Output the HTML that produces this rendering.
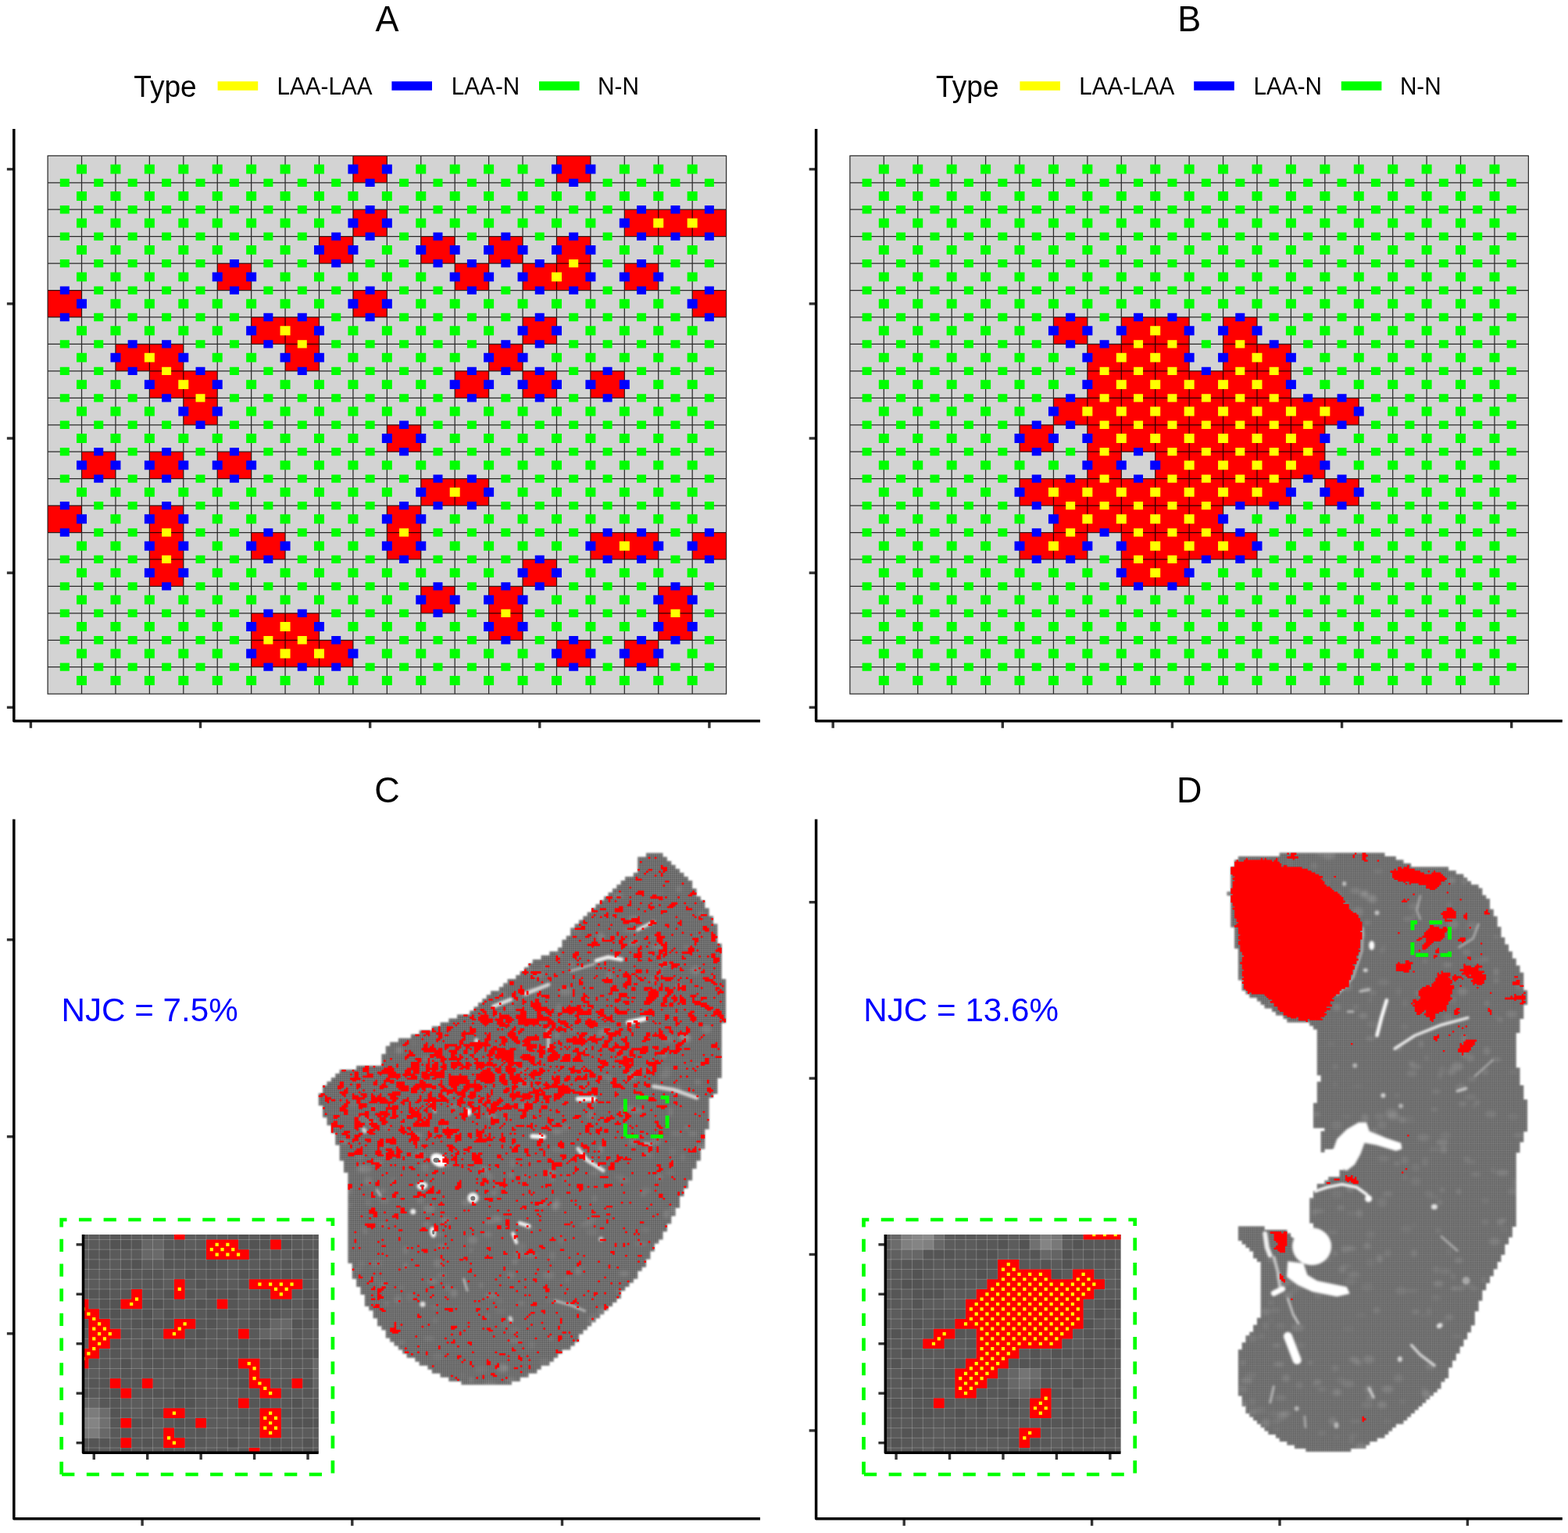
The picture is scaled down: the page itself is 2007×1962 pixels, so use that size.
<!DOCTYPE html>
<html lang="en"><head><meta charset="utf-8"><title>Figure: join counts A-D</title>
<style>html,body{margin:0;padding:0;background:#fff}svg{display:block}text{font-family:'Liberation Sans', sans-serif;fill:#000}</style>
</head><body>
<svg width="2007" height="1962" viewBox="0 0 2007 1962" role="img" aria-label="Join count illustration, panels A to D">
<rect width="2007" height="1962" fill="#fff"/>
<defs>
<filter id="b1" x="-20%" y="-20%" width="140%" height="140%"><feGaussianBlur stdDeviation="1.5"/></filter>
<filter id="b2" x="-20%" y="-20%" width="140%" height="140%"><feGaussianBlur stdDeviation="2.2"/></filter>
<filter id="b3" x="-3%" y="-3%" width="106%" height="106%"><feGaussianBlur stdDeviation="1.1"/></filter>
<filter id="b0" x="-2%" y="-2%" width="104%" height="104%"><feGaussianBlur stdDeviation="0.5"/></filter>
<clipPath id="clipC"><path d="M826.98 1091.8h21.5v3.12h-21.5zM826.98 1094.32h21.5v3.12h-21.5zM816.23 1096.84h37.62v3.12h-37.62zM816.23 1099.36h37.62v3.12h-37.62zM816.23 1101.88h42.99v3.12h-42.99zM816.23 1104.4h42.99v3.12h-42.99zM816.23 1106.92h48.37v3.12h-48.37zM816.23 1109.44h48.37v3.12h-48.37zM816.23 1111.96h53.74v3.12h-53.74zM816.23 1114.48h53.74v3.12h-53.74zM810.86 1117h64.49v3.12h-64.49zM810.86 1119.52h64.49v3.12h-64.49zM800.11 1122.04h80.61v3.12h-80.61zM800.11 1124.56h80.61v3.12h-80.61zM794.74 1127.09h91.36v3.12h-91.36zM794.74 1129.61h91.36v3.12h-91.36zM789.36 1132.13h96.73v3.12h-96.73zM789.36 1134.65h96.73v3.12h-96.73zM783.99 1137.17h107.48v3.12h-107.48zM783.99 1139.69h107.48v3.12h-107.48zM778.61 1142.21h112.85v3.12h-112.85zM778.61 1144.73h112.85v3.12h-112.85zM773.24 1147.25h123.6v3.12h-123.6zM773.24 1149.77h123.6v3.12h-123.6zM767.87 1152.29h134.35v3.12h-134.35zM767.87 1154.81h134.35v3.12h-134.35zM762.49 1157.33h139.72v3.12h-139.72zM762.49 1159.85h139.72v3.12h-139.72zM757.12 1162.37h150.47v3.12h-150.47zM757.12 1164.89h150.47v3.12h-150.47zM751.74 1167.41h155.85v3.12h-155.85zM751.74 1169.93h155.85v3.12h-155.85zM746.37 1172.45h166.59v3.12h-166.59zM746.37 1174.97h166.59v3.12h-166.59zM741 1177.5h171.97v3.12h-171.97zM741 1180.02h171.97v3.12h-171.97zM735.62 1182.54h182.72v3.12h-182.72zM735.62 1185.06h182.72v3.12h-182.72zM730.25 1187.58h188.09v3.12h-188.09zM730.25 1190.1h188.09v3.12h-188.09zM730.25 1192.62h188.09v3.12h-188.09zM730.25 1195.14h188.09v3.12h-188.09zM724.87 1197.66h193.46v3.12h-193.46zM724.87 1200.18h193.46v3.12h-193.46zM719.5 1202.7h198.84v3.12h-198.84zM719.5 1205.22h198.84v3.12h-198.84zM719.5 1207.74h204.21v3.12h-204.21zM719.5 1210.26h204.21v3.12h-204.21zM714.13 1212.78h209.59v3.12h-209.59zM714.13 1215.3h209.59v3.12h-209.59zM703.38 1217.82h220.33v3.12h-220.33zM703.38 1220.34h220.33v3.12h-220.33zM692.63 1222.86h231.08v3.12h-231.08zM692.63 1225.38h231.08v3.12h-231.08zM681.88 1227.9h241.83v3.12h-241.83zM681.88 1230.43h241.83v3.12h-241.83zM676.51 1232.95h247.2v3.12h-247.2zM676.51 1235.47h247.2v3.12h-247.2zM671.13 1237.99h252.58v3.12h-252.58zM671.13 1240.51h252.58v3.12h-252.58zM665.76 1243.03h257.95v3.12h-257.95zM665.76 1245.55h257.95v3.12h-257.95zM660.39 1248.07h263.33v3.12h-263.33zM660.39 1250.59h263.33v3.12h-263.33zM649.64 1253.11h279.45v3.12h-279.45zM649.64 1255.63h279.45v3.12h-279.45zM644.26 1258.15h284.82v3.12h-284.82zM644.26 1260.67h284.82v3.12h-284.82zM638.89 1263.19h290.2v3.12h-290.2zM638.89 1265.71h290.2v3.12h-290.2zM628.14 1268.23h300.94v3.12h-300.94zM628.14 1270.75h300.94v3.12h-300.94zM622.77 1273.27h306.32v3.12h-306.32zM622.77 1275.79h306.32v3.12h-306.32zM617.39 1278.32h311.69v3.12h-311.69zM617.39 1280.84h311.69v3.12h-311.69zM612.02 1283.36h317.07v3.12h-317.07zM612.02 1285.88h317.07v3.12h-317.07zM606.65 1288.4h322.44v3.12h-322.44zM606.65 1290.92h322.44v3.12h-322.44zM601.27 1293.44h327.81v3.12h-327.81zM601.27 1295.96h327.81v3.12h-327.81zM585.15 1298.48h343.94v3.12h-343.94zM585.15 1301h343.94v3.12h-343.94zM574.4 1303.52h354.68v3.12h-354.68zM574.4 1306.04h354.68v3.12h-354.68zM563.65 1308.56h360.06v3.12h-360.06zM563.65 1311.08h360.06v3.12h-360.06zM552.91 1313.6h370.81v3.12h-370.81zM552.91 1316.12h370.81v3.12h-370.81zM536.78 1318.64h386.93v3.12h-386.93zM536.78 1321.16h386.93v3.12h-386.93zM526.04 1323.68h397.68v3.12h-397.68zM526.04 1326.2h397.68v3.12h-397.68zM509.91 1328.73h413.8v3.12h-413.8zM509.91 1331.25h413.8v3.12h-413.8zM499.17 1333.77h424.55v3.12h-424.55zM499.17 1336.29h424.55v3.12h-424.55zM493.79 1338.81h429.92v3.12h-429.92zM493.79 1341.33h429.92v3.12h-429.92zM493.79 1343.85h429.92v3.12h-429.92zM493.79 1346.37h429.92v3.12h-429.92zM488.42 1348.89h435.29v3.12h-435.29zM488.42 1351.41h435.29v3.12h-435.29zM488.42 1353.93h435.29v3.12h-435.29zM488.42 1356.45h435.29v3.12h-435.29zM488.42 1358.97h435.29v3.12h-435.29zM488.42 1361.49h435.29v3.12h-435.29zM456.17 1364.01h467.54v3.12h-467.54zM456.17 1366.53h467.54v3.12h-467.54zM434.68 1369.05h489.03v3.12h-489.03zM434.68 1371.57h489.03v3.12h-489.03zM429.3 1374.09h494.41v3.12h-494.41zM429.3 1376.61h494.41v3.12h-494.41zM423.93 1379.13h494.41v3.12h-494.41zM423.93 1381.66h494.41v3.12h-494.41zM418.56 1384.18h499.78v3.12h-499.78zM418.56 1386.7h499.78v3.12h-499.78zM413.18 1389.22h505.16v3.12h-505.16zM413.18 1391.74h505.16v3.12h-505.16zM413.18 1394.26h505.16v3.12h-505.16zM413.18 1396.78h505.16v3.12h-505.16zM407.81 1399.3h505.16v3.12h-505.16zM407.81 1401.82h505.16v3.12h-505.16zM407.81 1404.34h499.78v3.12h-499.78zM407.81 1406.86h499.78v3.12h-499.78zM407.81 1409.38h499.78v3.12h-499.78zM407.81 1411.9h499.78v3.12h-499.78zM413.18 1414.42h494.41v3.12h-494.41zM413.18 1416.94h494.41v3.12h-494.41zM413.18 1419.46h494.41v3.12h-494.41zM413.18 1421.98h494.41v3.12h-494.41zM413.18 1424.5h494.41v3.12h-494.41zM413.18 1427.02h494.41v3.12h-494.41zM418.56 1429.55h489.03v3.12h-489.03zM418.56 1432.07h489.03v3.12h-489.03zM418.56 1434.59h489.03v3.12h-489.03zM418.56 1437.11h489.03v3.12h-489.03zM423.93 1439.63h483.66v3.12h-483.66zM423.93 1442.15h483.66v3.12h-483.66zM423.93 1444.67h478.29v3.12h-478.29zM423.93 1447.19h478.29v3.12h-478.29zM429.3 1449.71h472.91v3.12h-472.91zM429.3 1452.23h472.91v3.12h-472.91zM429.3 1454.75h472.91v3.12h-472.91zM429.3 1457.27h472.91v3.12h-472.91zM429.3 1459.79h472.91v3.12h-472.91zM429.3 1462.31h472.91v3.12h-472.91zM434.68 1464.83h467.54v3.12h-467.54zM434.68 1467.35h467.54v3.12h-467.54zM434.68 1469.87h462.16v3.12h-462.16zM434.68 1472.39h462.16v3.12h-462.16zM434.68 1474.91h462.16v3.12h-462.16zM434.68 1477.43h462.16v3.12h-462.16zM434.68 1479.95h462.16v3.12h-462.16zM434.68 1482.48h462.16v3.12h-462.16zM440.05 1485h451.42v3.12h-451.42zM440.05 1487.52h451.42v3.12h-451.42zM440.05 1490.04h451.42v3.12h-451.42zM440.05 1492.56h451.42v3.12h-451.42zM440.05 1495.08h446.04v3.12h-446.04zM440.05 1497.6h446.04v3.12h-446.04zM445.43 1500.12h440.67v3.12h-440.67zM445.43 1502.64h440.67v3.12h-440.67zM445.43 1505.16h440.67v3.12h-440.67zM445.43 1507.68h440.67v3.12h-440.67zM445.43 1510.2h435.29v3.12h-435.29zM445.43 1512.72h435.29v3.12h-435.29zM445.43 1515.24h435.29v3.12h-435.29zM445.43 1517.76h435.29v3.12h-435.29zM445.43 1520.28h429.92v3.12h-429.92zM445.43 1522.8h429.92v3.12h-429.92zM445.43 1525.32h429.92v3.12h-429.92zM445.43 1527.84h429.92v3.12h-429.92zM445.43 1530.37h424.55v3.12h-424.55zM445.43 1532.89h424.55v3.12h-424.55zM445.43 1535.41h424.55v3.12h-424.55zM445.43 1537.93h424.55v3.12h-424.55zM445.43 1540.45h424.55v3.12h-424.55zM445.43 1542.97h424.55v3.12h-424.55zM445.43 1545.49h419.17v3.12h-419.17zM445.43 1548.01h419.17v3.12h-419.17zM445.43 1550.53h419.17v3.12h-419.17zM445.43 1553.05h419.17v3.12h-419.17zM445.43 1555.57h413.8v3.12h-413.8zM445.43 1558.09h413.8v3.12h-413.8zM445.43 1560.61h413.8v3.12h-413.8zM445.43 1563.13h413.8v3.12h-413.8zM445.43 1565.65h408.42v3.12h-408.42zM445.43 1568.17h408.42v3.12h-408.42zM445.43 1570.69h408.42v3.12h-408.42zM445.43 1573.21h408.42v3.12h-408.42zM445.43 1575.73h403.05v3.12h-403.05zM445.43 1578.25h403.05v3.12h-403.05zM445.43 1580.78h403.05v3.12h-403.05zM445.43 1583.3h403.05v3.12h-403.05zM445.43 1585.82h397.68v3.12h-397.68zM445.43 1588.34h397.68v3.12h-397.68zM445.43 1590.86h392.3v3.12h-392.3zM445.43 1593.38h392.3v3.12h-392.3zM445.43 1595.9h392.3v3.12h-392.3zM445.43 1598.42h392.3v3.12h-392.3zM445.43 1600.94h386.93v3.12h-386.93zM445.43 1603.46h386.93v3.12h-386.93zM445.43 1605.98h386.93v3.12h-386.93zM445.43 1608.5h386.93v3.12h-386.93zM445.43 1611.02h381.55v3.12h-381.55zM445.43 1613.54h381.55v3.12h-381.55zM450.8 1616.06h376.18v3.12h-376.18zM450.8 1618.58h376.18v3.12h-376.18zM450.8 1621.1h370.81v3.12h-370.81zM450.8 1623.62h370.81v3.12h-370.81zM450.8 1626.14h365.43v3.12h-365.43zM450.8 1628.66h365.43v3.12h-365.43zM450.8 1631.18h365.43v3.12h-365.43zM450.8 1633.71h365.43v3.12h-365.43zM456.17 1636.23h354.68v3.12h-354.68zM456.17 1638.75h354.68v3.12h-354.68zM456.17 1641.27h349.31v3.12h-349.31zM456.17 1643.79h349.31v3.12h-349.31zM461.55 1646.31h338.56v3.12h-338.56zM461.55 1648.83h338.56v3.12h-338.56zM461.55 1651.35h333.19v3.12h-333.19zM461.55 1653.87h333.19v3.12h-333.19zM466.92 1656.39h327.81v3.12h-327.81zM466.92 1658.91h327.81v3.12h-327.81zM466.92 1661.43h322.44v3.12h-322.44zM466.92 1663.95h322.44v3.12h-322.44zM466.92 1666.47h317.07v3.12h-317.07zM466.92 1668.99h317.07v3.12h-317.07zM472.3 1671.51h306.32v3.12h-306.32zM472.3 1674.03h306.32v3.12h-306.32zM477.67 1676.55h295.57v3.12h-295.57zM477.67 1679.07h295.57v3.12h-295.57zM477.67 1681.6h290.2v3.12h-290.2zM477.67 1684.12h290.2v3.12h-290.2zM483.04 1686.64h279.45v3.12h-279.45zM483.04 1689.16h279.45v3.12h-279.45zM483.04 1691.68h274.07v3.12h-274.07zM483.04 1694.2h274.07v3.12h-274.07zM488.42 1696.72h263.33v3.12h-263.33zM488.42 1699.24h263.33v3.12h-263.33zM493.79 1701.76h252.58v3.12h-252.58zM493.79 1704.28h252.58v3.12h-252.58zM493.79 1706.8h247.2v3.12h-247.2zM493.79 1709.32h247.2v3.12h-247.2zM499.17 1711.84h241.83v3.12h-241.83zM499.17 1714.36h241.83v3.12h-241.83zM504.54 1716.88h231.08v3.12h-231.08zM504.54 1719.4h231.08v3.12h-231.08zM509.91 1721.92h220.33v3.12h-220.33zM509.91 1724.44h220.33v3.12h-220.33zM515.29 1726.96h204.21v3.12h-204.21zM515.29 1729.48h204.21v3.12h-204.21zM520.66 1732.01h193.46v3.12h-193.46zM520.66 1734.53h193.46v3.12h-193.46zM531.41 1737.05h177.34v3.12h-177.34zM531.41 1739.57h177.34v3.12h-177.34zM536.78 1742.09h166.59v3.12h-166.59zM536.78 1744.61h166.59v3.12h-166.59zM547.53 1747.13h145.1v3.12h-145.1zM547.53 1749.65h145.1v3.12h-145.1zM552.91 1752.17h134.35v3.12h-134.35zM552.91 1754.69h134.35v3.12h-134.35zM563.65 1757.21h112.85v3.12h-112.85zM563.65 1759.73h112.85v3.12h-112.85zM574.4 1762.25h91.36v3.12h-91.36zM574.4 1764.77h91.36v3.12h-91.36zM590.52 1767.29h64.49v3.12h-64.49zM590.52 1769.81h64.49v2.52h-64.49z"/></clipPath>
<clipPath id="clipD"><path d="M1637.8 1091.59h134.57v2.85h-134.57zM1637.8 1093.84h134.57v2.85h-134.57zM1584.93 1096.1h201.85v2.85h-201.85zM1584.93 1098.35h201.85v2.85h-201.85zM1580.13 1100.6h216.27v2.85h-216.27zM1580.13 1102.86h216.27v2.85h-216.27zM1580.13 1105.11h225.88v2.85h-225.88zM1580.13 1107.37h225.88v2.85h-225.88zM1575.32 1109.62h278.75v2.85h-278.75zM1575.32 1111.87h278.75v2.85h-278.75zM1575.32 1114.13h288.36v2.85h-288.36zM1575.32 1116.38h288.36v2.85h-288.36zM1575.32 1118.64h297.97v2.85h-297.97zM1575.32 1120.89h297.97v2.85h-297.97zM1575.32 1123.14h302.78v2.85h-302.78zM1575.32 1125.4h302.78v2.85h-302.78zM1575.32 1127.65h307.58v2.85h-307.58zM1575.32 1129.91h307.58v2.85h-307.58zM1575.32 1132.16h317.2v2.85h-317.2zM1575.32 1134.41h317.2v2.85h-317.2zM1575.32 1136.67h322v2.85h-322zM1575.32 1138.92h322v2.85h-322zM1570.52 1141.18h326.81v2.85h-326.81zM1570.52 1143.43h326.81v2.85h-326.81zM1575.32 1145.68h326.81v2.85h-326.81zM1575.32 1147.94h326.81v2.85h-326.81zM1575.32 1150.19h331.61v2.85h-331.61zM1575.32 1152.45h331.61v2.85h-331.61zM1575.32 1154.7h331.61v2.85h-331.61zM1575.32 1156.95h331.61v2.85h-331.61zM1575.32 1159.21h331.61v2.85h-331.61zM1575.32 1161.46h331.61v2.85h-331.61zM1575.32 1163.72h336.42v2.85h-336.42zM1575.32 1165.97h336.42v2.85h-336.42zM1575.32 1168.22h336.42v2.85h-336.42zM1575.32 1170.48h336.42v2.85h-336.42zM1575.32 1172.73h341.23v2.85h-341.23zM1575.32 1174.99h341.23v2.85h-341.23zM1575.32 1177.24h341.23v2.85h-341.23zM1575.32 1179.49h341.23v2.85h-341.23zM1575.32 1181.75h341.23v2.85h-341.23zM1575.32 1184h341.23v2.85h-341.23zM1580.13 1186.26h341.23v2.85h-341.23zM1580.13 1188.51h341.23v2.85h-341.23zM1580.13 1190.76h341.23v2.85h-341.23zM1580.13 1193.02h341.23v2.85h-341.23zM1580.13 1195.27h341.23v2.85h-341.23zM1580.13 1197.53h341.23v2.85h-341.23zM1580.13 1199.78h346.03v2.85h-346.03zM1580.13 1202.03h346.03v2.85h-346.03zM1580.13 1204.29h346.03v2.85h-346.03zM1580.13 1206.54h346.03v2.85h-346.03zM1580.13 1208.8h350.84v2.85h-350.84zM1580.13 1211.05h350.84v2.85h-350.84zM1584.93 1213.3h346.03v2.85h-346.03zM1584.93 1215.56h346.03v2.85h-346.03zM1584.93 1217.81h350.84v2.85h-350.84zM1584.93 1220.07h350.84v2.85h-350.84zM1584.93 1222.32h350.84v2.85h-350.84zM1584.93 1224.57h350.84v2.85h-350.84zM1584.93 1226.83h355.64v2.85h-355.64zM1584.93 1229.08h355.64v2.85h-355.64zM1584.93 1231.34h355.64v2.85h-355.64zM1584.93 1233.59h355.64v2.85h-355.64zM1584.93 1235.84h360.45v2.85h-360.45zM1584.93 1238.1h360.45v2.85h-360.45zM1584.93 1240.35h360.45v2.85h-360.45zM1584.93 1242.61h360.45v2.85h-360.45zM1584.93 1244.86h365.26v2.85h-365.26zM1584.93 1247.11h365.26v2.85h-365.26zM1584.93 1249.37h365.26v2.85h-365.26zM1584.93 1251.62h365.26v2.85h-365.26zM1589.74 1253.88h360.45v2.85h-360.45zM1589.74 1256.13h360.45v2.85h-360.45zM1589.74 1258.38h360.45v2.85h-360.45zM1589.74 1260.64h360.45v2.85h-360.45zM1589.74 1262.89h360.45v2.85h-360.45zM1589.74 1265.15h360.45v2.85h-360.45zM1594.55 1267.4h360.45v2.85h-360.45zM1594.55 1269.65h360.45v2.85h-360.45zM1599.35 1271.91h355.64v2.85h-355.64zM1599.35 1274.16h355.64v2.85h-355.64zM1608.96 1276.42h346.03v2.85h-346.03zM1608.96 1278.67h346.03v2.85h-346.03zM1613.77 1280.92h341.23v2.85h-341.23zM1613.77 1283.18h341.23v2.85h-341.23zM1618.58 1285.43h331.61v2.85h-331.61zM1618.58 1287.69h331.61v2.85h-331.61zM1628.19 1289.94h322v2.85h-322zM1628.19 1292.19h322v2.85h-322zM1632.99 1294.45h317.2v2.85h-317.2zM1632.99 1296.7h317.2v2.85h-317.2zM1642.61 1298.96h307.58v2.85h-307.58zM1642.61 1301.21h307.58v2.85h-307.58zM1647.41 1303.46h297.97v2.85h-297.97zM1647.41 1305.72h297.97v2.85h-297.97zM1676.25 1307.97h269.14v2.85h-269.14zM1676.25 1310.23h269.14v2.85h-269.14zM1681.05 1312.48h264.33v2.85h-264.33zM1681.05 1314.73h264.33v2.85h-264.33zM1685.86 1316.99h259.52v2.85h-259.52zM1685.86 1319.24h259.52v2.85h-259.52zM1685.86 1321.5h254.72v2.85h-254.72zM1685.86 1323.75h254.72v2.85h-254.72zM1685.86 1326h254.72v2.85h-254.72zM1685.86 1328.26h254.72v2.85h-254.72zM1685.86 1330.51h254.72v2.85h-254.72zM1685.86 1332.77h254.72v2.85h-254.72zM1685.86 1335.02h254.72v2.85h-254.72zM1685.86 1337.27h254.72v2.85h-254.72zM1685.86 1339.53h254.72v2.85h-254.72zM1685.86 1341.78h254.72v2.85h-254.72zM1685.86 1344.04h254.72v2.85h-254.72zM1685.86 1346.29h254.72v2.85h-254.72zM1685.86 1348.54h254.72v2.85h-254.72zM1685.86 1350.8h254.72v2.85h-254.72zM1685.86 1353.05h254.72v2.85h-254.72zM1685.86 1355.31h254.72v2.85h-254.72zM1685.86 1357.56h254.72v2.85h-254.72zM1685.86 1359.81h254.72v2.85h-254.72zM1685.86 1362.07h254.72v2.85h-254.72zM1685.86 1364.32h254.72v2.85h-254.72zM1685.86 1366.58h259.52v2.85h-259.52zM1685.86 1368.83h259.52v2.85h-259.52zM1685.86 1371.08h259.52v2.85h-259.52zM1685.86 1373.34h259.52v2.85h-259.52zM1690.67 1375.59h254.72v2.85h-254.72zM1690.67 1377.85h254.72v2.85h-254.72zM1690.67 1380.1h254.72v2.85h-254.72zM1690.67 1382.35h254.72v2.85h-254.72zM1685.86 1384.61h259.52v2.85h-259.52zM1685.86 1386.86h259.52v2.85h-259.52zM1685.86 1389.12h264.33v2.85h-264.33zM1685.86 1391.37h264.33v2.85h-264.33zM1685.86 1393.62h264.33v2.85h-264.33zM1685.86 1395.88h264.33v2.85h-264.33zM1685.86 1398.13h264.33v2.85h-264.33zM1685.86 1400.39h264.33v2.85h-264.33zM1685.86 1402.64h264.33v2.85h-264.33zM1685.86 1404.89h264.33v2.85h-264.33zM1685.86 1407.15h269.14v2.85h-269.14zM1685.86 1409.4h269.14v2.85h-269.14zM1681.05 1411.66h273.94v2.85h-273.94zM1681.05 1413.91h273.94v2.85h-273.94zM1681.05 1416.16h273.94v2.85h-273.94zM1681.05 1418.42h273.94v2.85h-273.94zM1681.05 1420.67h273.94v2.85h-273.94zM1681.05 1422.93h273.94v2.85h-273.94zM1681.05 1425.18h273.94v2.85h-273.94zM1681.05 1427.43h273.94v2.85h-273.94zM1681.05 1429.69h273.94v2.85h-273.94zM1681.05 1431.94h273.94v2.85h-273.94zM1681.05 1434.2h273.94v2.85h-273.94zM1681.05 1436.45h273.94v2.85h-273.94zM1681.05 1438.7h273.94v2.85h-273.94zM1681.05 1440.96h273.94v2.85h-273.94zM1695.47 1443.21h259.52v2.85h-259.52zM1695.47 1445.47h259.52v2.85h-259.52zM1690.67 1447.72h259.52v2.85h-259.52zM1690.67 1449.97h259.52v2.85h-259.52zM1690.67 1452.23h259.52v2.85h-259.52zM1690.67 1454.48h259.52v2.85h-259.52zM1690.67 1456.74h259.52v2.85h-259.52zM1690.67 1458.99h259.52v2.85h-259.52zM1690.67 1461.24h254.72v2.85h-254.72zM1690.67 1463.5h254.72v2.85h-254.72zM1690.67 1465.75h254.72v2.85h-254.72zM1690.67 1468.01h254.72v2.85h-254.72zM1690.67 1470.26h4.81v2.85h-4.81zM1719.5 1470.26h225.88v2.85h-225.88zM1690.67 1472.51h4.81v2.25h-4.81zM1719.5 1472.51h225.88v2.85h-225.88zM1724.31 1474.77h216.27v2.85h-216.27zM1724.31 1477.02h216.27v2.85h-216.27zM1724.31 1479.28h216.27v2.85h-216.27zM1724.31 1481.53h216.27v2.85h-216.27zM1724.31 1483.78h216.27v2.85h-216.27zM1724.31 1486.04h216.27v2.85h-216.27zM1724.31 1488.29h216.27v2.85h-216.27zM1724.31 1490.55h216.27v2.85h-216.27zM1719.5 1492.8h221.08v2.85h-221.08zM1719.5 1495.05h221.08v2.85h-221.08zM1714.7 1497.31h225.88v2.85h-225.88zM1714.7 1499.56h225.88v2.85h-225.88zM1714.7 1501.82h225.88v2.85h-225.88zM1714.7 1504.07h225.88v2.85h-225.88zM1700.28 1506.32h240.3v2.85h-240.3zM1700.28 1508.58h240.3v2.85h-240.3zM1695.47 1510.83h245.11v2.85h-245.11zM1695.47 1513.09h245.11v2.85h-245.11zM1685.86 1515.34h254.72v2.85h-254.72zM1685.86 1517.59h254.72v2.85h-254.72zM1685.86 1519.85h254.72v2.85h-254.72zM1685.86 1522.1h254.72v2.85h-254.72zM1681.05 1524.36h259.52v2.85h-259.52zM1681.05 1526.61h259.52v2.85h-259.52zM1681.05 1528.86h259.52v2.85h-259.52zM1681.05 1531.12h259.52v2.85h-259.52zM1676.25 1533.37h264.33v2.85h-264.33zM1676.25 1535.63h264.33v2.85h-264.33zM1676.25 1537.88h264.33v2.85h-264.33zM1676.25 1540.13h264.33v2.85h-264.33zM1676.25 1542.39h264.33v2.85h-264.33zM1676.25 1544.64h264.33v2.85h-264.33zM1676.25 1546.9h264.33v2.85h-264.33zM1676.25 1549.15h264.33v2.85h-264.33zM1676.25 1551.4h264.33v2.85h-264.33zM1676.25 1553.66h264.33v2.85h-264.33zM1676.25 1555.91h264.33v2.85h-264.33zM1676.25 1558.17h264.33v2.85h-264.33zM1676.25 1560.42h264.33v2.85h-264.33zM1676.25 1562.67h264.33v2.85h-264.33zM1681.05 1564.93h259.52v2.85h-259.52zM1681.05 1567.18h259.52v2.85h-259.52zM1584.93 1569.44h33.64v2.85h-33.64zM1681.05 1569.44h254.72v2.85h-254.72zM1584.93 1571.69h33.64v2.85h-33.64zM1681.05 1571.69h254.72v2.85h-254.72zM1584.93 1573.94h62.48v2.85h-62.48zM1676.25 1573.94h259.52v2.85h-259.52zM1584.93 1576.2h62.48v2.85h-62.48zM1676.25 1576.2h259.52v2.85h-259.52zM1584.93 1578.45h67.28v2.85h-67.28zM1676.25 1578.45h259.52v2.85h-259.52zM1584.93 1580.71h67.28v2.85h-67.28zM1676.25 1580.71h259.52v2.85h-259.52zM1584.93 1582.96h346.03v2.85h-346.03zM1584.93 1585.21h346.03v2.85h-346.03zM1589.74 1587.47h341.23v2.85h-341.23zM1589.74 1589.72h341.23v2.85h-341.23zM1594.55 1591.98h331.61v2.85h-331.61zM1594.55 1594.23h331.61v2.85h-331.61zM1599.35 1596.48h326.81v2.85h-326.81zM1599.35 1598.74h326.81v2.85h-326.81zM1604.16 1600.99h322v2.85h-322zM1604.16 1603.25h322v2.85h-322zM1604.16 1605.5h317.2v2.85h-317.2zM1604.16 1607.75h317.2v2.85h-317.2zM1608.96 1610.01h312.39v2.85h-312.39zM1608.96 1612.26h312.39v2.85h-312.39zM1613.77 1614.52h302.78v2.85h-302.78zM1613.77 1616.77h302.78v2.85h-302.78zM1613.77 1619.02h302.78v2.85h-302.78zM1613.77 1621.28h302.78v2.85h-302.78zM1613.77 1623.53h297.97v2.85h-297.97zM1613.77 1625.79h297.97v2.85h-297.97zM1613.77 1628.04h297.97v2.85h-297.97zM1613.77 1630.29h297.97v2.85h-297.97zM1613.77 1632.55h293.17v2.85h-293.17zM1613.77 1634.8h293.17v2.85h-293.17zM1613.77 1637.06h293.17v2.85h-293.17zM1613.77 1639.31h293.17v2.85h-293.17zM1613.77 1641.56h288.36v2.85h-288.36zM1613.77 1643.82h288.36v2.85h-288.36zM1613.77 1646.07h288.36v2.85h-288.36zM1613.77 1648.33h288.36v2.85h-288.36zM1613.77 1650.58h283.55v2.85h-283.55zM1613.77 1652.83h283.55v2.85h-283.55zM1613.77 1655.09h283.55v2.85h-283.55zM1613.77 1657.34h283.55v2.85h-283.55zM1613.77 1659.6h283.55v2.85h-283.55zM1613.77 1661.85h283.55v2.85h-283.55zM1613.77 1664.1h278.75v2.85h-278.75zM1613.77 1666.36h278.75v2.85h-278.75zM1613.77 1668.61h278.75v2.85h-278.75zM1613.77 1670.87h278.75v2.85h-278.75zM1613.77 1673.12h278.75v2.85h-278.75zM1613.77 1675.37h278.75v2.85h-278.75zM1613.77 1677.63h273.94v2.85h-273.94zM1613.77 1679.88h273.94v2.85h-273.94zM1613.77 1682.14h273.94v2.85h-273.94zM1613.77 1684.39h273.94v2.85h-273.94zM1608.96 1686.64h278.75v2.85h-278.75zM1608.96 1688.9h278.75v2.85h-278.75zM1608.96 1691.15h278.75v2.85h-278.75zM1608.96 1693.41h278.75v2.85h-278.75zM1604.16 1695.66h278.75v2.85h-278.75zM1604.16 1697.91h278.75v2.85h-278.75zM1604.16 1700.17h278.75v2.85h-278.75zM1604.16 1702.42h278.75v2.85h-278.75zM1599.35 1704.68h278.75v2.85h-278.75zM1599.35 1706.93h278.75v2.85h-278.75zM1594.55 1709.18h283.55v2.85h-283.55zM1594.55 1711.44h283.55v2.85h-283.55zM1594.55 1713.69h278.75v2.85h-278.75zM1594.55 1715.95h278.75v2.85h-278.75zM1589.74 1718.2h283.55v2.85h-283.55zM1589.74 1720.45h283.55v2.85h-283.55zM1589.74 1722.71h278.75v2.85h-278.75zM1589.74 1724.96h278.75v2.85h-278.75zM1584.93 1727.22h283.55v2.85h-283.55zM1584.93 1729.47h283.55v2.85h-283.55zM1584.93 1731.72h278.75v2.85h-278.75zM1584.93 1733.98h278.75v2.85h-278.75zM1584.93 1736.23h278.75v2.85h-278.75zM1584.93 1738.49h278.75v2.85h-278.75zM1584.93 1740.74h273.94v2.85h-273.94zM1584.93 1742.99h273.94v2.85h-273.94zM1584.93 1745.25h273.94v2.85h-273.94zM1584.93 1747.5h273.94v2.85h-273.94zM1584.93 1749.76h269.14v2.85h-269.14zM1584.93 1752.01h269.14v2.85h-269.14zM1584.93 1754.26h269.14v2.85h-269.14zM1584.93 1756.52h269.14v2.85h-269.14zM1584.93 1758.77h269.14v2.85h-269.14zM1584.93 1761.03h269.14v2.85h-269.14zM1584.93 1763.28h264.33v2.85h-264.33zM1584.93 1765.53h264.33v2.85h-264.33zM1584.93 1767.79h259.52v2.85h-259.52zM1584.93 1770.04h259.52v2.85h-259.52zM1584.93 1772.3h259.52v2.85h-259.52zM1584.93 1774.55h259.52v2.85h-259.52zM1584.93 1776.8h254.72v2.85h-254.72zM1584.93 1779.06h254.72v2.85h-254.72zM1584.93 1781.31h249.91v2.85h-249.91zM1584.93 1783.57h249.91v2.85h-249.91zM1589.74 1785.82h240.3v2.85h-240.3zM1589.74 1788.07h240.3v2.85h-240.3zM1589.74 1790.33h235.49v2.85h-235.49zM1589.74 1792.58h235.49v2.85h-235.49zM1589.74 1794.84h230.69v2.85h-230.69zM1589.74 1797.09h230.69v2.85h-230.69zM1594.55 1799.34h221.08v2.85h-221.08zM1594.55 1801.6h221.08v2.85h-221.08zM1594.55 1803.85h216.27v2.85h-216.27zM1594.55 1806.11h216.27v2.85h-216.27zM1599.35 1808.36h206.66v2.85h-206.66zM1599.35 1810.61h206.66v2.85h-206.66zM1604.16 1812.87h197.05v2.85h-197.05zM1604.16 1815.12h197.05v2.85h-197.05zM1608.96 1817.38h187.43v2.85h-187.43zM1608.96 1819.63h187.43v2.85h-187.43zM1613.77 1821.88h173.02v2.85h-173.02zM1613.77 1824.14h173.02v2.85h-173.02zM1618.58 1826.39h163.4v2.85h-163.4zM1618.58 1828.65h163.4v2.85h-163.4zM1623.38 1830.9h153.79v2.85h-153.79zM1623.38 1833.15h153.79v2.85h-153.79zM1632.99 1835.41h139.37v2.85h-139.37zM1632.99 1837.66h139.37v2.85h-139.37zM1637.8 1839.92h124.96v2.85h-124.96zM1637.8 1842.17h124.96v2.85h-124.96zM1647.41 1844.42h105.73v2.85h-105.73zM1647.41 1846.68h105.73v2.85h-105.73zM1657.02 1848.93h91.31v2.85h-91.31zM1657.02 1851.19h91.31v2.85h-91.31zM1671.44 1853.44h57.67v2.85h-57.67zM1671.44 1855.69h57.67v2.25h-57.67z"/></clipPath>
</defs>
<g id="panelA"><rect x="61.1" y="199.35" width="868.5" height="688.8" fill="#d3d3d3"/>
<path d="M451.93 199.35h43.42v34.44h-43.42zM712.48 199.35h43.42v34.44h-43.42zM451.93 268.23h43.42v34.44h-43.42zM799.32 268.23h130.27v34.44h-130.27zM408.5 302.67h43.42v34.44h-43.42zM538.77 302.67h43.42v34.44h-43.42zM625.62 302.67h43.42v34.44h-43.42zM712.48 302.67h43.42v34.44h-43.42zM278.23 337.11h43.42v34.44h-43.42zM582.2 337.11h43.42v34.44h-43.42zM669.05 337.11h86.85v34.44h-86.85zM799.32 337.11h43.42v34.44h-43.42zM61.1 371.55h43.42v34.44h-43.42zM451.93 371.55h43.42v34.44h-43.42zM886.17 371.55h43.42v34.44h-43.42zM321.65 405.99h86.85v34.44h-86.85zM669.05 405.99h43.42v34.44h-43.42zM147.95 440.43h86.85v34.44h-86.85zM365.07 440.43h43.42v34.44h-43.42zM625.62 440.43h43.42v34.44h-43.42zM191.37 474.87h86.85v34.44h-86.85zM582.2 474.87h43.42v34.44h-43.42zM669.05 474.87h43.42v34.44h-43.42zM755.9 474.87h43.42v34.44h-43.42zM234.8 509.31h43.42v34.44h-43.42zM495.35 543.75h43.42v34.44h-43.42zM104.53 578.19h43.42v34.44h-43.42zM191.37 578.19h43.42v34.44h-43.42zM278.23 578.19h43.42v34.44h-43.42zM538.77 612.63h86.85v34.44h-86.85zM61.1 647.07h43.42v34.44h-43.42zM191.37 647.07h43.42v34.44h-43.42zM495.35 647.07h43.42v34.44h-43.42zM191.37 681.51h43.42v34.44h-43.42zM321.65 681.51h43.42v34.44h-43.42zM495.35 681.51h43.42v34.44h-43.42zM755.9 681.51h86.85v34.44h-86.85zM886.17 681.51h43.42v34.44h-43.42zM191.37 715.95h43.42v34.44h-43.42zM669.05 715.95h43.42v34.44h-43.42zM538.77 750.39h43.42v34.44h-43.42zM625.62 750.39h43.42v34.44h-43.42zM842.75 750.39h43.42v34.44h-43.42zM321.65 784.83h86.85v34.44h-86.85zM625.62 784.83h43.42v34.44h-43.42zM842.75 784.83h43.42v34.44h-43.42zM321.65 819.27h130.27v34.44h-130.27zM712.48 819.27h43.42v34.44h-43.42zM799.32 819.27h43.42v34.44h-43.42z" fill="#ff0000"/>
<path d="M61.1 199.35V888.15M61.1 199.35H929.6M104.53 199.35V888.15M61.1 233.79H929.6M147.95 199.35V888.15M61.1 268.23H929.6M191.37 199.35V888.15M61.1 302.67H929.6M234.8 199.35V888.15M61.1 337.11H929.6M278.23 199.35V888.15M61.1 371.55H929.6M321.65 199.35V888.15M61.1 405.99H929.6M365.07 199.35V888.15M61.1 440.43H929.6M408.5 199.35V888.15M61.1 474.87H929.6M451.93 199.35V888.15M61.1 509.31H929.6M495.35 199.35V888.15M61.1 543.75H929.6M538.77 199.35V888.15M61.1 578.19H929.6M582.2 199.35V888.15M61.1 612.63H929.6M625.62 199.35V888.15M61.1 647.07H929.6M669.05 199.35V888.15M61.1 681.51H929.6M712.48 199.35V888.15M61.1 715.95H929.6M755.9 199.35V888.15M61.1 750.39H929.6M799.32 199.35V888.15M61.1 784.83H929.6M842.75 199.35V888.15M61.1 819.27H929.6M886.17 199.35V888.15M61.1 853.71H929.6M929.6 199.35V888.15M61.1 888.15H929.6" fill="none" stroke="#000" stroke-opacity="0.8" stroke-width="1.25" stroke-linecap="square"/>
<path d="M98.03 210.62h13v11.9h-13zM141.45 210.62h13v11.9h-13zM184.87 210.62h13v11.9h-13zM228.3 210.62h13v11.9h-13zM271.73 210.62h13v11.9h-13zM315.15 210.62h13v11.9h-13zM358.57 210.62h13v11.9h-13zM402 210.62h13v11.9h-13zM532.27 210.62h13v11.9h-13zM575.7 210.62h13v11.9h-13zM619.12 210.62h13v11.9h-13zM662.55 210.62h13v11.9h-13zM792.82 210.62h13v11.9h-13zM836.25 210.62h13v11.9h-13zM879.67 210.62h13v11.9h-13zM98.03 245.06h13v11.9h-13zM141.45 245.06h13v11.9h-13zM184.87 245.06h13v11.9h-13zM228.3 245.06h13v11.9h-13zM271.73 245.06h13v11.9h-13zM315.15 245.06h13v11.9h-13zM358.57 245.06h13v11.9h-13zM402 245.06h13v11.9h-13zM445.43 245.06h13v11.9h-13zM488.85 245.06h13v11.9h-13zM532.27 245.06h13v11.9h-13zM575.7 245.06h13v11.9h-13zM619.12 245.06h13v11.9h-13zM662.55 245.06h13v11.9h-13zM705.98 245.06h13v11.9h-13zM749.4 245.06h13v11.9h-13zM792.82 245.06h13v11.9h-13zM836.25 245.06h13v11.9h-13zM879.67 245.06h13v11.9h-13zM98.03 279.5h13v11.9h-13zM141.45 279.5h13v11.9h-13zM184.87 279.5h13v11.9h-13zM228.3 279.5h13v11.9h-13zM271.73 279.5h13v11.9h-13zM315.15 279.5h13v11.9h-13zM358.57 279.5h13v11.9h-13zM402 279.5h13v11.9h-13zM532.27 279.5h13v11.9h-13zM575.7 279.5h13v11.9h-13zM619.12 279.5h13v11.9h-13zM662.55 279.5h13v11.9h-13zM705.98 279.5h13v11.9h-13zM749.4 279.5h13v11.9h-13zM98.03 313.94h13v11.9h-13zM141.45 313.94h13v11.9h-13zM184.87 313.94h13v11.9h-13zM228.3 313.94h13v11.9h-13zM271.73 313.94h13v11.9h-13zM315.15 313.94h13v11.9h-13zM358.57 313.94h13v11.9h-13zM488.85 313.94h13v11.9h-13zM792.82 313.94h13v11.9h-13zM836.25 313.94h13v11.9h-13zM879.67 313.94h13v11.9h-13zM98.03 348.38h13v11.9h-13zM141.45 348.38h13v11.9h-13zM184.87 348.38h13v11.9h-13zM228.3 348.38h13v11.9h-13zM358.57 348.38h13v11.9h-13zM402 348.38h13v11.9h-13zM445.43 348.38h13v11.9h-13zM488.85 348.38h13v11.9h-13zM532.27 348.38h13v11.9h-13zM879.67 348.38h13v11.9h-13zM141.45 382.82h13v11.9h-13zM184.87 382.82h13v11.9h-13zM228.3 382.82h13v11.9h-13zM271.73 382.82h13v11.9h-13zM315.15 382.82h13v11.9h-13zM358.57 382.82h13v11.9h-13zM402 382.82h13v11.9h-13zM532.27 382.82h13v11.9h-13zM575.7 382.82h13v11.9h-13zM619.12 382.82h13v11.9h-13zM662.55 382.82h13v11.9h-13zM705.98 382.82h13v11.9h-13zM749.4 382.82h13v11.9h-13zM792.82 382.82h13v11.9h-13zM836.25 382.82h13v11.9h-13zM98.03 417.26h13v11.9h-13zM141.45 417.26h13v11.9h-13zM184.87 417.26h13v11.9h-13zM228.3 417.26h13v11.9h-13zM271.73 417.26h13v11.9h-13zM445.43 417.26h13v11.9h-13zM488.85 417.26h13v11.9h-13zM532.27 417.26h13v11.9h-13zM575.7 417.26h13v11.9h-13zM619.12 417.26h13v11.9h-13zM749.4 417.26h13v11.9h-13zM792.82 417.26h13v11.9h-13zM836.25 417.26h13v11.9h-13zM879.67 417.26h13v11.9h-13zM98.03 451.7h13v11.9h-13zM271.73 451.7h13v11.9h-13zM315.15 451.7h13v11.9h-13zM445.43 451.7h13v11.9h-13zM488.85 451.7h13v11.9h-13zM532.27 451.7h13v11.9h-13zM575.7 451.7h13v11.9h-13zM705.98 451.7h13v11.9h-13zM749.4 451.7h13v11.9h-13zM792.82 451.7h13v11.9h-13zM836.25 451.7h13v11.9h-13zM879.67 451.7h13v11.9h-13zM98.03 486.14h13v11.9h-13zM141.45 486.14h13v11.9h-13zM315.15 486.14h13v11.9h-13zM358.57 486.14h13v11.9h-13zM402 486.14h13v11.9h-13zM445.43 486.14h13v11.9h-13zM488.85 486.14h13v11.9h-13zM532.27 486.14h13v11.9h-13zM836.25 486.14h13v11.9h-13zM879.67 486.14h13v11.9h-13zM98.03 520.58h13v11.9h-13zM141.45 520.58h13v11.9h-13zM184.87 520.58h13v11.9h-13zM315.15 520.58h13v11.9h-13zM358.57 520.58h13v11.9h-13zM402 520.58h13v11.9h-13zM445.43 520.58h13v11.9h-13zM488.85 520.58h13v11.9h-13zM532.27 520.58h13v11.9h-13zM575.7 520.58h13v11.9h-13zM619.12 520.58h13v11.9h-13zM662.55 520.58h13v11.9h-13zM705.98 520.58h13v11.9h-13zM749.4 520.58h13v11.9h-13zM792.82 520.58h13v11.9h-13zM836.25 520.58h13v11.9h-13zM879.67 520.58h13v11.9h-13zM98.03 555.02h13v11.9h-13zM141.45 555.02h13v11.9h-13zM184.87 555.02h13v11.9h-13zM228.3 555.02h13v11.9h-13zM271.73 555.02h13v11.9h-13zM315.15 555.02h13v11.9h-13zM358.57 555.02h13v11.9h-13zM402 555.02h13v11.9h-13zM445.43 555.02h13v11.9h-13zM575.7 555.02h13v11.9h-13zM619.12 555.02h13v11.9h-13zM662.55 555.02h13v11.9h-13zM705.98 555.02h13v11.9h-13zM749.4 555.02h13v11.9h-13zM792.82 555.02h13v11.9h-13zM836.25 555.02h13v11.9h-13zM879.67 555.02h13v11.9h-13zM358.57 589.46h13v11.9h-13zM402 589.46h13v11.9h-13zM445.43 589.46h13v11.9h-13zM488.85 589.46h13v11.9h-13zM532.27 589.46h13v11.9h-13zM575.7 589.46h13v11.9h-13zM619.12 589.46h13v11.9h-13zM662.55 589.46h13v11.9h-13zM705.98 589.46h13v11.9h-13zM749.4 589.46h13v11.9h-13zM792.82 589.46h13v11.9h-13zM836.25 589.46h13v11.9h-13zM879.67 589.46h13v11.9h-13zM98.03 623.9h13v11.9h-13zM141.45 623.9h13v11.9h-13zM184.87 623.9h13v11.9h-13zM228.3 623.9h13v11.9h-13zM271.73 623.9h13v11.9h-13zM315.15 623.9h13v11.9h-13zM358.57 623.9h13v11.9h-13zM402 623.9h13v11.9h-13zM445.43 623.9h13v11.9h-13zM488.85 623.9h13v11.9h-13zM662.55 623.9h13v11.9h-13zM705.98 623.9h13v11.9h-13zM749.4 623.9h13v11.9h-13zM792.82 623.9h13v11.9h-13zM836.25 623.9h13v11.9h-13zM879.67 623.9h13v11.9h-13zM141.45 658.34h13v11.9h-13zM271.73 658.34h13v11.9h-13zM315.15 658.34h13v11.9h-13zM358.57 658.34h13v11.9h-13zM402 658.34h13v11.9h-13zM445.43 658.34h13v11.9h-13zM575.7 658.34h13v11.9h-13zM619.12 658.34h13v11.9h-13zM662.55 658.34h13v11.9h-13zM705.98 658.34h13v11.9h-13zM749.4 658.34h13v11.9h-13zM792.82 658.34h13v11.9h-13zM836.25 658.34h13v11.9h-13zM879.67 658.34h13v11.9h-13zM98.03 692.78h13v11.9h-13zM141.45 692.78h13v11.9h-13zM271.73 692.78h13v11.9h-13zM402 692.78h13v11.9h-13zM445.43 692.78h13v11.9h-13zM575.7 692.78h13v11.9h-13zM619.12 692.78h13v11.9h-13zM662.55 692.78h13v11.9h-13zM705.98 692.78h13v11.9h-13zM98.03 727.22h13v11.9h-13zM141.45 727.22h13v11.9h-13zM271.73 727.22h13v11.9h-13zM315.15 727.22h13v11.9h-13zM358.57 727.22h13v11.9h-13zM402 727.22h13v11.9h-13zM445.43 727.22h13v11.9h-13zM488.85 727.22h13v11.9h-13zM532.27 727.22h13v11.9h-13zM575.7 727.22h13v11.9h-13zM619.12 727.22h13v11.9h-13zM749.4 727.22h13v11.9h-13zM792.82 727.22h13v11.9h-13zM836.25 727.22h13v11.9h-13zM879.67 727.22h13v11.9h-13zM98.03 761.66h13v11.9h-13zM141.45 761.66h13v11.9h-13zM184.87 761.66h13v11.9h-13zM228.3 761.66h13v11.9h-13zM271.73 761.66h13v11.9h-13zM315.15 761.66h13v11.9h-13zM358.57 761.66h13v11.9h-13zM402 761.66h13v11.9h-13zM445.43 761.66h13v11.9h-13zM488.85 761.66h13v11.9h-13zM705.98 761.66h13v11.9h-13zM749.4 761.66h13v11.9h-13zM792.82 761.66h13v11.9h-13zM98.03 796.1h13v11.9h-13zM141.45 796.1h13v11.9h-13zM184.87 796.1h13v11.9h-13zM228.3 796.1h13v11.9h-13zM271.73 796.1h13v11.9h-13zM445.43 796.1h13v11.9h-13zM488.85 796.1h13v11.9h-13zM532.27 796.1h13v11.9h-13zM575.7 796.1h13v11.9h-13zM705.98 796.1h13v11.9h-13zM749.4 796.1h13v11.9h-13zM792.82 796.1h13v11.9h-13zM98.03 830.54h13v11.9h-13zM141.45 830.54h13v11.9h-13zM184.87 830.54h13v11.9h-13zM228.3 830.54h13v11.9h-13zM271.73 830.54h13v11.9h-13zM488.85 830.54h13v11.9h-13zM532.27 830.54h13v11.9h-13zM575.7 830.54h13v11.9h-13zM619.12 830.54h13v11.9h-13zM662.55 830.54h13v11.9h-13zM879.67 830.54h13v11.9h-13zM98.03 864.98h13v11.9h-13zM141.45 864.98h13v11.9h-13zM184.87 864.98h13v11.9h-13zM228.3 864.98h13v11.9h-13zM271.73 864.98h13v11.9h-13zM315.15 864.98h13v11.9h-13zM358.57 864.98h13v11.9h-13zM402 864.98h13v11.9h-13zM445.43 864.98h13v11.9h-13zM488.85 864.98h13v11.9h-13zM532.27 864.98h13v11.9h-13zM575.7 864.98h13v11.9h-13zM619.12 864.98h13v11.9h-13zM662.55 864.98h13v11.9h-13zM705.98 864.98h13v11.9h-13zM749.4 864.98h13v11.9h-13zM792.82 864.98h13v11.9h-13zM836.25 864.98h13v11.9h-13zM879.67 864.98h13v11.9h-13zM76.81 228.64h12v10.3h-12zM120.24 228.64h12v10.3h-12zM163.66 228.64h12v10.3h-12zM207.09 228.64h12v10.3h-12zM250.51 228.64h12v10.3h-12zM293.94 228.64h12v10.3h-12zM337.36 228.64h12v10.3h-12zM380.79 228.64h12v10.3h-12zM424.21 228.64h12v10.3h-12zM511.06 228.64h12v10.3h-12zM554.49 228.64h12v10.3h-12zM597.91 228.64h12v10.3h-12zM641.34 228.64h12v10.3h-12zM684.76 228.64h12v10.3h-12zM771.61 228.64h12v10.3h-12zM815.04 228.64h12v10.3h-12zM858.46 228.64h12v10.3h-12zM901.89 228.64h12v10.3h-12zM76.81 263.08h12v10.3h-12zM120.24 263.08h12v10.3h-12zM163.66 263.08h12v10.3h-12zM207.09 263.08h12v10.3h-12zM250.51 263.08h12v10.3h-12zM293.94 263.08h12v10.3h-12zM337.36 263.08h12v10.3h-12zM380.79 263.08h12v10.3h-12zM424.21 263.08h12v10.3h-12zM511.06 263.08h12v10.3h-12zM554.49 263.08h12v10.3h-12zM597.91 263.08h12v10.3h-12zM641.34 263.08h12v10.3h-12zM684.76 263.08h12v10.3h-12zM728.19 263.08h12v10.3h-12zM771.61 263.08h12v10.3h-12zM76.81 297.52h12v10.3h-12zM120.24 297.52h12v10.3h-12zM163.66 297.52h12v10.3h-12zM207.09 297.52h12v10.3h-12zM250.51 297.52h12v10.3h-12zM293.94 297.52h12v10.3h-12zM337.36 297.52h12v10.3h-12zM380.79 297.52h12v10.3h-12zM511.06 297.52h12v10.3h-12zM597.91 297.52h12v10.3h-12zM684.76 297.52h12v10.3h-12zM771.61 297.52h12v10.3h-12zM76.81 331.96h12v10.3h-12zM120.24 331.96h12v10.3h-12zM163.66 331.96h12v10.3h-12zM207.09 331.96h12v10.3h-12zM250.51 331.96h12v10.3h-12zM337.36 331.96h12v10.3h-12zM380.79 331.96h12v10.3h-12zM467.64 331.96h12v10.3h-12zM511.06 331.96h12v10.3h-12zM771.61 331.96h12v10.3h-12zM858.46 331.96h12v10.3h-12zM901.89 331.96h12v10.3h-12zM120.24 366.4h12v10.3h-12zM163.66 366.4h12v10.3h-12zM207.09 366.4h12v10.3h-12zM250.51 366.4h12v10.3h-12zM337.36 366.4h12v10.3h-12zM380.79 366.4h12v10.3h-12zM424.21 366.4h12v10.3h-12zM511.06 366.4h12v10.3h-12zM554.49 366.4h12v10.3h-12zM641.34 366.4h12v10.3h-12zM771.61 366.4h12v10.3h-12zM858.46 366.4h12v10.3h-12zM120.24 400.84h12v10.3h-12zM163.66 400.84h12v10.3h-12zM207.09 400.84h12v10.3h-12zM250.51 400.84h12v10.3h-12zM293.94 400.84h12v10.3h-12zM424.21 400.84h12v10.3h-12zM511.06 400.84h12v10.3h-12zM554.49 400.84h12v10.3h-12zM597.91 400.84h12v10.3h-12zM641.34 400.84h12v10.3h-12zM728.19 400.84h12v10.3h-12zM771.61 400.84h12v10.3h-12zM815.04 400.84h12v10.3h-12zM858.46 400.84h12v10.3h-12zM76.81 435.28h12v10.3h-12zM120.24 435.28h12v10.3h-12zM250.51 435.28h12v10.3h-12zM293.94 435.28h12v10.3h-12zM424.21 435.28h12v10.3h-12zM467.64 435.28h12v10.3h-12zM511.06 435.28h12v10.3h-12zM554.49 435.28h12v10.3h-12zM597.91 435.28h12v10.3h-12zM728.19 435.28h12v10.3h-12zM771.61 435.28h12v10.3h-12zM815.04 435.28h12v10.3h-12zM858.46 435.28h12v10.3h-12zM901.89 435.28h12v10.3h-12zM76.81 469.72h12v10.3h-12zM120.24 469.72h12v10.3h-12zM293.94 469.72h12v10.3h-12zM337.36 469.72h12v10.3h-12zM424.21 469.72h12v10.3h-12zM467.64 469.72h12v10.3h-12zM511.06 469.72h12v10.3h-12zM554.49 469.72h12v10.3h-12zM728.19 469.72h12v10.3h-12zM815.04 469.72h12v10.3h-12zM858.46 469.72h12v10.3h-12zM901.89 469.72h12v10.3h-12zM76.81 504.16h12v10.3h-12zM120.24 504.16h12v10.3h-12zM163.66 504.16h12v10.3h-12zM293.94 504.16h12v10.3h-12zM337.36 504.16h12v10.3h-12zM380.79 504.16h12v10.3h-12zM424.21 504.16h12v10.3h-12zM467.64 504.16h12v10.3h-12zM511.06 504.16h12v10.3h-12zM554.49 504.16h12v10.3h-12zM641.34 504.16h12v10.3h-12zM728.19 504.16h12v10.3h-12zM815.04 504.16h12v10.3h-12zM858.46 504.16h12v10.3h-12zM901.89 504.16h12v10.3h-12zM76.81 538.6h12v10.3h-12zM120.24 538.6h12v10.3h-12zM163.66 538.6h12v10.3h-12zM207.09 538.6h12v10.3h-12zM293.94 538.6h12v10.3h-12zM337.36 538.6h12v10.3h-12zM380.79 538.6h12v10.3h-12zM424.21 538.6h12v10.3h-12zM467.64 538.6h12v10.3h-12zM554.49 538.6h12v10.3h-12zM597.91 538.6h12v10.3h-12zM641.34 538.6h12v10.3h-12zM684.76 538.6h12v10.3h-12zM728.19 538.6h12v10.3h-12zM771.61 538.6h12v10.3h-12zM815.04 538.6h12v10.3h-12zM858.46 538.6h12v10.3h-12zM901.89 538.6h12v10.3h-12zM76.81 573.04h12v10.3h-12zM163.66 573.04h12v10.3h-12zM250.51 573.04h12v10.3h-12zM337.36 573.04h12v10.3h-12zM380.79 573.04h12v10.3h-12zM424.21 573.04h12v10.3h-12zM467.64 573.04h12v10.3h-12zM554.49 573.04h12v10.3h-12zM597.91 573.04h12v10.3h-12zM641.34 573.04h12v10.3h-12zM684.76 573.04h12v10.3h-12zM728.19 573.04h12v10.3h-12zM771.61 573.04h12v10.3h-12zM815.04 573.04h12v10.3h-12zM858.46 573.04h12v10.3h-12zM901.89 573.04h12v10.3h-12zM76.81 607.48h12v10.3h-12zM163.66 607.48h12v10.3h-12zM250.51 607.48h12v10.3h-12zM337.36 607.48h12v10.3h-12zM380.79 607.48h12v10.3h-12zM424.21 607.48h12v10.3h-12zM467.64 607.48h12v10.3h-12zM511.06 607.48h12v10.3h-12zM641.34 607.48h12v10.3h-12zM684.76 607.48h12v10.3h-12zM728.19 607.48h12v10.3h-12zM771.61 607.48h12v10.3h-12zM815.04 607.48h12v10.3h-12zM858.46 607.48h12v10.3h-12zM901.89 607.48h12v10.3h-12zM120.24 641.92h12v10.3h-12zM163.66 641.92h12v10.3h-12zM250.51 641.92h12v10.3h-12zM293.94 641.92h12v10.3h-12zM337.36 641.92h12v10.3h-12zM380.79 641.92h12v10.3h-12zM424.21 641.92h12v10.3h-12zM467.64 641.92h12v10.3h-12zM641.34 641.92h12v10.3h-12zM684.76 641.92h12v10.3h-12zM728.19 641.92h12v10.3h-12zM771.61 641.92h12v10.3h-12zM815.04 641.92h12v10.3h-12zM858.46 641.92h12v10.3h-12zM901.89 641.92h12v10.3h-12zM120.24 676.36h12v10.3h-12zM163.66 676.36h12v10.3h-12zM250.51 676.36h12v10.3h-12zM293.94 676.36h12v10.3h-12zM380.79 676.36h12v10.3h-12zM424.21 676.36h12v10.3h-12zM467.64 676.36h12v10.3h-12zM554.49 676.36h12v10.3h-12zM597.91 676.36h12v10.3h-12zM641.34 676.36h12v10.3h-12zM684.76 676.36h12v10.3h-12zM728.19 676.36h12v10.3h-12zM858.46 676.36h12v10.3h-12zM76.81 710.8h12v10.3h-12zM120.24 710.8h12v10.3h-12zM163.66 710.8h12v10.3h-12zM250.51 710.8h12v10.3h-12zM293.94 710.8h12v10.3h-12zM380.79 710.8h12v10.3h-12zM424.21 710.8h12v10.3h-12zM467.64 710.8h12v10.3h-12zM554.49 710.8h12v10.3h-12zM597.91 710.8h12v10.3h-12zM641.34 710.8h12v10.3h-12zM728.19 710.8h12v10.3h-12zM858.46 710.8h12v10.3h-12zM76.81 745.24h12v10.3h-12zM120.24 745.24h12v10.3h-12zM163.66 745.24h12v10.3h-12zM250.51 745.24h12v10.3h-12zM293.94 745.24h12v10.3h-12zM337.36 745.24h12v10.3h-12zM380.79 745.24h12v10.3h-12zM424.21 745.24h12v10.3h-12zM467.64 745.24h12v10.3h-12zM511.06 745.24h12v10.3h-12zM597.91 745.24h12v10.3h-12zM728.19 745.24h12v10.3h-12zM771.61 745.24h12v10.3h-12zM815.04 745.24h12v10.3h-12zM901.89 745.24h12v10.3h-12zM76.81 779.68h12v10.3h-12zM120.24 779.68h12v10.3h-12zM163.66 779.68h12v10.3h-12zM207.09 779.68h12v10.3h-12zM250.51 779.68h12v10.3h-12zM293.94 779.68h12v10.3h-12zM424.21 779.68h12v10.3h-12zM467.64 779.68h12v10.3h-12zM511.06 779.68h12v10.3h-12zM597.91 779.68h12v10.3h-12zM684.76 779.68h12v10.3h-12zM728.19 779.68h12v10.3h-12zM771.61 779.68h12v10.3h-12zM815.04 779.68h12v10.3h-12zM901.89 779.68h12v10.3h-12zM76.81 814.12h12v10.3h-12zM120.24 814.12h12v10.3h-12zM163.66 814.12h12v10.3h-12zM207.09 814.12h12v10.3h-12zM250.51 814.12h12v10.3h-12zM293.94 814.12h12v10.3h-12zM467.64 814.12h12v10.3h-12zM511.06 814.12h12v10.3h-12zM554.49 814.12h12v10.3h-12zM597.91 814.12h12v10.3h-12zM684.76 814.12h12v10.3h-12zM771.61 814.12h12v10.3h-12zM901.89 814.12h12v10.3h-12zM76.81 848.56h12v10.3h-12zM120.24 848.56h12v10.3h-12zM163.66 848.56h12v10.3h-12zM207.09 848.56h12v10.3h-12zM250.51 848.56h12v10.3h-12zM293.94 848.56h12v10.3h-12zM467.64 848.56h12v10.3h-12zM511.06 848.56h12v10.3h-12zM554.49 848.56h12v10.3h-12zM597.91 848.56h12v10.3h-12zM641.34 848.56h12v10.3h-12zM684.76 848.56h12v10.3h-12zM771.61 848.56h12v10.3h-12zM858.46 848.56h12v10.3h-12zM901.89 848.56h12v10.3h-12z" fill="#00ff00"/>
<path d="M445.43 210.62h13v11.9h-13zM488.85 210.62h13v11.9h-13zM705.98 210.62h13v11.9h-13zM749.4 210.62h13v11.9h-13zM445.43 279.5h13v11.9h-13zM488.85 279.5h13v11.9h-13zM792.82 279.5h13v11.9h-13zM402 313.94h13v11.9h-13zM445.43 313.94h13v11.9h-13zM532.27 313.94h13v11.9h-13zM575.7 313.94h13v11.9h-13zM619.12 313.94h13v11.9h-13zM662.55 313.94h13v11.9h-13zM705.98 313.94h13v11.9h-13zM749.4 313.94h13v11.9h-13zM271.73 348.38h13v11.9h-13zM315.15 348.38h13v11.9h-13zM575.7 348.38h13v11.9h-13zM619.12 348.38h13v11.9h-13zM662.55 348.38h13v11.9h-13zM749.4 348.38h13v11.9h-13zM792.82 348.38h13v11.9h-13zM836.25 348.38h13v11.9h-13zM98.03 382.82h13v11.9h-13zM445.43 382.82h13v11.9h-13zM488.85 382.82h13v11.9h-13zM879.67 382.82h13v11.9h-13zM315.15 417.26h13v11.9h-13zM402 417.26h13v11.9h-13zM662.55 417.26h13v11.9h-13zM705.98 417.26h13v11.9h-13zM141.45 451.7h13v11.9h-13zM228.3 451.7h13v11.9h-13zM358.57 451.7h13v11.9h-13zM402 451.7h13v11.9h-13zM619.12 451.7h13v11.9h-13zM662.55 451.7h13v11.9h-13zM184.87 486.14h13v11.9h-13zM271.73 486.14h13v11.9h-13zM575.7 486.14h13v11.9h-13zM619.12 486.14h13v11.9h-13zM662.55 486.14h13v11.9h-13zM705.98 486.14h13v11.9h-13zM749.4 486.14h13v11.9h-13zM792.82 486.14h13v11.9h-13zM228.3 520.58h13v11.9h-13zM271.73 520.58h13v11.9h-13zM488.85 555.02h13v11.9h-13zM532.27 555.02h13v11.9h-13zM98.03 589.46h13v11.9h-13zM141.45 589.46h13v11.9h-13zM184.87 589.46h13v11.9h-13zM228.3 589.46h13v11.9h-13zM271.73 589.46h13v11.9h-13zM315.15 589.46h13v11.9h-13zM532.27 623.9h13v11.9h-13zM619.12 623.9h13v11.9h-13zM98.03 658.34h13v11.9h-13zM184.87 658.34h13v11.9h-13zM228.3 658.34h13v11.9h-13zM488.85 658.34h13v11.9h-13zM532.27 658.34h13v11.9h-13zM184.87 692.78h13v11.9h-13zM228.3 692.78h13v11.9h-13zM315.15 692.78h13v11.9h-13zM358.57 692.78h13v11.9h-13zM488.85 692.78h13v11.9h-13zM532.27 692.78h13v11.9h-13zM749.4 692.78h13v11.9h-13zM836.25 692.78h13v11.9h-13zM879.67 692.78h13v11.9h-13zM184.87 727.22h13v11.9h-13zM228.3 727.22h13v11.9h-13zM662.55 727.22h13v11.9h-13zM705.98 727.22h13v11.9h-13zM532.27 761.66h13v11.9h-13zM575.7 761.66h13v11.9h-13zM619.12 761.66h13v11.9h-13zM662.55 761.66h13v11.9h-13zM836.25 761.66h13v11.9h-13zM879.67 761.66h13v11.9h-13zM315.15 796.1h13v11.9h-13zM402 796.1h13v11.9h-13zM619.12 796.1h13v11.9h-13zM662.55 796.1h13v11.9h-13zM836.25 796.1h13v11.9h-13zM879.67 796.1h13v11.9h-13zM315.15 830.54h13v11.9h-13zM445.43 830.54h13v11.9h-13zM705.98 830.54h13v11.9h-13zM749.4 830.54h13v11.9h-13zM792.82 830.54h13v11.9h-13zM836.25 830.54h13v11.9h-13zM467.64 228.64h12v10.3h-12zM728.19 228.64h12v10.3h-12zM467.64 263.08h12v10.3h-12zM815.04 263.08h12v10.3h-12zM858.46 263.08h12v10.3h-12zM901.89 263.08h12v10.3h-12zM424.21 297.52h12v10.3h-12zM467.64 297.52h12v10.3h-12zM554.49 297.52h12v10.3h-12zM641.34 297.52h12v10.3h-12zM728.19 297.52h12v10.3h-12zM815.04 297.52h12v10.3h-12zM858.46 297.52h12v10.3h-12zM901.89 297.52h12v10.3h-12zM293.94 331.96h12v10.3h-12zM424.21 331.96h12v10.3h-12zM554.49 331.96h12v10.3h-12zM597.91 331.96h12v10.3h-12zM641.34 331.96h12v10.3h-12zM684.76 331.96h12v10.3h-12zM815.04 331.96h12v10.3h-12zM76.81 366.4h12v10.3h-12zM293.94 366.4h12v10.3h-12zM467.64 366.4h12v10.3h-12zM597.91 366.4h12v10.3h-12zM684.76 366.4h12v10.3h-12zM728.19 366.4h12v10.3h-12zM815.04 366.4h12v10.3h-12zM901.89 366.4h12v10.3h-12zM76.81 400.84h12v10.3h-12zM337.36 400.84h12v10.3h-12zM380.79 400.84h12v10.3h-12zM467.64 400.84h12v10.3h-12zM684.76 400.84h12v10.3h-12zM901.89 400.84h12v10.3h-12zM163.66 435.28h12v10.3h-12zM207.09 435.28h12v10.3h-12zM337.36 435.28h12v10.3h-12zM641.34 435.28h12v10.3h-12zM684.76 435.28h12v10.3h-12zM163.66 469.72h12v10.3h-12zM250.51 469.72h12v10.3h-12zM380.79 469.72h12v10.3h-12zM597.91 469.72h12v10.3h-12zM641.34 469.72h12v10.3h-12zM684.76 469.72h12v10.3h-12zM771.61 469.72h12v10.3h-12zM207.09 504.16h12v10.3h-12zM597.91 504.16h12v10.3h-12zM684.76 504.16h12v10.3h-12zM771.61 504.16h12v10.3h-12zM250.51 538.6h12v10.3h-12zM511.06 538.6h12v10.3h-12zM120.24 573.04h12v10.3h-12zM207.09 573.04h12v10.3h-12zM293.94 573.04h12v10.3h-12zM511.06 573.04h12v10.3h-12zM120.24 607.48h12v10.3h-12zM207.09 607.48h12v10.3h-12zM293.94 607.48h12v10.3h-12zM554.49 607.48h12v10.3h-12zM597.91 607.48h12v10.3h-12zM76.81 641.92h12v10.3h-12zM207.09 641.92h12v10.3h-12zM511.06 641.92h12v10.3h-12zM554.49 641.92h12v10.3h-12zM597.91 641.92h12v10.3h-12zM76.81 676.36h12v10.3h-12zM337.36 676.36h12v10.3h-12zM771.61 676.36h12v10.3h-12zM815.04 676.36h12v10.3h-12zM901.89 676.36h12v10.3h-12zM337.36 710.8h12v10.3h-12zM511.06 710.8h12v10.3h-12zM684.76 710.8h12v10.3h-12zM771.61 710.8h12v10.3h-12zM815.04 710.8h12v10.3h-12zM901.89 710.8h12v10.3h-12zM207.09 745.24h12v10.3h-12zM554.49 745.24h12v10.3h-12zM641.34 745.24h12v10.3h-12zM684.76 745.24h12v10.3h-12zM858.46 745.24h12v10.3h-12zM337.36 779.68h12v10.3h-12zM380.79 779.68h12v10.3h-12zM554.49 779.68h12v10.3h-12zM424.21 814.12h12v10.3h-12zM641.34 814.12h12v10.3h-12zM728.19 814.12h12v10.3h-12zM815.04 814.12h12v10.3h-12zM858.46 814.12h12v10.3h-12zM337.36 848.56h12v10.3h-12zM380.79 848.56h12v10.3h-12zM424.21 848.56h12v10.3h-12zM728.19 848.56h12v10.3h-12zM815.04 848.56h12v10.3h-12z" fill="#0000ff"/>
<path d="M836.25 279.5h13v11.9h-13zM879.67 279.5h13v11.9h-13zM705.98 348.38h13v11.9h-13zM358.57 417.26h13v11.9h-13zM184.87 451.7h13v11.9h-13zM228.3 486.14h13v11.9h-13zM575.7 623.9h13v11.9h-13zM792.82 692.78h13v11.9h-13zM358.57 796.1h13v11.9h-13zM358.57 830.54h13v11.9h-13zM402 830.54h13v11.9h-13zM728.19 331.96h12v10.3h-12zM380.79 435.28h12v10.3h-12zM207.09 469.72h12v10.3h-12zM250.51 504.16h12v10.3h-12zM207.09 676.36h12v10.3h-12zM511.06 676.36h12v10.3h-12zM207.09 710.8h12v10.3h-12zM641.34 779.68h12v10.3h-12zM858.46 779.68h12v10.3h-12zM337.36 814.12h12v10.3h-12zM380.79 814.12h12v10.3h-12z" fill="#ffff00"/>
<rect x="8.85" y="214.87" width="8.7" height="3.4" fill="#333"/>
<rect x="8.85" y="387.07" width="8.7" height="3.4" fill="#333"/>
<rect x="8.85" y="559.27" width="8.7" height="3.4" fill="#333"/>
<rect x="8.85" y="731.47" width="8.7" height="3.4" fill="#333"/>
<rect x="8.85" y="903.67" width="8.7" height="3.4" fill="#333"/>
<rect x="37.69" y="923.1" width="3.4" height="8.7" fill="#333"/>
<rect x="254.81" y="923.1" width="3.4" height="8.7" fill="#333"/>
<rect x="471.94" y="923.1" width="3.4" height="8.7" fill="#333"/>
<rect x="689.06" y="923.1" width="3.4" height="8.7" fill="#333"/>
<rect x="906.19" y="923.1" width="3.4" height="8.7" fill="#333"/>
<path d="M17.8 165.1V922.85H973" fill="none" stroke="#000" stroke-width="3.5" stroke-linejoin="round"/>
<text transform="translate(495.5 39.6) scale(1 1.025)" font-size="45" text-anchor="middle">A</text>
<text transform="translate(171.3 123.8) scale(1 1.03)" font-size="37.1">Type</text>
<rect x="278.6" y="104.2" width="51.6" height="11.5" fill="#ffff00"/>
<text transform="translate(354.4 120.9) scale(1 1.03)" font-size="29.7">LAA-LAA</text>
<rect x="501.4" y="104.2" width="51.6" height="11.5" fill="#0000ff"/>
<text transform="translate(577.8 120.9) scale(1 1.03)" font-size="29.7">LAA-N</text>
<rect x="690" y="104.2" width="51.6" height="11.5" fill="#00ff00"/>
<text transform="translate(765.1 120.9) scale(1 1.03)" font-size="29.7">N-N</text></g>
<g id="panelB"><rect x="1087.9" y="199.35" width="868.5" height="688.8" fill="#d3d3d3"/>
<path d="M1348.45 405.99h43.42v34.44h-43.42zM1435.3 405.99h86.85v34.44h-86.85zM1565.57 405.99h43.42v34.44h-43.42zM1391.87 440.43h130.27v34.44h-130.27zM1565.57 440.43h86.85v34.44h-86.85zM1391.87 474.87h260.55v34.44h-260.55zM1348.45 509.31h390.82v34.44h-390.82zM1305.02 543.75h43.42v34.44h-43.42zM1391.87 543.75h303.97v34.44h-303.97zM1391.87 578.19h43.42v34.44h-43.42zM1478.72 578.19h217.12v34.44h-217.12zM1305.02 612.63h347.4v34.44h-347.4zM1695.85 612.63h43.42v34.44h-43.42zM1348.45 647.07h217.12v34.44h-217.12zM1305.02 681.51h86.85v34.44h-86.85zM1435.3 681.51h173.7v34.44h-173.7zM1435.3 715.95h86.85v34.44h-86.85z" fill="#ff0000"/>
<path d="M1087.9 199.35V888.15M1087.9 199.35H1956.4M1131.32 199.35V888.15M1087.9 233.79H1956.4M1174.75 199.35V888.15M1087.9 268.23H1956.4M1218.17 199.35V888.15M1087.9 302.67H1956.4M1261.6 199.35V888.15M1087.9 337.11H1956.4M1305.02 199.35V888.15M1087.9 371.55H1956.4M1348.45 199.35V888.15M1087.9 405.99H1956.4M1391.87 199.35V888.15M1087.9 440.43H1956.4M1435.3 199.35V888.15M1087.9 474.87H1956.4M1478.72 199.35V888.15M1087.9 509.31H1956.4M1522.15 199.35V888.15M1087.9 543.75H1956.4M1565.57 199.35V888.15M1087.9 578.19H1956.4M1609 199.35V888.15M1087.9 612.63H1956.4M1652.42 199.35V888.15M1087.9 647.07H1956.4M1695.85 199.35V888.15M1087.9 681.51H1956.4M1739.27 199.35V888.15M1087.9 715.95H1956.4M1782.7 199.35V888.15M1087.9 750.39H1956.4M1826.12 199.35V888.15M1087.9 784.83H1956.4M1869.55 199.35V888.15M1087.9 819.27H1956.4M1912.97 199.35V888.15M1087.9 853.71H1956.4M1956.4 199.35V888.15M1087.9 888.15H1956.4" fill="none" stroke="#000" stroke-opacity="0.8" stroke-width="1.25" stroke-linecap="square"/>
<path d="M1124.82 210.62h13v11.9h-13zM1168.25 210.62h13v11.9h-13zM1211.67 210.62h13v11.9h-13zM1255.1 210.62h13v11.9h-13zM1298.52 210.62h13v11.9h-13zM1341.95 210.62h13v11.9h-13zM1385.37 210.62h13v11.9h-13zM1428.8 210.62h13v11.9h-13zM1472.22 210.62h13v11.9h-13zM1515.65 210.62h13v11.9h-13zM1559.07 210.62h13v11.9h-13zM1602.5 210.62h13v11.9h-13zM1645.92 210.62h13v11.9h-13zM1689.35 210.62h13v11.9h-13zM1732.77 210.62h13v11.9h-13zM1776.2 210.62h13v11.9h-13zM1819.62 210.62h13v11.9h-13zM1863.05 210.62h13v11.9h-13zM1906.47 210.62h13v11.9h-13zM1124.82 245.06h13v11.9h-13zM1168.25 245.06h13v11.9h-13zM1211.67 245.06h13v11.9h-13zM1255.1 245.06h13v11.9h-13zM1298.52 245.06h13v11.9h-13zM1341.95 245.06h13v11.9h-13zM1385.37 245.06h13v11.9h-13zM1428.8 245.06h13v11.9h-13zM1472.22 245.06h13v11.9h-13zM1515.65 245.06h13v11.9h-13zM1559.07 245.06h13v11.9h-13zM1602.5 245.06h13v11.9h-13zM1645.92 245.06h13v11.9h-13zM1689.35 245.06h13v11.9h-13zM1732.77 245.06h13v11.9h-13zM1776.2 245.06h13v11.9h-13zM1819.62 245.06h13v11.9h-13zM1863.05 245.06h13v11.9h-13zM1906.47 245.06h13v11.9h-13zM1124.82 279.5h13v11.9h-13zM1168.25 279.5h13v11.9h-13zM1211.67 279.5h13v11.9h-13zM1255.1 279.5h13v11.9h-13zM1298.52 279.5h13v11.9h-13zM1341.95 279.5h13v11.9h-13zM1385.37 279.5h13v11.9h-13zM1428.8 279.5h13v11.9h-13zM1472.22 279.5h13v11.9h-13zM1515.65 279.5h13v11.9h-13zM1559.07 279.5h13v11.9h-13zM1602.5 279.5h13v11.9h-13zM1645.92 279.5h13v11.9h-13zM1689.35 279.5h13v11.9h-13zM1732.77 279.5h13v11.9h-13zM1776.2 279.5h13v11.9h-13zM1819.62 279.5h13v11.9h-13zM1863.05 279.5h13v11.9h-13zM1906.47 279.5h13v11.9h-13zM1124.82 313.94h13v11.9h-13zM1168.25 313.94h13v11.9h-13zM1211.67 313.94h13v11.9h-13zM1255.1 313.94h13v11.9h-13zM1298.52 313.94h13v11.9h-13zM1341.95 313.94h13v11.9h-13zM1385.37 313.94h13v11.9h-13zM1428.8 313.94h13v11.9h-13zM1472.22 313.94h13v11.9h-13zM1515.65 313.94h13v11.9h-13zM1559.07 313.94h13v11.9h-13zM1602.5 313.94h13v11.9h-13zM1645.92 313.94h13v11.9h-13zM1689.35 313.94h13v11.9h-13zM1732.77 313.94h13v11.9h-13zM1776.2 313.94h13v11.9h-13zM1819.62 313.94h13v11.9h-13zM1863.05 313.94h13v11.9h-13zM1906.47 313.94h13v11.9h-13zM1124.82 348.38h13v11.9h-13zM1168.25 348.38h13v11.9h-13zM1211.67 348.38h13v11.9h-13zM1255.1 348.38h13v11.9h-13zM1298.52 348.38h13v11.9h-13zM1341.95 348.38h13v11.9h-13zM1385.37 348.38h13v11.9h-13zM1428.8 348.38h13v11.9h-13zM1472.22 348.38h13v11.9h-13zM1515.65 348.38h13v11.9h-13zM1559.07 348.38h13v11.9h-13zM1602.5 348.38h13v11.9h-13zM1645.92 348.38h13v11.9h-13zM1689.35 348.38h13v11.9h-13zM1732.77 348.38h13v11.9h-13zM1776.2 348.38h13v11.9h-13zM1819.62 348.38h13v11.9h-13zM1863.05 348.38h13v11.9h-13zM1906.47 348.38h13v11.9h-13zM1124.82 382.82h13v11.9h-13zM1168.25 382.82h13v11.9h-13zM1211.67 382.82h13v11.9h-13zM1255.1 382.82h13v11.9h-13zM1298.52 382.82h13v11.9h-13zM1341.95 382.82h13v11.9h-13zM1385.37 382.82h13v11.9h-13zM1428.8 382.82h13v11.9h-13zM1472.22 382.82h13v11.9h-13zM1515.65 382.82h13v11.9h-13zM1559.07 382.82h13v11.9h-13zM1602.5 382.82h13v11.9h-13zM1645.92 382.82h13v11.9h-13zM1689.35 382.82h13v11.9h-13zM1732.77 382.82h13v11.9h-13zM1776.2 382.82h13v11.9h-13zM1819.62 382.82h13v11.9h-13zM1863.05 382.82h13v11.9h-13zM1906.47 382.82h13v11.9h-13zM1124.82 417.26h13v11.9h-13zM1168.25 417.26h13v11.9h-13zM1211.67 417.26h13v11.9h-13zM1255.1 417.26h13v11.9h-13zM1298.52 417.26h13v11.9h-13zM1645.92 417.26h13v11.9h-13zM1689.35 417.26h13v11.9h-13zM1732.77 417.26h13v11.9h-13zM1776.2 417.26h13v11.9h-13zM1819.62 417.26h13v11.9h-13zM1863.05 417.26h13v11.9h-13zM1906.47 417.26h13v11.9h-13zM1124.82 451.7h13v11.9h-13zM1168.25 451.7h13v11.9h-13zM1211.67 451.7h13v11.9h-13zM1255.1 451.7h13v11.9h-13zM1298.52 451.7h13v11.9h-13zM1341.95 451.7h13v11.9h-13zM1689.35 451.7h13v11.9h-13zM1732.77 451.7h13v11.9h-13zM1776.2 451.7h13v11.9h-13zM1819.62 451.7h13v11.9h-13zM1863.05 451.7h13v11.9h-13zM1906.47 451.7h13v11.9h-13zM1124.82 486.14h13v11.9h-13zM1168.25 486.14h13v11.9h-13zM1211.67 486.14h13v11.9h-13zM1255.1 486.14h13v11.9h-13zM1298.52 486.14h13v11.9h-13zM1341.95 486.14h13v11.9h-13zM1689.35 486.14h13v11.9h-13zM1732.77 486.14h13v11.9h-13zM1776.2 486.14h13v11.9h-13zM1819.62 486.14h13v11.9h-13zM1863.05 486.14h13v11.9h-13zM1906.47 486.14h13v11.9h-13zM1124.82 520.58h13v11.9h-13zM1168.25 520.58h13v11.9h-13zM1211.67 520.58h13v11.9h-13zM1255.1 520.58h13v11.9h-13zM1298.52 520.58h13v11.9h-13zM1776.2 520.58h13v11.9h-13zM1819.62 520.58h13v11.9h-13zM1863.05 520.58h13v11.9h-13zM1906.47 520.58h13v11.9h-13zM1124.82 555.02h13v11.9h-13zM1168.25 555.02h13v11.9h-13zM1211.67 555.02h13v11.9h-13zM1255.1 555.02h13v11.9h-13zM1732.77 555.02h13v11.9h-13zM1776.2 555.02h13v11.9h-13zM1819.62 555.02h13v11.9h-13zM1863.05 555.02h13v11.9h-13zM1906.47 555.02h13v11.9h-13zM1124.82 589.46h13v11.9h-13zM1168.25 589.46h13v11.9h-13zM1211.67 589.46h13v11.9h-13zM1255.1 589.46h13v11.9h-13zM1298.52 589.46h13v11.9h-13zM1341.95 589.46h13v11.9h-13zM1732.77 589.46h13v11.9h-13zM1776.2 589.46h13v11.9h-13zM1819.62 589.46h13v11.9h-13zM1863.05 589.46h13v11.9h-13zM1906.47 589.46h13v11.9h-13zM1124.82 623.9h13v11.9h-13zM1168.25 623.9h13v11.9h-13zM1211.67 623.9h13v11.9h-13zM1255.1 623.9h13v11.9h-13zM1776.2 623.9h13v11.9h-13zM1819.62 623.9h13v11.9h-13zM1863.05 623.9h13v11.9h-13zM1906.47 623.9h13v11.9h-13zM1124.82 658.34h13v11.9h-13zM1168.25 658.34h13v11.9h-13zM1211.67 658.34h13v11.9h-13zM1255.1 658.34h13v11.9h-13zM1298.52 658.34h13v11.9h-13zM1602.5 658.34h13v11.9h-13zM1645.92 658.34h13v11.9h-13zM1689.35 658.34h13v11.9h-13zM1732.77 658.34h13v11.9h-13zM1776.2 658.34h13v11.9h-13zM1819.62 658.34h13v11.9h-13zM1863.05 658.34h13v11.9h-13zM1906.47 658.34h13v11.9h-13zM1124.82 692.78h13v11.9h-13zM1168.25 692.78h13v11.9h-13zM1211.67 692.78h13v11.9h-13zM1255.1 692.78h13v11.9h-13zM1645.92 692.78h13v11.9h-13zM1689.35 692.78h13v11.9h-13zM1732.77 692.78h13v11.9h-13zM1776.2 692.78h13v11.9h-13zM1819.62 692.78h13v11.9h-13zM1863.05 692.78h13v11.9h-13zM1906.47 692.78h13v11.9h-13zM1124.82 727.22h13v11.9h-13zM1168.25 727.22h13v11.9h-13zM1211.67 727.22h13v11.9h-13zM1255.1 727.22h13v11.9h-13zM1298.52 727.22h13v11.9h-13zM1341.95 727.22h13v11.9h-13zM1385.37 727.22h13v11.9h-13zM1559.07 727.22h13v11.9h-13zM1602.5 727.22h13v11.9h-13zM1645.92 727.22h13v11.9h-13zM1689.35 727.22h13v11.9h-13zM1732.77 727.22h13v11.9h-13zM1776.2 727.22h13v11.9h-13zM1819.62 727.22h13v11.9h-13zM1863.05 727.22h13v11.9h-13zM1906.47 727.22h13v11.9h-13zM1124.82 761.66h13v11.9h-13zM1168.25 761.66h13v11.9h-13zM1211.67 761.66h13v11.9h-13zM1255.1 761.66h13v11.9h-13zM1298.52 761.66h13v11.9h-13zM1341.95 761.66h13v11.9h-13zM1385.37 761.66h13v11.9h-13zM1428.8 761.66h13v11.9h-13zM1472.22 761.66h13v11.9h-13zM1515.65 761.66h13v11.9h-13zM1559.07 761.66h13v11.9h-13zM1602.5 761.66h13v11.9h-13zM1645.92 761.66h13v11.9h-13zM1689.35 761.66h13v11.9h-13zM1732.77 761.66h13v11.9h-13zM1776.2 761.66h13v11.9h-13zM1819.62 761.66h13v11.9h-13zM1863.05 761.66h13v11.9h-13zM1906.47 761.66h13v11.9h-13zM1124.82 796.1h13v11.9h-13zM1168.25 796.1h13v11.9h-13zM1211.67 796.1h13v11.9h-13zM1255.1 796.1h13v11.9h-13zM1298.52 796.1h13v11.9h-13zM1341.95 796.1h13v11.9h-13zM1385.37 796.1h13v11.9h-13zM1428.8 796.1h13v11.9h-13zM1472.22 796.1h13v11.9h-13zM1515.65 796.1h13v11.9h-13zM1559.07 796.1h13v11.9h-13zM1602.5 796.1h13v11.9h-13zM1645.92 796.1h13v11.9h-13zM1689.35 796.1h13v11.9h-13zM1732.77 796.1h13v11.9h-13zM1776.2 796.1h13v11.9h-13zM1819.62 796.1h13v11.9h-13zM1863.05 796.1h13v11.9h-13zM1906.47 796.1h13v11.9h-13zM1124.82 830.54h13v11.9h-13zM1168.25 830.54h13v11.9h-13zM1211.67 830.54h13v11.9h-13zM1255.1 830.54h13v11.9h-13zM1298.52 830.54h13v11.9h-13zM1341.95 830.54h13v11.9h-13zM1385.37 830.54h13v11.9h-13zM1428.8 830.54h13v11.9h-13zM1472.22 830.54h13v11.9h-13zM1515.65 830.54h13v11.9h-13zM1559.07 830.54h13v11.9h-13zM1602.5 830.54h13v11.9h-13zM1645.92 830.54h13v11.9h-13zM1689.35 830.54h13v11.9h-13zM1732.77 830.54h13v11.9h-13zM1776.2 830.54h13v11.9h-13zM1819.62 830.54h13v11.9h-13zM1863.05 830.54h13v11.9h-13zM1906.47 830.54h13v11.9h-13zM1124.82 864.98h13v11.9h-13zM1168.25 864.98h13v11.9h-13zM1211.67 864.98h13v11.9h-13zM1255.1 864.98h13v11.9h-13zM1298.52 864.98h13v11.9h-13zM1341.95 864.98h13v11.9h-13zM1385.37 864.98h13v11.9h-13zM1428.8 864.98h13v11.9h-13zM1472.22 864.98h13v11.9h-13zM1515.65 864.98h13v11.9h-13zM1559.07 864.98h13v11.9h-13zM1602.5 864.98h13v11.9h-13zM1645.92 864.98h13v11.9h-13zM1689.35 864.98h13v11.9h-13zM1732.77 864.98h13v11.9h-13zM1776.2 864.98h13v11.9h-13zM1819.62 864.98h13v11.9h-13zM1863.05 864.98h13v11.9h-13zM1906.47 864.98h13v11.9h-13zM1103.61 228.64h12v10.3h-12zM1147.04 228.64h12v10.3h-12zM1190.46 228.64h12v10.3h-12zM1233.89 228.64h12v10.3h-12zM1277.31 228.64h12v10.3h-12zM1320.74 228.64h12v10.3h-12zM1364.16 228.64h12v10.3h-12zM1407.59 228.64h12v10.3h-12zM1451.01 228.64h12v10.3h-12zM1494.44 228.64h12v10.3h-12zM1537.86 228.64h12v10.3h-12zM1581.29 228.64h12v10.3h-12zM1624.71 228.64h12v10.3h-12zM1668.14 228.64h12v10.3h-12zM1711.56 228.64h12v10.3h-12zM1754.99 228.64h12v10.3h-12zM1798.41 228.64h12v10.3h-12zM1841.84 228.64h12v10.3h-12zM1885.26 228.64h12v10.3h-12zM1928.69 228.64h12v10.3h-12zM1103.61 263.08h12v10.3h-12zM1147.04 263.08h12v10.3h-12zM1190.46 263.08h12v10.3h-12zM1233.89 263.08h12v10.3h-12zM1277.31 263.08h12v10.3h-12zM1320.74 263.08h12v10.3h-12zM1364.16 263.08h12v10.3h-12zM1407.59 263.08h12v10.3h-12zM1451.01 263.08h12v10.3h-12zM1494.44 263.08h12v10.3h-12zM1537.86 263.08h12v10.3h-12zM1581.29 263.08h12v10.3h-12zM1624.71 263.08h12v10.3h-12zM1668.14 263.08h12v10.3h-12zM1711.56 263.08h12v10.3h-12zM1754.99 263.08h12v10.3h-12zM1798.41 263.08h12v10.3h-12zM1841.84 263.08h12v10.3h-12zM1885.26 263.08h12v10.3h-12zM1928.69 263.08h12v10.3h-12zM1103.61 297.52h12v10.3h-12zM1147.04 297.52h12v10.3h-12zM1190.46 297.52h12v10.3h-12zM1233.89 297.52h12v10.3h-12zM1277.31 297.52h12v10.3h-12zM1320.74 297.52h12v10.3h-12zM1364.16 297.52h12v10.3h-12zM1407.59 297.52h12v10.3h-12zM1451.01 297.52h12v10.3h-12zM1494.44 297.52h12v10.3h-12zM1537.86 297.52h12v10.3h-12zM1581.29 297.52h12v10.3h-12zM1624.71 297.52h12v10.3h-12zM1668.14 297.52h12v10.3h-12zM1711.56 297.52h12v10.3h-12zM1754.99 297.52h12v10.3h-12zM1798.41 297.52h12v10.3h-12zM1841.84 297.52h12v10.3h-12zM1885.26 297.52h12v10.3h-12zM1928.69 297.52h12v10.3h-12zM1103.61 331.96h12v10.3h-12zM1147.04 331.96h12v10.3h-12zM1190.46 331.96h12v10.3h-12zM1233.89 331.96h12v10.3h-12zM1277.31 331.96h12v10.3h-12zM1320.74 331.96h12v10.3h-12zM1364.16 331.96h12v10.3h-12zM1407.59 331.96h12v10.3h-12zM1451.01 331.96h12v10.3h-12zM1494.44 331.96h12v10.3h-12zM1537.86 331.96h12v10.3h-12zM1581.29 331.96h12v10.3h-12zM1624.71 331.96h12v10.3h-12zM1668.14 331.96h12v10.3h-12zM1711.56 331.96h12v10.3h-12zM1754.99 331.96h12v10.3h-12zM1798.41 331.96h12v10.3h-12zM1841.84 331.96h12v10.3h-12zM1885.26 331.96h12v10.3h-12zM1928.69 331.96h12v10.3h-12zM1103.61 366.4h12v10.3h-12zM1147.04 366.4h12v10.3h-12zM1190.46 366.4h12v10.3h-12zM1233.89 366.4h12v10.3h-12zM1277.31 366.4h12v10.3h-12zM1320.74 366.4h12v10.3h-12zM1364.16 366.4h12v10.3h-12zM1407.59 366.4h12v10.3h-12zM1451.01 366.4h12v10.3h-12zM1494.44 366.4h12v10.3h-12zM1537.86 366.4h12v10.3h-12zM1581.29 366.4h12v10.3h-12zM1624.71 366.4h12v10.3h-12zM1668.14 366.4h12v10.3h-12zM1711.56 366.4h12v10.3h-12zM1754.99 366.4h12v10.3h-12zM1798.41 366.4h12v10.3h-12zM1841.84 366.4h12v10.3h-12zM1885.26 366.4h12v10.3h-12zM1928.69 366.4h12v10.3h-12zM1103.61 400.84h12v10.3h-12zM1147.04 400.84h12v10.3h-12zM1190.46 400.84h12v10.3h-12zM1233.89 400.84h12v10.3h-12zM1277.31 400.84h12v10.3h-12zM1320.74 400.84h12v10.3h-12zM1407.59 400.84h12v10.3h-12zM1537.86 400.84h12v10.3h-12zM1624.71 400.84h12v10.3h-12zM1668.14 400.84h12v10.3h-12zM1711.56 400.84h12v10.3h-12zM1754.99 400.84h12v10.3h-12zM1798.41 400.84h12v10.3h-12zM1841.84 400.84h12v10.3h-12zM1885.26 400.84h12v10.3h-12zM1928.69 400.84h12v10.3h-12zM1103.61 435.28h12v10.3h-12zM1147.04 435.28h12v10.3h-12zM1190.46 435.28h12v10.3h-12zM1233.89 435.28h12v10.3h-12zM1277.31 435.28h12v10.3h-12zM1320.74 435.28h12v10.3h-12zM1537.86 435.28h12v10.3h-12zM1668.14 435.28h12v10.3h-12zM1711.56 435.28h12v10.3h-12zM1754.99 435.28h12v10.3h-12zM1798.41 435.28h12v10.3h-12zM1841.84 435.28h12v10.3h-12zM1885.26 435.28h12v10.3h-12zM1928.69 435.28h12v10.3h-12zM1103.61 469.72h12v10.3h-12zM1147.04 469.72h12v10.3h-12zM1190.46 469.72h12v10.3h-12zM1233.89 469.72h12v10.3h-12zM1277.31 469.72h12v10.3h-12zM1320.74 469.72h12v10.3h-12zM1364.16 469.72h12v10.3h-12zM1668.14 469.72h12v10.3h-12zM1711.56 469.72h12v10.3h-12zM1754.99 469.72h12v10.3h-12zM1798.41 469.72h12v10.3h-12zM1841.84 469.72h12v10.3h-12zM1885.26 469.72h12v10.3h-12zM1928.69 469.72h12v10.3h-12zM1103.61 504.16h12v10.3h-12zM1147.04 504.16h12v10.3h-12zM1190.46 504.16h12v10.3h-12zM1233.89 504.16h12v10.3h-12zM1277.31 504.16h12v10.3h-12zM1320.74 504.16h12v10.3h-12zM1754.99 504.16h12v10.3h-12zM1798.41 504.16h12v10.3h-12zM1841.84 504.16h12v10.3h-12zM1885.26 504.16h12v10.3h-12zM1928.69 504.16h12v10.3h-12zM1103.61 538.6h12v10.3h-12zM1147.04 538.6h12v10.3h-12zM1190.46 538.6h12v10.3h-12zM1233.89 538.6h12v10.3h-12zM1277.31 538.6h12v10.3h-12zM1754.99 538.6h12v10.3h-12zM1798.41 538.6h12v10.3h-12zM1841.84 538.6h12v10.3h-12zM1885.26 538.6h12v10.3h-12zM1928.69 538.6h12v10.3h-12zM1103.61 573.04h12v10.3h-12zM1147.04 573.04h12v10.3h-12zM1190.46 573.04h12v10.3h-12zM1233.89 573.04h12v10.3h-12zM1277.31 573.04h12v10.3h-12zM1364.16 573.04h12v10.3h-12zM1711.56 573.04h12v10.3h-12zM1754.99 573.04h12v10.3h-12zM1798.41 573.04h12v10.3h-12zM1841.84 573.04h12v10.3h-12zM1885.26 573.04h12v10.3h-12zM1928.69 573.04h12v10.3h-12zM1103.61 607.48h12v10.3h-12zM1147.04 607.48h12v10.3h-12zM1190.46 607.48h12v10.3h-12zM1233.89 607.48h12v10.3h-12zM1277.31 607.48h12v10.3h-12zM1754.99 607.48h12v10.3h-12zM1798.41 607.48h12v10.3h-12zM1841.84 607.48h12v10.3h-12zM1885.26 607.48h12v10.3h-12zM1928.69 607.48h12v10.3h-12zM1103.61 641.92h12v10.3h-12zM1147.04 641.92h12v10.3h-12zM1190.46 641.92h12v10.3h-12zM1233.89 641.92h12v10.3h-12zM1277.31 641.92h12v10.3h-12zM1668.14 641.92h12v10.3h-12zM1754.99 641.92h12v10.3h-12zM1798.41 641.92h12v10.3h-12zM1841.84 641.92h12v10.3h-12zM1885.26 641.92h12v10.3h-12zM1928.69 641.92h12v10.3h-12zM1103.61 676.36h12v10.3h-12zM1147.04 676.36h12v10.3h-12zM1190.46 676.36h12v10.3h-12zM1233.89 676.36h12v10.3h-12zM1277.31 676.36h12v10.3h-12zM1624.71 676.36h12v10.3h-12zM1668.14 676.36h12v10.3h-12zM1711.56 676.36h12v10.3h-12zM1754.99 676.36h12v10.3h-12zM1798.41 676.36h12v10.3h-12zM1841.84 676.36h12v10.3h-12zM1885.26 676.36h12v10.3h-12zM1928.69 676.36h12v10.3h-12zM1103.61 710.8h12v10.3h-12zM1147.04 710.8h12v10.3h-12zM1190.46 710.8h12v10.3h-12zM1233.89 710.8h12v10.3h-12zM1277.31 710.8h12v10.3h-12zM1407.59 710.8h12v10.3h-12zM1624.71 710.8h12v10.3h-12zM1668.14 710.8h12v10.3h-12zM1711.56 710.8h12v10.3h-12zM1754.99 710.8h12v10.3h-12zM1798.41 710.8h12v10.3h-12zM1841.84 710.8h12v10.3h-12zM1885.26 710.8h12v10.3h-12zM1928.69 710.8h12v10.3h-12zM1103.61 745.24h12v10.3h-12zM1147.04 745.24h12v10.3h-12zM1190.46 745.24h12v10.3h-12zM1233.89 745.24h12v10.3h-12zM1277.31 745.24h12v10.3h-12zM1320.74 745.24h12v10.3h-12zM1364.16 745.24h12v10.3h-12zM1407.59 745.24h12v10.3h-12zM1537.86 745.24h12v10.3h-12zM1581.29 745.24h12v10.3h-12zM1624.71 745.24h12v10.3h-12zM1668.14 745.24h12v10.3h-12zM1711.56 745.24h12v10.3h-12zM1754.99 745.24h12v10.3h-12zM1798.41 745.24h12v10.3h-12zM1841.84 745.24h12v10.3h-12zM1885.26 745.24h12v10.3h-12zM1928.69 745.24h12v10.3h-12zM1103.61 779.68h12v10.3h-12zM1147.04 779.68h12v10.3h-12zM1190.46 779.68h12v10.3h-12zM1233.89 779.68h12v10.3h-12zM1277.31 779.68h12v10.3h-12zM1320.74 779.68h12v10.3h-12zM1364.16 779.68h12v10.3h-12zM1407.59 779.68h12v10.3h-12zM1451.01 779.68h12v10.3h-12zM1494.44 779.68h12v10.3h-12zM1537.86 779.68h12v10.3h-12zM1581.29 779.68h12v10.3h-12zM1624.71 779.68h12v10.3h-12zM1668.14 779.68h12v10.3h-12zM1711.56 779.68h12v10.3h-12zM1754.99 779.68h12v10.3h-12zM1798.41 779.68h12v10.3h-12zM1841.84 779.68h12v10.3h-12zM1885.26 779.68h12v10.3h-12zM1928.69 779.68h12v10.3h-12zM1103.61 814.12h12v10.3h-12zM1147.04 814.12h12v10.3h-12zM1190.46 814.12h12v10.3h-12zM1233.89 814.12h12v10.3h-12zM1277.31 814.12h12v10.3h-12zM1320.74 814.12h12v10.3h-12zM1364.16 814.12h12v10.3h-12zM1407.59 814.12h12v10.3h-12zM1451.01 814.12h12v10.3h-12zM1494.44 814.12h12v10.3h-12zM1537.86 814.12h12v10.3h-12zM1581.29 814.12h12v10.3h-12zM1624.71 814.12h12v10.3h-12zM1668.14 814.12h12v10.3h-12zM1711.56 814.12h12v10.3h-12zM1754.99 814.12h12v10.3h-12zM1798.41 814.12h12v10.3h-12zM1841.84 814.12h12v10.3h-12zM1885.26 814.12h12v10.3h-12zM1928.69 814.12h12v10.3h-12zM1103.61 848.56h12v10.3h-12zM1147.04 848.56h12v10.3h-12zM1190.46 848.56h12v10.3h-12zM1233.89 848.56h12v10.3h-12zM1277.31 848.56h12v10.3h-12zM1320.74 848.56h12v10.3h-12zM1364.16 848.56h12v10.3h-12zM1407.59 848.56h12v10.3h-12zM1451.01 848.56h12v10.3h-12zM1494.44 848.56h12v10.3h-12zM1537.86 848.56h12v10.3h-12zM1581.29 848.56h12v10.3h-12zM1624.71 848.56h12v10.3h-12zM1668.14 848.56h12v10.3h-12zM1711.56 848.56h12v10.3h-12zM1754.99 848.56h12v10.3h-12zM1798.41 848.56h12v10.3h-12zM1841.84 848.56h12v10.3h-12zM1885.26 848.56h12v10.3h-12zM1928.69 848.56h12v10.3h-12z" fill="#00ff00"/>
<path d="M1341.95 417.26h13v11.9h-13zM1385.37 417.26h13v11.9h-13zM1428.8 417.26h13v11.9h-13zM1515.65 417.26h13v11.9h-13zM1559.07 417.26h13v11.9h-13zM1602.5 417.26h13v11.9h-13zM1385.37 451.7h13v11.9h-13zM1515.65 451.7h13v11.9h-13zM1559.07 451.7h13v11.9h-13zM1645.92 451.7h13v11.9h-13zM1385.37 486.14h13v11.9h-13zM1645.92 486.14h13v11.9h-13zM1341.95 520.58h13v11.9h-13zM1732.77 520.58h13v11.9h-13zM1298.52 555.02h13v11.9h-13zM1341.95 555.02h13v11.9h-13zM1385.37 555.02h13v11.9h-13zM1689.35 555.02h13v11.9h-13zM1385.37 589.46h13v11.9h-13zM1428.8 589.46h13v11.9h-13zM1472.22 589.46h13v11.9h-13zM1689.35 589.46h13v11.9h-13zM1298.52 623.9h13v11.9h-13zM1645.92 623.9h13v11.9h-13zM1689.35 623.9h13v11.9h-13zM1732.77 623.9h13v11.9h-13zM1341.95 658.34h13v11.9h-13zM1559.07 658.34h13v11.9h-13zM1298.52 692.78h13v11.9h-13zM1385.37 692.78h13v11.9h-13zM1428.8 692.78h13v11.9h-13zM1602.5 692.78h13v11.9h-13zM1428.8 727.22h13v11.9h-13zM1515.65 727.22h13v11.9h-13zM1364.16 400.84h12v10.3h-12zM1451.01 400.84h12v10.3h-12zM1494.44 400.84h12v10.3h-12zM1581.29 400.84h12v10.3h-12zM1364.16 435.28h12v10.3h-12zM1407.59 435.28h12v10.3h-12zM1624.71 435.28h12v10.3h-12zM1537.86 469.72h12v10.3h-12zM1364.16 504.16h12v10.3h-12zM1668.14 504.16h12v10.3h-12zM1711.56 504.16h12v10.3h-12zM1320.74 538.6h12v10.3h-12zM1364.16 538.6h12v10.3h-12zM1711.56 538.6h12v10.3h-12zM1320.74 573.04h12v10.3h-12zM1451.01 573.04h12v10.3h-12zM1320.74 607.48h12v10.3h-12zM1364.16 607.48h12v10.3h-12zM1451.01 607.48h12v10.3h-12zM1668.14 607.48h12v10.3h-12zM1711.56 607.48h12v10.3h-12zM1320.74 641.92h12v10.3h-12zM1581.29 641.92h12v10.3h-12zM1624.71 641.92h12v10.3h-12zM1711.56 641.92h12v10.3h-12zM1320.74 676.36h12v10.3h-12zM1407.59 676.36h12v10.3h-12zM1581.29 676.36h12v10.3h-12zM1320.74 710.8h12v10.3h-12zM1364.16 710.8h12v10.3h-12zM1537.86 710.8h12v10.3h-12zM1581.29 710.8h12v10.3h-12zM1451.01 745.24h12v10.3h-12zM1494.44 745.24h12v10.3h-12z" fill="#0000ff"/>
<path d="M1472.22 417.26h13v11.9h-13zM1428.8 451.7h13v11.9h-13zM1472.22 451.7h13v11.9h-13zM1602.5 451.7h13v11.9h-13zM1428.8 486.14h13v11.9h-13zM1472.22 486.14h13v11.9h-13zM1515.65 486.14h13v11.9h-13zM1559.07 486.14h13v11.9h-13zM1602.5 486.14h13v11.9h-13zM1385.37 520.58h13v11.9h-13zM1428.8 520.58h13v11.9h-13zM1472.22 520.58h13v11.9h-13zM1515.65 520.58h13v11.9h-13zM1559.07 520.58h13v11.9h-13zM1602.5 520.58h13v11.9h-13zM1645.92 520.58h13v11.9h-13zM1689.35 520.58h13v11.9h-13zM1428.8 555.02h13v11.9h-13zM1472.22 555.02h13v11.9h-13zM1515.65 555.02h13v11.9h-13zM1559.07 555.02h13v11.9h-13zM1602.5 555.02h13v11.9h-13zM1645.92 555.02h13v11.9h-13zM1515.65 589.46h13v11.9h-13zM1559.07 589.46h13v11.9h-13zM1602.5 589.46h13v11.9h-13zM1645.92 589.46h13v11.9h-13zM1341.95 623.9h13v11.9h-13zM1385.37 623.9h13v11.9h-13zM1428.8 623.9h13v11.9h-13zM1472.22 623.9h13v11.9h-13zM1515.65 623.9h13v11.9h-13zM1559.07 623.9h13v11.9h-13zM1602.5 623.9h13v11.9h-13zM1385.37 658.34h13v11.9h-13zM1428.8 658.34h13v11.9h-13zM1472.22 658.34h13v11.9h-13zM1515.65 658.34h13v11.9h-13zM1341.95 692.78h13v11.9h-13zM1472.22 692.78h13v11.9h-13zM1515.65 692.78h13v11.9h-13zM1559.07 692.78h13v11.9h-13zM1472.22 727.22h13v11.9h-13zM1451.01 435.28h12v10.3h-12zM1494.44 435.28h12v10.3h-12zM1581.29 435.28h12v10.3h-12zM1407.59 469.72h12v10.3h-12zM1451.01 469.72h12v10.3h-12zM1494.44 469.72h12v10.3h-12zM1581.29 469.72h12v10.3h-12zM1624.71 469.72h12v10.3h-12zM1407.59 504.16h12v10.3h-12zM1451.01 504.16h12v10.3h-12zM1494.44 504.16h12v10.3h-12zM1537.86 504.16h12v10.3h-12zM1581.29 504.16h12v10.3h-12zM1624.71 504.16h12v10.3h-12zM1407.59 538.6h12v10.3h-12zM1451.01 538.6h12v10.3h-12zM1494.44 538.6h12v10.3h-12zM1537.86 538.6h12v10.3h-12zM1581.29 538.6h12v10.3h-12zM1624.71 538.6h12v10.3h-12zM1668.14 538.6h12v10.3h-12zM1407.59 573.04h12v10.3h-12zM1494.44 573.04h12v10.3h-12zM1537.86 573.04h12v10.3h-12zM1581.29 573.04h12v10.3h-12zM1624.71 573.04h12v10.3h-12zM1668.14 573.04h12v10.3h-12zM1407.59 607.48h12v10.3h-12zM1494.44 607.48h12v10.3h-12zM1537.86 607.48h12v10.3h-12zM1581.29 607.48h12v10.3h-12zM1624.71 607.48h12v10.3h-12zM1364.16 641.92h12v10.3h-12zM1407.59 641.92h12v10.3h-12zM1451.01 641.92h12v10.3h-12zM1494.44 641.92h12v10.3h-12zM1537.86 641.92h12v10.3h-12zM1364.16 676.36h12v10.3h-12zM1451.01 676.36h12v10.3h-12zM1494.44 676.36h12v10.3h-12zM1537.86 676.36h12v10.3h-12zM1451.01 710.8h12v10.3h-12zM1494.44 710.8h12v10.3h-12z" fill="#ffff00"/>
<rect x="1035.65" y="214.87" width="8.7" height="3.4" fill="#333"/>
<rect x="1035.65" y="387.07" width="8.7" height="3.4" fill="#333"/>
<rect x="1035.65" y="559.27" width="8.7" height="3.4" fill="#333"/>
<rect x="1035.65" y="731.47" width="8.7" height="3.4" fill="#333"/>
<rect x="1035.65" y="903.67" width="8.7" height="3.4" fill="#333"/>
<rect x="1064.49" y="923.1" width="3.4" height="8.7" fill="#333"/>
<rect x="1281.61" y="923.1" width="3.4" height="8.7" fill="#333"/>
<rect x="1498.74" y="923.1" width="3.4" height="8.7" fill="#333"/>
<rect x="1715.86" y="923.1" width="3.4" height="8.7" fill="#333"/>
<rect x="1932.99" y="923.1" width="3.4" height="8.7" fill="#333"/>
<path d="M1044.6 165.1V922.85H1999.8" fill="none" stroke="#000" stroke-width="3.5" stroke-linejoin="round"/>
<text transform="translate(1522.3 39.6) scale(1 1.025)" font-size="45" text-anchor="middle">B</text>
<text transform="translate(1198.1 123.8) scale(1 1.03)" font-size="37.1">Type</text>
<rect x="1305.4" y="104.2" width="51.6" height="11.5" fill="#ffff00"/>
<text transform="translate(1381.2 120.9) scale(1 1.03)" font-size="29.7">LAA-LAA</text>
<rect x="1528.2" y="104.2" width="51.6" height="11.5" fill="#0000ff"/>
<text transform="translate(1604.6 120.9) scale(1 1.03)" font-size="29.7">LAA-N</text>
<rect x="1716.8" y="104.2" width="51.6" height="11.5" fill="#00ff00"/>
<text transform="translate(1791.9 120.9) scale(1 1.03)" font-size="29.7">N-N</text></g>
<g id="panelC"><text transform="translate(495.5 1026.6) scale(1 1.025)" font-size="45" text-anchor="middle">C</text>
<g filter="url(#b0)">
<g filter="url(#b3)"><g clip-path="url(#clipC)"><rect x="405.81" y="1089.8" width="525.28" height="684.54" fill="#5e5e5e"/></g></g>
<g clip-path="url(#clipC)"><path d="M407.81 1399.3V1414.42M410.5 1399.3V1414.42M413.18 1389.22V1429.55M415.87 1389.22V1429.55M418.56 1384.18V1439.63M421.24 1384.18V1439.63M423.93 1379.13V1449.71M426.62 1379.13V1449.71M429.3 1374.09V1464.83M431.99 1374.09V1464.83M434.68 1369.05V1485M437.37 1369.05V1485M440.05 1369.05V1500.12M442.74 1369.05V1500.12M445.43 1369.05V1616.06M448.11 1369.05V1616.06M450.8 1369.05V1636.23M453.49 1369.05V1636.23M456.17 1364.01V1646.31M458.86 1364.01V1646.31M461.55 1364.01V1656.39M464.24 1364.01V1656.39M466.92 1364.01V1671.51M469.61 1364.01V1671.51M472.3 1364.01V1676.55M474.98 1364.01V1676.55M477.67 1364.01V1686.64M480.36 1364.01V1686.64M483.04 1364.01V1696.72M485.73 1364.01V1696.72M488.42 1348.89V1701.76M491.11 1348.89V1701.76M493.79 1338.81V1711.84M496.48 1338.81V1711.84M499.17 1333.77V1716.88M501.85 1333.77V1716.88M504.54 1333.77V1721.92M507.23 1333.77V1721.92M509.91 1328.73V1726.96M512.6 1328.73V1726.96M515.29 1328.73V1732.01M517.98 1328.73V1732.01M520.66 1328.73V1737.05M523.35 1328.73V1737.05M526.04 1323.68V1737.05M528.72 1323.68V1737.05M531.41 1323.68V1742.09M534.1 1323.68V1742.09M536.78 1318.64V1747.13M539.47 1318.64V1747.13M542.16 1318.64V1747.13M544.85 1318.64V1747.13M547.53 1318.64V1752.17M550.22 1318.64V1752.17M552.91 1313.6V1757.21M555.59 1313.6V1757.21M558.28 1313.6V1757.21M560.97 1313.6V1757.21M563.65 1308.56V1762.25M566.34 1308.56V1762.25M569.03 1308.56V1762.25M571.71 1308.56V1762.25M574.4 1303.52V1767.29M577.09 1303.52V1767.29M579.78 1303.52V1767.29M582.46 1303.52V1767.29M585.15 1298.48V1767.29M587.84 1298.48V1767.29M590.52 1298.48V1772.33M593.21 1298.48V1772.33M595.9 1298.48V1772.33M598.59 1298.48V1772.33M601.27 1293.44V1772.33M603.96 1293.44V1772.33M606.65 1288.4V1772.33M609.33 1288.4V1772.33M612.02 1283.36V1772.33M614.71 1283.36V1772.33M617.39 1278.32V1772.33M620.08 1278.32V1772.33M622.77 1273.27V1772.33M625.45 1273.27V1772.33M628.14 1268.23V1772.33M630.83 1268.23V1772.33M633.52 1268.23V1772.33M636.2 1268.23V1772.33M638.89 1263.19V1772.33M641.58 1263.19V1772.33M644.26 1258.15V1772.33M646.95 1258.15V1772.33M649.64 1253.11V1772.33M652.33 1253.11V1772.33M655.01 1253.11V1772.33M657.7 1253.11V1767.29M660.39 1248.07V1767.29M663.07 1248.07V1767.29M665.76 1243.03V1767.29M668.45 1243.03V1762.25M671.13 1237.99V1762.25M673.82 1237.99V1762.25M676.51 1232.95V1762.25M679.19 1232.95V1757.21M681.88 1227.9V1757.21M684.57 1227.9V1757.21M687.26 1227.9V1757.21M689.94 1227.9V1752.17M692.63 1222.86V1752.17M695.32 1222.86V1747.13M698 1222.86V1747.13M700.69 1222.86V1747.13M703.38 1217.82V1747.13M706.07 1217.82V1742.09M708.75 1217.82V1742.09M711.44 1217.82V1737.05M714.13 1212.78V1737.05M716.81 1212.78V1732.01M719.5 1202.7V1732.01M722.19 1202.7V1726.96M724.87 1197.66V1726.96M727.56 1197.66V1726.96M730.25 1187.58V1726.96M732.93 1187.58V1721.92M735.62 1182.54V1721.92M738.31 1182.54V1716.88M741 1177.5V1716.88M743.68 1177.5V1706.8M746.37 1172.45V1706.8M749.06 1172.45V1701.76M751.74 1167.41V1701.76M754.43 1167.41V1696.72M757.12 1162.37V1696.72M759.8 1162.37V1691.68M762.49 1157.33V1691.68M765.18 1157.33V1686.64M767.87 1152.29V1686.64M770.55 1152.29V1681.6M773.24 1147.25V1681.6M775.93 1147.25V1676.55M778.61 1142.21V1676.55M781.3 1142.21V1671.51M783.99 1137.17V1671.51M786.67 1137.17V1666.47M789.36 1132.13V1666.47M792.05 1132.13V1661.43M794.74 1127.09V1661.43M797.42 1127.09V1651.35M800.11 1122.04V1651.35M802.8 1122.04V1646.31M805.48 1122.04V1646.31M808.17 1122.04V1641.27M810.86 1117V1641.27M813.54 1117V1636.23M816.23 1096.84V1636.23M818.92 1096.84V1626.14M821.61 1096.84V1626.14M824.29 1096.84V1621.1M826.98 1091.8V1621.1M829.67 1091.8V1611.02M832.35 1091.8V1611.02M835.04 1091.8V1600.94M837.73 1091.8V1600.94M840.41 1091.8V1590.86M843.1 1091.8V1590.86M845.79 1091.8V1585.82M848.48 1091.8V1585.82M851.16 1096.84V1575.73M853.85 1096.84V1575.73M856.54 1101.88V1565.65M859.22 1101.88V1565.65M861.91 1106.92V1555.57M864.6 1106.92V1555.57M867.28 1111.96V1545.49M869.97 1111.96V1545.49M872.66 1117V1530.37M875.35 1117V1530.37M878.03 1122.04V1520.28M880.72 1122.04V1520.28M883.41 1127.09V1510.2M886.09 1127.09V1510.2M888.78 1137.17V1495.08M891.47 1137.17V1495.08M894.15 1147.25V1485M896.84 1147.25V1485M899.53 1152.29V1469.87M902.22 1152.29V1469.87M904.9 1162.37V1444.67M907.59 1162.37V1444.67M910.28 1172.45V1404.34M912.96 1172.45V1404.34M915.65 1182.54V1399.3M918.34 1182.54V1399.3M921.02 1207.74V1379.13M923.71 1207.74V1379.13M926.4 1253.11V1308.56M929.09 1253.11V1308.56M826.98 1091.8H848.48M826.98 1094.32H848.48M816.23 1096.84H853.85M816.23 1099.36H853.85M816.23 1101.88H859.22M816.23 1104.4H859.22M816.23 1106.92H864.6M816.23 1109.44H864.6M816.23 1111.96H869.97M816.23 1114.48H869.97M810.86 1117H875.35M810.86 1119.52H875.35M800.11 1122.04H880.72M800.11 1124.56H880.72M794.74 1127.09H886.09M794.74 1129.61H886.09M789.36 1132.13H886.09M789.36 1134.65H886.09M783.99 1137.17H891.47M783.99 1139.69H891.47M778.61 1142.21H891.47M778.61 1144.73H891.47M773.24 1147.25H896.84M773.24 1149.77H896.84M767.87 1152.29H902.22M767.87 1154.81H902.22M762.49 1157.33H902.22M762.49 1159.85H902.22M757.12 1162.37H907.59M757.12 1164.89H907.59M751.74 1167.41H907.59M751.74 1169.93H907.59M746.37 1172.45H912.96M746.37 1174.97H912.96M741 1177.5H912.96M741 1180.02H912.96M735.62 1182.54H918.34M735.62 1185.06H918.34M730.25 1187.58H918.34M730.25 1190.1H918.34M730.25 1192.62H918.34M730.25 1195.14H918.34M724.87 1197.66H918.34M724.87 1200.18H918.34M719.5 1202.7H918.34M719.5 1205.22H918.34M719.5 1207.74H923.71M719.5 1210.26H923.71M714.13 1212.78H923.71M714.13 1215.3H923.71M703.38 1217.82H923.71M703.38 1220.34H923.71M692.63 1222.86H923.71M692.63 1225.38H923.71M681.88 1227.9H923.71M681.88 1230.43H923.71M676.51 1232.95H923.71M676.51 1235.47H923.71M671.13 1237.99H923.71M671.13 1240.51H923.71M665.76 1243.03H923.71M665.76 1245.55H923.71M660.39 1248.07H923.71M660.39 1250.59H923.71M649.64 1253.11H929.09M649.64 1255.63H929.09M644.26 1258.15H929.09M644.26 1260.67H929.09M638.89 1263.19H929.09M638.89 1265.71H929.09M628.14 1268.23H929.09M628.14 1270.75H929.09M622.77 1273.27H929.09M622.77 1275.79H929.09M617.39 1278.32H929.09M617.39 1280.84H929.09M612.02 1283.36H929.09M612.02 1285.88H929.09M606.65 1288.4H929.09M606.65 1290.92H929.09M601.27 1293.44H929.09M601.27 1295.96H929.09M585.15 1298.48H929.09M585.15 1301H929.09M574.4 1303.52H929.09M574.4 1306.04H929.09M563.65 1308.56H929.09M563.65 1311.08H923.71M552.91 1313.6H923.71M552.91 1316.12H923.71M536.78 1318.64H923.71M536.78 1321.16H923.71M526.04 1323.68H923.71M526.04 1326.2H923.71M509.91 1328.73H923.71M509.91 1331.25H923.71M499.17 1333.77H923.71M499.17 1336.29H923.71M493.79 1338.81H923.71M493.79 1341.33H923.71M493.79 1343.85H923.71M493.79 1346.37H923.71M488.42 1348.89H923.71M488.42 1351.41H923.71M488.42 1353.93H923.71M488.42 1356.45H923.71M488.42 1358.97H923.71M488.42 1361.49H923.71M456.17 1364.01H923.71M456.17 1366.53H923.71M434.68 1369.05H923.71M434.68 1371.57H923.71M429.3 1374.09H923.71M429.3 1376.61H923.71M423.93 1379.13H923.71M423.93 1381.66H918.34M418.56 1384.18H918.34M418.56 1386.7H918.34M413.18 1389.22H918.34M413.18 1391.74H918.34M413.18 1394.26H918.34M413.18 1396.78H918.34M407.81 1399.3H918.34M407.81 1401.82H912.96M407.81 1404.34H912.96M407.81 1406.86H907.59M407.81 1409.38H907.59M407.81 1411.9H907.59M407.81 1414.42H907.59M413.18 1416.94H907.59M413.18 1419.46H907.59M413.18 1421.98H907.59M413.18 1424.5H907.59M413.18 1427.02H907.59M413.18 1429.55H907.59M418.56 1432.07H907.59M418.56 1434.59H907.59M418.56 1437.11H907.59M418.56 1439.63H907.59M423.93 1442.15H907.59M423.93 1444.67H907.59M423.93 1447.19H902.22M423.93 1449.71H902.22M429.3 1452.23H902.22M429.3 1454.75H902.22M429.3 1457.27H902.22M429.3 1459.79H902.22M429.3 1462.31H902.22M429.3 1464.83H902.22M434.68 1467.35H902.22M434.68 1469.87H902.22M434.68 1472.39H896.84M434.68 1474.91H896.84M434.68 1477.43H896.84M434.68 1479.95H896.84M434.68 1482.48H896.84M434.68 1485H896.84M440.05 1487.52H891.47M440.05 1490.04H891.47M440.05 1492.56H891.47M440.05 1495.08H891.47M440.05 1497.6H886.09M440.05 1500.12H886.09M445.43 1502.64H886.09M445.43 1505.16H886.09M445.43 1507.68H886.09M445.43 1510.2H886.09M445.43 1512.72H880.72M445.43 1515.24H880.72M445.43 1517.76H880.72M445.43 1520.28H880.72M445.43 1522.8H875.35M445.43 1525.32H875.35M445.43 1527.84H875.35M445.43 1530.37H875.35M445.43 1532.89H869.97M445.43 1535.41H869.97M445.43 1537.93H869.97M445.43 1540.45H869.97M445.43 1542.97H869.97M445.43 1545.49H869.97M445.43 1548.01H864.6M445.43 1550.53H864.6M445.43 1553.05H864.6M445.43 1555.57H864.6M445.43 1558.09H859.22M445.43 1560.61H859.22M445.43 1563.13H859.22M445.43 1565.65H859.22M445.43 1568.17H853.85M445.43 1570.69H853.85M445.43 1573.21H853.85M445.43 1575.73H853.85M445.43 1578.25H848.48M445.43 1580.78H848.48M445.43 1583.3H848.48M445.43 1585.82H848.48M445.43 1588.34H843.1M445.43 1590.86H843.1M445.43 1593.38H837.73M445.43 1595.9H837.73M445.43 1598.42H837.73M445.43 1600.94H837.73M445.43 1603.46H832.35M445.43 1605.98H832.35M445.43 1608.5H832.35M445.43 1611.02H832.35M445.43 1613.54H826.98M445.43 1616.06H826.98M450.8 1618.58H826.98M450.8 1621.1H826.98M450.8 1623.62H821.61M450.8 1626.14H821.61M450.8 1628.66H816.23M450.8 1631.18H816.23M450.8 1633.71H816.23M450.8 1636.23H816.23M456.17 1638.75H810.86M456.17 1641.27H810.86M456.17 1643.79H805.48M456.17 1646.31H805.48M461.55 1648.83H800.11M461.55 1651.35H800.11M461.55 1653.87H794.74M461.55 1656.39H794.74M466.92 1658.91H794.74M466.92 1661.43H794.74M466.92 1663.95H789.36M466.92 1666.47H789.36M466.92 1668.99H783.99M466.92 1671.51H783.99M472.3 1674.03H778.61M472.3 1676.55H778.61M477.67 1679.07H773.24M477.67 1681.6H773.24M477.67 1684.12H767.87M477.67 1686.64H767.87M483.04 1689.16H762.49M483.04 1691.68H762.49M483.04 1694.2H757.12M483.04 1696.72H757.12M488.42 1699.24H751.74M488.42 1701.76H751.74M493.79 1704.28H746.37M493.79 1706.8H746.37M493.79 1709.32H741M493.79 1711.84H741M499.17 1714.36H741M499.17 1716.88H741M504.54 1719.4H735.62M504.54 1721.92H735.62M509.91 1724.44H730.25M509.91 1726.96H730.25M515.29 1729.48H719.5M515.29 1732.01H719.5M520.66 1734.53H714.13M520.66 1737.05H714.13M531.41 1739.57H708.75M531.41 1742.09H708.75M536.78 1744.61H703.38M536.78 1747.13H703.38M547.53 1749.65H692.63M547.53 1752.17H692.63M552.91 1754.69H687.26M552.91 1757.21H687.26M563.65 1759.73H676.51M563.65 1762.25H676.51M574.4 1764.77H665.76M574.4 1767.29H665.76M590.52 1769.81H655.01M590.52 1772.33H655.01" fill="none" stroke="#fff" stroke-opacity="0.18" stroke-width="0.75"/></g>
<g>
<g filter="url(#b2)" fill="#fff">
<ellipse cx="546" cy="1443" rx="7.3" ry="4.7" opacity="0.04"/>
<ellipse cx="675" cy="1761" rx="3.7" ry="2.2" opacity="0.07"/>
<ellipse cx="812" cy="1194" rx="4.5" ry="5.3" opacity="0.06"/>
<ellipse cx="823" cy="1453" rx="7.7" ry="2.5" opacity="0.06"/>
<ellipse cx="578" cy="1448" rx="5.1" ry="5.9" opacity="0.07"/>
<ellipse cx="565" cy="1595" rx="7.1" ry="3.5" opacity="0.08"/>
<ellipse cx="468" cy="1496" rx="7.8" ry="5.7" opacity="0.13"/>
<ellipse cx="850" cy="1378" rx="7.1" ry="4.1" opacity="0.06"/>
<ellipse cx="804" cy="1312" rx="7.0" ry="3.5" opacity="0.09"/>
<ellipse cx="546" cy="1567" rx="5.8" ry="2.9" opacity="0.11"/>
<ellipse cx="654" cy="1766" rx="7.0" ry="3.6" opacity="0.11"/>
<ellipse cx="761" cy="1501" rx="6.4" ry="3.5" opacity="0.08"/>
<ellipse cx="697" cy="1743" rx="6.2" ry="5.0" opacity="0.06"/>
<ellipse cx="476" cy="1438" rx="7.5" ry="5.4" opacity="0.11"/>
<ellipse cx="603" cy="1600" rx="2.7" ry="3.1" opacity="0.10"/>
<ellipse cx="678" cy="1572" rx="7.4" ry="2.6" opacity="0.08"/>
<ellipse cx="460" cy="1441" rx="6.1" ry="4.0" opacity="0.05"/>
<ellipse cx="772" cy="1678" rx="7.3" ry="5.2" opacity="0.10"/>
<ellipse cx="853" cy="1373" rx="6.6" ry="4.9" opacity="0.08"/>
<ellipse cx="544" cy="1494" rx="5.3" ry="5.5" opacity="0.10"/>
<ellipse cx="799" cy="1630" rx="6.8" ry="3.5" opacity="0.13"/>
<ellipse cx="514" cy="1718" rx="4.8" ry="2.2" opacity="0.10"/>
<ellipse cx="699" cy="1350" rx="2.7" ry="3.7" opacity="0.05"/>
<ellipse cx="726" cy="1637" rx="3.6" ry="3.5" opacity="0.07"/>
<ellipse cx="621" cy="1499" rx="4.6" ry="5.2" opacity="0.07"/>
<ellipse cx="793" cy="1506" rx="8.1" ry="3.0" opacity="0.06"/>
<ellipse cx="758" cy="1577" rx="8.1" ry="4.6" opacity="0.06"/>
<ellipse cx="834" cy="1237" rx="2.9" ry="5.1" opacity="0.04"/>
<ellipse cx="850" cy="1234" rx="6.6" ry="3.9" opacity="0.12"/>
<ellipse cx="758" cy="1229" rx="2.8" ry="2.3" opacity="0.09"/>
<ellipse cx="842" cy="1275" rx="7.9" ry="3.2" opacity="0.06"/>
<ellipse cx="769" cy="1199" rx="5.3" ry="5.9" opacity="0.12"/>
<ellipse cx="761" cy="1534" rx="3.8" ry="4.5" opacity="0.08"/>
<ellipse cx="874" cy="1481" rx="2.5" ry="4.7" opacity="0.09"/>
<ellipse cx="769" cy="1322" rx="4.6" ry="5.1" opacity="0.10"/>
<ellipse cx="452" cy="1413" rx="7.1" ry="4.9" opacity="0.05"/>
<ellipse cx="535" cy="1453" rx="8.3" ry="3.6" opacity="0.07"/>
<ellipse cx="549" cy="1370" rx="4.5" ry="3.1" opacity="0.12"/>
<ellipse cx="713" cy="1542" rx="5.5" ry="5.8" opacity="0.09"/>
<ellipse cx="740" cy="1194" rx="5.8" ry="2.0" opacity="0.07"/>
<ellipse cx="707" cy="1380" rx="3.2" ry="2.8" opacity="0.07"/>
<ellipse cx="460" cy="1481" rx="6.7" ry="3.2" opacity="0.08"/>
<ellipse cx="777" cy="1343" rx="3.0" ry="2.4" opacity="0.06"/>
<ellipse cx="826" cy="1524" rx="6.9" ry="4.3" opacity="0.07"/>
<ellipse cx="836" cy="1254" rx="4.1" ry="5.2" opacity="0.07"/>
<ellipse cx="917" cy="1186" rx="4.5" ry="2.7" opacity="0.05"/>
<ellipse cx="490" cy="1645" rx="4.1" ry="5.5" opacity="0.09"/>
<ellipse cx="675" cy="1605" rx="6.0" ry="2.2" opacity="0.07"/>
<ellipse cx="861" cy="1549" rx="3.3" ry="5.8" opacity="0.11"/>
<ellipse cx="713" cy="1448" rx="7.0" ry="4.0" opacity="0.12"/>
<ellipse cx="447" cy="1524" rx="5.0" ry="5.8" opacity="0.07"/>
<ellipse cx="627" cy="1564" rx="7.3" ry="2.6" opacity="0.13"/>
<ellipse cx="842" cy="1212" rx="8.3" ry="3.6" opacity="0.13"/>
<ellipse cx="810" cy="1461" rx="4.7" ry="5.8" opacity="0.11"/>
<ellipse cx="772" cy="1378" rx="6.5" ry="2.9" opacity="0.09"/>
<ellipse cx="530" cy="1335" rx="2.8" ry="2.8" opacity="0.05"/>
<ellipse cx="573" cy="1491" rx="6.0" ry="3.6" opacity="0.10"/>
<ellipse cx="490" cy="1524" rx="3.8" ry="2.5" opacity="0.13"/>
<ellipse cx="756" cy="1408" rx="7.6" ry="3.4" opacity="0.05"/>
<ellipse cx="672" cy="1416" rx="8.0" ry="4.5" opacity="0.13"/>
<ellipse cx="629" cy="1592" rx="2.9" ry="2.0" opacity="0.05"/>
<ellipse cx="592" cy="1761" rx="4.3" ry="3.4" opacity="0.04"/>
<ellipse cx="573" cy="1648" rx="3.9" ry="4.0" opacity="0.09"/>
<ellipse cx="490" cy="1567" rx="5.6" ry="2.4" opacity="0.07"/>
<ellipse cx="646" cy="1695" rx="7.0" ry="4.9" opacity="0.04"/>
<ellipse cx="756" cy="1562" rx="7.6" ry="4.0" opacity="0.07"/>
<ellipse cx="659" cy="1358" rx="5.3" ry="3.1" opacity="0.09"/>
<ellipse cx="616" cy="1645" rx="2.9" ry="3.6" opacity="0.10"/>
<ellipse cx="828" cy="1476" rx="2.8" ry="5.4" opacity="0.10"/>
<ellipse cx="533" cy="1453" rx="5.9" ry="3.4" opacity="0.10"/>
<ellipse cx="643" cy="1751" rx="8.0" ry="5.8" opacity="0.12"/>
<ellipse cx="861" cy="1474" rx="5.0" ry="5.7" opacity="0.04"/>
<ellipse cx="904" cy="1317" rx="7.1" ry="5.6" opacity="0.11"/>
<ellipse cx="619" cy="1496" rx="5.0" ry="2.8" opacity="0.11"/>
<ellipse cx="605" cy="1587" rx="6.6" ry="5.4" opacity="0.12"/>
<ellipse cx="492" cy="1466" rx="8.4" ry="2.2" opacity="0.06"/>
<ellipse cx="581" cy="1655" rx="5.1" ry="5.3" opacity="0.13"/>
<ellipse cx="758" cy="1690" rx="5.8" ry="4.4" opacity="0.12"/>
<ellipse cx="791" cy="1653" rx="3.0" ry="2.7" opacity="0.09"/>
<ellipse cx="869" cy="1393" rx="3.0" ry="4.3" opacity="0.09"/>
<ellipse cx="597" cy="1539" rx="7.0" ry="4.3" opacity="0.10"/>
<ellipse cx="844" cy="1506" rx="4.5" ry="3.7" opacity="0.11"/>
<ellipse cx="734" cy="1189" rx="2.7" ry="3.4" opacity="0.11"/>
<ellipse cx="627" cy="1506" rx="4.6" ry="4.7" opacity="0.09"/>
<ellipse cx="804" cy="1418" rx="7.8" ry="3.5" opacity="0.09"/>
<ellipse cx="664" cy="1605" rx="7.1" ry="4.9" opacity="0.07"/>
<ellipse cx="659" cy="1280" rx="4.6" ry="3.8" opacity="0.07"/>
<ellipse cx="616" cy="1753" rx="8.3" ry="5.2" opacity="0.05"/>
<ellipse cx="654" cy="1504" rx="4.0" ry="4.1" opacity="0.11"/>
<ellipse cx="659" cy="1703" rx="7.3" ry="4.4" opacity="0.06"/>
<ellipse cx="705" cy="1501" rx="7.0" ry="4.4" opacity="0.11"/>
<ellipse cx="853" cy="1365" rx="4.4" ry="5.4" opacity="0.05"/>
<ellipse cx="535" cy="1464" rx="6.3" ry="2.1" opacity="0.07"/>
<ellipse cx="756" cy="1428" rx="5.1" ry="5.0" opacity="0.09"/>
<ellipse cx="691" cy="1312" rx="2.6" ry="3.9" opacity="0.04"/>
<ellipse cx="898" cy="1469" rx="7.4" ry="5.3" opacity="0.08"/>
<ellipse cx="769" cy="1471" rx="3.2" ry="5.8" opacity="0.13"/>
<ellipse cx="471" cy="1511" rx="5.6" ry="5.7" opacity="0.11"/>
<ellipse cx="834" cy="1479" rx="3.0" ry="3.7" opacity="0.07"/>
<ellipse cx="560" cy="1617" rx="5.7" ry="6.0" opacity="0.10"/>
<ellipse cx="887" cy="1451" rx="6.1" ry="3.3" opacity="0.10"/>
<ellipse cx="761" cy="1413" rx="3.2" ry="4.6" opacity="0.06"/>
<ellipse cx="855" cy="1330" rx="8.2" ry="5.6" opacity="0.09"/>
<ellipse cx="670" cy="1272" rx="5.2" ry="5.7" opacity="0.07"/>
<ellipse cx="713" cy="1325" rx="3.2" ry="4.5" opacity="0.13"/>
<ellipse cx="893" cy="1385" rx="4.7" ry="3.3" opacity="0.10"/>
<ellipse cx="850" cy="1350" rx="3.4" ry="5.6" opacity="0.13"/>
<ellipse cx="732" cy="1234" rx="4.8" ry="5.0" opacity="0.09"/>
<ellipse cx="471" cy="1431" rx="4.3" ry="5.0" opacity="0.04"/>
<ellipse cx="519" cy="1600" rx="3.7" ry="5.6" opacity="0.09"/>
<ellipse cx="509" cy="1663" rx="5.3" ry="5.7" opacity="0.09"/>
<ellipse cx="519" cy="1620" rx="2.6" ry="4.2" opacity="0.13"/>
<ellipse cx="853" cy="1554" rx="4.1" ry="6.0" opacity="0.12"/>
<ellipse cx="557" cy="1673" rx="5.8" ry="3.1" opacity="0.06"/>
<ellipse cx="890" cy="1242" rx="6.9" ry="6.0" opacity="0.12"/>
<ellipse cx="756" cy="1327" rx="4.6" ry="5.9" opacity="0.05"/>
<ellipse cx="874" cy="1327" rx="7.2" ry="4.3" opacity="0.12"/>
<ellipse cx="514" cy="1648" rx="4.4" ry="3.3" opacity="0.06"/>
<ellipse cx="554" cy="1640" rx="7.0" ry="3.8" opacity="0.11"/>
<ellipse cx="678" cy="1242" rx="2.6" ry="5.1" opacity="0.10"/>
<ellipse cx="689" cy="1247" rx="7.8" ry="5.6" opacity="0.09"/>
<ellipse cx="584" cy="1378" rx="2.8" ry="3.3" opacity="0.11"/>
<ellipse cx="495" cy="1668" rx="3.3" ry="2.4" opacity="0.10"/>
<ellipse cx="549" cy="1390" rx="7.5" ry="2.8" opacity="0.10"/>
<ellipse cx="740" cy="1627" rx="3.9" ry="5.5" opacity="0.12"/>
<ellipse cx="667" cy="1595" rx="7.4" ry="5.4" opacity="0.06"/>
<ellipse cx="627" cy="1771" rx="8.3" ry="4.4" opacity="0.07"/>
<ellipse cx="767" cy="1325" rx="2.6" ry="5.6" opacity="0.05"/>
<ellipse cx="812" cy="1375" rx="6.1" ry="5.3" opacity="0.10"/>
<ellipse cx="458" cy="1625" rx="6.8" ry="2.8" opacity="0.05"/>
<ellipse cx="705" cy="1713" rx="3.1" ry="3.0" opacity="0.11"/>
<ellipse cx="807" cy="1209" rx="4.7" ry="2.0" opacity="0.07"/>
<ellipse cx="511" cy="1343" rx="4.6" ry="3.9" opacity="0.08"/>
<ellipse cx="718" cy="1587" rx="3.8" ry="5.8" opacity="0.06"/>
<ellipse cx="632" cy="1527" rx="4.5" ry="2.8" opacity="0.13"/>
<ellipse cx="640" cy="1300" rx="4.9" ry="3.7" opacity="0.11"/>
<ellipse cx="879" cy="1443" rx="3.5" ry="2.4" opacity="0.11"/>
<ellipse cx="745" cy="1368" rx="8.2" ry="2.9" opacity="0.05"/>
<ellipse cx="780" cy="1249" rx="4.6" ry="5.9" opacity="0.11"/>
<ellipse cx="603" cy="1766" rx="2.7" ry="3.9" opacity="0.13"/>
<ellipse cx="694" cy="1542" rx="7.8" ry="2.2" opacity="0.12"/>
<ellipse cx="624" cy="1685" rx="2.8" ry="2.9" opacity="0.08"/>
<ellipse cx="879" cy="1330" rx="6.0" ry="5.0" opacity="0.13"/>
<ellipse cx="611" cy="1534" rx="5.0" ry="3.4" opacity="0.09"/>
<ellipse cx="748" cy="1390" rx="5.8" ry="4.5" opacity="0.06"/>
<ellipse cx="643" cy="1272" rx="5.7" ry="2.8" opacity="0.11"/>
<ellipse cx="750" cy="1567" rx="8.1" ry="3.7" opacity="0.08"/>
<ellipse cx="479" cy="1637" rx="7.1" ry="4.6" opacity="0.04"/>
<ellipse cx="659" cy="1615" rx="4.2" ry="3.4" opacity="0.12"/>
<ellipse cx="667" cy="1668" rx="5.0" ry="2.7" opacity="0.10"/>
<ellipse cx="898" cy="1169" rx="5.8" ry="3.1" opacity="0.10"/>
<ellipse cx="807" cy="1378" rx="5.3" ry="5.3" opacity="0.12"/>
<ellipse cx="718" cy="1665" rx="7.2" ry="2.9" opacity="0.04"/>
<ellipse cx="525" cy="1660" rx="6.3" ry="5.7" opacity="0.05"/>
<ellipse cx="858" cy="1423" rx="3.4" ry="6.0" opacity="0.10"/>
<ellipse cx="877" cy="1327" rx="7.8" ry="3.0" opacity="0.11"/>
<ellipse cx="893" cy="1363" rx="3.7" ry="3.0" opacity="0.06"/>
<ellipse cx="466" cy="1572" rx="3.9" ry="5.3" opacity="0.05"/>
<ellipse cx="681" cy="1721" rx="3.0" ry="5.2" opacity="0.08"/>
<ellipse cx="715" cy="1222" rx="3.1" ry="5.0" opacity="0.10"/>
<ellipse cx="710" cy="1544" rx="4.1" ry="5.6" opacity="0.12"/>
<ellipse cx="546" cy="1355" rx="6.1" ry="3.1" opacity="0.09"/>
<ellipse cx="705" cy="1665" rx="8.2" ry="3.0" opacity="0.05"/>
<ellipse cx="866" cy="1451" rx="8.4" ry="2.9" opacity="0.08"/>
<ellipse cx="595" cy="1401" rx="6.0" ry="2.1" opacity="0.08"/>
<ellipse cx="656" cy="1489" rx="2.9" ry="5.9" opacity="0.10"/>
<ellipse cx="538" cy="1537" rx="5.4" ry="3.4" opacity="0.10"/>
<ellipse cx="756" cy="1421" rx="3.1" ry="2.6" opacity="0.06"/>
<ellipse cx="638" cy="1562" rx="4.6" ry="3.2" opacity="0.08"/>
<ellipse cx="820" cy="1370" rx="6.9" ry="5.4" opacity="0.04"/>
<ellipse cx="503" cy="1511" rx="4.3" ry="4.3" opacity="0.06"/>
<ellipse cx="672" cy="1506" rx="4.3" ry="5.0" opacity="0.05"/>
<ellipse cx="724" cy="1443" rx="5.0" ry="4.7" opacity="0.08"/>
<ellipse cx="471" cy="1539" rx="3.7" ry="5.3" opacity="0.07"/>
<ellipse cx="869" cy="1262" rx="5.0" ry="3.1" opacity="0.12"/>
<ellipse cx="828" cy="1370" rx="3.8" ry="2.5" opacity="0.07"/>
<ellipse cx="447" cy="1542" rx="3.7" ry="3.1" opacity="0.07"/>
<ellipse cx="823" cy="1529" rx="2.6" ry="2.5" opacity="0.10"/>
<ellipse cx="629" cy="1428" rx="7.6" ry="4.6" opacity="0.11"/>
<ellipse cx="455" cy="1383" rx="6.1" ry="2.2" opacity="0.05"/>
<ellipse cx="713" cy="1471" rx="7.9" ry="3.4" opacity="0.07"/>
<ellipse cx="697" cy="1237" rx="4.0" ry="2.6" opacity="0.09"/>
<ellipse cx="670" cy="1370" rx="4.3" ry="5.0" opacity="0.07"/>
<ellipse cx="570" cy="1562" rx="6.2" ry="3.4" opacity="0.13"/>
<ellipse cx="839" cy="1388" rx="3.5" ry="2.3" opacity="0.10"/>
<ellipse cx="804" cy="1191" rx="7.1" ry="2.9" opacity="0.09"/>
<ellipse cx="879" cy="1212" rx="4.8" ry="2.5" opacity="0.09"/>
<ellipse cx="635" cy="1559" rx="6.6" ry="4.3" opacity="0.10"/>
<ellipse cx="468" cy="1577" rx="3.0" ry="3.3" opacity="0.09"/>
<ellipse cx="659" cy="1716" rx="8.3" ry="2.8" opacity="0.10"/>
<ellipse cx="826" cy="1574" rx="6.1" ry="3.7" opacity="0.06"/>
<ellipse cx="624" cy="1580" rx="6.9" ry="3.7" opacity="0.09"/>
<ellipse cx="492" cy="1479" rx="5.0" ry="5.3" opacity="0.06"/>
<ellipse cx="538" cy="1479" rx="8.3" ry="5.2" opacity="0.11"/>
<ellipse cx="707" cy="1509" rx="3.5" ry="3.7" opacity="0.09"/>
<ellipse cx="648" cy="1259" rx="2.9" ry="4.0" opacity="0.09"/>
<ellipse cx="858" cy="1501" rx="7.3" ry="3.0" opacity="0.06"/>
<ellipse cx="869" cy="1138" rx="3.5" ry="3.8" opacity="0.12"/>
<ellipse cx="460" cy="1496" rx="4.7" ry="5.7" opacity="0.07"/>
<ellipse cx="724" cy="1269" rx="8.4" ry="5.2" opacity="0.12"/>
<ellipse cx="511" cy="1345" rx="4.9" ry="4.4" opacity="0.10"/>
<ellipse cx="914" cy="1201" rx="3.9" ry="2.7" opacity="0.13"/>
<ellipse cx="707" cy="1607" rx="4.1" ry="5.7" opacity="0.08"/>
<ellipse cx="654" cy="1632" rx="5.4" ry="4.1" opacity="0.11"/>
<ellipse cx="761" cy="1683" rx="8.2" ry="2.4" opacity="0.05"/>
<ellipse cx="812" cy="1176" rx="7.9" ry="5.4" opacity="0.08"/>
<ellipse cx="640" cy="1678" rx="7.7" ry="3.2" opacity="0.05"/>
<ellipse cx="799" cy="1421" rx="6.9" ry="3.8" opacity="0.08"/>
<ellipse cx="670" cy="1388" rx="7.5" ry="4.0" opacity="0.12"/>
<ellipse cx="549" cy="1713" rx="8.1" ry="2.9" opacity="0.08"/>
<ellipse cx="654" cy="1290" rx="5.1" ry="2.0" opacity="0.13"/>
<ellipse cx="635" cy="1519" rx="3.6" ry="4.2" opacity="0.07"/>
<ellipse cx="484" cy="1489" rx="6.2" ry="5.8" opacity="0.10"/>
<ellipse cx="479" cy="1418" rx="3.9" ry="2.8" opacity="0.10"/>
<ellipse cx="640" cy="1665" rx="3.7" ry="4.0" opacity="0.05"/>
<ellipse cx="562" cy="1580" rx="5.5" ry="3.9" opacity="0.08"/>
<ellipse cx="549" cy="1547" rx="7.8" ry="5.3" opacity="0.12"/>
<ellipse cx="565" cy="1632" rx="7.5" ry="3.1" opacity="0.07"/>
<ellipse cx="689" cy="1272" rx="4.1" ry="2.9" opacity="0.10"/>
<ellipse cx="681" cy="1607" rx="8.5" ry="2.3" opacity="0.10"/>
<ellipse cx="629" cy="1658" rx="8.5" ry="3.8" opacity="0.10"/>
<ellipse cx="734" cy="1320" rx="7.4" ry="2.8" opacity="0.07"/>
<ellipse cx="793" cy="1348" rx="4.1" ry="5.4" opacity="0.09"/>
<ellipse cx="791" cy="1146" rx="7.3" ry="3.7" opacity="0.10"/>
<ellipse cx="820" cy="1592" rx="8.4" ry="2.5" opacity="0.09"/>
<ellipse cx="807" cy="1179" rx="3.5" ry="3.9" opacity="0.08"/>
<ellipse cx="748" cy="1343" rx="5.5" ry="4.5" opacity="0.09"/>
<ellipse cx="713" cy="1537" rx="3.2" ry="5.8" opacity="0.06"/>
<ellipse cx="492" cy="1537" rx="7.4" ry="3.6" opacity="0.08"/>
<ellipse cx="495" cy="1443" rx="5.5" ry="4.4" opacity="0.05"/>
<ellipse cx="482" cy="1617" rx="8.5" ry="4.8" opacity="0.05"/>
<ellipse cx="780" cy="1380" rx="3.0" ry="4.7" opacity="0.10"/>
<ellipse cx="463" cy="1617" rx="4.9" ry="3.8" opacity="0.06"/>
<ellipse cx="557" cy="1690" rx="3.7" ry="3.1" opacity="0.08"/>
<ellipse cx="608" cy="1358" rx="2.7" ry="4.3" opacity="0.07"/>
<ellipse cx="648" cy="1428" rx="3.7" ry="4.6" opacity="0.09"/>
<ellipse cx="724" cy="1509" rx="5.0" ry="5.7" opacity="0.04"/>
<ellipse cx="844" cy="1244" rx="5.1" ry="5.6" opacity="0.06"/>
<ellipse cx="463" cy="1431" rx="8.4" ry="5.6" opacity="0.07"/>
<ellipse cx="715" cy="1290" rx="3.0" ry="5.7" opacity="0.13"/>
<ellipse cx="646" cy="1751" rx="3.9" ry="2.7" opacity="0.11"/>
<ellipse cx="812" cy="1206" rx="6.8" ry="3.6" opacity="0.13"/>
<ellipse cx="839" cy="1199" rx="8.2" ry="2.7" opacity="0.06"/>
<ellipse cx="777" cy="1320" rx="7.7" ry="5.8" opacity="0.12"/>
<ellipse cx="670" cy="1340" rx="4.7" ry="3.8" opacity="0.10"/>
<ellipse cx="573" cy="1401" rx="6.7" ry="3.1" opacity="0.12"/>
<ellipse cx="441" cy="1461" rx="5.1" ry="3.8" opacity="0.12"/>
<ellipse cx="842" cy="1143" rx="8.2" ry="2.4" opacity="0.04"/>
<ellipse cx="552" cy="1474" rx="4.9" ry="3.2" opacity="0.06"/>
<ellipse cx="702" cy="1632" rx="8.1" ry="5.3" opacity="0.09"/>
<ellipse cx="799" cy="1511" rx="7.8" ry="3.3" opacity="0.07"/>
<ellipse cx="839" cy="1461" rx="7.0" ry="4.9" opacity="0.10"/>
<ellipse cx="898" cy="1466" rx="5.9" ry="2.0" opacity="0.07"/>
<ellipse cx="861" cy="1489" rx="4.3" ry="4.8" opacity="0.05"/>
<ellipse cx="581" cy="1416" rx="5.1" ry="4.6" opacity="0.09"/>
<ellipse cx="681" cy="1267" rx="4.7" ry="2.7" opacity="0.13"/>
<ellipse cx="815" cy="1421" rx="8.0" ry="3.8" opacity="0.11"/>
<ellipse cx="748" cy="1622" rx="3.2" ry="2.3" opacity="0.04"/>
<ellipse cx="560" cy="1736" rx="6.7" ry="5.1" opacity="0.05"/>
<ellipse cx="570" cy="1441" rx="2.5" ry="5.3" opacity="0.13"/>
</g>
<g filter="url(#b1)" fill="none" stroke="#fff" stroke-linecap="round" stroke-linejoin="round">
<path d="M815.99 1189.97L836.47 1179.73" stroke-width="4" stroke-opacity="0.8"/>
<path d="M763.32 1229.47L777.95 1225.08L795.51 1228.01" stroke-width="5" stroke-opacity="0.9"/>
<path d="M731.13 1242.64L760.4 1233.86" stroke-width="3" stroke-opacity="0.5"/>
<path d="M631.65 1288L653.59 1279.22" stroke-width="5" stroke-opacity="0.8"/>
<path d="M672.61 1271.9L701.87 1260.2" stroke-width="5" stroke-opacity="0.7"/>
<path d="M804.29 1308.48L824.77 1304.09" stroke-width="6" stroke-opacity="0.95"/>
<path d="M701.87 1318.72L701.87 1342.13" stroke-width="4" stroke-opacity="0.6"/>
<ellipse cx="609.7" cy="1331.89" rx="2.5" ry="3.5" transform="rotate(0 609.7 1331.89)" fill="#fff" fill-opacity="0.8" stroke="none"/>
<path d="M739.91 1406.5L760.4 1406.5" stroke-width="6" stroke-opacity="0.95"/>
<ellipse cx="599.46" cy="1422.6" rx="3" ry="3" transform="rotate(0 599.46 1422.6)" fill="#fff" fill-opacity="0.9" stroke="none"/>
<path d="M836.47 1390.41L862.81 1394.8L892.07 1405.04" stroke-width="5" stroke-opacity="0.7"/>
<path d="M681.39 1454.13L696.02 1455.01" stroke-width="6" stroke-opacity="0.95"/>
<ellipse cx="561.42" cy="1484.86" rx="11" ry="8" transform="rotate(30 561.42 1484.86)" fill="#fff" fill-opacity="1" stroke="none"/>
<ellipse cx="540.35" cy="1517.63" rx="7" ry="5" transform="rotate(-10 540.35 1517.63)" fill="#fff" fill-opacity="0.9" stroke="none"/>
<ellipse cx="605.31" cy="1533.14" rx="7" ry="7" transform="rotate(0 605.31 1533.14)" fill="#fff" fill-opacity="0.9" stroke="none"/>
<ellipse cx="528.65" cy="1550.69" rx="3.5" ry="3.5" transform="rotate(0 528.65 1550.69)" fill="#fff" fill-opacity="0.9" stroke="none"/>
<ellipse cx="554.1" cy="1577.03" rx="4" ry="7" transform="rotate(-10 554.1 1577.03)" fill="#fff" fill-opacity="0.9" stroke="none"/>
<path d="M665.3 1565.33L677 1569.13" stroke-width="5" stroke-opacity="0.9"/>
<path d="M656.52 1578.49L660.91 1590.2" stroke-width="4.5" stroke-opacity="0.9"/>
<path d="M739.91 1470.23L751.62 1484.86L772.1 1498.02" stroke-width="5" stroke-opacity="0.8"/>
<ellipse cx="769.17" cy="1585.81" rx="3" ry="3" transform="rotate(0 769.17 1585.81)" fill="#fff" fill-opacity="0.6" stroke="none"/>
<ellipse cx="540.94" cy="1669.2" rx="3.5" ry="3.5" transform="rotate(0 540.94 1669.2)" fill="#fff" fill-opacity="0.8" stroke="none"/>
<ellipse cx="653.59" cy="1688.22" rx="2.5" ry="4" transform="rotate(-20 653.59 1688.22)" fill="#fff" fill-opacity="0.7" stroke="none"/>
<ellipse cx="466.32" cy="1446.82" rx="3" ry="4" transform="rotate(-30 466.32 1446.82)" fill="#fff" fill-opacity="0.7" stroke="none"/>
<path d="M710.65 1664.81L731.13 1670.67L748.69 1677.98" stroke-width="3" stroke-opacity="0.5"/>
<path d="M593.61 1637.02L598 1651.65" stroke-width="3" stroke-opacity="0.5"/>
<path d="M482.41 1522.9L486.8 1530.21" stroke-width="3" stroke-opacity="0.5"/>
<path d="M824.77 1462.91L833.55 1464.37" stroke-width="3" stroke-opacity="0.5"/>
<path d="M552.64 1411.7L557.03 1423.41" stroke-width="3" stroke-opacity="0.5"/>
<ellipse cx="599.46" cy="1423.41" rx="4" ry="5" transform="rotate(0 599.46 1423.41)" fill="#fff" fill-opacity="0.9" stroke="none"/>
</g>
<g fill="#777">
<ellipse cx="558.49" cy="1484.86" rx="4" ry="3.2"/>
<ellipse cx="540.35" cy="1517.63" rx="3" ry="2"/>
<ellipse cx="605.31" cy="1533.72" rx="3" ry="3"/>
<ellipse cx="554.69" cy="1577.03" rx="1.6" ry="3"/>
</g>
<path d="M829.67 1096.84h2.69v2.52h-2.69zM837.73 1096.84h2.69v2.52h-2.69zM818.92 1101.88h2.69v2.52h-2.69zM845.79 1106.92h2.69v3.02h-2.69zM845.79 1109.44h8.06v3.02h-8.06zM816.23 1111.96h2.69v2.52h-2.69zM829.67 1111.96h5.37v2.52h-5.37zM848.48 1111.96h5.37v3.02h-5.37zM826.98 1114.48h2.69v2.52h-2.69zM843.1 1114.48h2.69v2.52h-2.69zM848.48 1114.48h2.69v2.52h-2.69zM824.29 1117h2.69v2.52h-2.69zM845.79 1117h2.69v3.02h-2.69zM837.73 1119.52h2.69v2.52h-2.69zM845.79 1119.52h2.69v2.52h-2.69zM813.54 1122.04h2.69v3.02h-2.69zM813.54 1124.56h8.06v2.52h-8.06zM851.16 1127.09h5.37v2.52h-5.37zM872.66 1129.61h2.69v2.52h-2.69zM848.48 1132.13h2.69v2.52h-2.69zM805.48 1134.65h2.69v2.52h-2.69zM792.05 1139.69h2.69v2.52h-2.69zM816.23 1139.69h8.06v3.02h-8.06zM886.09 1139.69h2.69v3.02h-2.69zM813.54 1142.21h10.75v3.02h-10.75zM883.41 1142.21h8.06v3.02h-8.06zM821.61 1144.73h2.69v2.52h-2.69zM835.04 1144.73h5.37v3.02h-5.37zM880.72 1144.73h5.37v2.52h-5.37zM775.93 1147.25h8.06v3.02h-8.06zM789.36 1147.25h5.37v2.52h-5.37zM805.48 1147.25h2.69v2.52h-2.69zM832.35 1147.25h16.12v3.02h-16.12zM851.16 1147.25h2.69v2.52h-2.69zM867.28 1147.25h2.69v2.52h-2.69zM778.61 1149.77h2.69v3.02h-2.69zM843.1 1149.77h5.37v2.52h-5.37zM767.87 1152.29h2.69v3.02h-2.69zM778.61 1152.29h2.69v2.52h-2.69zM786.67 1152.29h2.69v2.52h-2.69zM805.48 1152.29h2.69v3.02h-2.69zM899.53 1152.29h2.69v2.52h-2.69zM767.87 1154.81h2.69v2.52h-2.69zM805.48 1154.81h2.69v3.02h-2.69zM818.92 1154.81h2.69v2.52h-2.69zM832.35 1154.81h2.69v2.52h-2.69zM859.22 1154.81h8.06v3.02h-8.06zM875.35 1154.81h2.69v2.52h-2.69zM888.78 1154.81h2.69v2.52h-2.69zM802.8 1157.33h5.37v2.52h-5.37zM829.67 1157.33h2.69v3.02h-2.69zM843.1 1157.33h2.69v2.52h-2.69zM856.54 1157.33h8.06v3.02h-8.06zM792.05 1159.85h5.37v3.02h-5.37zM829.67 1159.85h8.06v3.02h-8.06zM853.85 1159.85h8.06v2.52h-8.06zM878.03 1159.85h2.69v3.02h-2.69zM757.12 1162.37h2.69v3.02h-2.69zM767.87 1162.37h8.06v2.52h-8.06zM786.67 1162.37h10.75v3.02h-10.75zM816.23 1162.37h2.69v2.52h-2.69zM832.35 1162.37h2.69v2.52h-2.69zM878.03 1162.37h8.06v2.52h-8.06zM757.12 1164.89h8.06v2.52h-8.06zM786.67 1164.89h10.75v2.52h-10.75zM824.29 1164.89h2.69v2.52h-2.69zM845.79 1164.89h8.06v3.02h-8.06zM775.93 1167.41h2.69v3.02h-2.69zM845.79 1167.41h2.69v2.52h-2.69zM759.8 1169.93h2.69v2.52h-2.69zM773.24 1169.93h5.37v3.02h-5.37zM783.99 1169.93h5.37v3.02h-5.37zM886.09 1169.93h2.69v2.52h-2.69zM896.84 1169.93h8.06v2.52h-8.06zM757.12 1172.45h2.69v2.52h-2.69zM767.87 1172.45h2.69v2.52h-2.69zM775.93 1172.45h2.69v2.52h-2.69zM786.67 1172.45h2.69v2.52h-2.69zM816.23 1172.45h2.69v3.02h-2.69zM864.6 1172.45h2.69v2.52h-2.69zM888.78 1172.45h2.69v2.52h-2.69zM894.15 1172.45h2.69v3.02h-2.69zM794.74 1174.97h5.37v3.02h-5.37zM808.17 1174.97h10.75v3.02h-10.75zM894.15 1174.97h5.37v2.52h-5.37zM910.28 1174.97h2.69v2.52h-2.69zM746.37 1177.5h2.69v3.02h-2.69zM797.42 1177.5h21.5v3.02h-21.5zM832.35 1177.5h5.37v3.02h-5.37zM869.97 1177.5h2.69v3.02h-2.69zM746.37 1180.02h5.37v2.52h-5.37zM797.42 1180.02h8.06v2.52h-8.06zM813.54 1180.02h8.06v2.52h-8.06zM832.35 1180.02h8.06v3.02h-8.06zM867.28 1180.02h5.37v3.02h-5.37zM741 1182.54h2.69v2.52h-2.69zM765.18 1182.54h2.69v2.52h-2.69zM781.3 1182.54h2.69v2.52h-2.69zM829.67 1182.54h5.37v2.52h-5.37zM851.16 1182.54h5.37v3.02h-5.37zM869.97 1182.54h2.69v2.52h-2.69zM910.28 1182.54h2.69v2.52h-2.69zM743.68 1185.06h5.37v3.02h-5.37zM810.86 1185.06h2.69v3.02h-2.69zM853.85 1185.06h2.69v2.52h-2.69zM899.53 1185.06h5.37v3.02h-5.37zM735.62 1187.58h13.43v2.52h-13.43zM778.61 1187.58h2.69v2.52h-2.69zM802.8 1187.58h10.75v2.52h-10.75zM821.61 1187.58h2.69v2.52h-2.69zM864.6 1187.58h2.69v2.52h-2.69zM899.53 1187.58h8.06v3.02h-8.06zM902.22 1190.1h5.37v2.52h-5.37zM762.49 1192.62h2.69v2.52h-2.69zM789.36 1192.62h2.69v3.02h-2.69zM840.41 1192.62h5.37v3.02h-5.37zM872.66 1192.62h2.69v2.52h-2.69zM894.15 1192.62h2.69v2.52h-2.69zM910.28 1192.62h2.69v3.02h-2.69zM751.74 1195.14h5.37v3.02h-5.37zM789.36 1195.14h2.69v2.52h-2.69zM810.86 1195.14h2.69v2.52h-2.69zM837.73 1195.14h8.06v3.02h-8.06zM859.22 1195.14h2.69v2.52h-2.69zM883.41 1195.14h2.69v2.52h-2.69zM910.28 1195.14h5.37v3.02h-5.37zM732.93 1197.66h5.37v2.52h-5.37zM749.06 1197.66h5.37v2.52h-5.37zM781.3 1197.66h5.37v3.02h-5.37zM794.74 1197.66h2.69v3.02h-2.69zM800.11 1197.66h2.69v2.52h-2.69zM826.98 1197.66h2.69v3.02h-2.69zM840.41 1197.66h10.75v3.02h-10.75zM896.84 1197.66h2.69v2.52h-2.69zM910.28 1197.66h8.06v3.02h-8.06zM759.8 1200.18h2.69v3.02h-2.69zM770.55 1200.18h2.69v3.02h-2.69zM781.3 1200.18h5.37v3.02h-5.37zM794.74 1200.18h5.37v3.02h-5.37zM824.29 1200.18h5.37v2.52h-5.37zM840.41 1200.18h8.06v3.02h-8.06zM886.09 1200.18h8.06v3.02h-8.06zM910.28 1200.18h5.37v3.02h-5.37zM741 1202.7h2.69v2.52h-2.69zM759.8 1202.7h2.69v3.02h-2.69zM770.55 1202.7h13.43v2.52h-13.43zM792.05 1202.7h5.37v3.02h-5.37zM810.86 1202.7h5.37v3.02h-5.37zM840.41 1202.7h8.06v3.02h-8.06zM888.78 1202.7h5.37v3.02h-5.37zM910.28 1202.7h5.37v2.52h-5.37zM757.12 1205.22h8.06v3.02h-8.06zM783.99 1205.22h2.69v2.52h-2.69zM792.05 1205.22h5.37v3.02h-5.37zM808.17 1205.22h5.37v2.52h-5.37zM829.67 1205.22h2.69v2.52h-2.69zM843.1 1205.22h5.37v3.02h-5.37zM851.16 1205.22h2.69v3.02h-2.69zM888.78 1205.22h2.69v3.02h-2.69zM751.74 1207.74h16.12v3.02h-16.12zM794.74 1207.74h8.06v3.02h-8.06zM837.73 1207.74h2.69v2.52h-2.69zM845.79 1207.74h8.06v3.02h-8.06zM888.78 1207.74h2.69v2.52h-2.69zM918.34 1207.74h2.69v2.52h-2.69zM757.12 1210.26h2.69v2.52h-2.69zM794.74 1210.26h5.37v3.02h-5.37zM818.92 1210.26h2.69v3.02h-2.69zM826.98 1210.26h2.69v2.52h-2.69zM848.48 1210.26h5.37v3.02h-5.37zM883.41 1210.26h2.69v3.02h-2.69zM794.74 1212.78h2.69v2.52h-2.69zM816.23 1212.78h5.37v3.02h-5.37zM848.48 1212.78h5.37v3.02h-5.37zM861.91 1212.78h2.69v2.52h-2.69zM880.72 1212.78h8.06v3.02h-8.06zM918.34 1212.78h5.37v3.02h-5.37zM781.3 1215.3h2.69v2.52h-2.69zM816.23 1215.3h2.69v3.02h-2.69zM843.1 1215.3h10.75v3.02h-10.75zM859.22 1215.3h2.69v2.52h-2.69zM880.72 1215.3h8.06v3.02h-8.06zM891.47 1215.3h2.69v2.52h-2.69zM915.65 1215.3h8.06v3.02h-8.06zM719.5 1217.82h2.69v2.52h-2.69zM735.62 1217.82h5.37v3.02h-5.37zM751.74 1217.82h5.37v2.52h-5.37zM786.67 1217.82h8.06v3.02h-8.06zM805.48 1217.82h2.69v2.52h-2.69zM816.23 1217.82h5.37v3.02h-5.37zM829.67 1217.82h8.06v3.02h-8.06zM843.1 1217.82h5.37v3.02h-5.37zM851.16 1217.82h2.69v3.02h-2.69zM856.54 1217.82h2.69v2.52h-2.69zM864.6 1217.82h2.69v2.52h-2.69zM872.66 1217.82h13.43v3.02h-13.43zM921.02 1217.82h2.69v2.52h-2.69zM732.93 1220.34h8.06v3.02h-8.06zM786.67 1220.34h5.37v3.02h-5.37zM810.86 1220.34h10.75v3.02h-10.75zM835.04 1220.34h2.69v2.52h-2.69zM843.1 1220.34h2.69v3.02h-2.69zM848.48 1220.34h5.37v3.02h-5.37zM883.41 1220.34h2.69v2.52h-2.69zM910.28 1220.34h5.37v3.02h-5.37zM711.44 1222.86h2.69v3.02h-2.69zM732.93 1222.86h5.37v3.02h-5.37zM786.67 1222.86h2.69v2.52h-2.69zM810.86 1222.86h10.75v3.02h-10.75zM840.41 1222.86h5.37v3.02h-5.37zM848.48 1222.86h2.69v2.52h-2.69zM872.66 1222.86h2.69v3.02h-2.69zM894.15 1222.86h2.69v2.52h-2.69zM904.9 1222.86h2.69v2.52h-2.69zM910.28 1222.86h5.37v3.02h-5.37zM711.44 1225.38h5.37v3.02h-5.37zM735.62 1225.38h2.69v2.52h-2.69zM741 1225.38h2.69v2.52h-2.69zM800.11 1225.38h2.69v3.02h-2.69zM816.23 1225.38h2.69v3.02h-2.69zM829.67 1225.38h2.69v3.02h-2.69zM840.41 1225.38h5.37v2.52h-5.37zM872.66 1225.38h5.37v2.52h-5.37zM912.96 1225.38h8.06v3.02h-8.06zM711.44 1227.9h2.69v2.52h-2.69zM738.31 1227.9h2.69v2.52h-2.69zM751.74 1227.9h2.69v2.52h-2.69zM800.11 1227.9h2.69v2.52h-2.69zM816.23 1227.9h5.37v2.52h-5.37zM829.67 1227.9h5.37v2.52h-5.37zM912.96 1227.9h8.06v3.02h-8.06zM714.13 1230.43h2.69v2.52h-2.69zM773.24 1230.43h2.69v3.02h-2.69zM848.48 1230.43h5.37v3.02h-5.37zM856.54 1230.43h5.37v3.02h-5.37zM912.96 1230.43h5.37v2.52h-5.37zM676.51 1232.95h2.69v2.52h-2.69zM727.56 1232.95h2.69v2.52h-2.69zM738.31 1232.95h2.69v2.52h-2.69zM743.68 1232.95h2.69v3.02h-2.69zM765.18 1232.95h2.69v2.52h-2.69zM773.24 1232.95h2.69v2.52h-2.69zM843.1 1232.95h10.75v3.02h-10.75zM859.22 1232.95h10.75v3.02h-10.75zM875.35 1232.95h2.69v2.52h-2.69zM899.53 1232.95h2.69v2.52h-2.69zM698 1235.47h5.37v2.52h-5.37zM743.68 1235.47h2.69v2.52h-2.69zM810.86 1235.47h2.69v2.52h-2.69zM845.79 1235.47h2.69v2.52h-2.69zM859.22 1235.47h8.06v3.02h-8.06zM762.49 1237.99h2.69v2.52h-2.69zM767.87 1237.99h2.69v2.52h-2.69zM773.24 1237.99h2.69v2.52h-2.69zM783.99 1237.99h2.69v2.52h-2.69zM859.22 1237.99h2.69v2.52h-2.69zM869.97 1237.99h2.69v3.02h-2.69zM894.15 1237.99h2.69v2.52h-2.69zM912.96 1237.99h2.69v2.52h-2.69zM671.13 1240.51h2.69v3.02h-2.69zM727.56 1240.51h2.69v2.52h-2.69zM778.61 1240.51h2.69v2.52h-2.69zM792.05 1240.51h2.69v2.52h-2.69zM813.54 1240.51h8.06v3.02h-8.06zM826.98 1240.51h2.69v3.02h-2.69zM843.1 1240.51h2.69v3.02h-2.69zM869.97 1240.51h5.37v2.52h-5.37zM888.78 1240.51h2.69v2.52h-2.69zM899.53 1240.51h2.69v3.02h-2.69zM668.45 1243.03h8.06v3.02h-8.06zM679.19 1243.03h13.43v3.02h-13.43zM719.5 1243.03h2.69v2.52h-2.69zM783.99 1243.03h2.69v2.52h-2.69zM800.11 1243.03h2.69v3.02h-2.69zM813.54 1243.03h8.06v2.52h-8.06zM826.98 1243.03h2.69v2.52h-2.69zM840.41 1243.03h5.37v3.02h-5.37zM896.84 1243.03h5.37v2.52h-5.37zM671.13 1245.55h2.69v2.52h-2.69zM681.88 1245.55h5.37v2.52h-5.37zM698 1245.55h2.69v2.52h-2.69zM708.75 1245.55h2.69v3.02h-2.69zM797.42 1245.55h8.06v3.02h-8.06zM808.17 1245.55h5.37v2.52h-5.37zM840.41 1245.55h2.69v2.52h-2.69zM910.28 1245.55h2.69v2.52h-2.69zM679.19 1248.07h2.69v3.02h-2.69zM708.75 1248.07h5.37v2.52h-5.37zM732.93 1248.07h2.69v3.02h-2.69zM762.49 1248.07h2.69v2.52h-2.69zM789.36 1248.07h2.69v2.52h-2.69zM797.42 1248.07h10.75v3.02h-10.75zM813.54 1248.07h2.69v2.52h-2.69zM837.73 1248.07h2.69v3.02h-2.69zM845.79 1248.07h2.69v3.02h-2.69zM861.91 1248.07h2.69v2.52h-2.69zM912.96 1248.07h2.69v3.02h-2.69zM679.19 1250.59h5.37v2.52h-5.37zM687.26 1250.59h2.69v3.02h-2.69zM700.69 1250.59h5.37v3.02h-5.37zM732.93 1250.59h2.69v2.52h-2.69zM743.68 1250.59h2.69v2.52h-2.69zM759.8 1250.59h2.69v2.52h-2.69zM775.93 1250.59h2.69v3.02h-2.69zM802.8 1250.59h5.37v3.02h-5.37zM816.23 1250.59h5.37v3.02h-5.37zM824.29 1250.59h2.69v2.52h-2.69zM837.73 1250.59h5.37v3.02h-5.37zM845.79 1250.59h16.12v3.02h-16.12zM869.97 1250.59h2.69v2.52h-2.69zM878.03 1250.59h2.69v2.52h-2.69zM899.53 1250.59h8.06v3.02h-8.06zM912.96 1250.59h2.69v2.52h-2.69zM687.26 1253.11h2.69v2.52h-2.69zM703.38 1253.11h2.69v2.52h-2.69zM741 1253.11h2.69v3.02h-2.69zM770.55 1253.11h13.43v3.02h-13.43zM802.8 1253.11h5.37v3.02h-5.37zM818.92 1253.11h5.37v2.52h-5.37zM840.41 1253.11h2.69v2.52h-2.69zM851.16 1253.11h8.06v2.52h-8.06zM867.28 1253.11h2.69v2.52h-2.69zM883.41 1253.11h2.69v3.02h-2.69zM902.22 1253.11h10.75v3.02h-10.75zM652.33 1255.63h5.37v3.02h-5.37zM692.63 1255.63h2.69v2.52h-2.69zM741 1255.63h5.37v3.02h-5.37zM773.24 1255.63h10.75v2.52h-10.75zM800.11 1255.63h8.06v3.02h-8.06zM829.67 1255.63h2.69v2.52h-2.69zM837.73 1255.63h2.69v3.02h-2.69zM883.41 1255.63h2.69v2.52h-2.69zM910.28 1255.63h5.37v3.02h-5.37zM652.33 1258.15h5.37v2.52h-5.37zM730.25 1258.15h2.69v3.02h-2.69zM741 1258.15h5.37v2.52h-5.37zM797.42 1258.15h10.75v3.02h-10.75zM810.86 1258.15h5.37v2.52h-5.37zM837.73 1258.15h2.69v2.52h-2.69zM845.79 1258.15h2.69v3.02h-2.69zM867.28 1258.15h2.69v3.02h-2.69zM912.96 1258.15h5.37v2.52h-5.37zM921.02 1258.15h2.69v2.52h-2.69zM665.76 1260.67h2.69v3.02h-2.69zM719.5 1260.67h5.37v3.02h-5.37zM730.25 1260.67h2.69v2.52h-2.69zM783.99 1260.67h5.37v3.02h-5.37zM797.42 1260.67h5.37v3.02h-5.37zM845.79 1260.67h2.69v3.02h-2.69zM867.28 1260.67h2.69v3.02h-2.69zM872.66 1260.67h5.37v3.02h-5.37zM888.78 1260.67h5.37v2.52h-5.37zM923.71 1260.67h2.69v2.52h-2.69zM665.76 1263.19h2.69v3.02h-2.69zM719.5 1263.19h5.37v2.52h-5.37zM746.37 1263.19h2.69v2.52h-2.69zM754.43 1263.19h5.37v2.52h-5.37zM781.3 1263.19h8.06v3.02h-8.06zM800.11 1263.19h2.69v2.52h-2.69zM808.17 1263.19h5.37v3.02h-5.37zM824.29 1263.19h10.75v3.02h-10.75zM843.1 1263.19h5.37v3.02h-5.37zM851.16 1263.19h5.37v3.02h-5.37zM861.91 1263.19h2.69v2.52h-2.69zM867.28 1263.19h10.75v3.02h-10.75zM896.84 1263.19h2.69v2.52h-2.69zM915.65 1263.19h5.37v3.02h-5.37zM663.07 1265.71h8.06v3.02h-8.06zM714.13 1265.71h2.69v2.52h-2.69zM732.93 1265.71h2.69v3.02h-2.69zM781.3 1265.71h10.75v3.02h-10.75zM808.17 1265.71h5.37v2.52h-5.37zM824.29 1265.71h5.37v2.52h-5.37zM832.35 1265.71h8.06v3.02h-8.06zM843.1 1265.71h5.37v2.52h-5.37zM851.16 1265.71h10.75v3.02h-10.75zM867.28 1265.71h2.69v2.52h-2.69zM872.66 1265.71h5.37v2.52h-5.37zM915.65 1265.71h2.69v2.52h-2.69zM921.02 1265.71h2.69v3.02h-2.69zM657.7 1268.23h2.69v3.02h-2.69zM663.07 1268.23h8.06v3.02h-8.06zM673.82 1268.23h2.69v3.02h-2.69zM689.94 1268.23h2.69v3.02h-2.69zM732.93 1268.23h2.69v3.02h-2.69zM781.3 1268.23h2.69v3.02h-2.69zM829.67 1268.23h13.43v3.02h-13.43zM853.85 1268.23h8.06v3.02h-8.06zM918.34 1268.23h8.06v3.02h-8.06zM641.58 1270.75h2.69v3.02h-2.69zM655.01 1270.75h5.37v3.02h-5.37zM665.76 1270.75h5.37v2.52h-5.37zM673.82 1270.75h2.69v2.52h-2.69zM687.26 1270.75h5.37v3.02h-5.37zM732.93 1270.75h2.69v3.02h-2.69zM746.37 1270.75h2.69v3.02h-2.69zM778.61 1270.75h5.37v2.52h-5.37zM792.05 1270.75h10.75v3.02h-10.75zM829.67 1270.75h13.43v3.02h-13.43zM853.85 1270.75h5.37v3.02h-5.37zM891.47 1270.75h2.69v2.52h-2.69zM918.34 1270.75h2.69v2.52h-2.69zM638.89 1273.27h5.37v2.52h-5.37zM655.01 1273.27h5.37v3.02h-5.37zM687.26 1273.27h2.69v2.52h-2.69zM692.63 1273.27h10.75v3.02h-10.75zM714.13 1273.27h2.69v2.52h-2.69zM732.93 1273.27h2.69v2.52h-2.69zM746.37 1273.27h5.37v3.02h-5.37zM767.87 1273.27h5.37v2.52h-5.37zM792.05 1273.27h10.75v3.02h-10.75zM829.67 1273.27h13.43v3.02h-13.43zM851.16 1273.27h5.37v3.02h-5.37zM861.91 1273.27h2.69v3.02h-2.69zM869.97 1273.27h2.69v3.02h-2.69zM883.41 1273.27h8.06v3.02h-8.06zM633.52 1275.79h5.37v2.52h-5.37zM657.7 1275.79h5.37v3.02h-5.37zM698 1275.79h5.37v2.52h-5.37zM743.68 1275.79h5.37v3.02h-5.37zM751.74 1275.79h2.69v2.52h-2.69zM762.49 1275.79h2.69v3.02h-2.69zM792.05 1275.79h2.69v3.02h-2.69zM802.8 1275.79h2.69v2.52h-2.69zM808.17 1275.79h5.37v2.52h-5.37zM826.98 1275.79h13.43v3.02h-13.43zM848.48 1275.79h5.37v3.02h-5.37zM859.22 1275.79h8.06v3.02h-8.06zM869.97 1275.79h5.37v3.02h-5.37zM886.09 1275.79h2.69v3.02h-2.69zM896.84 1275.79h8.06v3.02h-8.06zM912.96 1275.79h2.69v2.52h-2.69zM625.45 1278.32h5.37v2.52h-5.37zM660.39 1278.32h2.69v2.52h-2.69zM668.45 1278.32h2.69v3.02h-2.69zM684.57 1278.32h5.37v3.02h-5.37zM743.68 1278.32h5.37v3.02h-5.37zM762.49 1278.32h2.69v2.52h-2.69zM775.93 1278.32h2.69v2.52h-2.69zM786.67 1278.32h8.06v3.02h-8.06zM826.98 1278.32h10.75v3.02h-10.75zM848.48 1278.32h5.37v3.02h-5.37zM861.91 1278.32h5.37v3.02h-5.37zM869.97 1278.32h8.06v3.02h-8.06zM886.09 1278.32h2.69v3.02h-2.69zM896.84 1278.32h2.69v2.52h-2.69zM620.08 1280.84h2.69v2.52h-2.69zM668.45 1280.84h5.37v3.02h-5.37zM679.19 1280.84h2.69v3.02h-2.69zM684.57 1280.84h5.37v3.02h-5.37zM698 1280.84h2.69v2.52h-2.69zM730.25 1280.84h2.69v2.52h-2.69zM746.37 1280.84h8.06v3.02h-8.06zM786.67 1280.84h5.37v2.52h-5.37zM797.42 1280.84h8.06v3.02h-8.06zM808.17 1280.84h2.69v2.52h-2.69zM824.29 1280.84h10.75v3.02h-10.75zM848.48 1280.84h5.37v3.02h-5.37zM861.91 1280.84h2.69v2.52h-2.69zM869.97 1280.84h8.06v3.02h-8.06zM886.09 1280.84h10.75v3.02h-10.75zM921.02 1280.84h2.69v2.52h-2.69zM617.39 1283.36h2.69v2.52h-2.69zM638.89 1283.36h2.69v2.52h-2.69zM655.01 1283.36h2.69v2.52h-2.69zM668.45 1283.36h2.69v2.52h-2.69zM679.19 1283.36h13.43v3.02h-13.43zM751.74 1283.36h2.69v3.02h-2.69zM800.11 1283.36h5.37v2.52h-5.37zM824.29 1283.36h8.06v2.52h-8.06zM845.79 1283.36h5.37v3.02h-5.37zM856.54 1283.36h5.37v3.02h-5.37zM867.28 1283.36h2.69v2.52h-2.69zM872.66 1283.36h5.37v2.52h-5.37zM888.78 1283.36h16.12v3.02h-16.12zM679.19 1285.88h13.43v3.02h-13.43zM727.56 1285.88h2.69v3.02h-2.69zM738.31 1285.88h5.37v3.02h-5.37zM746.37 1285.88h2.69v2.52h-2.69zM751.74 1285.88h8.06v3.02h-8.06zM775.93 1285.88h2.69v2.52h-2.69zM781.3 1285.88h2.69v2.52h-2.69zM845.79 1285.88h8.06v2.52h-8.06zM856.54 1285.88h5.37v2.52h-5.37zM896.84 1285.88h10.75v3.02h-10.75zM628.14 1288.4h5.37v3.02h-5.37zM644.26 1288.4h2.69v3.02h-2.69zM668.45 1288.4h2.69v3.02h-2.69zM681.88 1288.4h18.81v3.02h-18.81zM719.5 1288.4h2.69v3.02h-2.69zM724.87 1288.4h18.81v3.02h-18.81zM757.12 1288.4h2.69v2.52h-2.69zM786.67 1288.4h2.69v3.02h-2.69zM902.22 1288.4h10.75v3.02h-10.75zM606.65 1290.92h2.69v2.52h-2.69zM614.71 1290.92h5.37v3.02h-5.37zM630.83 1290.92h2.69v3.02h-2.69zM644.26 1290.92h2.69v2.52h-2.69zM660.39 1290.92h10.75v3.02h-10.75zM684.57 1290.92h18.81v3.02h-18.81zM706.07 1290.92h2.69v3.02h-2.69zM719.5 1290.92h26.87v3.02h-26.87zM751.74 1290.92h5.37v3.02h-5.37zM767.87 1290.92h5.37v3.02h-5.37zM786.67 1290.92h5.37v3.02h-5.37zM802.8 1290.92h2.69v2.52h-2.69zM818.92 1290.92h2.69v2.52h-2.69zM829.67 1290.92h5.37v3.02h-5.37zM845.79 1290.92h2.69v2.52h-2.69zM864.6 1290.92h2.69v3.02h-2.69zM875.35 1290.92h2.69v2.52h-2.69zM904.9 1290.92h5.37v2.52h-5.37zM915.65 1290.92h5.37v3.02h-5.37zM617.39 1293.44h5.37v3.02h-5.37zM630.83 1293.44h5.37v3.02h-5.37zM665.76 1293.44h8.06v3.02h-8.06zM687.26 1293.44h5.37v3.02h-5.37zM698 1293.44h10.75v3.02h-10.75zM719.5 1293.44h16.12v3.02h-16.12zM738.31 1293.44h18.81v3.02h-18.81zM762.49 1293.44h10.75v3.02h-10.75zM786.67 1293.44h16.12v3.02h-16.12zM810.86 1293.44h2.69v2.52h-2.69zM824.29 1293.44h13.43v3.02h-13.43zM864.6 1293.44h2.69v2.52h-2.69zM883.41 1293.44h5.37v3.02h-5.37zM912.96 1293.44h10.75v3.02h-10.75zM612.02 1295.96h2.69v2.52h-2.69zM620.08 1295.96h2.69v3.02h-2.69zM630.83 1295.96h5.37v3.02h-5.37zM638.89 1295.96h2.69v3.02h-2.69zM665.76 1295.96h8.06v3.02h-8.06zM687.26 1295.96h5.37v3.02h-5.37zM700.69 1295.96h5.37v3.02h-5.37zM714.13 1295.96h5.37v3.02h-5.37zM727.56 1295.96h5.37v2.52h-5.37zM738.31 1295.96h18.81v3.02h-18.81zM765.18 1295.96h8.06v3.02h-8.06zM789.36 1295.96h13.43v2.52h-13.43zM818.92 1295.96h18.81v3.02h-18.81zM880.72 1295.96h5.37v3.02h-5.37zM912.96 1295.96h10.75v3.02h-10.75zM593.21 1298.48h5.37v2.52h-5.37zM603.96 1298.48h2.69v3.02h-2.69zM614.71 1298.48h10.75v3.02h-10.75zM630.83 1298.48h2.69v2.52h-2.69zM638.89 1298.48h13.43v3.02h-13.43zM660.39 1298.48h13.43v3.02h-13.43zM687.26 1298.48h8.06v3.02h-8.06zM703.38 1298.48h2.69v2.52h-2.69zM714.13 1298.48h2.69v2.52h-2.69zM735.62 1298.48h5.37v3.02h-5.37zM767.87 1298.48h8.06v3.02h-8.06zM781.3 1298.48h2.69v3.02h-2.69zM835.04 1298.48h2.69v2.52h-2.69zM851.16 1298.48h5.37v3.02h-5.37zM880.72 1298.48h8.06v3.02h-8.06zM902.22 1298.48h2.69v2.52h-2.69zM910.28 1298.48h5.37v2.52h-5.37zM918.34 1298.48h8.06v3.02h-8.06zM601.27 1301h5.37v3.02h-5.37zM612.02 1301h13.43v3.02h-13.43zM638.89 1301h16.12v3.02h-16.12zM660.39 1301h13.43v3.02h-13.43zM687.26 1301h16.12v3.02h-16.12zM738.31 1301h2.69v3.02h-2.69zM765.18 1301h2.69v2.52h-2.69zM773.24 1301h10.75v3.02h-10.75zM826.98 1301h2.69v3.02h-2.69zM851.16 1301h5.37v3.02h-5.37zM861.91 1301h5.37v3.02h-5.37zM883.41 1301h8.06v3.02h-8.06zM921.02 1301h5.37v3.02h-5.37zM603.96 1303.52h5.37v2.52h-5.37zM612.02 1303.52h18.81v3.02h-18.81zM633.52 1303.52h10.75v3.02h-10.75zM646.95 1303.52h10.75v3.02h-10.75zM663.07 1303.52h42.99v3.02h-42.99zM714.13 1303.52h2.69v3.02h-2.69zM738.31 1303.52h5.37v3.02h-5.37zM751.74 1303.52h5.37v3.02h-5.37zM770.55 1303.52h2.69v2.52h-2.69zM775.93 1303.52h8.06v3.02h-8.06zM826.98 1303.52h2.69v2.52h-2.69zM851.16 1303.52h2.69v2.52h-2.69zM861.91 1303.52h5.37v3.02h-5.37zM883.41 1303.52h8.06v3.02h-8.06zM923.71 1303.52h5.37v3.02h-5.37zM593.21 1306.04h2.69v2.52h-2.69zM614.71 1306.04h16.12v3.02h-16.12zM636.2 1306.04h8.06v3.02h-8.06zM646.95 1306.04h8.06v3.02h-8.06zM663.07 1306.04h26.87v3.02h-26.87zM700.69 1306.04h8.06v3.02h-8.06zM714.13 1306.04h10.75v3.02h-10.75zM735.62 1306.04h8.06v3.02h-8.06zM749.06 1306.04h13.43v3.02h-13.43zM773.24 1306.04h2.69v2.52h-2.69zM781.3 1306.04h5.37v2.52h-5.37zM810.86 1306.04h5.37v3.02h-5.37zM835.04 1306.04h2.69v2.52h-2.69zM864.6 1306.04h2.69v3.02h-2.69zM869.97 1306.04h2.69v2.52h-2.69zM886.09 1306.04h2.69v2.52h-2.69zM921.02 1306.04h2.69v2.52h-2.69zM926.4 1306.04h2.69v2.52h-2.69zM579.78 1308.56h2.69v2.52h-2.69zM585.15 1308.56h2.69v2.52h-2.69zM603.96 1308.56h2.69v2.52h-2.69zM617.39 1308.56h8.06v3.02h-8.06zM636.2 1308.56h10.75v3.02h-10.75zM649.64 1308.56h2.69v3.02h-2.69zM663.07 1308.56h26.87v3.02h-26.87zM700.69 1308.56h10.75v3.02h-10.75zM716.81 1308.56h10.75v3.02h-10.75zM735.62 1308.56h5.37v2.52h-5.37zM749.06 1308.56h16.12v3.02h-16.12zM789.36 1308.56h5.37v3.02h-5.37zM802.8 1308.56h5.37v3.02h-5.37zM813.54 1308.56h5.37v3.02h-5.37zM837.73 1308.56h2.69v2.52h-2.69zM843.1 1308.56h2.69v2.52h-2.69zM864.6 1308.56h5.37v3.02h-5.37zM894.15 1308.56h5.37v3.02h-5.37zM582.46 1311.08h2.69v2.52h-2.69zM620.08 1311.08h2.69v2.52h-2.69zM638.89 1311.08h13.43v3.02h-13.43zM671.13 1311.08h5.37v2.52h-5.37zM681.88 1311.08h2.69v2.52h-2.69zM689.94 1311.08h2.69v2.52h-2.69zM695.32 1311.08h8.06v3.02h-8.06zM706.07 1311.08h5.37v3.02h-5.37zM722.19 1311.08h5.37v3.02h-5.37zM730.25 1311.08h2.69v2.52h-2.69zM751.74 1311.08h13.43v3.02h-13.43zM789.36 1311.08h5.37v2.52h-5.37zM802.8 1311.08h5.37v3.02h-5.37zM813.54 1311.08h2.69v3.02h-2.69zM864.6 1311.08h2.69v2.52h-2.69zM894.15 1311.08h5.37v2.52h-5.37zM910.28 1311.08h2.69v2.52h-2.69zM560.97 1313.6h2.69v3.02h-2.69zM571.71 1313.6h8.06v3.02h-8.06zM601.27 1313.6h2.69v3.02h-2.69zM646.95 1313.6h2.69v2.52h-2.69zM657.7 1313.6h2.69v3.02h-2.69zM695.32 1313.6h5.37v2.52h-5.37zM706.07 1313.6h5.37v3.02h-5.37zM714.13 1313.6h5.37v3.02h-5.37zM724.87 1313.6h5.37v2.52h-5.37zM754.43 1313.6h5.37v2.52h-5.37zM802.8 1313.6h2.69v3.02h-2.69zM813.54 1313.6h5.37v2.52h-5.37zM851.16 1313.6h8.06v3.02h-8.06zM878.03 1313.6h2.69v3.02h-2.69zM552.91 1316.12h2.69v3.02h-2.69zM560.97 1316.12h2.69v3.02h-2.69zM571.71 1316.12h5.37v3.02h-5.37zM601.27 1316.12h8.06v3.02h-8.06zM636.2 1316.12h2.69v2.52h-2.69zM641.58 1316.12h2.69v2.52h-2.69zM655.01 1316.12h5.37v3.02h-5.37zM665.76 1316.12h5.37v3.02h-5.37zM703.38 1316.12h5.37v3.02h-5.37zM711.44 1316.12h13.43v3.02h-13.43zM730.25 1316.12h2.69v2.52h-2.69zM773.24 1316.12h8.06v3.02h-8.06zM792.05 1316.12h5.37v3.02h-5.37zM802.8 1316.12h5.37v3.02h-5.37zM843.1 1316.12h2.69v3.02h-2.69zM856.54 1316.12h2.69v3.02h-2.69zM878.03 1316.12h5.37v3.02h-5.37zM539.47 1318.64h10.75v3.02h-10.75zM552.91 1318.64h5.37v2.52h-5.37zM560.97 1318.64h2.69v3.02h-2.69zM571.71 1318.64h2.69v2.52h-2.69zM593.21 1318.64h2.69v3.02h-2.69zM601.27 1318.64h8.06v3.02h-8.06zM652.33 1318.64h5.37v3.02h-5.37zM663.07 1318.64h5.37v3.02h-5.37zM700.69 1318.64h5.37v3.02h-5.37zM714.13 1318.64h2.69v2.52h-2.69zM722.19 1318.64h2.69v2.52h-2.69zM773.24 1318.64h5.37v3.02h-5.37zM786.67 1318.64h8.06v3.02h-8.06zM805.48 1318.64h2.69v2.52h-2.69zM843.1 1318.64h5.37v3.02h-5.37zM856.54 1318.64h5.37v3.02h-5.37zM869.97 1318.64h2.69v3.02h-2.69zM878.03 1318.64h5.37v3.02h-5.37zM544.85 1321.16h5.37v3.02h-5.37zM558.28 1321.16h8.06v3.02h-8.06zM590.52 1321.16h16.12v3.02h-16.12zM620.08 1321.16h2.69v2.52h-2.69zM625.45 1321.16h2.69v3.02h-2.69zM649.64 1321.16h10.75v3.02h-10.75zM663.07 1321.16h2.69v2.52h-2.69zM695.32 1321.16h10.75v3.02h-10.75zM738.31 1321.16h2.69v2.52h-2.69zM743.68 1321.16h8.06v3.02h-8.06zM775.93 1321.16h18.81v3.02h-18.81zM808.17 1321.16h2.69v3.02h-2.69zM826.98 1321.16h5.37v3.02h-5.37zM837.73 1321.16h2.69v3.02h-2.69zM843.1 1321.16h5.37v3.02h-5.37zM859.22 1321.16h2.69v2.52h-2.69zM867.28 1321.16h13.43v3.02h-13.43zM531.41 1323.68h5.37v2.52h-5.37zM542.16 1323.68h2.69v2.52h-2.69zM547.53 1323.68h2.69v2.52h-2.69zM560.97 1323.68h5.37v3.02h-5.37zM569.03 1323.68h5.37v2.52h-5.37zM590.52 1323.68h5.37v3.02h-5.37zM606.65 1323.68h2.69v2.52h-2.69zM622.77 1323.68h5.37v3.02h-5.37zM649.64 1323.68h10.75v3.02h-10.75zM684.57 1323.68h2.69v3.02h-2.69zM695.32 1323.68h8.06v3.02h-8.06zM741 1323.68h8.06v3.02h-8.06zM759.8 1323.68h2.69v3.02h-2.69zM778.61 1323.68h10.75v3.02h-10.75zM792.05 1323.68h2.69v2.52h-2.69zM808.17 1323.68h2.69v2.52h-2.69zM826.98 1323.68h5.37v3.02h-5.37zM835.04 1323.68h16.12v3.02h-16.12zM867.28 1323.68h2.69v2.52h-2.69zM875.35 1323.68h2.69v2.52h-2.69zM899.53 1323.68h2.69v2.52h-2.69zM560.97 1326.2h5.37v3.02h-5.37zM593.21 1326.2h2.69v3.02h-2.69zM622.77 1326.2h5.37v3.02h-5.37zM638.89 1326.2h8.06v3.02h-8.06zM652.33 1326.2h10.75v3.02h-10.75zM673.82 1326.2h16.12v3.02h-16.12zM695.32 1326.2h10.75v2.52h-10.75zM732.93 1326.2h5.37v3.02h-5.37zM741 1326.2h5.37v3.02h-5.37zM754.43 1326.2h8.06v3.02h-8.06zM770.55 1326.2h2.69v2.52h-2.69zM778.61 1326.2h5.37v3.02h-5.37zM800.11 1326.2h2.69v3.02h-2.69zM824.29 1326.2h5.37v3.02h-5.37zM843.1 1326.2h10.75v3.02h-10.75zM896.84 1326.2h2.69v2.52h-2.69zM539.47 1328.73h2.69v2.52h-2.69zM558.28 1328.73h5.37v3.02h-5.37zM590.52 1328.73h5.37v3.02h-5.37zM620.08 1328.73h8.06v3.02h-8.06zM641.58 1328.73h8.06v3.02h-8.06zM655.01 1328.73h8.06v3.02h-8.06zM671.13 1328.73h18.81v3.02h-18.81zM724.87 1328.73h24.18v3.02h-24.18zM751.74 1328.73h18.81v3.02h-18.81zM778.61 1328.73h5.37v3.02h-5.37zM794.74 1328.73h8.06v3.02h-8.06zM824.29 1328.73h8.06v3.02h-8.06zM845.79 1328.73h8.06v2.52h-8.06zM875.35 1328.73h2.69v3.02h-2.69zM894.15 1328.73h2.69v2.52h-2.69zM520.66 1331.25h2.69v3.02h-2.69zM558.28 1331.25h2.69v2.52h-2.69zM566.34 1331.25h2.69v2.52h-2.69zM587.84 1331.25h5.37v3.02h-5.37zM612.02 1331.25h2.69v3.02h-2.69zM620.08 1331.25h5.37v3.02h-5.37zM633.52 1331.25h2.69v2.52h-2.69zM641.58 1331.25h8.06v3.02h-8.06zM657.7 1331.25h8.06v3.02h-8.06zM668.45 1331.25h10.75v3.02h-10.75zM714.13 1331.25h2.69v3.02h-2.69zM724.87 1331.25h26.87v3.02h-26.87zM757.12 1331.25h8.06v3.02h-8.06zM773.24 1331.25h8.06v3.02h-8.06zM797.42 1331.25h5.37v3.02h-5.37zM821.61 1331.25h5.37v2.52h-5.37zM861.91 1331.25h2.69v2.52h-2.69zM872.66 1331.25h5.37v3.02h-5.37zM517.98 1333.77h5.37v3.02h-5.37zM544.85 1333.77h2.69v3.02h-2.69zM587.84 1333.77h5.37v3.02h-5.37zM601.27 1333.77h24.18v3.02h-24.18zM641.58 1333.77h5.37v3.02h-5.37zM660.39 1333.77h5.37v2.52h-5.37zM671.13 1333.77h8.06v3.02h-8.06zM708.75 1333.77h2.69v2.52h-2.69zM714.13 1333.77h5.37v3.02h-5.37zM732.93 1333.77h16.12v3.02h-16.12zM762.49 1333.77h2.69v2.52h-2.69zM773.24 1333.77h5.37v3.02h-5.37zM786.67 1333.77h2.69v3.02h-2.69zM800.11 1333.77h5.37v3.02h-5.37zM867.28 1333.77h8.06v3.02h-8.06zM915.65 1333.77h2.69v3.02h-2.69zM515.29 1336.29h5.37v2.52h-5.37zM542.16 1336.29h5.37v3.02h-5.37zM552.91 1336.29h2.69v3.02h-2.69zM569.03 1336.29h16.12v3.02h-16.12zM587.84 1336.29h2.69v3.02h-2.69zM593.21 1336.29h34.93v3.02h-34.93zM638.89 1336.29h2.69v2.52h-2.69zM644.26 1336.29h2.69v2.52h-2.69zM668.45 1336.29h18.81v3.02h-18.81zM689.94 1336.29h2.69v3.02h-2.69zM703.38 1336.29h5.37v3.02h-5.37zM716.81 1336.29h2.69v2.52h-2.69zM743.68 1336.29h2.69v2.52h-2.69zM770.55 1336.29h8.06v3.02h-8.06zM786.67 1336.29h5.37v3.02h-5.37zM800.11 1336.29h5.37v3.02h-5.37zM864.6 1336.29h8.06v3.02h-8.06zM910.28 1336.29h8.06v3.02h-8.06zM542.16 1338.81h5.37v3.02h-5.37zM550.22 1338.81h5.37v3.02h-5.37zM569.03 1338.81h5.37v3.02h-5.37zM582.46 1338.81h8.06v3.02h-8.06zM595.9 1338.81h5.37v3.02h-5.37zM606.65 1338.81h10.75v3.02h-10.75zM620.08 1338.81h2.69v3.02h-2.69zM630.83 1338.81h5.37v3.02h-5.37zM673.82 1338.81h13.43v3.02h-13.43zM689.94 1338.81h8.06v3.02h-8.06zM703.38 1338.81h8.06v3.02h-8.06zM722.19 1338.81h2.69v2.52h-2.69zM727.56 1338.81h2.69v2.52h-2.69zM757.12 1338.81h2.69v3.02h-2.69zM770.55 1338.81h8.06v2.52h-8.06zM783.99 1338.81h21.5v3.02h-21.5zM821.61 1338.81h8.06v3.02h-8.06zM835.04 1338.81h8.06v3.02h-8.06zM853.85 1338.81h2.69v3.02h-2.69zM864.6 1338.81h5.37v3.02h-5.37zM910.28 1338.81h8.06v2.52h-8.06zM539.47 1341.33h18.81v3.02h-18.81zM560.97 1341.33h5.37v3.02h-5.37zM569.03 1341.33h2.69v2.52h-2.69zM582.46 1341.33h5.37v3.02h-5.37zM595.9 1341.33h2.69v3.02h-2.69zM601.27 1341.33h2.69v2.52h-2.69zM606.65 1341.33h8.06v3.02h-8.06zM620.08 1341.33h2.69v3.02h-2.69zM628.14 1341.33h18.81v3.02h-18.81zM652.33 1341.33h8.06v3.02h-8.06zM673.82 1341.33h8.06v3.02h-8.06zM689.94 1341.33h5.37v3.02h-5.37zM700.69 1341.33h8.06v3.02h-8.06zM716.81 1341.33h2.69v2.52h-2.69zM724.87 1341.33h2.69v2.52h-2.69zM735.62 1341.33h5.37v3.02h-5.37zM749.06 1341.33h2.69v2.52h-2.69zM757.12 1341.33h2.69v2.52h-2.69zM767.87 1341.33h2.69v3.02h-2.69zM778.61 1341.33h8.06v3.02h-8.06zM794.74 1341.33h8.06v3.02h-8.06zM808.17 1341.33h21.5v3.02h-21.5zM837.73 1341.33h5.37v2.52h-5.37zM848.48 1341.33h8.06v3.02h-8.06zM864.6 1341.33h8.06v3.02h-8.06zM875.35 1341.33h8.06v2.52h-8.06zM918.34 1341.33h2.69v2.52h-2.69zM517.98 1343.85h2.69v2.52h-2.69zM523.35 1343.85h2.69v3.02h-2.69zM542.16 1343.85h24.18v3.02h-24.18zM574.4 1343.85h10.75v3.02h-10.75zM593.21 1343.85h5.37v3.02h-5.37zM606.65 1343.85h5.37v3.02h-5.37zM620.08 1343.85h2.69v2.52h-2.69zM625.45 1343.85h8.06v3.02h-8.06zM636.2 1343.85h21.5v3.02h-21.5zM676.51 1343.85h8.06v2.52h-8.06zM687.26 1343.85h10.75v3.02h-10.75zM700.69 1343.85h10.75v3.02h-10.75zM732.93 1343.85h8.06v3.02h-8.06zM746.37 1343.85h2.69v3.02h-2.69zM765.18 1343.85h5.37v2.52h-5.37zM781.3 1343.85h5.37v2.52h-5.37zM792.05 1343.85h5.37v3.02h-5.37zM805.48 1343.85h5.37v3.02h-5.37zM818.92 1343.85h10.75v3.02h-10.75zM845.79 1343.85h8.06v3.02h-8.06zM856.54 1343.85h13.43v3.02h-13.43zM523.35 1346.37h5.37v3.02h-5.37zM555.59 1346.37h10.75v3.02h-10.75zM577.09 1346.37h8.06v3.02h-8.06zM593.21 1346.37h5.37v2.52h-5.37zM606.65 1346.37h2.69v2.52h-2.69zM625.45 1346.37h8.06v3.02h-8.06zM636.2 1346.37h21.5v3.02h-21.5zM689.94 1346.37h8.06v3.02h-8.06zM706.07 1346.37h8.06v3.02h-8.06zM738.31 1346.37h10.75v3.02h-10.75zM789.36 1346.37h8.06v3.02h-8.06zM805.48 1346.37h5.37v3.02h-5.37zM818.92 1346.37h8.06v2.52h-8.06zM837.73 1346.37h13.43v3.02h-13.43zM856.54 1346.37h2.69v2.52h-2.69zM861.91 1346.37h5.37v2.52h-5.37zM520.66 1348.89h10.75v3.02h-10.75zM550.22 1348.89h16.12v3.02h-16.12zM577.09 1348.89h5.37v3.02h-5.37zM587.84 1348.89h2.69v3.02h-2.69zM601.27 1348.89h5.37v3.02h-5.37zM622.77 1348.89h8.06v3.02h-8.06zM633.52 1348.89h24.18v3.02h-24.18zM668.45 1348.89h10.75v3.02h-10.75zM689.94 1348.89h5.37v3.02h-5.37zM703.38 1348.89h13.43v3.02h-13.43zM722.19 1348.89h8.06v3.02h-8.06zM738.31 1348.89h5.37v3.02h-5.37zM746.37 1348.89h8.06v2.52h-8.06zM767.87 1348.89h2.69v2.52h-2.69zM789.36 1348.89h5.37v2.52h-5.37zM805.48 1348.89h8.06v3.02h-8.06zM837.73 1348.89h2.69v2.52h-2.69zM872.66 1348.89h2.69v2.52h-2.69zM899.53 1348.89h2.69v2.52h-2.69zM910.28 1348.89h2.69v2.52h-2.69zM517.98 1351.41h5.37v3.02h-5.37zM550.22 1351.41h5.37v2.52h-5.37zM558.28 1351.41h10.75v3.02h-10.75zM577.09 1351.41h8.06v3.02h-8.06zM587.84 1351.41h5.37v3.02h-5.37zM603.96 1351.41h2.69v2.52h-2.69zM617.39 1351.41h2.69v2.52h-2.69zM625.45 1351.41h2.69v3.02h-2.69zM633.52 1351.41h24.18v3.02h-24.18zM665.76 1351.41h18.81v3.02h-18.81zM689.94 1351.41h5.37v2.52h-5.37zM700.69 1351.41h16.12v3.02h-16.12zM719.5 1351.41h10.75v3.02h-10.75zM735.62 1351.41h8.06v3.02h-8.06zM757.12 1351.41h2.69v2.52h-2.69zM781.3 1351.41h2.69v2.52h-2.69zM786.67 1351.41h2.69v2.52h-2.69zM797.42 1351.41h5.37v3.02h-5.37zM810.86 1351.41h2.69v2.52h-2.69zM816.23 1351.41h5.37v2.52h-5.37zM915.65 1351.41h8.06v2.52h-8.06zM499.17 1353.93h2.69v2.52h-2.69zM517.98 1353.93h2.69v2.52h-2.69zM531.41 1353.93h8.06v3.02h-8.06zM547.53 1353.93h2.69v3.02h-2.69zM563.65 1353.93h8.06v3.02h-8.06zM574.4 1353.93h16.12v3.02h-16.12zM595.9 1353.93h2.69v2.52h-2.69zM606.65 1353.93h5.37v3.02h-5.37zM625.45 1353.93h5.37v3.02h-5.37zM636.2 1353.93h2.69v2.52h-2.69zM641.58 1353.93h16.12v3.02h-16.12zM668.45 1353.93h16.12v3.02h-16.12zM700.69 1353.93h13.43v3.02h-13.43zM719.5 1353.93h10.75v3.02h-10.75zM732.93 1353.93h10.75v3.02h-10.75zM765.18 1353.93h2.69v3.02h-2.69zM797.42 1353.93h13.43v3.02h-13.43zM835.04 1353.93h2.69v2.52h-2.69zM902.22 1353.93h5.37v3.02h-5.37zM491.11 1356.45h2.69v2.52h-2.69zM534.1 1356.45h5.37v3.02h-5.37zM547.53 1356.45h2.69v3.02h-2.69zM552.91 1356.45h2.69v2.52h-2.69zM563.65 1356.45h5.37v3.02h-5.37zM585.15 1356.45h2.69v3.02h-2.69zM609.33 1356.45h2.69v3.02h-2.69zM625.45 1356.45h2.69v3.02h-2.69zM641.58 1356.45h2.69v2.52h-2.69zM646.95 1356.45h10.75v3.02h-10.75zM676.51 1356.45h8.06v3.02h-8.06zM689.94 1356.45h2.69v3.02h-2.69zM700.69 1356.45h8.06v2.52h-8.06zM716.81 1356.45h13.43v2.52h-13.43zM732.93 1356.45h13.43v2.52h-13.43zM765.18 1356.45h10.75v3.02h-10.75zM786.67 1356.45h24.18v3.02h-24.18zM826.98 1356.45h2.69v3.02h-2.69zM837.73 1356.45h5.37v3.02h-5.37zM845.79 1356.45h2.69v2.52h-2.69zM883.41 1356.45h2.69v2.52h-2.69zM902.22 1356.45h5.37v3.02h-5.37zM526.04 1358.97h10.75v3.02h-10.75zM547.53 1358.97h2.69v3.02h-2.69zM555.59 1358.97h5.37v3.02h-5.37zM566.34 1358.97h2.69v3.02h-2.69zM577.09 1358.97h13.43v3.02h-13.43zM595.9 1358.97h5.37v3.02h-5.37zM606.65 1358.97h13.43v3.02h-13.43zM622.77 1358.97h8.06v3.02h-8.06zM644.26 1358.97h2.69v2.52h-2.69zM649.64 1358.97h18.81v3.02h-18.81zM679.19 1358.97h5.37v3.02h-5.37zM687.26 1358.97h5.37v3.02h-5.37zM767.87 1358.97h10.75v3.02h-10.75zM792.05 1358.97h13.43v3.02h-13.43zM808.17 1358.97h2.69v3.02h-2.69zM826.98 1358.97h18.81v3.02h-18.81zM875.35 1358.97h2.69v2.52h-2.69zM896.84 1358.97h10.75v3.02h-10.75zM488.42 1361.49h2.69v2.52h-2.69zM507.23 1361.49h2.69v3.02h-2.69zM526.04 1361.49h10.75v3.02h-10.75zM539.47 1361.49h2.69v2.52h-2.69zM544.85 1361.49h5.37v3.02h-5.37zM552.91 1361.49h8.06v3.02h-8.06zM566.34 1361.49h5.37v3.02h-5.37zM577.09 1361.49h16.12v3.02h-16.12zM595.9 1361.49h8.06v3.02h-8.06zM609.33 1361.49h26.87v3.02h-26.87zM641.58 1361.49h2.69v2.52h-2.69zM649.64 1361.49h8.06v3.02h-8.06zM660.39 1361.49h8.06v3.02h-8.06zM681.88 1361.49h5.37v2.52h-5.37zM689.94 1361.49h2.69v2.52h-2.69zM695.32 1361.49h2.69v2.52h-2.69zM770.55 1361.49h8.06v3.02h-8.06zM797.42 1361.49h13.43v3.02h-13.43zM829.67 1361.49h10.75v3.02h-10.75zM896.84 1361.49h5.37v2.52h-5.37zM466.92 1364.01h5.37v3.02h-5.37zM477.67 1364.01h2.69v2.52h-2.69zM496.48 1364.01h5.37v3.02h-5.37zM507.23 1364.01h2.69v2.52h-2.69zM526.04 1364.01h10.75v3.02h-10.75zM544.85 1364.01h5.37v3.02h-5.37zM552.91 1364.01h8.06v3.02h-8.06zM563.65 1364.01h8.06v3.02h-8.06zM577.09 1364.01h8.06v3.02h-8.06zM590.52 1364.01h10.75v3.02h-10.75zM609.33 1364.01h10.75v3.02h-10.75zM630.83 1364.01h2.69v2.52h-2.69zM638.89 1364.01h2.69v3.02h-2.69zM646.95 1364.01h8.06v3.02h-8.06zM663.07 1364.01h5.37v2.52h-5.37zM703.38 1364.01h2.69v2.52h-2.69zM711.44 1364.01h2.69v2.52h-2.69zM716.81 1364.01h5.37v3.02h-5.37zM732.93 1364.01h2.69v3.02h-2.69zM746.37 1364.01h2.69v2.52h-2.69zM765.18 1364.01h8.06v3.02h-8.06zM783.99 1364.01h2.69v2.52h-2.69zM792.05 1364.01h2.69v2.52h-2.69zM800.11 1364.01h8.06v3.02h-8.06zM835.04 1364.01h5.37v3.02h-5.37zM861.91 1364.01h5.37v3.02h-5.37zM891.47 1364.01h2.69v2.52h-2.69zM464.24 1366.53h8.06v3.02h-8.06zM491.11 1366.53h13.43v3.02h-13.43zM520.66 1366.53h16.12v3.02h-16.12zM544.85 1366.53h16.12v3.02h-16.12zM566.34 1366.53h5.37v3.02h-5.37zM579.78 1366.53h2.69v2.52h-2.69zM587.84 1366.53h5.37v2.52h-5.37zM595.9 1366.53h5.37v2.52h-5.37zM609.33 1366.53h2.69v2.52h-2.69zM614.71 1366.53h2.69v2.52h-2.69zM622.77 1366.53h5.37v3.02h-5.37zM633.52 1366.53h8.06v3.02h-8.06zM646.95 1366.53h13.43v3.02h-13.43zM673.82 1366.53h2.69v2.52h-2.69zM689.94 1366.53h5.37v3.02h-5.37zM716.81 1366.53h2.69v2.52h-2.69zM727.56 1366.53h8.06v3.02h-8.06zM743.68 1366.53h2.69v2.52h-2.69zM749.06 1366.53h2.69v3.02h-2.69zM767.87 1366.53h2.69v3.02h-2.69zM800.11 1366.53h5.37v3.02h-5.37zM818.92 1366.53h2.69v3.02h-2.69zM826.98 1366.53h2.69v3.02h-2.69zM835.04 1366.53h5.37v3.02h-5.37zM861.91 1366.53h5.37v2.52h-5.37zM878.03 1366.53h2.69v2.52h-2.69zM886.09 1366.53h2.69v2.52h-2.69zM437.37 1369.05h5.37v2.52h-5.37zM450.8 1369.05h2.69v2.52h-2.69zM464.24 1369.05h8.06v3.02h-8.06zM488.42 1369.05h16.12v3.02h-16.12zM517.98 1369.05h8.06v3.02h-8.06zM528.72 1369.05h8.06v3.02h-8.06zM544.85 1369.05h5.37v3.02h-5.37zM552.91 1369.05h5.37v3.02h-5.37zM563.65 1369.05h5.37v3.02h-5.37zM617.39 1369.05h10.75v3.02h-10.75zM633.52 1369.05h8.06v3.02h-8.06zM646.95 1369.05h13.43v3.02h-13.43zM671.13 1369.05h2.69v2.52h-2.69zM681.88 1369.05h5.37v3.02h-5.37zM689.94 1369.05h8.06v3.02h-8.06zM700.69 1369.05h2.69v2.52h-2.69zM714.13 1369.05h2.69v2.52h-2.69zM730.25 1369.05h13.43v3.02h-13.43zM746.37 1369.05h10.75v3.02h-10.75zM767.87 1369.05h2.69v2.52h-2.69zM797.42 1369.05h8.06v3.02h-8.06zM813.54 1369.05h8.06v3.02h-8.06zM826.98 1369.05h5.37v3.02h-5.37zM835.04 1369.05h5.37v3.02h-5.37zM888.78 1369.05h2.69v2.52h-2.69zM453.49 1371.57h5.37v3.02h-5.37zM469.61 1371.57h2.69v3.02h-2.69zM483.04 1371.57h24.18v3.02h-24.18zM517.98 1371.57h8.06v3.02h-8.06zM528.72 1371.57h8.06v3.02h-8.06zM539.47 1371.57h8.06v3.02h-8.06zM550.22 1371.57h18.81v3.02h-18.81zM614.71 1371.57h16.12v3.02h-16.12zM636.2 1371.57h5.37v2.52h-5.37zM649.64 1371.57h8.06v3.02h-8.06zM665.76 1371.57h2.69v2.52h-2.69zM679.19 1371.57h16.12v3.02h-16.12zM708.75 1371.57h2.69v2.52h-2.69zM730.25 1371.57h5.37v2.52h-5.37zM738.31 1371.57h5.37v2.52h-5.37zM754.43 1371.57h5.37v3.02h-5.37zM775.93 1371.57h2.69v2.52h-2.69zM797.42 1371.57h5.37v2.52h-5.37zM810.86 1371.57h10.75v3.02h-10.75zM826.98 1371.57h10.75v3.02h-10.75zM448.11 1374.09h2.69v2.52h-2.69zM453.49 1374.09h5.37v3.02h-5.37zM469.61 1374.09h8.06v3.02h-8.06zM485.73 1374.09h2.69v2.52h-2.69zM496.48 1374.09h16.12v3.02h-16.12zM515.29 1374.09h16.12v3.02h-16.12zM539.47 1374.09h29.56v3.02h-29.56zM574.4 1374.09h2.69v3.02h-2.69zM587.84 1374.09h2.69v3.02h-2.69zM603.96 1374.09h2.69v2.52h-2.69zM609.33 1374.09h24.18v3.02h-24.18zM641.58 1374.09h5.37v3.02h-5.37zM652.33 1374.09h5.37v3.02h-5.37zM660.39 1374.09h5.37v3.02h-5.37zM671.13 1374.09h2.69v2.52h-2.69zM676.51 1374.09h16.12v3.02h-16.12zM749.06 1374.09h2.69v3.02h-2.69zM754.43 1374.09h8.06v3.02h-8.06zM808.17 1374.09h13.43v3.02h-13.43zM835.04 1374.09h2.69v2.52h-2.69zM453.49 1376.61h5.37v3.02h-5.37zM464.24 1376.61h13.43v2.52h-13.43zM496.48 1376.61h16.12v3.02h-16.12zM517.98 1376.61h2.69v2.52h-2.69zM526.04 1376.61h8.06v3.02h-8.06zM539.47 1376.61h10.75v3.02h-10.75zM555.59 1376.61h13.43v3.02h-13.43zM574.4 1376.61h24.18v3.02h-24.18zM609.33 1376.61h24.18v3.02h-24.18zM638.89 1376.61h8.06v3.02h-8.06zM652.33 1376.61h13.43v3.02h-13.43zM679.19 1376.61h5.37v3.02h-5.37zM706.07 1376.61h2.69v3.02h-2.69zM711.44 1376.61h5.37v3.02h-5.37zM724.87 1376.61h5.37v3.02h-5.37zM738.31 1376.61h5.37v3.02h-5.37zM746.37 1376.61h5.37v3.02h-5.37zM754.43 1376.61h8.06v2.52h-8.06zM765.18 1376.61h5.37v3.02h-5.37zM802.8 1376.61h8.06v3.02h-8.06zM824.29 1376.61h2.69v2.52h-2.69zM869.97 1376.61h2.69v2.52h-2.69zM878.03 1376.61h2.69v2.52h-2.69zM448.11 1379.13h13.43v3.02h-13.43zM493.79 1379.13h5.37v3.02h-5.37zM507.23 1379.13h2.69v2.52h-2.69zM520.66 1379.13h13.43v2.52h-13.43zM542.16 1379.13h8.06v2.52h-8.06zM552.91 1379.13h5.37v2.52h-5.37zM574.4 1379.13h24.18v3.02h-24.18zM609.33 1379.13h24.18v3.02h-24.18zM638.89 1379.13h8.06v3.02h-8.06zM652.33 1379.13h16.12v3.02h-16.12zM671.13 1379.13h2.69v2.52h-2.69zM681.88 1379.13h2.69v2.52h-2.69zM689.94 1379.13h2.69v2.52h-2.69zM706.07 1379.13h10.75v3.02h-10.75zM722.19 1379.13h8.06v3.02h-8.06zM735.62 1379.13h16.12v3.02h-16.12zM765.18 1379.13h5.37v3.02h-5.37zM783.99 1379.13h5.37v3.02h-5.37zM802.8 1379.13h5.37v3.02h-5.37zM829.67 1379.13h2.69v2.52h-2.69zM450.8 1381.66h5.37v2.52h-5.37zM464.24 1381.66h2.69v2.52h-2.69zM480.36 1381.66h2.69v3.02h-2.69zM491.11 1381.66h13.43v3.02h-13.43zM536.78 1381.66h5.37v3.02h-5.37zM563.65 1381.66h2.69v3.02h-2.69zM574.4 1381.66h26.87v3.02h-26.87zM606.65 1381.66h2.69v3.02h-2.69zM614.71 1381.66h18.81v3.02h-18.81zM638.89 1381.66h10.75v3.02h-10.75zM655.01 1381.66h16.12v3.02h-16.12zM708.75 1381.66h8.06v3.02h-8.06zM722.19 1381.66h5.37v2.52h-5.37zM735.62 1381.66h2.69v2.52h-2.69zM762.49 1381.66h5.37v3.02h-5.37zM783.99 1381.66h5.37v3.02h-5.37zM797.42 1381.66h2.69v2.52h-2.69zM802.8 1381.66h2.69v2.52h-2.69zM864.6 1381.66h2.69v2.52h-2.69zM904.9 1381.66h2.69v3.02h-2.69zM434.68 1384.18h5.37v3.02h-5.37zM477.67 1384.18h5.37v3.02h-5.37zM491.11 1384.18h2.69v3.02h-2.69zM499.17 1384.18h5.37v2.52h-5.37zM507.23 1384.18h10.75v3.02h-10.75zM536.78 1384.18h8.06v3.02h-8.06zM563.65 1384.18h2.69v3.02h-2.69zM574.4 1384.18h26.87v3.02h-26.87zM606.65 1384.18h2.69v3.02h-2.69zM620.08 1384.18h10.75v2.52h-10.75zM641.58 1384.18h8.06v3.02h-8.06zM655.01 1384.18h8.06v3.02h-8.06zM668.45 1384.18h5.37v3.02h-5.37zM679.19 1384.18h2.69v3.02h-2.69zM684.57 1384.18h8.06v3.02h-8.06zM698 1384.18h2.69v3.02h-2.69zM708.75 1384.18h8.06v3.02h-8.06zM751.74 1384.18h2.69v3.02h-2.69zM765.18 1384.18h2.69v2.52h-2.69zM781.3 1384.18h8.06v3.02h-8.06zM800.11 1384.18h2.69v2.52h-2.69zM816.23 1384.18h2.69v2.52h-2.69zM824.29 1384.18h2.69v3.02h-2.69zM845.79 1384.18h2.69v2.52h-2.69zM861.91 1384.18h2.69v2.52h-2.69zM904.9 1384.18h2.69v2.52h-2.69zM434.68 1386.7h5.37v3.02h-5.37zM448.11 1386.7h2.69v2.52h-2.69zM456.17 1386.7h5.37v3.02h-5.37zM477.67 1386.7h5.37v2.52h-5.37zM488.42 1386.7h5.37v3.02h-5.37zM507.23 1386.7h10.75v3.02h-10.75zM531.41 1386.7h21.5v3.02h-21.5zM560.97 1386.7h5.37v3.02h-5.37zM574.4 1386.7h13.43v3.02h-13.43zM595.9 1386.7h18.81v3.02h-18.81zM630.83 1386.7h2.69v3.02h-2.69zM644.26 1386.7h5.37v2.52h-5.37zM657.7 1386.7h2.69v3.02h-2.69zM668.45 1386.7h5.37v2.52h-5.37zM679.19 1386.7h2.69v3.02h-2.69zM687.26 1386.7h2.69v2.52h-2.69zM695.32 1386.7h8.06v3.02h-8.06zM706.07 1386.7h8.06v3.02h-8.06zM719.5 1386.7h2.69v3.02h-2.69zM730.25 1386.7h2.69v2.52h-2.69zM751.74 1386.7h2.69v2.52h-2.69zM783.99 1386.7h10.75v3.02h-10.75zM810.86 1386.7h5.37v3.02h-5.37zM824.29 1386.7h8.06v3.02h-8.06zM413.18 1389.22h2.69v2.52h-2.69zM431.99 1389.22h8.06v3.02h-8.06zM456.17 1389.22h5.37v3.02h-5.37zM485.73 1389.22h10.75v3.02h-10.75zM507.23 1389.22h16.12v3.02h-16.12zM528.72 1389.22h29.56v3.02h-29.56zM563.65 1389.22h5.37v3.02h-5.37zM577.09 1389.22h8.06v3.02h-8.06zM593.21 1389.22h24.18v3.02h-24.18zM620.08 1389.22h2.69v2.52h-2.69zM630.83 1389.22h2.69v2.52h-2.69zM655.01 1389.22h8.06v3.02h-8.06zM679.19 1389.22h2.69v2.52h-2.69zM698 1389.22h29.56v3.02h-29.56zM741 1389.22h5.37v3.02h-5.37zM749.06 1389.22h2.69v2.52h-2.69zM783.99 1389.22h13.43v3.02h-13.43zM810.86 1389.22h5.37v2.52h-5.37zM826.98 1389.22h5.37v2.52h-5.37zM431.99 1391.74h5.37v2.52h-5.37zM442.74 1391.74h2.69v3.02h-2.69zM456.17 1391.74h2.69v2.52h-2.69zM485.73 1391.74h5.37v2.52h-5.37zM509.91 1391.74h13.43v3.02h-13.43zM526.04 1391.74h10.75v3.02h-10.75zM539.47 1391.74h5.37v3.02h-5.37zM552.91 1391.74h5.37v2.52h-5.37zM566.34 1391.74h5.37v3.02h-5.37zM579.78 1391.74h5.37v3.02h-5.37zM593.21 1391.74h8.06v3.02h-8.06zM606.65 1391.74h10.75v3.02h-10.75zM646.95 1391.74h5.37v3.02h-5.37zM655.01 1391.74h5.37v3.02h-5.37zM681.88 1391.74h2.69v3.02h-2.69zM689.94 1391.74h2.69v3.02h-2.69zM695.32 1391.74h8.06v2.52h-8.06zM714.13 1391.74h16.12v3.02h-16.12zM743.68 1391.74h5.37v2.52h-5.37zM757.12 1391.74h8.06v3.02h-8.06zM794.74 1391.74h5.37v2.52h-5.37zM880.72 1391.74h2.69v3.02h-2.69zM904.9 1391.74h5.37v3.02h-5.37zM440.05 1394.26h5.37v3.02h-5.37zM464.24 1394.26h2.69v2.52h-2.69zM477.67 1394.26h2.69v2.52h-2.69zM512.6 1394.26h10.75v2.52h-10.75zM526.04 1394.26h8.06v3.02h-8.06zM542.16 1394.26h2.69v2.52h-2.69zM563.65 1394.26h21.5v3.02h-21.5zM590.52 1394.26h8.06v3.02h-8.06zM606.65 1394.26h8.06v3.02h-8.06zM628.14 1394.26h2.69v3.02h-2.69zM644.26 1394.26h8.06v3.02h-8.06zM655.01 1394.26h2.69v3.02h-2.69zM681.88 1394.26h13.43v3.02h-13.43zM714.13 1394.26h21.5v3.02h-21.5zM757.12 1394.26h8.06v3.02h-8.06zM810.86 1394.26h2.69v3.02h-2.69zM880.72 1394.26h2.69v2.52h-2.69zM886.09 1394.26h2.69v2.52h-2.69zM904.9 1394.26h8.06v3.02h-8.06zM434.68 1396.78h10.75v3.02h-10.75zM458.86 1396.78h2.69v2.52h-2.69zM501.85 1396.78h10.75v3.02h-10.75zM526.04 1396.78h8.06v2.52h-8.06zM539.47 1396.78h2.69v2.52h-2.69zM550.22 1396.78h2.69v3.02h-2.69zM563.65 1396.78h2.69v3.02h-2.69zM571.71 1396.78h8.06v3.02h-8.06zM582.46 1396.78h13.43v3.02h-13.43zM601.27 1396.78h8.06v3.02h-8.06zM628.14 1396.78h2.69v3.02h-2.69zM644.26 1396.78h5.37v2.52h-5.37zM655.01 1396.78h2.69v3.02h-2.69zM660.39 1396.78h5.37v3.02h-5.37zM676.51 1396.78h13.43v3.02h-13.43zM692.63 1396.78h5.37v3.02h-5.37zM714.13 1396.78h16.12v3.02h-16.12zM732.93 1396.78h13.43v3.02h-13.43zM751.74 1396.78h13.43v3.02h-13.43zM786.67 1396.78h2.69v3.02h-2.69zM810.86 1396.78h10.75v3.02h-10.75zM859.22 1396.78h2.69v2.52h-2.69zM907.59 1396.78h2.69v2.52h-2.69zM410.5 1399.3h5.37v3.02h-5.37zM437.37 1399.3h5.37v3.02h-5.37zM450.8 1399.3h2.69v3.02h-2.69zM461.55 1399.3h8.06v3.02h-8.06zM474.98 1399.3h2.69v3.02h-2.69zM485.73 1399.3h2.69v3.02h-2.69zM496.48 1399.3h16.12v3.02h-16.12zM547.53 1399.3h5.37v3.02h-5.37zM560.97 1399.3h5.37v3.02h-5.37zM571.71 1399.3h2.69v2.52h-2.69zM585.15 1399.3h10.75v3.02h-10.75zM601.27 1399.3h8.06v3.02h-8.06zM622.77 1399.3h2.69v3.02h-2.69zM628.14 1399.3h2.69v2.52h-2.69zM652.33 1399.3h13.43v3.02h-13.43zM668.45 1399.3h10.75v3.02h-10.75zM684.57 1399.3h13.43v3.02h-13.43zM708.75 1399.3h13.43v3.02h-13.43zM741 1399.3h16.12v2.52h-16.12zM759.8 1399.3h5.37v2.52h-5.37zM767.87 1399.3h2.69v2.52h-2.69zM786.67 1399.3h5.37v3.02h-5.37zM818.92 1399.3h5.37v3.02h-5.37zM835.04 1399.3h2.69v2.52h-2.69zM848.48 1399.3h2.69v2.52h-2.69zM864.6 1399.3h2.69v3.02h-2.69zM902.22 1399.3h2.69v2.52h-2.69zM407.81 1401.82h5.37v2.52h-5.37zM415.87 1401.82h2.69v3.02h-2.69zM440.05 1401.82h2.69v2.52h-2.69zM450.8 1401.82h8.06v3.02h-8.06zM464.24 1401.82h5.37v3.02h-5.37zM474.98 1401.82h5.37v3.02h-5.37zM483.04 1401.82h5.37v3.02h-5.37zM499.17 1401.82h8.06v3.02h-8.06zM536.78 1401.82h2.69v3.02h-2.69zM547.53 1401.82h5.37v3.02h-5.37zM560.97 1401.82h8.06v3.02h-8.06zM590.52 1401.82h5.37v3.02h-5.37zM598.59 1401.82h10.75v3.02h-10.75zM612.02 1401.82h2.69v2.52h-2.69zM622.77 1401.82h5.37v3.02h-5.37zM652.33 1401.82h29.56v3.02h-29.56zM684.57 1401.82h5.37v3.02h-5.37zM695.32 1401.82h10.75v3.02h-10.75zM708.75 1401.82h10.75v3.02h-10.75zM786.67 1401.82h2.69v2.52h-2.69zM821.61 1401.82h2.69v2.52h-2.69zM861.91 1401.82h5.37v2.52h-5.37zM891.47 1401.82h2.69v2.52h-2.69zM910.28 1401.82h2.69v2.52h-2.69zM415.87 1404.34h8.06v3.02h-8.06zM450.8 1404.34h16.12v3.02h-16.12zM474.98 1404.34h18.81v3.02h-18.81zM499.17 1404.34h10.75v3.02h-10.75zM520.66 1404.34h2.69v3.02h-2.69zM536.78 1404.34h2.69v3.02h-2.69zM547.53 1404.34h10.75v3.02h-10.75zM563.65 1404.34h8.06v3.02h-8.06zM579.78 1404.34h2.69v2.52h-2.69zM587.84 1404.34h5.37v3.02h-5.37zM601.27 1404.34h5.37v2.52h-5.37zM614.71 1404.34h5.37v3.02h-5.37zM622.77 1404.34h2.69v3.02h-2.69zM638.89 1404.34h2.69v3.02h-2.69zM655.01 1404.34h5.37v3.02h-5.37zM668.45 1404.34h10.75v3.02h-10.75zM684.57 1404.34h5.37v3.02h-5.37zM695.32 1404.34h8.06v3.02h-8.06zM708.75 1404.34h8.06v3.02h-8.06zM757.12 1404.34h2.69v3.02h-2.69zM829.67 1404.34h8.06v3.02h-8.06zM845.79 1404.34h2.69v2.52h-2.69zM415.87 1406.86h5.37v3.02h-5.37zM423.93 1406.86h5.37v2.52h-5.37zM434.68 1406.86h2.69v2.52h-2.69zM442.74 1406.86h2.69v3.02h-2.69zM456.17 1406.86h5.37v3.02h-5.37zM474.98 1406.86h21.5v3.02h-21.5zM501.85 1406.86h5.37v3.02h-5.37zM515.29 1406.86h8.06v3.02h-8.06zM534.1 1406.86h5.37v3.02h-5.37zM542.16 1406.86h32.24v3.02h-32.24zM585.15 1406.86h8.06v3.02h-8.06zM612.02 1406.86h5.37v3.02h-5.37zM622.77 1406.86h5.37v3.02h-5.37zM636.2 1406.86h8.06v3.02h-8.06zM655.01 1406.86h2.69v2.52h-2.69zM665.76 1406.86h5.37v2.52h-5.37zM684.57 1406.86h5.37v3.02h-5.37zM698 1406.86h5.37v3.02h-5.37zM708.75 1406.86h2.69v2.52h-2.69zM746.37 1406.86h2.69v2.52h-2.69zM757.12 1406.86h2.69v3.02h-2.69zM762.49 1406.86h2.69v2.52h-2.69zM829.67 1406.86h10.75v2.52h-10.75zM418.56 1409.38h2.69v2.52h-2.69zM442.74 1409.38h5.37v3.02h-5.37zM456.17 1409.38h5.37v3.02h-5.37zM472.3 1409.38h10.75v2.52h-10.75zM485.73 1409.38h18.81v3.02h-18.81zM512.6 1409.38h5.37v3.02h-5.37zM523.35 1409.38h2.69v3.02h-2.69zM531.41 1409.38h5.37v2.52h-5.37zM547.53 1409.38h2.69v2.52h-2.69zM552.91 1409.38h5.37v3.02h-5.37zM571.71 1409.38h2.69v2.52h-2.69zM585.15 1409.38h10.75v3.02h-10.75zM598.59 1409.38h8.06v3.02h-8.06zM612.02 1409.38h5.37v2.52h-5.37zM620.08 1409.38h8.06v3.02h-8.06zM630.83 1409.38h10.75v3.02h-10.75zM673.82 1409.38h2.69v3.02h-2.69zM681.88 1409.38h5.37v2.52h-5.37zM692.63 1409.38h2.69v2.52h-2.69zM698 1409.38h5.37v2.52h-5.37zM722.19 1409.38h5.37v3.02h-5.37zM741 1409.38h2.69v2.52h-2.69zM757.12 1409.38h2.69v2.52h-2.69zM765.18 1409.38h8.06v2.52h-8.06zM775.93 1409.38h5.37v2.52h-5.37zM861.91 1409.38h5.37v3.02h-5.37zM440.05 1411.9h5.37v3.02h-5.37zM458.86 1411.9h10.75v3.02h-10.75zM496.48 1411.9h2.69v3.02h-2.69zM515.29 1411.9h2.69v2.52h-2.69zM523.35 1411.9h2.69v3.02h-2.69zM544.85 1411.9h2.69v2.52h-2.69zM550.22 1411.9h8.06v3.02h-8.06zM563.65 1411.9h2.69v2.52h-2.69zM577.09 1411.9h2.69v2.52h-2.69zM585.15 1411.9h5.37v3.02h-5.37zM598.59 1411.9h5.37v3.02h-5.37zM617.39 1411.9h5.37v3.02h-5.37zM628.14 1411.9h10.75v3.02h-10.75zM646.95 1411.9h5.37v3.02h-5.37zM657.7 1411.9h5.37v3.02h-5.37zM671.13 1411.9h10.75v3.02h-10.75zM719.5 1411.9h5.37v2.52h-5.37zM751.74 1411.9h5.37v3.02h-5.37zM864.6 1411.9h2.69v2.52h-2.69zM437.37 1414.42h8.06v3.02h-8.06zM458.86 1414.42h10.75v3.02h-10.75zM496.48 1414.42h2.69v3.02h-2.69zM501.85 1414.42h8.06v3.02h-8.06zM523.35 1414.42h2.69v3.02h-2.69zM539.47 1414.42h2.69v2.52h-2.69zM547.53 1414.42h10.75v3.02h-10.75zM571.71 1414.42h2.69v2.52h-2.69zM587.84 1414.42h2.69v2.52h-2.69zM601.27 1414.42h5.37v3.02h-5.37zM612.02 1414.42h2.69v3.02h-2.69zM620.08 1414.42h2.69v2.52h-2.69zM628.14 1414.42h8.06v3.02h-8.06zM644.26 1414.42h18.81v3.02h-18.81zM671.13 1414.42h10.75v3.02h-10.75zM692.63 1414.42h8.06v3.02h-8.06zM751.74 1414.42h5.37v3.02h-5.37zM821.61 1414.42h2.69v3.02h-2.69zM840.41 1414.42h13.43v3.02h-13.43zM869.97 1414.42h2.69v2.52h-2.69zM413.18 1416.94h2.69v2.52h-2.69zM434.68 1416.94h8.06v3.02h-8.06zM458.86 1416.94h5.37v2.52h-5.37zM474.98 1416.94h5.37v3.02h-5.37zM493.79 1416.94h16.12v3.02h-16.12zM523.35 1416.94h5.37v3.02h-5.37zM531.41 1416.94h2.69v2.52h-2.69zM536.78 1416.94h2.69v2.52h-2.69zM544.85 1416.94h2.69v3.02h-2.69zM552.91 1416.94h5.37v3.02h-5.37zM593.21 1416.94h2.69v3.02h-2.69zM603.96 1416.94h10.75v3.02h-10.75zM622.77 1416.94h2.69v3.02h-2.69zM628.14 1416.94h26.87v3.02h-26.87zM657.7 1416.94h5.37v2.52h-5.37zM671.13 1416.94h10.75v3.02h-10.75zM692.63 1416.94h8.06v2.52h-8.06zM754.43 1416.94h5.37v2.52h-5.37zM810.86 1416.94h2.69v3.02h-2.69zM821.61 1416.94h2.69v2.52h-2.69zM845.79 1416.94h5.37v2.52h-5.37zM434.68 1419.46h10.75v3.02h-10.75zM474.98 1419.46h5.37v2.52h-5.37zM493.79 1419.46h2.69v3.02h-2.69zM501.85 1419.46h5.37v3.02h-5.37zM523.35 1419.46h8.06v3.02h-8.06zM534.1 1419.46h2.69v3.02h-2.69zM542.16 1419.46h5.37v3.02h-5.37zM555.59 1419.46h2.69v2.52h-2.69zM577.09 1419.46h5.37v3.02h-5.37zM593.21 1419.46h5.37v3.02h-5.37zM603.96 1419.46h5.37v3.02h-5.37zM612.02 1419.46h2.69v3.02h-2.69zM622.77 1419.46h13.43v3.02h-13.43zM638.89 1419.46h2.69v2.52h-2.69zM663.07 1419.46h13.43v3.02h-13.43zM689.94 1419.46h2.69v3.02h-2.69zM703.38 1419.46h2.69v2.52h-2.69zM711.44 1419.46h2.69v3.02h-2.69zM746.37 1419.46h2.69v2.52h-2.69zM797.42 1419.46h2.69v3.02h-2.69zM808.17 1419.46h5.37v2.52h-5.37zM832.35 1419.46h2.69v2.52h-2.69zM440.05 1421.98h5.37v3.02h-5.37zM466.92 1421.98h5.37v3.02h-5.37zM485.73 1421.98h10.75v3.02h-10.75zM501.85 1421.98h5.37v3.02h-5.37zM512.6 1421.98h2.69v2.52h-2.69zM523.35 1421.98h13.43v3.02h-13.43zM544.85 1421.98h2.69v2.52h-2.69zM577.09 1421.98h2.69v2.52h-2.69zM593.21 1421.98h5.37v3.02h-5.37zM603.96 1421.98h2.69v2.52h-2.69zM612.02 1421.98h2.69v3.02h-2.69zM625.45 1421.98h8.06v3.02h-8.06zM668.45 1421.98h5.37v3.02h-5.37zM689.94 1421.98h2.69v2.52h-2.69zM711.44 1421.98h5.37v2.52h-5.37zM749.06 1421.98h2.69v2.52h-2.69zM778.61 1421.98h2.69v2.52h-2.69zM792.05 1421.98h2.69v3.02h-2.69zM797.42 1421.98h5.37v3.02h-5.37zM899.53 1421.98h2.69v2.52h-2.69zM415.87 1424.5h2.69v2.52h-2.69zM440.05 1424.5h5.37v2.52h-5.37zM458.86 1424.5h13.43v3.02h-13.43zM480.36 1424.5h18.81v3.02h-18.81zM501.85 1424.5h5.37v3.02h-5.37zM526.04 1424.5h13.43v3.02h-13.43zM547.53 1424.5h5.37v3.02h-5.37zM587.84 1424.5h10.75v3.02h-10.75zM606.65 1424.5h8.06v3.02h-8.06zM617.39 1424.5h2.69v2.52h-2.69zM625.45 1424.5h2.69v2.52h-2.69zM644.26 1424.5h5.37v3.02h-5.37zM668.45 1424.5h5.37v3.02h-5.37zM759.8 1424.5h2.69v2.52h-2.69zM789.36 1424.5h5.37v3.02h-5.37zM800.11 1424.5h5.37v3.02h-5.37zM821.61 1424.5h5.37v3.02h-5.37zM888.78 1424.5h2.69v2.52h-2.69zM426.62 1427.02h8.06v3.02h-8.06zM458.86 1427.02h2.69v2.52h-2.69zM466.92 1427.02h5.37v3.02h-5.37zM483.04 1427.02h5.37v3.02h-5.37zM491.11 1427.02h5.37v3.02h-5.37zM501.85 1427.02h8.06v3.02h-8.06zM520.66 1427.02h18.81v3.02h-18.81zM547.53 1427.02h5.37v3.02h-5.37zM590.52 1427.02h8.06v3.02h-8.06zM609.33 1427.02h5.37v3.02h-5.37zM644.26 1427.02h5.37v3.02h-5.37zM665.76 1427.02h8.06v3.02h-8.06zM681.88 1427.02h2.69v3.02h-2.69zM689.94 1427.02h2.69v2.52h-2.69zM719.5 1427.02h2.69v2.52h-2.69zM735.62 1427.02h8.06v3.02h-8.06zM781.3 1427.02h2.69v3.02h-2.69zM792.05 1427.02h5.37v2.52h-5.37zM800.11 1427.02h8.06v3.02h-8.06zM818.92 1427.02h5.37v2.52h-5.37zM837.73 1427.02h2.69v2.52h-2.69zM894.15 1427.02h2.69v2.52h-2.69zM426.62 1429.55h5.37v2.52h-5.37zM453.49 1429.55h5.37v3.02h-5.37zM469.61 1429.55h2.69v2.52h-2.69zM485.73 1429.55h8.06v3.02h-8.06zM499.17 1429.55h8.06v2.52h-8.06zM520.66 1429.55h8.06v2.52h-8.06zM534.1 1429.55h5.37v3.02h-5.37zM542.16 1429.55h2.69v2.52h-2.69zM547.53 1429.55h5.37v3.02h-5.37zM582.46 1429.55h2.69v2.52h-2.69zM590.52 1429.55h5.37v3.02h-5.37zM609.33 1429.55h5.37v2.52h-5.37zM628.14 1429.55h2.69v3.02h-2.69zM646.95 1429.55h2.69v3.02h-2.69zM665.76 1429.55h5.37v2.52h-5.37zM681.88 1429.55h5.37v2.52h-5.37zM700.69 1429.55h2.69v3.02h-2.69zM732.93 1429.55h8.06v2.52h-8.06zM757.12 1429.55h2.69v2.52h-2.69zM767.87 1429.55h5.37v2.52h-5.37zM775.93 1429.55h10.75v3.02h-10.75zM800.11 1429.55h5.37v3.02h-5.37zM453.49 1432.07h5.37v3.02h-5.37zM472.3 1432.07h5.37v3.02h-5.37zM485.73 1432.07h8.06v3.02h-8.06zM515.29 1432.07h2.69v3.02h-2.69zM534.1 1432.07h8.06v3.02h-8.06zM544.85 1432.07h5.37v3.02h-5.37zM563.65 1432.07h5.37v3.02h-5.37zM593.21 1432.07h2.69v2.52h-2.69zM628.14 1432.07h10.75v3.02h-10.75zM646.95 1432.07h2.69v2.52h-2.69zM652.33 1432.07h2.69v2.52h-2.69zM700.69 1432.07h8.06v3.02h-8.06zM719.5 1432.07h5.37v3.02h-5.37zM765.18 1432.07h2.69v2.52h-2.69zM773.24 1432.07h8.06v3.02h-8.06zM797.42 1432.07h5.37v3.02h-5.37zM904.9 1432.07h2.69v2.52h-2.69zM426.62 1434.59h5.37v3.02h-5.37zM453.49 1434.59h8.06v3.02h-8.06zM474.98 1434.59h2.69v3.02h-2.69zM488.42 1434.59h8.06v3.02h-8.06zM512.6 1434.59h5.37v2.52h-5.37zM531.41 1434.59h5.37v3.02h-5.37zM539.47 1434.59h10.75v3.02h-10.75zM560.97 1434.59h13.43v3.02h-13.43zM603.96 1434.59h2.69v2.52h-2.69zM628.14 1434.59h10.75v3.02h-10.75zM700.69 1434.59h5.37v3.02h-5.37zM719.5 1434.59h2.69v2.52h-2.69zM743.68 1434.59h2.69v2.52h-2.69zM773.24 1434.59h5.37v2.52h-5.37zM789.36 1434.59h2.69v3.02h-2.69zM797.42 1434.59h2.69v2.52h-2.69zM837.73 1434.59h5.37v3.02h-5.37zM423.93 1437.11h8.06v3.02h-8.06zM453.49 1437.11h13.43v3.02h-13.43zM472.3 1437.11h10.75v3.02h-10.75zM488.42 1437.11h5.37v2.52h-5.37zM528.72 1437.11h21.5v3.02h-21.5zM560.97 1437.11h13.43v2.52h-13.43zM609.33 1437.11h2.69v2.52h-2.69zM628.14 1437.11h5.37v2.52h-5.37zM644.26 1437.11h2.69v2.52h-2.69zM679.19 1437.11h2.69v3.02h-2.69zM703.38 1437.11h2.69v2.52h-2.69zM711.44 1437.11h5.37v3.02h-5.37zM751.74 1437.11h5.37v3.02h-5.37zM762.49 1437.11h2.69v2.52h-2.69zM786.67 1437.11h8.06v2.52h-8.06zM840.41 1437.11h2.69v3.02h-2.69zM423.93 1439.63h16.12v3.02h-16.12zM453.49 1439.63h10.75v3.02h-10.75zM474.98 1439.63h10.75v3.02h-10.75zM499.17 1439.63h2.69v2.52h-2.69zM512.6 1439.63h2.69v3.02h-2.69zM528.72 1439.63h21.5v2.52h-21.5zM620.08 1439.63h2.69v3.02h-2.69zM641.58 1439.63h2.69v2.52h-2.69zM660.39 1439.63h10.75v2.52h-10.75zM673.82 1439.63h8.06v3.02h-8.06zM684.57 1439.63h2.69v2.52h-2.69zM698 1439.63h2.69v3.02h-2.69zM706.07 1439.63h13.43v2.52h-13.43zM749.06 1439.63h10.75v3.02h-10.75zM805.48 1439.63h2.69v2.52h-2.69zM813.54 1439.63h2.69v2.52h-2.69zM840.41 1439.63h5.37v3.02h-5.37zM851.16 1439.63h2.69v2.52h-2.69zM880.72 1439.63h2.69v2.52h-2.69zM423.93 1442.15h2.69v3.02h-2.69zM434.68 1442.15h2.69v2.52h-2.69zM453.49 1442.15h5.37v3.02h-5.37zM477.67 1442.15h8.06v3.02h-8.06zM512.6 1442.15h5.37v3.02h-5.37zM520.66 1442.15h5.37v3.02h-5.37zM555.59 1442.15h5.37v3.02h-5.37zM571.71 1442.15h2.69v3.02h-2.69zM620.08 1442.15h2.69v2.52h-2.69zM625.45 1442.15h2.69v2.52h-2.69zM638.89 1442.15h2.69v2.52h-2.69zM655.01 1442.15h2.69v3.02h-2.69zM679.19 1442.15h2.69v2.52h-2.69zM692.63 1442.15h10.75v3.02h-10.75zM727.56 1442.15h2.69v2.52h-2.69zM749.06 1442.15h5.37v3.02h-5.37zM767.87 1442.15h2.69v3.02h-2.69zM808.17 1442.15h2.69v2.52h-2.69zM843.1 1442.15h5.37v2.52h-5.37zM423.93 1444.67h2.69v3.02h-2.69zM456.17 1444.67h2.69v2.52h-2.69zM472.3 1444.67h8.06v3.02h-8.06zM483.04 1444.67h2.69v2.52h-2.69zM496.48 1444.67h2.69v2.52h-2.69zM509.91 1444.67h8.06v3.02h-8.06zM523.35 1444.67h2.69v2.52h-2.69zM555.59 1444.67h5.37v3.02h-5.37zM566.34 1444.67h21.5v3.02h-21.5zM609.33 1444.67h2.69v3.02h-2.69zM617.39 1444.67h2.69v3.02h-2.69zM655.01 1444.67h5.37v2.52h-5.37zM681.88 1444.67h2.69v2.52h-2.69zM700.69 1444.67h5.37v2.52h-5.37zM749.06 1444.67h5.37v3.02h-5.37zM762.49 1444.67h8.06v3.02h-8.06zM773.24 1444.67h5.37v3.02h-5.37zM837.73 1444.67h2.69v2.52h-2.69zM423.93 1447.19h2.69v2.52h-2.69zM440.05 1447.19h8.06v3.02h-8.06zM469.61 1447.19h8.06v3.02h-8.06zM512.6 1447.19h8.06v3.02h-8.06zM526.04 1447.19h2.69v3.02h-2.69zM547.53 1447.19h2.69v3.02h-2.69zM555.59 1447.19h5.37v2.52h-5.37zM566.34 1447.19h18.81v3.02h-18.81zM609.33 1447.19h10.75v3.02h-10.75zM749.06 1447.19h5.37v2.52h-5.37zM762.49 1447.19h5.37v3.02h-5.37zM773.24 1447.19h5.37v2.52h-5.37zM789.36 1447.19h2.69v2.52h-2.69zM818.92 1447.19h5.37v2.52h-5.37zM843.1 1447.19h5.37v3.02h-5.37zM869.97 1447.19h2.69v2.52h-2.69zM429.3 1449.71h2.69v2.52h-2.69zM437.37 1449.71h8.06v3.02h-8.06zM458.86 1449.71h5.37v3.02h-5.37zM472.3 1449.71h8.06v2.52h-8.06zM515.29 1449.71h2.69v2.52h-2.69zM520.66 1449.71h10.75v3.02h-10.75zM547.53 1449.71h5.37v3.02h-5.37zM569.03 1449.71h10.75v3.02h-10.75zM587.84 1449.71h2.69v3.02h-2.69zM598.59 1449.71h5.37v3.02h-5.37zM609.33 1449.71h8.06v3.02h-8.06zM625.45 1449.71h2.69v3.02h-2.69zM641.58 1449.71h2.69v3.02h-2.69zM652.33 1449.71h2.69v2.52h-2.69zM657.7 1449.71h2.69v2.52h-2.69zM689.94 1449.71h2.69v2.52h-2.69zM741 1449.71h2.69v2.52h-2.69zM754.43 1449.71h2.69v2.52h-2.69zM765.18 1449.71h2.69v2.52h-2.69zM808.17 1449.71h2.69v2.52h-2.69zM826.98 1449.71h2.69v2.52h-2.69zM843.1 1449.71h5.37v3.02h-5.37zM442.74 1452.23h5.37v3.02h-5.37zM453.49 1452.23h8.06v3.02h-8.06zM526.04 1452.23h8.06v3.02h-8.06zM547.53 1452.23h5.37v3.02h-5.37zM558.28 1452.23h8.06v3.02h-8.06zM571.71 1452.23h5.37v3.02h-5.37zM582.46 1452.23h8.06v3.02h-8.06zM598.59 1452.23h5.37v3.02h-5.37zM609.33 1452.23h8.06v3.02h-8.06zM620.08 1452.23h2.69v2.52h-2.69zM625.45 1452.23h2.69v3.02h-2.69zM641.58 1452.23h2.69v3.02h-2.69zM668.45 1452.23h2.69v2.52h-2.69zM692.63 1452.23h2.69v2.52h-2.69zM818.92 1452.23h2.69v3.02h-2.69zM843.1 1452.23h5.37v2.52h-5.37zM896.84 1452.23h5.37v3.02h-5.37zM442.74 1454.75h5.37v2.52h-5.37zM453.49 1454.75h5.37v3.02h-5.37zM501.85 1454.75h2.69v3.02h-2.69zM526.04 1454.75h10.75v3.02h-10.75zM547.53 1454.75h2.69v2.52h-2.69zM555.59 1454.75h2.69v2.52h-2.69zM560.97 1454.75h2.69v2.52h-2.69zM571.71 1454.75h5.37v2.52h-5.37zM582.46 1454.75h8.06v3.02h-8.06zM601.27 1454.75h2.69v2.52h-2.69zM612.02 1454.75h5.37v3.02h-5.37zM622.77 1454.75h5.37v3.02h-5.37zM630.83 1454.75h2.69v2.52h-2.69zM641.58 1454.75h5.37v3.02h-5.37zM786.67 1454.75h2.69v2.52h-2.69zM794.74 1454.75h2.69v2.52h-2.69zM808.17 1454.75h2.69v2.52h-2.69zM818.92 1454.75h5.37v2.52h-5.37zM896.84 1454.75h5.37v2.52h-5.37zM450.8 1457.27h8.06v3.02h-8.06zM466.92 1457.27h8.06v3.02h-8.06zM485.73 1457.27h5.37v3.02h-5.37zM493.79 1457.27h13.43v3.02h-13.43zM523.35 1457.27h13.43v3.02h-13.43zM544.85 1457.27h2.69v2.52h-2.69zM582.46 1457.27h8.06v3.02h-8.06zM609.33 1457.27h21.5v3.02h-21.5zM638.89 1457.27h8.06v3.02h-8.06zM655.01 1457.27h5.37v3.02h-5.37zM689.94 1457.27h5.37v3.02h-5.37zM738.31 1457.27h2.69v2.52h-2.69zM770.55 1457.27h2.69v3.02h-2.69zM840.41 1457.27h2.69v2.52h-2.69zM434.68 1459.79h5.37v2.52h-5.37zM450.8 1459.79h2.69v2.52h-2.69zM469.61 1459.79h5.37v2.52h-5.37zM483.04 1459.79h8.06v3.02h-8.06zM493.79 1459.79h13.43v3.02h-13.43zM523.35 1459.79h2.69v2.52h-2.69zM528.72 1459.79h5.37v3.02h-5.37zM563.65 1459.79h2.69v2.52h-2.69zM582.46 1459.79h2.69v2.52h-2.69zM606.65 1459.79h16.12v2.52h-16.12zM641.58 1459.79h5.37v2.52h-5.37zM655.01 1459.79h5.37v3.02h-5.37zM687.26 1459.79h8.06v3.02h-8.06zM716.81 1459.79h2.69v3.02h-2.69zM759.8 1459.79h2.69v3.02h-2.69zM770.55 1459.79h5.37v3.02h-5.37zM810.86 1459.79h8.06v3.02h-8.06zM851.16 1459.79h2.69v2.52h-2.69zM891.47 1459.79h5.37v2.52h-5.37zM445.43 1462.31h2.69v2.52h-2.69zM458.86 1462.31h2.69v2.52h-2.69zM483.04 1462.31h8.06v3.02h-8.06zM499.17 1462.31h8.06v2.52h-8.06zM528.72 1462.31h5.37v3.02h-5.37zM552.91 1462.31h2.69v2.52h-2.69zM655.01 1462.31h2.69v2.52h-2.69zM687.26 1462.31h5.37v3.02h-5.37zM714.13 1462.31h8.06v3.02h-8.06zM730.25 1462.31h5.37v2.52h-5.37zM743.68 1462.31h2.69v3.02h-2.69zM757.12 1462.31h5.37v2.52h-5.37zM770.55 1462.31h5.37v3.02h-5.37zM816.23 1462.31h8.06v3.02h-8.06zM832.35 1462.31h2.69v2.52h-2.69zM448.11 1464.83h2.69v3.02h-2.69zM466.92 1464.83h2.69v2.52h-2.69zM483.04 1464.83h8.06v3.02h-8.06zM531.41 1464.83h2.69v3.02h-2.69zM539.47 1464.83h8.06v3.02h-8.06zM571.71 1464.83h8.06v3.02h-8.06zM625.45 1464.83h2.69v2.52h-2.69zM641.58 1464.83h2.69v3.02h-2.69zM660.39 1464.83h5.37v3.02h-5.37zM687.26 1464.83h5.37v2.52h-5.37zM700.69 1464.83h2.69v3.02h-2.69zM714.13 1464.83h8.06v3.02h-8.06zM743.68 1464.83h8.06v3.02h-8.06zM770.55 1464.83h5.37v2.52h-5.37zM800.11 1464.83h2.69v2.52h-2.69zM821.61 1464.83h8.06v2.52h-8.06zM448.11 1467.35h2.69v2.52h-2.69zM461.55 1467.35h2.69v3.02h-2.69zM483.04 1467.35h2.69v3.02h-2.69zM507.23 1467.35h2.69v3.02h-2.69zM531.41 1467.35h2.69v2.52h-2.69zM542.16 1467.35h2.69v2.52h-2.69zM574.4 1467.35h8.06v3.02h-8.06zM598.59 1467.35h5.37v3.02h-5.37zM641.58 1467.35h2.69v2.52h-2.69zM652.33 1467.35h2.69v2.52h-2.69zM657.7 1467.35h5.37v3.02h-5.37zM700.69 1467.35h2.69v2.52h-2.69zM716.81 1467.35h5.37v2.52h-5.37zM746.37 1467.35h8.06v3.02h-8.06zM829.67 1467.35h5.37v3.02h-5.37zM840.41 1467.35h2.69v3.02h-2.69zM888.78 1467.35h2.69v3.02h-2.69zM456.17 1469.87h8.06v3.02h-8.06zM483.04 1469.87h2.69v3.02h-2.69zM493.79 1469.87h8.06v3.02h-8.06zM507.23 1469.87h5.37v3.02h-5.37zM574.4 1469.87h5.37v3.02h-5.37zM582.46 1469.87h2.69v2.52h-2.69zM593.21 1469.87h8.06v3.02h-8.06zM655.01 1469.87h8.06v3.02h-8.06zM671.13 1469.87h5.37v3.02h-5.37zM689.94 1469.87h5.37v2.52h-5.37zM751.74 1469.87h2.69v3.02h-2.69zM808.17 1469.87h5.37v2.52h-5.37zM829.67 1469.87h5.37v3.02h-5.37zM840.41 1469.87h2.69v3.02h-2.69zM875.35 1469.87h2.69v2.52h-2.69zM880.72 1469.87h2.69v3.02h-2.69zM886.09 1469.87h5.37v3.02h-5.37zM894.15 1469.87h2.69v2.52h-2.69zM453.49 1472.39h10.75v3.02h-10.75zM480.36 1472.39h8.06v3.02h-8.06zM496.48 1472.39h8.06v3.02h-8.06zM507.23 1472.39h8.06v3.02h-8.06zM577.09 1472.39h2.69v2.52h-2.69zM585.15 1472.39h2.69v3.02h-2.69zM598.59 1472.39h2.69v2.52h-2.69zM655.01 1472.39h8.06v2.52h-8.06zM671.13 1472.39h5.37v3.02h-5.37zM695.32 1472.39h2.69v3.02h-2.69zM751.74 1472.39h2.69v2.52h-2.69zM759.8 1472.39h2.69v2.52h-2.69zM765.18 1472.39h2.69v2.52h-2.69zM829.67 1472.39h2.69v2.52h-2.69zM840.41 1472.39h2.69v2.52h-2.69zM880.72 1472.39h10.75v2.52h-10.75zM445.43 1474.91h18.81v3.02h-18.81zM480.36 1474.91h8.06v3.02h-8.06zM493.79 1474.91h10.75v3.02h-10.75zM507.23 1474.91h5.37v3.02h-5.37zM520.66 1474.91h5.37v3.02h-5.37zM536.78 1474.91h5.37v3.02h-5.37zM569.03 1474.91h2.69v2.52h-2.69zM582.46 1474.91h5.37v3.02h-5.37zM593.21 1474.91h2.69v2.52h-2.69zM603.96 1474.91h5.37v3.02h-5.37zM612.02 1474.91h5.37v3.02h-5.37zM646.95 1474.91h2.69v2.52h-2.69zM673.82 1474.91h2.69v3.02h-2.69zM684.57 1474.91h2.69v2.52h-2.69zM695.32 1474.91h2.69v3.02h-2.69zM746.37 1474.91h2.69v3.02h-2.69zM821.61 1474.91h2.69v3.02h-2.69zM445.43 1477.43h8.06v2.52h-8.06zM466.92 1477.43h2.69v2.52h-2.69zM483.04 1477.43h8.06v2.52h-8.06zM493.79 1477.43h18.81v3.02h-18.81zM520.66 1477.43h5.37v2.52h-5.37zM531.41 1477.43h10.75v3.02h-10.75zM566.34 1477.43h2.69v2.52h-2.69zM577.09 1477.43h2.69v2.52h-2.69zM582.46 1477.43h2.69v3.02h-2.69zM603.96 1477.43h10.75v3.02h-10.75zM636.2 1477.43h5.37v3.02h-5.37zM673.82 1477.43h5.37v2.52h-5.37zM695.32 1477.43h2.69v2.52h-2.69zM716.81 1477.43h8.06v3.02h-8.06zM735.62 1477.43h13.43v3.02h-13.43zM789.36 1477.43h2.69v3.02h-2.69zM821.61 1477.43h5.37v2.52h-5.37zM493.79 1479.95h8.06v3.02h-8.06zM507.23 1479.95h5.37v2.52h-5.37zM515.29 1479.95h2.69v3.02h-2.69zM531.41 1479.95h10.75v2.52h-10.75zM569.03 1479.95h2.69v3.02h-2.69zM579.78 1479.95h5.37v3.02h-5.37zM603.96 1479.95h10.75v3.02h-10.75zM636.2 1479.95h5.37v2.52h-5.37zM719.5 1479.95h5.37v3.02h-5.37zM732.93 1479.95h5.37v3.02h-5.37zM741 1479.95h8.06v3.02h-8.06zM757.12 1479.95h2.69v2.52h-2.69zM765.18 1479.95h2.69v2.52h-2.69zM775.93 1479.95h5.37v3.02h-5.37zM789.36 1479.95h8.06v3.02h-8.06zM800.11 1479.95h2.69v3.02h-2.69zM856.54 1479.95h2.69v2.52h-2.69zM474.98 1482.48h2.69v3.02h-2.69zM493.79 1482.48h5.37v2.52h-5.37zM515.29 1482.48h2.69v2.52h-2.69zM544.85 1482.48h5.37v3.02h-5.37zM566.34 1482.48h8.06v3.02h-8.06zM577.09 1482.48h8.06v3.02h-8.06zM590.52 1482.48h2.69v2.52h-2.69zM603.96 1482.48h13.43v3.02h-13.43zM641.58 1482.48h2.69v2.52h-2.69zM660.39 1482.48h8.06v2.52h-8.06zM700.69 1482.48h5.37v3.02h-5.37zM719.5 1482.48h2.69v2.52h-2.69zM730.25 1482.48h8.06v3.02h-8.06zM746.37 1482.48h2.69v2.52h-2.69zM775.93 1482.48h2.69v2.52h-2.69zM789.36 1482.48h5.37v3.02h-5.37zM797.42 1482.48h10.75v2.52h-10.75zM469.61 1485h8.06v3.02h-8.06zM542.16 1485h2.69v2.52h-2.69zM547.53 1485h2.69v2.52h-2.69zM560.97 1485h2.69v2.52h-2.69zM566.34 1485h8.06v3.02h-8.06zM582.46 1485h2.69v3.02h-2.69zM606.65 1485h10.75v3.02h-10.75zM687.26 1485h5.37v2.52h-5.37zM700.69 1485h8.06v3.02h-8.06zM727.56 1485h2.69v2.52h-2.69zM735.62 1485h2.69v2.52h-2.69zM757.12 1485h2.69v2.52h-2.69zM786.67 1485h5.37v2.52h-5.37zM859.22 1485h2.69v3.02h-2.69zM456.17 1487.52h2.69v3.02h-2.69zM464.24 1487.52h2.69v2.52h-2.69zM474.98 1487.52h10.75v3.02h-10.75zM534.1 1487.52h2.69v2.52h-2.69zM571.71 1487.52h2.69v2.52h-2.69zM582.46 1487.52h2.69v3.02h-2.69zM606.65 1487.52h10.75v2.52h-10.75zM660.39 1487.52h2.69v2.52h-2.69zM676.51 1487.52h2.69v3.02h-2.69zM706.07 1487.52h13.43v3.02h-13.43zM724.87 1487.52h2.69v2.52h-2.69zM765.18 1487.52h10.75v3.02h-10.75zM781.3 1487.52h5.37v3.02h-5.37zM802.8 1487.52h2.69v2.52h-2.69zM856.54 1487.52h5.37v3.02h-5.37zM456.17 1490.04h2.69v2.52h-2.69zM480.36 1490.04h8.06v3.02h-8.06zM499.17 1490.04h2.69v2.52h-2.69zM504.54 1490.04h2.69v2.52h-2.69zM569.03 1490.04h2.69v2.52h-2.69zM579.78 1490.04h8.06v2.52h-8.06zM590.52 1490.04h2.69v3.02h-2.69zM598.59 1490.04h8.06v2.52h-8.06zM625.45 1490.04h2.69v2.52h-2.69zM633.52 1490.04h5.37v3.02h-5.37zM665.76 1490.04h2.69v2.52h-2.69zM676.51 1490.04h2.69v2.52h-2.69zM706.07 1490.04h13.43v3.02h-13.43zM765.18 1490.04h2.69v2.52h-2.69zM781.3 1490.04h5.37v3.02h-5.37zM840.41 1490.04h5.37v3.02h-5.37zM856.54 1490.04h5.37v3.02h-5.37zM480.36 1492.56h5.37v3.02h-5.37zM515.29 1492.56h2.69v3.02h-2.69zM523.35 1492.56h5.37v3.02h-5.37zM590.52 1492.56h2.69v2.52h-2.69zM636.2 1492.56h2.69v2.52h-2.69zM706.07 1492.56h5.37v3.02h-5.37zM735.62 1492.56h2.69v3.02h-2.69zM778.61 1492.56h8.06v3.02h-8.06zM843.1 1492.56h2.69v3.02h-2.69zM856.54 1492.56h2.69v2.52h-2.69zM480.36 1495.08h2.69v2.52h-2.69zM515.29 1495.08h2.69v2.52h-2.69zM526.04 1495.08h5.37v2.52h-5.37zM598.59 1495.08h2.69v2.52h-2.69zM617.39 1495.08h2.69v3.02h-2.69zM625.45 1495.08h2.69v2.52h-2.69zM706.07 1495.08h5.37v2.52h-5.37zM735.62 1495.08h5.37v3.02h-5.37zM778.61 1495.08h8.06v2.52h-8.06zM843.1 1495.08h5.37v3.02h-5.37zM555.59 1497.6h5.37v3.02h-5.37zM601.27 1497.6h2.69v2.52h-2.69zM612.02 1497.6h8.06v3.02h-8.06zM655.01 1497.6h2.69v2.52h-2.69zM695.32 1497.6h5.37v3.02h-5.37zM735.62 1497.6h2.69v2.52h-2.69zM840.41 1497.6h5.37v2.52h-5.37zM493.79 1500.12h2.69v2.52h-2.69zM552.91 1500.12h5.37v2.52h-5.37zM566.34 1500.12h2.69v2.52h-2.69zM612.02 1500.12h2.69v2.52h-2.69zM644.26 1500.12h2.69v2.52h-2.69zM695.32 1500.12h5.37v3.02h-5.37zM703.38 1500.12h2.69v2.52h-2.69zM732.93 1500.12h2.69v2.52h-2.69zM749.06 1500.12h2.69v2.52h-2.69zM808.17 1500.12h2.69v2.52h-2.69zM829.67 1500.12h2.69v2.52h-2.69zM835.04 1500.12h5.37v2.52h-5.37zM488.42 1502.64h2.69v2.52h-2.69zM512.6 1502.64h2.69v2.52h-2.69zM534.1 1502.64h2.69v2.52h-2.69zM544.85 1502.64h2.69v2.52h-2.69zM671.13 1502.64h2.69v2.52h-2.69zM684.57 1502.64h2.69v2.52h-2.69zM695.32 1502.64h5.37v2.52h-5.37zM706.07 1502.64h5.37v3.02h-5.37zM716.81 1502.64h2.69v2.52h-2.69zM724.87 1502.64h5.37v2.52h-5.37zM660.39 1505.16h5.37v3.02h-5.37zM676.51 1505.16h2.69v2.52h-2.69zM706.07 1505.16h5.37v2.52h-5.37zM767.87 1505.16h10.75v2.52h-10.75zM859.22 1505.16h2.69v2.52h-2.69zM552.91 1507.68h2.69v2.52h-2.69zM609.33 1507.68h2.69v2.52h-2.69zM617.39 1507.68h5.37v3.02h-5.37zM644.26 1507.68h2.69v3.02h-2.69zM660.39 1507.68h5.37v2.52h-5.37zM797.42 1507.68h2.69v2.52h-2.69zM843.1 1507.68h2.69v2.52h-2.69zM861.91 1507.68h2.69v2.52h-2.69zM875.35 1507.68h2.69v2.52h-2.69zM483.04 1510.2h2.69v3.02h-2.69zM504.54 1510.2h2.69v3.02h-2.69zM536.78 1510.2h5.37v2.52h-5.37zM550.22 1510.2h2.69v2.52h-2.69zM587.84 1510.2h2.69v3.02h-2.69zM617.39 1510.2h8.06v3.02h-8.06zM630.83 1510.2h2.69v2.52h-2.69zM644.26 1510.2h2.69v3.02h-2.69zM655.01 1510.2h2.69v2.52h-2.69zM722.19 1510.2h2.69v2.52h-2.69zM472.3 1512.72h2.69v2.52h-2.69zM480.36 1512.72h5.37v3.02h-5.37zM501.85 1512.72h5.37v2.52h-5.37zM534.1 1512.72h2.69v2.52h-2.69zM585.15 1512.72h5.37v3.02h-5.37zM609.33 1512.72h2.69v2.52h-2.69zM614.71 1512.72h5.37v3.02h-5.37zM622.77 1512.72h2.69v2.52h-2.69zM633.52 1512.72h13.43v3.02h-13.43zM663.07 1512.72h2.69v2.52h-2.69zM668.45 1512.72h5.37v3.02h-5.37zM445.43 1515.24h5.37v3.02h-5.37zM461.55 1515.24h2.69v2.52h-2.69zM480.36 1515.24h5.37v2.52h-5.37zM499.17 1515.24h2.69v2.52h-2.69zM523.35 1515.24h5.37v2.52h-5.37zM585.15 1515.24h5.37v3.02h-5.37zM614.71 1515.24h5.37v2.52h-5.37zM638.89 1515.24h10.75v3.02h-10.75zM668.45 1515.24h8.06v2.52h-8.06zM698 1515.24h8.06v3.02h-8.06zM727.56 1515.24h2.69v2.52h-2.69zM738.31 1515.24h8.06v3.02h-8.06zM773.24 1515.24h10.75v3.02h-10.75zM794.74 1515.24h2.69v2.52h-2.69zM837.73 1515.24h5.37v2.52h-5.37zM445.43 1517.76h5.37v3.02h-5.37zM539.47 1517.76h2.69v3.02h-2.69zM552.91 1517.76h2.69v3.02h-2.69zM582.46 1517.76h8.06v3.02h-8.06zM630.83 1517.76h2.69v2.52h-2.69zM644.26 1517.76h2.69v2.52h-2.69zM692.63 1517.76h2.69v2.52h-2.69zM698 1517.76h2.69v2.52h-2.69zM738.31 1517.76h8.06v3.02h-8.06zM751.74 1517.76h2.69v2.52h-2.69zM759.8 1517.76h5.37v2.52h-5.37zM773.24 1517.76h5.37v2.52h-5.37zM875.35 1517.76h2.69v2.52h-2.69zM445.43 1520.28h2.69v2.52h-2.69zM458.86 1520.28h2.69v2.52h-2.69zM539.47 1520.28h2.69v2.52h-2.69zM550.22 1520.28h5.37v3.02h-5.37zM582.46 1520.28h5.37v2.52h-5.37zM741 1520.28h5.37v3.02h-5.37zM547.53 1522.8h8.06v3.02h-8.06zM560.97 1522.8h2.69v3.02h-2.69zM609.33 1522.8h2.69v2.52h-2.69zM620.08 1522.8h5.37v3.02h-5.37zM641.58 1522.8h5.37v3.02h-5.37zM676.51 1522.8h2.69v3.02h-2.69zM706.07 1522.8h2.69v3.02h-2.69zM741 1522.8h2.69v2.52h-2.69zM818.92 1522.8h2.69v2.52h-2.69zM837.73 1522.8h2.69v2.52h-2.69zM474.98 1525.32h2.69v3.02h-2.69zM504.54 1525.32h5.37v3.02h-5.37zM534.1 1525.32h5.37v3.02h-5.37zM544.85 1525.32h10.75v2.52h-10.75zM558.28 1525.32h5.37v2.52h-5.37zM620.08 1525.32h2.69v2.52h-2.69zM641.58 1525.32h8.06v2.52h-8.06zM676.51 1525.32h2.69v2.52h-2.69zM681.88 1525.32h2.69v2.52h-2.69zM706.07 1525.32h2.69v2.52h-2.69zM724.87 1525.32h5.37v2.52h-5.37zM797.42 1525.32h2.69v2.52h-2.69zM867.28 1525.32h2.69v3.02h-2.69zM872.66 1525.32h2.69v2.52h-2.69zM464.24 1527.84h2.69v2.52h-2.69zM474.98 1527.84h2.69v3.02h-2.69zM501.85 1527.84h5.37v3.02h-5.37zM534.1 1527.84h10.75v3.02h-10.75zM668.45 1527.84h2.69v2.52h-2.69zM679.19 1527.84h2.69v2.52h-2.69zM843.1 1527.84h5.37v3.02h-5.37zM867.28 1527.84h2.69v2.52h-2.69zM474.98 1530.37h5.37v2.52h-5.37zM501.85 1530.37h5.37v2.52h-5.37zM528.72 1530.37h8.06v2.52h-8.06zM542.16 1530.37h2.69v2.52h-2.69zM566.34 1530.37h2.69v2.52h-2.69zM843.1 1530.37h5.37v2.52h-5.37zM488.42 1532.89h5.37v2.52h-5.37zM512.6 1532.89h5.37v2.52h-5.37zM552.91 1532.89h5.37v2.52h-5.37zM620.08 1532.89h10.75v3.02h-10.75zM636.2 1532.89h5.37v2.52h-5.37zM698 1532.89h2.69v2.52h-2.69zM848.48 1532.89h2.69v2.52h-2.69zM625.45 1535.41h5.37v2.52h-5.37zM660.39 1535.41h2.69v2.52h-2.69zM692.63 1535.41h5.37v3.02h-5.37zM730.25 1535.41h2.69v2.52h-2.69zM735.62 1535.41h2.69v2.52h-2.69zM563.65 1537.93h2.69v3.02h-2.69zM603.96 1537.93h2.69v3.02h-2.69zM679.19 1537.93h2.69v2.52h-2.69zM684.57 1537.93h10.75v3.02h-10.75zM703.38 1537.93h2.69v2.52h-2.69zM794.74 1537.93h2.69v2.52h-2.69zM805.48 1537.93h2.69v2.52h-2.69zM550.22 1540.45h2.69v2.52h-2.69zM560.97 1540.45h8.06v2.52h-8.06zM603.96 1540.45h5.37v2.52h-5.37zM684.57 1540.45h5.37v2.52h-5.37zM700.69 1540.45h2.69v2.52h-2.69zM735.62 1540.45h2.69v2.52h-2.69zM754.43 1540.45h2.69v2.52h-2.69zM832.35 1540.45h2.69v2.52h-2.69zM856.54 1540.45h2.69v2.52h-2.69zM507.23 1542.97h5.37v2.52h-5.37zM625.45 1542.97h2.69v2.52h-2.69zM668.45 1542.97h5.37v3.02h-5.37zM741 1542.97h2.69v3.02h-2.69zM775.93 1542.97h8.06v2.52h-8.06zM474.98 1545.49h5.37v3.02h-5.37zM512.6 1545.49h5.37v3.02h-5.37zM665.76 1545.49h2.69v2.52h-2.69zM671.13 1545.49h2.69v2.52h-2.69zM741 1545.49h2.69v2.52h-2.69zM773.24 1545.49h2.69v2.52h-2.69zM826.98 1545.49h2.69v2.52h-2.69zM472.3 1548.01h8.06v3.02h-8.06zM512.6 1548.01h5.37v3.02h-5.37zM593.21 1548.01h2.69v2.52h-2.69zM598.59 1548.01h2.69v2.52h-2.69zM636.2 1548.01h2.69v2.52h-2.69zM649.64 1548.01h2.69v2.52h-2.69zM684.57 1548.01h5.37v2.52h-5.37zM692.63 1548.01h2.69v2.52h-2.69zM757.12 1548.01h2.69v3.02h-2.69zM472.3 1550.53h10.75v3.02h-10.75zM491.11 1550.53h2.69v2.52h-2.69zM512.6 1550.53h8.06v2.52h-8.06zM542.16 1550.53h2.69v2.52h-2.69zM563.65 1550.53h5.37v2.52h-5.37zM722.19 1550.53h2.69v2.52h-2.69zM757.12 1550.53h5.37v2.52h-5.37zM477.67 1553.05h5.37v3.02h-5.37zM504.54 1553.05h5.37v3.02h-5.37zM552.91 1553.05h2.69v2.52h-2.69zM644.26 1553.05h10.75v2.52h-10.75zM687.26 1553.05h2.69v2.52h-2.69zM775.93 1553.05h5.37v2.52h-5.37zM840.41 1553.05h2.69v2.52h-2.69zM461.55 1555.57h2.69v2.52h-2.69zM477.67 1555.57h5.37v2.52h-5.37zM501.85 1555.57h8.06v3.02h-8.06zM563.65 1555.57h2.69v2.52h-2.69zM689.94 1555.57h2.69v2.52h-2.69zM757.12 1555.57h10.75v2.52h-10.75zM835.04 1555.57h2.69v2.52h-2.69zM472.3 1558.09h2.69v2.52h-2.69zM507.23 1558.09h2.69v2.52h-2.69zM544.85 1558.09h5.37v2.52h-5.37zM582.46 1558.09h2.69v2.52h-2.69zM622.77 1558.09h5.37v2.52h-5.37zM673.82 1558.09h2.69v2.52h-2.69zM751.74 1558.09h2.69v2.52h-2.69zM783.99 1558.09h2.69v2.52h-2.69zM493.79 1560.61h2.69v2.52h-2.69zM571.71 1560.61h2.69v2.52h-2.69zM646.95 1560.61h5.37v3.02h-5.37zM689.94 1560.61h2.69v2.52h-2.69zM775.93 1560.61h2.69v3.02h-2.69zM569.03 1563.13h2.69v2.52h-2.69zM617.39 1563.13h2.69v2.52h-2.69zM646.95 1563.13h5.37v3.02h-5.37zM730.25 1563.13h2.69v2.52h-2.69zM775.93 1563.13h2.69v2.52h-2.69zM818.92 1563.13h5.37v2.52h-5.37zM466.92 1565.65h13.43v3.02h-13.43zM555.59 1565.65h2.69v3.02h-2.69zM563.65 1565.65h5.37v2.52h-5.37zM646.95 1565.65h5.37v3.02h-5.37zM660.39 1565.65h2.69v2.52h-2.69zM722.19 1565.65h8.06v2.52h-8.06zM469.61 1568.17h10.75v3.02h-10.75zM488.42 1568.17h2.69v2.52h-2.69zM504.54 1568.17h2.69v2.52h-2.69zM555.59 1568.17h5.37v3.02h-5.37zM569.03 1568.17h2.69v2.52h-2.69zM574.4 1568.17h2.69v3.02h-2.69zM636.2 1568.17h5.37v3.02h-5.37zM649.64 1568.17h2.69v3.02h-2.69zM673.82 1568.17h2.69v2.52h-2.69zM732.93 1568.17h2.69v2.52h-2.69zM759.8 1568.17h2.69v2.52h-2.69zM851.16 1568.17h2.69v2.52h-2.69zM474.98 1570.69h2.69v2.52h-2.69zM496.48 1570.69h2.69v2.52h-2.69zM539.47 1570.69h5.37v3.02h-5.37zM555.59 1570.69h5.37v3.02h-5.37zM574.4 1570.69h2.69v2.52h-2.69zM601.27 1570.69h2.69v2.52h-2.69zM636.2 1570.69h5.37v2.52h-5.37zM646.95 1570.69h5.37v2.52h-5.37zM767.87 1570.69h5.37v2.52h-5.37zM797.42 1570.69h2.69v2.52h-2.69zM509.91 1573.21h5.37v2.52h-5.37zM536.78 1573.21h10.75v2.52h-10.75zM555.59 1573.21h5.37v2.52h-5.37zM566.34 1573.21h2.69v2.52h-2.69zM603.96 1573.21h2.69v2.52h-2.69zM660.39 1573.21h2.69v2.52h-2.69zM689.94 1573.21h2.69v2.52h-2.69zM813.54 1573.21h2.69v3.02h-2.69zM453.49 1575.73h2.69v2.52h-2.69zM593.21 1575.73h2.69v3.02h-2.69zM614.71 1575.73h5.37v2.52h-5.37zM679.19 1575.73h2.69v2.52h-2.69zM800.11 1575.73h2.69v2.52h-2.69zM813.54 1575.73h2.69v2.52h-2.69zM593.21 1578.25h2.69v2.52h-2.69zM603.96 1578.25h2.69v2.52h-2.69zM810.86 1578.25h2.69v2.52h-2.69zM816.23 1578.25h2.69v2.52h-2.69zM569.03 1580.78h2.69v2.52h-2.69zM657.7 1580.78h5.37v3.02h-5.37zM716.81 1580.78h2.69v2.52h-2.69zM509.91 1583.3h2.69v3.02h-2.69zM641.58 1583.3h2.69v2.52h-2.69zM657.7 1583.3h2.69v2.52h-2.69zM706.07 1583.3h2.69v3.02h-2.69zM732.93 1583.3h2.69v2.52h-2.69zM453.49 1585.82h2.69v3.02h-2.69zM488.42 1585.82h2.69v2.52h-2.69zM509.91 1585.82h2.69v2.52h-2.69zM577.09 1585.82h2.69v2.52h-2.69zM703.38 1585.82h8.06v2.52h-8.06zM722.19 1585.82h2.69v2.52h-2.69zM767.87 1585.82h8.06v2.52h-8.06zM816.23 1585.82h2.69v2.52h-2.69zM453.49 1588.34h2.69v2.52h-2.69zM483.04 1588.34h2.69v2.52h-2.69zM829.67 1588.34h2.69v2.52h-2.69zM569.03 1590.86h2.69v2.52h-2.69zM786.67 1590.86h2.69v3.02h-2.69zM797.42 1590.86h2.69v3.02h-2.69zM802.8 1590.86h2.69v2.52h-2.69zM818.92 1590.86h2.69v2.52h-2.69zM488.42 1593.38h5.37v2.52h-5.37zM534.1 1593.38h2.69v2.52h-2.69zM593.21 1593.38h2.69v2.52h-2.69zM689.94 1593.38h5.37v3.02h-5.37zM786.67 1593.38h2.69v2.52h-2.69zM797.42 1593.38h2.69v2.52h-2.69zM450.8 1595.9h2.69v2.52h-2.69zM458.86 1595.9h2.69v2.52h-2.69zM520.66 1595.9h2.69v2.52h-2.69zM526.04 1595.9h2.69v2.52h-2.69zM560.97 1595.9h2.69v2.52h-2.69zM566.34 1595.9h2.69v2.52h-2.69zM571.71 1595.9h2.69v2.52h-2.69zM622.77 1595.9h5.37v3.02h-5.37zM692.63 1595.9h5.37v2.52h-5.37zM835.04 1595.9h2.69v2.52h-2.69zM539.47 1598.42h8.06v3.02h-8.06zM555.59 1598.42h2.69v2.52h-2.69zM625.45 1598.42h2.69v2.52h-2.69zM676.51 1598.42h5.37v3.02h-5.37zM716.81 1598.42h5.37v2.52h-5.37zM534.1 1600.94h2.69v2.52h-2.69zM542.16 1600.94h5.37v2.52h-5.37zM644.26 1600.94h2.69v3.02h-2.69zM660.39 1600.94h2.69v2.52h-2.69zM673.82 1600.94h10.75v3.02h-10.75zM781.3 1600.94h5.37v3.02h-5.37zM483.04 1603.46h2.69v2.52h-2.69zM488.42 1603.46h2.69v2.52h-2.69zM644.26 1603.46h5.37v2.52h-5.37zM663.07 1603.46h2.69v3.02h-2.69zM671.13 1603.46h5.37v2.52h-5.37zM681.88 1603.46h2.69v2.52h-2.69zM738.31 1603.46h2.69v2.52h-2.69zM783.99 1603.46h2.69v2.52h-2.69zM493.79 1605.98h2.69v2.52h-2.69zM563.65 1605.98h2.69v3.02h-2.69zM622.77 1605.98h2.69v3.02h-2.69zM663.07 1605.98h2.69v3.02h-2.69zM746.37 1605.98h2.69v2.52h-2.69zM800.11 1605.98h2.69v2.52h-2.69zM816.23 1605.98h5.37v2.52h-5.37zM563.65 1608.5h2.69v2.52h-2.69zM593.21 1608.5h5.37v3.02h-5.37zM620.08 1608.5h10.75v2.52h-10.75zM663.07 1608.5h2.69v2.52h-2.69zM684.57 1608.5h2.69v2.52h-2.69zM727.56 1608.5h2.69v2.52h-2.69zM526.04 1611.02h2.69v2.52h-2.69zM566.34 1611.02h2.69v2.52h-2.69zM587.84 1611.02h5.37v2.52h-5.37zM595.9 1611.02h2.69v2.52h-2.69zM700.69 1611.02h2.69v2.52h-2.69zM571.71 1613.54h2.69v2.52h-2.69zM741 1613.54h2.69v3.02h-2.69zM765.18 1613.54h2.69v2.52h-2.69zM816.23 1613.54h2.69v2.52h-2.69zM824.29 1613.54h2.69v2.52h-2.69zM472.3 1616.06h2.69v2.52h-2.69zM483.04 1616.06h2.69v2.52h-2.69zM563.65 1616.06h2.69v2.52h-2.69zM601.27 1616.06h2.69v2.52h-2.69zM738.31 1616.06h5.37v3.02h-5.37zM531.41 1618.58h5.37v2.52h-5.37zM566.34 1618.58h2.69v2.52h-2.69zM703.38 1618.58h2.69v2.52h-2.69zM738.31 1618.58h2.69v2.52h-2.69zM778.61 1618.58h2.69v3.02h-2.69zM517.98 1621.1h2.69v2.52h-2.69zM644.26 1621.1h2.69v3.02h-2.69zM778.61 1621.1h2.69v2.52h-2.69zM789.36 1621.1h2.69v2.52h-2.69zM450.8 1623.62h2.69v2.52h-2.69zM509.91 1623.62h2.69v2.52h-2.69zM601.27 1623.62h2.69v3.02h-2.69zM644.26 1623.62h2.69v2.52h-2.69zM687.26 1623.62h2.69v2.52h-2.69zM598.59 1626.14h5.37v2.52h-5.37zM660.39 1626.14h2.69v2.52h-2.69zM700.69 1626.14h2.69v2.52h-2.69zM724.87 1626.14h5.37v3.02h-5.37zM746.37 1626.14h2.69v2.52h-2.69zM477.67 1628.66h2.69v2.52h-2.69zM485.73 1628.66h2.69v2.52h-2.69zM684.57 1628.66h2.69v2.52h-2.69zM724.87 1628.66h8.06v2.52h-8.06zM458.86 1631.18h2.69v3.02h-2.69zM566.34 1631.18h2.69v2.52h-2.69zM606.65 1631.18h2.69v2.52h-2.69zM638.89 1631.18h2.69v2.52h-2.69zM458.86 1633.71h5.37v2.52h-5.37zM474.98 1633.71h2.69v3.02h-2.69zM649.64 1633.71h2.69v2.52h-2.69zM773.24 1633.71h2.69v2.52h-2.69zM474.98 1636.23h2.69v3.02h-2.69zM539.47 1636.23h2.69v2.52h-2.69zM550.22 1636.23h2.69v2.52h-2.69zM633.52 1636.23h2.69v2.52h-2.69zM671.13 1636.23h2.69v2.52h-2.69zM681.88 1636.23h5.37v3.02h-5.37zM472.3 1638.75h5.37v2.52h-5.37zM598.59 1638.75h2.69v2.52h-2.69zM663.07 1638.75h2.69v2.52h-2.69zM684.57 1638.75h2.69v2.52h-2.69zM765.18 1638.75h2.69v2.52h-2.69zM802.8 1638.75h2.69v2.52h-2.69zM469.61 1641.27h2.69v2.52h-2.69zM491.11 1641.27h5.37v2.52h-5.37zM563.65 1641.27h2.69v2.52h-2.69zM781.3 1641.27h2.69v2.52h-2.69zM792.05 1641.27h2.69v2.52h-2.69zM638.89 1643.79h2.69v2.52h-2.69zM698 1643.79h2.69v3.02h-2.69zM716.81 1643.79h2.69v2.52h-2.69zM477.67 1646.31h2.69v3.02h-2.69zM488.42 1646.31h5.37v3.02h-5.37zM504.54 1646.31h2.69v2.52h-2.69zM550.22 1646.31h5.37v2.52h-5.37zM566.34 1646.31h2.69v2.52h-2.69zM577.09 1646.31h2.69v2.52h-2.69zM652.33 1646.31h5.37v2.52h-5.37zM671.13 1646.31h2.69v2.52h-2.69zM695.32 1646.31h5.37v3.02h-5.37zM474.98 1648.83h5.37v2.52h-5.37zM483.04 1648.83h8.06v3.02h-8.06zM544.85 1648.83h2.69v3.02h-2.69zM698 1648.83h5.37v3.02h-5.37zM724.87 1648.83h2.69v2.52h-2.69zM792.05 1648.83h2.69v2.52h-2.69zM483.04 1651.35h5.37v3.02h-5.37zM512.6 1651.35h2.69v2.52h-2.69zM544.85 1651.35h2.69v2.52h-2.69zM660.39 1651.35h2.69v2.52h-2.69zM698 1651.35h5.37v2.52h-5.37zM751.74 1651.35h2.69v2.52h-2.69zM483.04 1653.87h2.69v3.02h-2.69zM528.72 1653.87h2.69v2.52h-2.69zM625.45 1653.87h2.69v2.52h-2.69zM633.52 1653.87h2.69v2.52h-2.69zM722.19 1653.87h2.69v2.52h-2.69zM759.8 1653.87h5.37v3.02h-5.37zM773.24 1653.87h2.69v2.52h-2.69zM792.05 1653.87h2.69v2.52h-2.69zM474.98 1656.39h2.69v2.52h-2.69zM483.04 1656.39h5.37v3.02h-5.37zM534.1 1656.39h2.69v2.52h-2.69zM552.91 1656.39h2.69v2.52h-2.69zM636.2 1656.39h2.69v2.52h-2.69zM671.13 1656.39h2.69v2.52h-2.69zM676.51 1656.39h2.69v2.52h-2.69zM746.37 1656.39h2.69v2.52h-2.69zM759.8 1656.39h2.69v2.52h-2.69zM483.04 1658.91h8.06v3.02h-8.06zM550.22 1658.91h2.69v2.52h-2.69zM569.03 1658.91h2.69v2.52h-2.69zM622.77 1658.91h2.69v2.52h-2.69zM698 1658.91h2.69v2.52h-2.69zM789.36 1658.91h2.69v2.52h-2.69zM474.98 1661.43h5.37v2.52h-5.37zM483.04 1661.43h2.69v2.52h-2.69zM528.72 1661.43h5.37v2.52h-5.37zM571.71 1661.43h2.69v2.52h-2.69zM617.39 1661.43h2.69v2.52h-2.69zM735.62 1661.43h2.69v3.02h-2.69zM757.12 1661.43h2.69v2.52h-2.69zM509.91 1663.95h2.69v2.52h-2.69zM534.1 1663.95h2.69v2.52h-2.69zM606.65 1663.95h2.69v2.52h-2.69zM612.02 1663.95h2.69v2.52h-2.69zM708.75 1663.95h2.69v2.52h-2.69zM732.93 1663.95h5.37v3.02h-5.37zM630.83 1666.47h2.69v2.52h-2.69zM681.88 1666.47h5.37v3.02h-5.37zM706.07 1666.47h2.69v2.52h-2.69zM724.87 1666.47h2.69v2.52h-2.69zM730.25 1666.47h5.37v2.52h-5.37zM738.31 1666.47h2.69v2.52h-2.69zM474.98 1668.99h2.69v2.52h-2.69zM480.36 1668.99h5.37v3.02h-5.37zM558.28 1668.99h2.69v2.52h-2.69zM660.39 1668.99h2.69v2.52h-2.69zM679.19 1668.99h8.06v2.52h-8.06zM773.24 1668.99h2.69v3.02h-2.69zM477.67 1671.51h8.06v2.52h-8.06zM633.52 1671.51h2.69v2.52h-2.69zM738.31 1671.51h2.69v2.52h-2.69zM762.49 1671.51h2.69v2.52h-2.69zM773.24 1671.51h5.37v3.02h-5.37zM485.73 1674.03h5.37v3.02h-5.37zM569.03 1674.03h10.75v3.02h-10.75zM582.46 1674.03h2.69v2.52h-2.69zM609.33 1674.03h5.37v3.02h-5.37zM622.77 1674.03h2.69v2.52h-2.69zM773.24 1674.03h2.69v2.52h-2.69zM488.42 1676.55h5.37v2.52h-5.37zM574.4 1676.55h5.37v2.52h-5.37zM609.33 1676.55h2.69v2.52h-2.69zM692.63 1676.55h5.37v3.02h-5.37zM558.28 1679.07h2.69v2.52h-2.69zM679.19 1679.07h5.37v2.52h-5.37zM695.32 1679.07h2.69v2.52h-2.69zM711.44 1679.07h2.69v2.52h-2.69zM534.1 1681.6h2.69v3.02h-2.69zM612.02 1681.6h2.69v2.52h-2.69zM676.51 1681.6h2.69v2.52h-2.69zM738.31 1681.6h2.69v3.02h-2.69zM534.1 1684.12h5.37v2.52h-5.37zM617.39 1684.12h2.69v3.02h-2.69zM673.82 1684.12h2.69v2.52h-2.69zM738.31 1684.12h2.69v2.52h-2.69zM617.39 1686.64h5.37v2.52h-5.37zM641.58 1686.64h5.37v3.02h-5.37zM671.13 1686.64h2.69v2.52h-2.69zM716.81 1686.64h2.69v3.02h-2.69zM757.12 1686.64h2.69v2.52h-2.69zM641.58 1689.16h2.69v2.52h-2.69zM716.81 1689.16h2.69v3.02h-2.69zM504.54 1691.68h2.69v3.02h-2.69zM598.59 1691.68h2.69v2.52h-2.69zM652.33 1691.68h2.69v2.52h-2.69zM692.63 1691.68h2.69v2.52h-2.69zM716.81 1691.68h2.69v2.52h-2.69zM504.54 1694.2h2.69v3.02h-2.69zM512.6 1694.2h2.69v2.52h-2.69zM547.53 1694.2h2.69v2.52h-2.69zM679.19 1694.2h2.69v2.52h-2.69zM504.54 1696.72h2.69v3.02h-2.69zM539.47 1696.72h2.69v2.52h-2.69zM577.09 1696.72h8.06v3.02h-8.06zM598.59 1696.72h2.69v2.52h-2.69zM633.52 1696.72h2.69v2.52h-2.69zM714.13 1696.72h2.69v3.02h-2.69zM499.17 1699.24h8.06v3.02h-8.06zM577.09 1699.24h5.37v2.52h-5.37zM617.39 1699.24h2.69v2.52h-2.69zM622.77 1699.24h5.37v3.02h-5.37zM646.95 1699.24h2.69v2.52h-2.69zM673.82 1699.24h2.69v2.52h-2.69zM695.32 1699.24h2.69v2.52h-2.69zM714.13 1699.24h2.69v2.52h-2.69zM499.17 1701.76h13.43v3.02h-13.43zM593.21 1701.76h2.69v2.52h-2.69zM625.45 1701.76h5.37v2.52h-5.37zM501.85 1704.28h8.06v2.52h-8.06zM587.84 1704.28h2.69v3.02h-2.69zM644.26 1704.28h2.69v2.52h-2.69zM660.39 1704.28h2.69v2.52h-2.69zM719.5 1704.28h5.37v2.52h-5.37zM727.56 1704.28h2.69v2.52h-2.69zM577.09 1706.8h2.69v2.52h-2.69zM587.84 1706.8h2.69v2.52h-2.69zM657.7 1706.8h2.69v2.52h-2.69zM703.38 1706.8h2.69v2.52h-2.69zM531.41 1709.32h2.69v2.52h-2.69zM630.83 1709.32h2.69v2.52h-2.69zM660.39 1709.32h2.69v2.52h-2.69zM700.69 1709.32h2.69v2.52h-2.69zM714.13 1709.32h5.37v3.02h-5.37zM730.25 1709.32h2.69v2.52h-2.69zM569.03 1711.84h2.69v2.52h-2.69zM684.57 1711.84h2.69v2.52h-2.69zM714.13 1711.84h5.37v3.02h-5.37zM579.78 1714.36h2.69v3.02h-2.69zM649.64 1714.36h2.69v2.52h-2.69zM714.13 1714.36h2.69v2.52h-2.69zM732.93 1714.36h2.69v2.52h-2.69zM738.31 1714.36h2.69v2.52h-2.69zM571.71 1716.88h2.69v2.52h-2.69zM577.09 1716.88h5.37v2.52h-5.37zM598.59 1716.88h5.37v3.02h-5.37zM663.07 1716.88h5.37v2.52h-5.37zM601.27 1719.4h2.69v2.52h-2.69zM534.1 1721.92h2.69v2.52h-2.69zM560.97 1721.92h2.69v3.02h-2.69zM585.15 1721.92h2.69v2.52h-2.69zM517.98 1724.44h2.69v2.52h-2.69zM560.97 1724.44h2.69v2.52h-2.69zM655.01 1724.44h2.69v3.02h-2.69zM668.45 1724.44h2.69v2.52h-2.69zM655.01 1726.96h5.37v2.52h-5.37zM711.44 1726.96h2.69v3.02h-2.69zM517.98 1729.48h5.37v2.52h-5.37zM534.1 1729.48h2.69v2.52h-2.69zM544.85 1729.48h2.69v3.02h-2.69zM603.96 1729.48h2.69v2.52h-2.69zM633.52 1729.48h2.69v2.52h-2.69zM687.26 1729.48h2.69v2.52h-2.69zM711.44 1729.48h8.06v2.52h-8.06zM526.04 1732.01h2.69v2.52h-2.69zM544.85 1732.01h2.69v2.52h-2.69zM571.71 1732.01h2.69v2.52h-2.69zM638.89 1732.01h8.06v2.52h-8.06zM569.03 1734.53h2.69v2.52h-2.69zM585.15 1734.53h5.37v3.02h-5.37zM649.64 1734.53h2.69v2.52h-2.69zM663.07 1734.53h2.69v3.02h-2.69zM673.82 1734.53h2.69v2.52h-2.69zM585.15 1737.05h2.69v2.52h-2.69zM663.07 1737.05h5.37v3.02h-5.37zM593.21 1739.57h2.69v2.52h-2.69zM622.77 1739.57h2.69v3.02h-2.69zM649.64 1739.57h2.69v2.52h-2.69zM665.76 1739.57h2.69v2.52h-2.69zM676.51 1739.57h2.69v2.52h-2.69zM590.52 1742.09h2.69v2.52h-2.69zM601.27 1742.09h2.69v3.02h-2.69zM622.77 1742.09h5.37v3.02h-5.37zM601.27 1744.61h2.69v2.52h-2.69zM622.77 1744.61h5.37v2.52h-5.37zM636.2 1744.61h2.69v3.02h-2.69zM552.91 1747.13h2.69v2.52h-2.69zM603.96 1747.13h2.69v2.52h-2.69zM633.52 1747.13h5.37v3.02h-5.37zM665.76 1747.13h2.69v2.52h-2.69zM676.51 1747.13h2.69v3.02h-2.69zM633.52 1749.65h2.69v2.52h-2.69zM657.7 1749.65h5.37v2.52h-5.37zM676.51 1749.65h2.69v2.52h-2.69zM665.76 1754.69h2.69v2.52h-2.69zM628.14 1757.21h5.37v3.02h-5.37zM577.09 1759.73h2.69v2.52h-2.69zM617.39 1759.73h2.69v3.02h-2.69zM630.83 1759.73h5.37v2.52h-5.37zM582.46 1762.25h2.69v2.52h-2.69zM609.33 1762.25h2.69v2.52h-2.69zM617.39 1762.25h2.69v2.52h-2.69zM646.95 1762.25h2.69v2.52h-2.69zM585.15 1764.77h2.69v2.52h-2.69zM641.58 1764.77h2.69v2.52h-2.69z" fill="#ff0000"/>
</g></g>
<path d="M800.4 1454.4V1404.6H854.05V1454.4H800.4" fill="none" stroke="#00ff00" stroke-width="4.9" stroke-dasharray="16.23 15.43" stroke-linejoin="miter"/>
<text transform="translate(78.5 1307.4) scale(0.977 1)" font-size="43.2" style="fill:#0000ff">NJC = 7.5%</text>
<clipPath id="ic0"><rect x="106.5" y="1580" width="301.2" height="279.2"/></clipPath>
<g clip-path="url(#ic0)">
<rect x="106.5" y="1580" width="301.2" height="279.2" fill="#595959"/>
<path d="M305.06 1573.81h13.69v12.69h-13.69zM332.44 1573.81h13.69v12.69h-13.69zM140.78 1586.5h13.69v12.69h-13.69zM154.47 1586.5h13.69v12.69h-13.69zM318.75 1586.5h13.69v12.69h-13.69zM346.13 1586.5h13.69v12.69h-13.69zM359.82 1586.5h13.69v12.69h-13.69zM127.09 1599.19h13.69v12.69h-13.69zM168.16 1611.88h13.69v12.69h-13.69zM263.99 1611.88h13.69v12.69h-13.69zM236.61 1624.57h13.69v12.69h-13.69zM127.09 1649.95h13.69v12.69h-13.69zM168.16 1649.95h13.69v12.69h-13.69zM263.99 1649.95h13.69v12.69h-13.69zM291.37 1649.95h13.69v12.69h-13.69zM400.89 1649.95h13.69v12.69h-13.69zM99.71 1662.64h13.69v12.69h-13.69zM195.54 1662.64h13.69v12.69h-13.69zM346.13 1662.64h13.69v12.69h-13.69zM387.2 1662.64h13.69v12.69h-13.69zM400.89 1662.64h13.69v12.69h-13.69zM140.78 1675.33h13.69v12.69h-13.69zM181.85 1675.33h13.69v12.69h-13.69zM209.23 1675.33h13.69v12.69h-13.69zM291.37 1675.33h13.69v12.69h-13.69zM332.44 1675.33h13.69v12.69h-13.69zM113.4 1688.02h13.69v12.69h-13.69zM181.85 1688.02h13.69v12.69h-13.69zM209.23 1688.02h13.69v12.69h-13.69zM250.3 1700.71h13.69v12.69h-13.69zM236.61 1713.4h13.69v12.69h-13.69zM305.06 1713.4h13.69v12.69h-13.69zM305.06 1726.09h13.69v12.69h-13.69zM387.2 1726.09h13.69v12.69h-13.69zM154.47 1738.78h13.69v12.69h-13.69zM277.68 1738.78h13.69v12.69h-13.69zM291.37 1738.78h13.69v12.69h-13.69zM222.92 1764.16h13.69v12.69h-13.69zM305.06 1764.16h13.69v12.69h-13.69zM387.2 1764.16h13.69v12.69h-13.69zM99.71 1776.85h13.69v12.69h-13.69zM140.78 1776.85h13.69v12.69h-13.69zM209.23 1776.85h13.69v12.69h-13.69zM222.92 1776.85h13.69v12.69h-13.69zM236.61 1789.54h13.69v12.69h-13.69zM332.44 1789.54h13.69v12.69h-13.69zM373.51 1789.54h13.69v12.69h-13.69zM332.44 1802.23h13.69v12.69h-13.69zM168.16 1814.92h13.69v12.69h-13.69zM387.2 1814.92h13.69v12.69h-13.69zM291.37 1840.3h13.69v12.69h-13.69zM346.13 1840.3h13.69v12.69h-13.69zM387.2 1840.3h13.69v12.69h-13.69zM113.4 1852.99h13.69v12.69h-13.69zM154.47 1852.99h13.69v12.69h-13.69z" fill="#535353"/>
<path d="M332.44 1586.5h13.69v12.69h-13.69zM236.61 1599.19h13.69v12.69h-13.69zM263.99 1599.19h13.69v12.69h-13.69zM318.75 1599.19h13.69v12.69h-13.69zM373.51 1599.19h13.69v12.69h-13.69zM154.47 1624.57h13.69v12.69h-13.69zM332.44 1624.57h13.69v12.69h-13.69zM359.82 1624.57h13.69v12.69h-13.69zM387.2 1624.57h13.69v12.69h-13.69zM250.3 1637.26h13.69v12.69h-13.69zM209.23 1649.95h13.69v12.69h-13.69zM387.2 1649.95h13.69v12.69h-13.69zM127.09 1662.64h13.69v12.69h-13.69zM140.78 1662.64h13.69v12.69h-13.69zM250.3 1662.64h13.69v12.69h-13.69zM332.44 1662.64h13.69v12.69h-13.69zM263.99 1675.33h13.69v12.69h-13.69zM99.71 1688.02h13.69v12.69h-13.69zM127.09 1688.02h13.69v12.69h-13.69zM168.16 1688.02h13.69v12.69h-13.69zM195.54 1688.02h13.69v12.69h-13.69zM222.92 1688.02h13.69v12.69h-13.69zM263.99 1688.02h13.69v12.69h-13.69zM373.51 1688.02h13.69v12.69h-13.69zM181.85 1713.4h13.69v12.69h-13.69zM332.44 1713.4h13.69v12.69h-13.69zM209.23 1726.09h13.69v12.69h-13.69zM222.92 1726.09h13.69v12.69h-13.69zM277.68 1726.09h13.69v12.69h-13.69zM346.13 1726.09h13.69v12.69h-13.69zM400.89 1726.09h13.69v12.69h-13.69zM99.71 1738.78h13.69v12.69h-13.69zM332.44 1764.16h13.69v12.69h-13.69zM195.54 1776.85h13.69v12.69h-13.69zM222.92 1789.54h13.69v12.69h-13.69zM140.78 1802.23h13.69v12.69h-13.69zM195.54 1802.23h13.69v12.69h-13.69zM387.2 1802.23h13.69v12.69h-13.69zM222.92 1814.92h13.69v12.69h-13.69zM373.51 1814.92h13.69v12.69h-13.69zM400.89 1814.92h13.69v12.69h-13.69zM154.47 1827.61h13.69v12.69h-13.69zM154.47 1840.3h13.69v12.69h-13.69zM181.85 1840.3h13.69v12.69h-13.69zM99.71 1852.99h13.69v12.69h-13.69zM346.13 1852.99h13.69v12.69h-13.69zM359.82 1852.99h13.69v12.69h-13.69zM387.2 1852.99h13.69v12.69h-13.69z" fill="#545454"/>
<path d="M168.16 1586.5h13.69v12.69h-13.69zM387.2 1599.19h13.69v12.69h-13.69zM99.71 1611.88h13.69v12.69h-13.69zM113.4 1611.88h13.69v12.69h-13.69zM332.44 1611.88h13.69v12.69h-13.69zM263.99 1624.57h13.69v12.69h-13.69zM305.06 1624.57h13.69v12.69h-13.69zM113.4 1649.95h13.69v12.69h-13.69zM277.68 1649.95h13.69v12.69h-13.69zM332.44 1649.95h13.69v12.69h-13.69zM181.85 1662.64h13.69v12.69h-13.69zM359.82 1662.64h13.69v12.69h-13.69zM127.09 1675.33h13.69v12.69h-13.69zM318.75 1675.33h13.69v12.69h-13.69zM318.75 1688.02h13.69v12.69h-13.69zM387.2 1688.02h13.69v12.69h-13.69zM113.4 1700.71h13.69v12.69h-13.69zM154.47 1700.71h13.69v12.69h-13.69zM305.06 1700.71h13.69v12.69h-13.69zM140.78 1713.4h13.69v12.69h-13.69zM359.82 1713.4h13.69v12.69h-13.69zM181.85 1726.09h13.69v12.69h-13.69zM263.99 1726.09h13.69v12.69h-13.69zM359.82 1726.09h13.69v12.69h-13.69zM195.54 1738.78h13.69v12.69h-13.69zM222.92 1738.78h13.69v12.69h-13.69zM305.06 1738.78h13.69v12.69h-13.69zM154.47 1751.47h13.69v12.69h-13.69zM236.61 1751.47h13.69v12.69h-13.69zM291.37 1751.47h13.69v12.69h-13.69zM387.2 1751.47h13.69v12.69h-13.69zM127.09 1764.16h13.69v12.69h-13.69zM140.78 1764.16h13.69v12.69h-13.69zM236.61 1764.16h13.69v12.69h-13.69zM127.09 1776.85h13.69v12.69h-13.69zM154.47 1776.85h13.69v12.69h-13.69zM236.61 1776.85h13.69v12.69h-13.69zM140.78 1789.54h13.69v12.69h-13.69zM359.82 1802.23h13.69v12.69h-13.69zM181.85 1814.92h13.69v12.69h-13.69zM236.61 1814.92h13.69v12.69h-13.69zM250.3 1814.92h13.69v12.69h-13.69zM305.06 1814.92h13.69v12.69h-13.69zM99.71 1840.3h13.69v12.69h-13.69zM113.4 1840.3h13.69v12.69h-13.69zM127.09 1840.3h13.69v12.69h-13.69zM305.06 1852.99h13.69v12.69h-13.69zM400.89 1852.99h13.69v12.69h-13.69z" fill="#555555"/>
<path d="M140.78 1573.81h13.69v12.69h-13.69zM154.47 1573.81h13.69v12.69h-13.69zM373.51 1573.81h13.69v12.69h-13.69zM263.99 1586.5h13.69v12.69h-13.69zM277.68 1586.5h13.69v12.69h-13.69zM305.06 1586.5h13.69v12.69h-13.69zM113.4 1599.19h13.69v12.69h-13.69zM222.92 1599.19h13.69v12.69h-13.69zM250.3 1599.19h13.69v12.69h-13.69zM277.68 1599.19h13.69v12.69h-13.69zM305.06 1599.19h13.69v12.69h-13.69zM400.89 1599.19h13.69v12.69h-13.69zM154.47 1611.88h13.69v12.69h-13.69zM209.23 1611.88h13.69v12.69h-13.69zM250.3 1611.88h13.69v12.69h-13.69zM359.82 1611.88h13.69v12.69h-13.69zM305.06 1637.26h13.69v12.69h-13.69zM154.47 1649.95h13.69v12.69h-13.69zM168.16 1662.64h13.69v12.69h-13.69zM291.37 1662.64h13.69v12.69h-13.69zM346.13 1675.33h13.69v12.69h-13.69zM387.2 1675.33h13.69v12.69h-13.69zM209.23 1713.4h13.69v12.69h-13.69zM250.3 1713.4h13.69v12.69h-13.69zM140.78 1726.09h13.69v12.69h-13.69zM195.54 1726.09h13.69v12.69h-13.69zM373.51 1726.09h13.69v12.69h-13.69zM181.85 1738.78h13.69v12.69h-13.69zM332.44 1738.78h13.69v12.69h-13.69zM209.23 1751.47h13.69v12.69h-13.69zM277.68 1751.47h13.69v12.69h-13.69zM113.4 1764.16h13.69v12.69h-13.69zM168.16 1764.16h13.69v12.69h-13.69zM250.3 1776.85h13.69v12.69h-13.69zM305.06 1776.85h13.69v12.69h-13.69zM387.2 1776.85h13.69v12.69h-13.69zM318.75 1789.54h13.69v12.69h-13.69zM373.51 1802.23h13.69v12.69h-13.69zM209.23 1827.61h13.69v12.69h-13.69zM222.92 1827.61h13.69v12.69h-13.69zM236.61 1840.3h13.69v12.69h-13.69zM168.16 1852.99h13.69v12.69h-13.69zM277.68 1852.99h13.69v12.69h-13.69z" fill="#565656"/>
<path d="M99.71 1573.81h13.69v12.69h-13.69zM291.37 1573.81h13.69v12.69h-13.69zM222.92 1586.5h13.69v12.69h-13.69zM209.23 1599.19h13.69v12.69h-13.69zM291.37 1599.19h13.69v12.69h-13.69zM222.92 1611.88h13.69v12.69h-13.69zM277.68 1611.88h13.69v12.69h-13.69zM181.85 1624.57h13.69v12.69h-13.69zM195.54 1624.57h13.69v12.69h-13.69zM318.75 1624.57h13.69v12.69h-13.69zM195.54 1637.26h13.69v12.69h-13.69zM359.82 1637.26h13.69v12.69h-13.69zM236.61 1649.95h13.69v12.69h-13.69zM209.23 1662.64h13.69v12.69h-13.69zM263.99 1662.64h13.69v12.69h-13.69zM236.61 1675.33h13.69v12.69h-13.69zM277.68 1675.33h13.69v12.69h-13.69zM140.78 1688.02h13.69v12.69h-13.69zM250.3 1688.02h13.69v12.69h-13.69zM332.44 1688.02h13.69v12.69h-13.69zM277.68 1700.71h13.69v12.69h-13.69zM222.92 1713.4h13.69v12.69h-13.69zM291.37 1713.4h13.69v12.69h-13.69zM318.75 1713.4h13.69v12.69h-13.69zM373.51 1713.4h13.69v12.69h-13.69zM250.3 1726.09h13.69v12.69h-13.69zM209.23 1738.78h13.69v12.69h-13.69zM250.3 1738.78h13.69v12.69h-13.69zM373.51 1738.78h13.69v12.69h-13.69zM127.09 1751.47h13.69v12.69h-13.69zM168.16 1751.47h13.69v12.69h-13.69zM263.99 1751.47h13.69v12.69h-13.69zM154.47 1764.16h13.69v12.69h-13.69zM181.85 1764.16h13.69v12.69h-13.69zM291.37 1764.16h13.69v12.69h-13.69zM318.75 1764.16h13.69v12.69h-13.69zM359.82 1764.16h13.69v12.69h-13.69zM168.16 1776.85h13.69v12.69h-13.69zM181.85 1776.85h13.69v12.69h-13.69zM127.09 1789.54h13.69v12.69h-13.69zM305.06 1789.54h13.69v12.69h-13.69zM359.82 1789.54h13.69v12.69h-13.69zM181.85 1802.23h13.69v12.69h-13.69zM305.06 1802.23h13.69v12.69h-13.69zM140.78 1814.92h13.69v12.69h-13.69zM318.75 1814.92h13.69v12.69h-13.69zM168.16 1827.61h13.69v12.69h-13.69zM250.3 1827.61h13.69v12.69h-13.69zM168.16 1840.3h13.69v12.69h-13.69zM195.54 1840.3h13.69v12.69h-13.69zM332.44 1840.3h13.69v12.69h-13.69zM359.82 1840.3h13.69v12.69h-13.69zM209.23 1852.99h13.69v12.69h-13.69zM332.44 1852.99h13.69v12.69h-13.69z" fill="#575757"/>
<path d="M387.2 1573.81h13.69v12.69h-13.69zM127.09 1586.5h13.69v12.69h-13.69zM346.13 1599.19h13.69v12.69h-13.69zM127.09 1611.88h13.69v12.69h-13.69zM236.61 1611.88h13.69v12.69h-13.69zM99.71 1624.57h13.69v12.69h-13.69zM127.09 1624.57h13.69v12.69h-13.69zM168.16 1624.57h13.69v12.69h-13.69zM373.51 1624.57h13.69v12.69h-13.69zM140.78 1637.26h13.69v12.69h-13.69zM181.85 1637.26h13.69v12.69h-13.69zM263.99 1637.26h13.69v12.69h-13.69zM277.68 1637.26h13.69v12.69h-13.69zM387.2 1637.26h13.69v12.69h-13.69zM140.78 1649.95h13.69v12.69h-13.69zM181.85 1649.95h13.69v12.69h-13.69zM373.51 1649.95h13.69v12.69h-13.69zM154.47 1662.64h13.69v12.69h-13.69zM154.47 1675.33h13.69v12.69h-13.69zM168.16 1675.33h13.69v12.69h-13.69zM250.3 1675.33h13.69v12.69h-13.69zM305.06 1688.02h13.69v12.69h-13.69zM99.71 1700.71h13.69v12.69h-13.69zM168.16 1700.71h13.69v12.69h-13.69zM209.23 1700.71h13.69v12.69h-13.69zM222.92 1700.71h13.69v12.69h-13.69zM373.51 1700.71h13.69v12.69h-13.69zM154.47 1713.4h13.69v12.69h-13.69zM263.99 1713.4h13.69v12.69h-13.69zM346.13 1713.4h13.69v12.69h-13.69zM99.71 1726.09h13.69v12.69h-13.69zM127.09 1726.09h13.69v12.69h-13.69zM113.4 1738.78h13.69v12.69h-13.69zM127.09 1738.78h13.69v12.69h-13.69zM359.82 1738.78h13.69v12.69h-13.69zM195.54 1751.47h13.69v12.69h-13.69zM222.92 1751.47h13.69v12.69h-13.69zM305.06 1751.47h13.69v12.69h-13.69zM346.13 1751.47h13.69v12.69h-13.69zM373.51 1751.47h13.69v12.69h-13.69zM318.75 1776.85h13.69v12.69h-13.69zM291.37 1789.54h13.69v12.69h-13.69zM400.89 1789.54h13.69v12.69h-13.69zM154.47 1802.23h13.69v12.69h-13.69zM236.61 1802.23h13.69v12.69h-13.69zM277.68 1802.23h13.69v12.69h-13.69zM277.68 1827.61h13.69v12.69h-13.69zM140.78 1840.3h13.69v12.69h-13.69zM222.92 1840.3h13.69v12.69h-13.69zM250.3 1840.3h13.69v12.69h-13.69zM318.75 1840.3h13.69v12.69h-13.69zM318.75 1852.99h13.69v12.69h-13.69zM373.51 1852.99h13.69v12.69h-13.69z" fill="#585858"/>
<path d="M127.09 1573.81h13.69v12.69h-13.69zM277.68 1573.81h13.69v12.69h-13.69zM359.82 1573.81h13.69v12.69h-13.69zM209.23 1586.5h13.69v12.69h-13.69zM373.51 1586.5h13.69v12.69h-13.69zM305.06 1611.88h13.69v12.69h-13.69zM387.2 1611.88h13.69v12.69h-13.69zM400.89 1611.88h13.69v12.69h-13.69zM113.4 1624.57h13.69v12.69h-13.69zM250.3 1624.57h13.69v12.69h-13.69zM277.68 1624.57h13.69v12.69h-13.69zM346.13 1624.57h13.69v12.69h-13.69zM400.89 1624.57h13.69v12.69h-13.69zM127.09 1637.26h13.69v12.69h-13.69zM222.92 1637.26h13.69v12.69h-13.69zM99.71 1649.95h13.69v12.69h-13.69zM318.75 1649.95h13.69v12.69h-13.69zM305.06 1662.64h13.69v12.69h-13.69zM154.47 1688.02h13.69v12.69h-13.69zM277.68 1688.02h13.69v12.69h-13.69zM140.78 1700.71h13.69v12.69h-13.69zM236.61 1700.71h13.69v12.69h-13.69zM263.99 1700.71h13.69v12.69h-13.69zM291.37 1700.71h13.69v12.69h-13.69zM318.75 1700.71h13.69v12.69h-13.69zM127.09 1713.4h13.69v12.69h-13.69zM168.16 1713.4h13.69v12.69h-13.69zM277.68 1713.4h13.69v12.69h-13.69zM168.16 1726.09h13.69v12.69h-13.69zM140.78 1738.78h13.69v12.69h-13.69zM318.75 1738.78h13.69v12.69h-13.69zM387.2 1738.78h13.69v12.69h-13.69zM181.85 1751.47h13.69v12.69h-13.69zM250.3 1751.47h13.69v12.69h-13.69zM113.4 1776.85h13.69v12.69h-13.69zM277.68 1776.85h13.69v12.69h-13.69zM332.44 1776.85h13.69v12.69h-13.69zM359.82 1776.85h13.69v12.69h-13.69zM181.85 1789.54h13.69v12.69h-13.69zM209.23 1789.54h13.69v12.69h-13.69zM263.99 1789.54h13.69v12.69h-13.69zM222.92 1802.23h13.69v12.69h-13.69zM250.3 1802.23h13.69v12.69h-13.69zM318.75 1802.23h13.69v12.69h-13.69zM346.13 1802.23h13.69v12.69h-13.69zM400.89 1802.23h13.69v12.69h-13.69zM209.23 1814.92h13.69v12.69h-13.69zM140.78 1827.61h13.69v12.69h-13.69zM236.61 1827.61h13.69v12.69h-13.69zM346.13 1827.61h13.69v12.69h-13.69zM400.89 1827.61h13.69v12.69h-13.69zM400.89 1840.3h13.69v12.69h-13.69zM140.78 1852.99h13.69v12.69h-13.69zM181.85 1852.99h13.69v12.69h-13.69zM263.99 1852.99h13.69v12.69h-13.69z" fill="#595959"/>
<path d="M168.16 1573.81h13.69v12.69h-13.69zM181.85 1573.81h13.69v12.69h-13.69zM209.23 1573.81h13.69v12.69h-13.69zM263.99 1573.81h13.69v12.69h-13.69zM318.75 1573.81h13.69v12.69h-13.69zM346.13 1573.81h13.69v12.69h-13.69zM113.4 1586.5h13.69v12.69h-13.69zM250.3 1586.5h13.69v12.69h-13.69zM387.2 1586.5h13.69v12.69h-13.69zM400.89 1586.5h13.69v12.69h-13.69zM140.78 1599.19h13.69v12.69h-13.69zM154.47 1599.19h13.69v12.69h-13.69zM168.16 1599.19h13.69v12.69h-13.69zM140.78 1611.88h13.69v12.69h-13.69zM318.75 1611.88h13.69v12.69h-13.69zM346.13 1611.88h13.69v12.69h-13.69zM140.78 1624.57h13.69v12.69h-13.69zM168.16 1637.26h13.69v12.69h-13.69zM318.75 1637.26h13.69v12.69h-13.69zM332.44 1637.26h13.69v12.69h-13.69zM373.51 1637.26h13.69v12.69h-13.69zM195.54 1649.95h13.69v12.69h-13.69zM305.06 1649.95h13.69v12.69h-13.69zM236.61 1662.64h13.69v12.69h-13.69zM318.75 1662.64h13.69v12.69h-13.69zM373.51 1662.64h13.69v12.69h-13.69zM305.06 1675.33h13.69v12.69h-13.69zM400.89 1675.33h13.69v12.69h-13.69zM181.85 1700.71h13.69v12.69h-13.69zM195.54 1700.71h13.69v12.69h-13.69zM99.71 1713.4h13.69v12.69h-13.69zM113.4 1713.4h13.69v12.69h-13.69zM400.89 1713.4h13.69v12.69h-13.69zM113.4 1726.09h13.69v12.69h-13.69zM154.47 1726.09h13.69v12.69h-13.69zM291.37 1726.09h13.69v12.69h-13.69zM332.44 1751.47h13.69v12.69h-13.69zM209.23 1764.16h13.69v12.69h-13.69zM250.3 1764.16h13.69v12.69h-13.69zM346.13 1764.16h13.69v12.69h-13.69zM263.99 1776.85h13.69v12.69h-13.69zM373.51 1776.85h13.69v12.69h-13.69zM154.47 1789.54h13.69v12.69h-13.69zM250.3 1789.54h13.69v12.69h-13.69zM346.13 1789.54h13.69v12.69h-13.69zM154.47 1814.92h13.69v12.69h-13.69zM291.37 1814.92h13.69v12.69h-13.69zM332.44 1814.92h13.69v12.69h-13.69zM346.13 1814.92h13.69v12.69h-13.69zM195.54 1827.61h13.69v12.69h-13.69zM291.37 1827.61h13.69v12.69h-13.69zM332.44 1827.61h13.69v12.69h-13.69zM277.68 1840.3h13.69v12.69h-13.69zM373.51 1840.3h13.69v12.69h-13.69zM127.09 1852.99h13.69v12.69h-13.69zM195.54 1852.99h13.69v12.69h-13.69zM236.61 1852.99h13.69v12.69h-13.69z" fill="#5a5a5a"/>
<path d="M222.92 1573.81h13.69v12.69h-13.69zM250.3 1573.81h13.69v12.69h-13.69zM400.89 1573.81h13.69v12.69h-13.69zM99.71 1586.5h13.69v12.69h-13.69zM291.37 1586.5h13.69v12.69h-13.69zM291.37 1611.88h13.69v12.69h-13.69zM373.51 1611.88h13.69v12.69h-13.69zM291.37 1624.57h13.69v12.69h-13.69zM113.4 1637.26h13.69v12.69h-13.69zM236.61 1637.26h13.69v12.69h-13.69zM291.37 1637.26h13.69v12.69h-13.69zM222.92 1649.95h13.69v12.69h-13.69zM222.92 1662.64h13.69v12.69h-13.69zM113.4 1675.33h13.69v12.69h-13.69zM222.92 1675.33h13.69v12.69h-13.69zM373.51 1675.33h13.69v12.69h-13.69zM236.61 1688.02h13.69v12.69h-13.69zM291.37 1688.02h13.69v12.69h-13.69zM400.89 1688.02h13.69v12.69h-13.69zM387.2 1700.71h13.69v12.69h-13.69zM387.2 1713.4h13.69v12.69h-13.69zM236.61 1726.09h13.69v12.69h-13.69zM318.75 1726.09h13.69v12.69h-13.69zM332.44 1726.09h13.69v12.69h-13.69zM236.61 1738.78h13.69v12.69h-13.69zM140.78 1751.47h13.69v12.69h-13.69zM359.82 1751.47h13.69v12.69h-13.69zM195.54 1764.16h13.69v12.69h-13.69zM263.99 1764.16h13.69v12.69h-13.69zM277.68 1764.16h13.69v12.69h-13.69zM346.13 1776.85h13.69v12.69h-13.69zM400.89 1776.85h13.69v12.69h-13.69zM195.54 1789.54h13.69v12.69h-13.69zM277.68 1789.54h13.69v12.69h-13.69zM387.2 1789.54h13.69v12.69h-13.69zM263.99 1802.23h13.69v12.69h-13.69zM263.99 1814.92h13.69v12.69h-13.69zM181.85 1827.61h13.69v12.69h-13.69zM373.51 1827.61h13.69v12.69h-13.69zM387.2 1827.61h13.69v12.69h-13.69zM263.99 1840.3h13.69v12.69h-13.69zM305.06 1840.3h13.69v12.69h-13.69zM222.92 1852.99h13.69v12.69h-13.69z" fill="#5b5b5b"/>
<path d="M113.4 1573.81h13.69v12.69h-13.69zM195.54 1573.81h13.69v12.69h-13.69zM236.61 1573.81h13.69v12.69h-13.69zM236.61 1586.5h13.69v12.69h-13.69zM99.71 1599.19h13.69v12.69h-13.69zM332.44 1599.19h13.69v12.69h-13.69zM359.82 1599.19h13.69v12.69h-13.69zM181.85 1611.88h13.69v12.69h-13.69zM195.54 1611.88h13.69v12.69h-13.69zM209.23 1624.57h13.69v12.69h-13.69zM222.92 1624.57h13.69v12.69h-13.69zM99.71 1637.26h13.69v12.69h-13.69zM154.47 1637.26h13.69v12.69h-13.69zM209.23 1637.26h13.69v12.69h-13.69zM346.13 1637.26h13.69v12.69h-13.69zM400.89 1637.26h13.69v12.69h-13.69zM250.3 1649.95h13.69v12.69h-13.69zM346.13 1649.95h13.69v12.69h-13.69zM359.82 1649.95h13.69v12.69h-13.69zM113.4 1662.64h13.69v12.69h-13.69zM277.68 1662.64h13.69v12.69h-13.69zM99.71 1675.33h13.69v12.69h-13.69zM195.54 1675.33h13.69v12.69h-13.69zM359.82 1675.33h13.69v12.69h-13.69zM127.09 1700.71h13.69v12.69h-13.69zM400.89 1700.71h13.69v12.69h-13.69zM195.54 1713.4h13.69v12.69h-13.69zM168.16 1738.78h13.69v12.69h-13.69zM263.99 1738.78h13.69v12.69h-13.69zM346.13 1738.78h13.69v12.69h-13.69zM99.71 1751.47h13.69v12.69h-13.69zM113.4 1751.47h13.69v12.69h-13.69zM318.75 1751.47h13.69v12.69h-13.69zM99.71 1764.16h13.69v12.69h-13.69zM373.51 1764.16h13.69v12.69h-13.69zM291.37 1776.85h13.69v12.69h-13.69zM168.16 1789.54h13.69v12.69h-13.69zM168.16 1802.23h13.69v12.69h-13.69zM209.23 1802.23h13.69v12.69h-13.69zM291.37 1802.23h13.69v12.69h-13.69zM195.54 1814.92h13.69v12.69h-13.69zM277.68 1814.92h13.69v12.69h-13.69zM359.82 1814.92h13.69v12.69h-13.69zM263.99 1827.61h13.69v12.69h-13.69zM305.06 1827.61h13.69v12.69h-13.69zM318.75 1827.61h13.69v12.69h-13.69zM359.82 1827.61h13.69v12.69h-13.69zM209.23 1840.3h13.69v12.69h-13.69zM250.3 1852.99h13.69v12.69h-13.69zM291.37 1852.99h13.69v12.69h-13.69z" fill="#5c5c5c"/>
<path d="M332.44 1700.71h13.69v12.69h-13.69zM359.82 1700.71h13.69v12.69h-13.69zM400.89 1764.16h13.69v12.69h-13.69zM99.71 1789.54h13.69v12.69h-13.69zM113.4 1789.54h13.69v12.69h-13.69z" fill="#646464"/>
<path d="M181.85 1586.5h13.69v12.69h-13.69zM195.54 1586.5h13.69v12.69h-13.69zM346.13 1688.02h13.69v12.69h-13.69z" fill="#666666"/>
<path d="M181.85 1599.19h13.69v12.69h-13.69zM359.82 1688.02h13.69v12.69h-13.69zM346.13 1700.71h13.69v12.69h-13.69zM400.89 1738.78h13.69v12.69h-13.69zM400.89 1751.47h13.69v12.69h-13.69zM127.09 1827.61h13.69v12.69h-13.69z" fill="#686868"/>
<path d="M195.54 1599.19h13.69v12.69h-13.69z" fill="#6a6a6a"/>
<path d="M127.09 1802.23h13.69v12.69h-13.69z" fill="#6c6c6c"/>
<path d="M127.09 1814.92h13.69v12.69h-13.69z" fill="#707070"/>
<path d="M99.71 1802.23h13.69v12.69h-13.69zM99.71 1827.61h13.69v12.69h-13.69z" fill="#787878"/>
<path d="M113.4 1802.23h13.69v12.69h-13.69zM113.4 1827.61h13.69v12.69h-13.69z" fill="#7c7c7c"/>
<path d="M99.71 1814.92h13.69v12.69h-13.69z" fill="#808080"/>
<path d="M113.4 1814.92h13.69v12.69h-13.69z" fill="#848484"/>
<path d="M113.4 1580V1859.2M106.5 1586.5H407.7M127.09 1580V1859.2M106.5 1599.19H407.7M140.78 1580V1859.2M106.5 1611.88H407.7M154.47 1580V1859.2M106.5 1624.57H407.7M168.16 1580V1859.2M106.5 1637.26H407.7M181.85 1580V1859.2M106.5 1649.95H407.7M195.54 1580V1859.2M106.5 1662.64H407.7M209.23 1580V1859.2M106.5 1675.33H407.7M222.92 1580V1859.2M106.5 1688.02H407.7M236.61 1580V1859.2M106.5 1700.71H407.7M250.3 1580V1859.2M106.5 1713.4H407.7M263.99 1580V1859.2M106.5 1726.09H407.7M277.68 1580V1859.2M106.5 1738.78H407.7M291.37 1580V1859.2M106.5 1751.47H407.7M305.06 1580V1859.2M106.5 1764.16H407.7M318.75 1580V1859.2M106.5 1776.85H407.7M332.44 1580V1859.2M106.5 1789.54H407.7M346.13 1580V1859.2M106.5 1802.23H407.7M359.82 1580V1859.2M106.5 1814.92H407.7M373.51 1580V1859.2M106.5 1827.61H407.7M387.2 1580V1859.2M106.5 1840.3H407.7M400.89 1580V1859.2M106.5 1852.99H407.7" fill="none" stroke="#fff" stroke-opacity="0.22" stroke-width="1"/>
<path d="M222.92 1573.81h13.69v12.69h-13.69zM263.99 1586.5h13.69v12.69h-13.69zM277.68 1586.5h13.69v12.69h-13.69zM291.37 1586.5h13.69v12.69h-13.69zM346.13 1586.5h13.69v12.69h-13.69zM263.99 1599.19h13.69v12.69h-13.69zM277.68 1599.19h13.69v12.69h-13.69zM291.37 1599.19h13.69v12.69h-13.69zM305.06 1599.19h13.69v12.69h-13.69zM222.92 1637.26h13.69v12.69h-13.69zM318.75 1637.26h13.69v12.69h-13.69zM332.44 1637.26h13.69v12.69h-13.69zM346.13 1637.26h13.69v12.69h-13.69zM359.82 1637.26h13.69v12.69h-13.69zM373.51 1637.26h13.69v12.69h-13.69zM168.16 1649.95h13.69v12.69h-13.69zM222.92 1649.95h13.69v12.69h-13.69zM346.13 1649.95h13.69v12.69h-13.69zM359.82 1649.95h13.69v12.69h-13.69zM99.71 1662.64h13.69v12.69h-13.69zM154.47 1662.64h13.69v12.69h-13.69zM168.16 1662.64h13.69v12.69h-13.69zM277.68 1662.64h13.69v12.69h-13.69zM99.71 1675.33h13.69v12.69h-13.69zM113.4 1675.33h13.69v12.69h-13.69zM113.4 1688.02h13.69v12.69h-13.69zM127.09 1688.02h13.69v12.69h-13.69zM222.92 1688.02h13.69v12.69h-13.69zM236.61 1688.02h13.69v12.69h-13.69zM113.4 1700.71h13.69v12.69h-13.69zM127.09 1700.71h13.69v12.69h-13.69zM140.78 1700.71h13.69v12.69h-13.69zM209.23 1700.71h13.69v12.69h-13.69zM222.92 1700.71h13.69v12.69h-13.69zM305.06 1700.71h13.69v12.69h-13.69zM113.4 1713.4h13.69v12.69h-13.69zM127.09 1713.4h13.69v12.69h-13.69zM99.71 1726.09h13.69v12.69h-13.69zM113.4 1726.09h13.69v12.69h-13.69zM99.71 1738.78h13.69v12.69h-13.69zM305.06 1738.78h13.69v12.69h-13.69zM318.75 1738.78h13.69v12.69h-13.69zM318.75 1751.47h13.69v12.69h-13.69zM140.78 1764.16h13.69v12.69h-13.69zM181.85 1764.16h13.69v12.69h-13.69zM318.75 1764.16h13.69v12.69h-13.69zM332.44 1764.16h13.69v12.69h-13.69zM373.51 1764.16h13.69v12.69h-13.69zM154.47 1776.85h13.69v12.69h-13.69zM332.44 1776.85h13.69v12.69h-13.69zM346.13 1776.85h13.69v12.69h-13.69zM305.06 1789.54h13.69v12.69h-13.69zM209.23 1802.23h13.69v12.69h-13.69zM222.92 1802.23h13.69v12.69h-13.69zM332.44 1802.23h13.69v12.69h-13.69zM346.13 1802.23h13.69v12.69h-13.69zM154.47 1814.92h13.69v12.69h-13.69zM250.3 1814.92h13.69v12.69h-13.69zM332.44 1814.92h13.69v12.69h-13.69zM346.13 1814.92h13.69v12.69h-13.69zM209.23 1827.61h13.69v12.69h-13.69zM332.44 1827.61h13.69v12.69h-13.69zM346.13 1827.61h13.69v12.69h-13.69zM154.47 1840.3h13.69v12.69h-13.69zM209.23 1840.3h13.69v12.69h-13.69zM222.92 1840.3h13.69v12.69h-13.69zM318.75 1852.99h13.69v12.69h-13.69z" fill="#ff0000"/>
<path d="M275.58 1590.75h4.2v4.2h-4.2zM268.74 1597.09h4.2v4.2h-4.2zM289.27 1590.75h4.2v4.2h-4.2zM282.42 1597.09h4.2v4.2h-4.2zM296.12 1597.09h4.2v4.2h-4.2zM275.58 1603.44h4.2v4.2h-4.2zM289.27 1603.44h4.2v4.2h-4.2zM302.96 1603.44h4.2v4.2h-4.2zM227.66 1647.85h4.2v4.2h-4.2zM330.34 1641.51h4.2v4.2h-4.2zM344.03 1641.51h4.2v4.2h-4.2zM357.72 1641.51h4.2v4.2h-4.2zM350.88 1647.85h4.2v4.2h-4.2zM371.41 1641.51h4.2v4.2h-4.2zM364.56 1647.85h4.2v4.2h-4.2zM172.91 1660.54h4.2v4.2h-4.2zM357.72 1654.2h4.2v4.2h-4.2zM104.46 1673.23h4.2v4.2h-4.2zM166.06 1666.88h4.2v4.2h-4.2zM111.3 1679.58h4.2v4.2h-4.2zM118.15 1685.92h4.2v4.2h-4.2zM124.99 1692.27h4.2v4.2h-4.2zM118.15 1698.61h4.2v4.2h-4.2zM131.84 1698.61h4.2v4.2h-4.2zM234.51 1692.27h4.2v4.2h-4.2zM227.66 1698.61h4.2v4.2h-4.2zM124.99 1704.96h4.2v4.2h-4.2zM118.15 1711.3h4.2v4.2h-4.2zM138.68 1704.96h4.2v4.2h-4.2zM131.84 1711.3h4.2v4.2h-4.2zM220.82 1704.96h4.2v4.2h-4.2zM124.99 1717.64h4.2v4.2h-4.2zM118.15 1723.99h4.2v4.2h-4.2zM111.3 1730.34h4.2v4.2h-4.2zM104.46 1736.68h4.2v4.2h-4.2zM316.65 1743.03h4.2v4.2h-4.2zM323.5 1749.37h4.2v4.2h-4.2zM323.5 1762.06h4.2v4.2h-4.2zM330.34 1768.41h4.2v4.2h-4.2zM337.18 1774.75h4.2v4.2h-4.2zM344.03 1781.1h4.2v4.2h-4.2zM220.82 1806.48h4.2v4.2h-4.2zM344.03 1806.48h4.2v4.2h-4.2zM337.18 1812.82h4.2v4.2h-4.2zM350.88 1812.82h4.2v4.2h-4.2zM344.03 1819.16h4.2v4.2h-4.2zM337.18 1825.51h4.2v4.2h-4.2zM350.88 1825.51h4.2v4.2h-4.2zM213.97 1838.2h4.2v4.2h-4.2zM344.03 1831.86h4.2v4.2h-4.2zM220.82 1844.55h4.2v4.2h-4.2z" fill="#ffff00"/>
</g>
<rect x="118.55" y="1859.5" width="3.4" height="8.6" fill="#333"/>
<rect x="97.6" y="1591.14" width="8.6" height="3.4" fill="#333"/>
<rect x="187" y="1859.5" width="3.4" height="8.6" fill="#333"/>
<rect x="97.6" y="1654.6" width="8.6" height="3.4" fill="#333"/>
<rect x="255.44" y="1859.5" width="3.4" height="8.6" fill="#333"/>
<rect x="97.6" y="1718.04" width="8.6" height="3.4" fill="#333"/>
<rect x="323.9" y="1859.5" width="3.4" height="8.6" fill="#333"/>
<rect x="97.6" y="1781.49" width="8.6" height="3.4" fill="#333"/>
<rect x="392.34" y="1859.5" width="3.4" height="8.6" fill="#333"/>
<rect x="97.6" y="1844.94" width="8.6" height="3.4" fill="#333"/>
<path d="M106.5 1580V1859.2H407.7" fill="none" stroke="#000" stroke-width="3.5" stroke-linejoin="round"/>
<path d="M78.7 1887V1561H425.9V1887H78.7" fill="none" stroke="#00ff00" stroke-width="4.7" stroke-dasharray="16.23 15.43" stroke-linejoin="miter"/>
<rect x="8.85" y="1201" width="8.7" height="3.4" fill="#333"/>
<rect x="8.85" y="1453.05" width="8.7" height="3.4" fill="#333"/>
<rect x="8.85" y="1705.1" width="8.7" height="3.4" fill="#333"/>
<rect x="180.4" y="1944.05" width="3.4" height="8.7" fill="#333"/>
<rect x="449.1" y="1944.05" width="3.4" height="8.7" fill="#333"/>
<rect x="717.8" y="1944.05" width="3.4" height="8.7" fill="#333"/>
<path d="M17.8 1048.5V1943.8H973" fill="none" stroke="#000" stroke-width="3.5" stroke-linejoin="round"/></g>
<g id="panelD"><text transform="translate(1522.3 1026.6) scale(1 1.025)" font-size="45" text-anchor="middle">D</text>
<g filter="url(#b0)">
<g filter="url(#b3)"><g clip-path="url(#clipD)"><rect x="1568.52" y="1089.59" width="388.48" height="770.36" fill="#5e5e5e"/></g></g>
<g clip-path="url(#clipD)"><path d="M1570.52 1141.18V1145.68M1572.92 1141.18V1145.68M1575.32 1109.62V1186.26M1577.72 1109.62V1186.26M1580.13 1100.6V1213.3M1582.53 1100.6V1213.3M1584.93 1096.1V1785.82M1587.34 1096.1V1785.82M1589.74 1096.1V1799.34M1592.14 1096.1V1799.34M1594.55 1096.1V1808.36M1596.95 1096.1V1808.36M1599.35 1096.1V1812.87M1601.75 1096.1V1812.87M1604.16 1096.1V1817.38M1606.56 1096.1V1817.38M1608.96 1096.1V1821.88M1611.37 1096.1V1821.88M1613.77 1096.1V1826.39M1616.17 1096.1V1826.39M1618.58 1096.1V1830.9M1620.98 1096.1V1830.9M1623.38 1096.1V1835.41M1625.79 1096.1V1835.41M1628.19 1096.1V1835.41M1630.59 1096.1V1835.41M1632.99 1096.1V1839.92M1635.4 1096.1V1839.92M1637.8 1091.59V1844.42M1640.2 1091.59V1844.42M1642.61 1091.59V1844.42M1645.01 1091.59V1844.42M1647.41 1091.59V1848.93M1649.82 1091.59V1848.93M1652.22 1091.59V1848.93M1654.62 1091.59V1848.93M1657.02 1091.59V1853.44M1659.43 1091.59V1853.44M1661.83 1091.59V1853.44M1664.23 1091.59V1853.44M1666.64 1091.59V1853.44M1669.04 1091.59V1853.44M1671.44 1091.59V1857.95M1673.85 1091.59V1857.95M1676.25 1091.59V1857.95M1678.65 1091.59V1857.95M1681.05 1091.59V1857.95M1683.46 1091.59V1857.95M1685.86 1091.59V1857.95M1688.26 1091.59V1857.95M1690.67 1091.59V1857.95M1693.07 1091.59V1857.95M1695.47 1091.59V1857.95M1697.88 1091.59V1857.95M1700.28 1091.59V1857.95M1702.68 1091.59V1857.95M1705.08 1091.59V1857.95M1707.49 1091.59V1857.95M1709.89 1091.59V1857.95M1712.29 1091.59V1857.95M1714.7 1091.59V1857.95M1717.1 1091.59V1857.95M1719.5 1091.59V1857.95M1721.9 1091.59V1857.95M1724.31 1091.59V1857.95M1726.71 1091.59V1857.95M1729.11 1091.59V1857.95M1731.52 1091.59V1853.44M1733.92 1091.59V1853.44M1736.32 1091.59V1853.44M1738.73 1091.59V1853.44M1741.13 1091.59V1853.44M1743.53 1091.59V1853.44M1745.93 1091.59V1853.44M1748.34 1091.59V1853.44M1750.74 1091.59V1848.93M1753.14 1091.59V1848.93M1755.55 1091.59V1844.42M1757.95 1091.59V1844.42M1760.35 1091.59V1844.42M1762.76 1091.59V1844.42M1765.16 1091.59V1839.92M1767.56 1091.59V1839.92M1769.96 1091.59V1839.92M1772.37 1091.59V1839.92M1774.77 1096.1V1835.41M1777.17 1096.1V1835.41M1779.58 1096.1V1830.9M1781.98 1096.1V1830.9M1784.38 1096.1V1826.39M1786.79 1096.1V1826.39M1789.19 1100.6V1821.88M1791.59 1100.6V1821.88M1793.99 1100.6V1821.88M1796.4 1100.6V1821.88M1798.8 1105.11V1817.38M1801.2 1105.11V1817.38M1803.61 1105.11V1812.87M1806.01 1105.11V1812.87M1808.41 1109.62V1808.36M1810.82 1109.62V1808.36M1813.22 1109.62V1803.85M1815.62 1109.62V1803.85M1818.03 1109.62V1799.34M1820.43 1109.62V1799.34M1822.83 1109.62V1794.84M1825.23 1109.62V1794.84M1827.64 1109.62V1790.33M1830.04 1109.62V1790.33M1832.44 1109.62V1785.82M1834.85 1109.62V1785.82M1837.25 1109.62V1781.31M1839.65 1109.62V1781.31M1842.06 1109.62V1776.8M1844.46 1109.62V1776.8M1846.86 1109.62V1767.79M1849.26 1109.62V1767.79M1851.67 1109.62V1763.28M1854.07 1109.62V1763.28M1856.47 1114.13V1749.76M1858.88 1114.13V1749.76M1861.28 1114.13V1740.74M1863.68 1114.13V1740.74M1866.09 1118.64V1731.72M1868.49 1118.64V1731.72M1870.89 1118.64V1722.71M1873.29 1118.64V1722.71M1875.7 1123.14V1713.69M1878.1 1123.14V1713.69M1880.5 1127.65V1704.68M1882.91 1127.65V1704.68M1885.31 1132.16V1695.66M1887.71 1132.16V1695.66M1890.12 1132.16V1677.63M1892.52 1132.16V1677.63M1894.92 1136.67V1664.1M1897.32 1136.67V1664.1M1899.73 1145.68V1650.58M1902.13 1145.68V1650.58M1904.53 1150.19V1641.56M1906.94 1150.19V1641.56M1909.34 1163.72V1632.55M1911.74 1163.72V1632.55M1914.14 1172.73V1623.53M1916.55 1172.73V1623.53M1918.95 1186.26V1614.52M1921.35 1186.26V1614.52M1923.76 1199.78V1605.5M1926.16 1199.78V1605.5M1928.56 1208.8V1591.98M1930.97 1208.8V1591.98M1933.37 1217.81V1582.96M1935.77 1217.81V1582.96M1938.17 1226.83V1569.44M1940.58 1226.83V1569.44M1942.98 1235.84V1474.77M1945.38 1235.84V1474.77M1947.79 1244.86V1461.24M1950.19 1244.86V1461.24M1952.59 1267.4V1447.72M1955 1267.4V1447.72M1637.8 1091.59H1772.37M1637.8 1093.84H1772.37M1584.93 1096.1H1786.79M1584.93 1098.35H1786.79M1580.13 1100.6H1796.4M1580.13 1102.86H1796.4M1580.13 1105.11H1806.01M1580.13 1107.37H1806.01M1575.32 1109.62H1854.07M1575.32 1111.87H1854.07M1575.32 1114.13H1863.68M1575.32 1116.38H1863.68M1575.32 1118.64H1873.29M1575.32 1120.89H1873.29M1575.32 1123.14H1878.1M1575.32 1125.4H1878.1M1575.32 1127.65H1882.91M1575.32 1129.91H1882.91M1575.32 1132.16H1892.52M1575.32 1134.41H1892.52M1575.32 1136.67H1897.32M1575.32 1138.92H1897.32M1570.52 1141.18H1897.32M1570.52 1143.43H1897.32M1570.52 1145.68H1902.13M1575.32 1147.94H1902.13M1575.32 1150.19H1906.94M1575.32 1152.45H1906.94M1575.32 1154.7H1906.94M1575.32 1156.95H1906.94M1575.32 1159.21H1906.94M1575.32 1161.46H1906.94M1575.32 1163.72H1911.74M1575.32 1165.97H1911.74M1575.32 1168.22H1911.74M1575.32 1170.48H1911.74M1575.32 1172.73H1916.55M1575.32 1174.99H1916.55M1575.32 1177.24H1916.55M1575.32 1179.49H1916.55M1575.32 1181.75H1916.55M1575.32 1184H1916.55M1575.32 1186.26H1921.35M1580.13 1188.51H1921.35M1580.13 1190.76H1921.35M1580.13 1193.02H1921.35M1580.13 1195.27H1921.35M1580.13 1197.53H1921.35M1580.13 1199.78H1926.16M1580.13 1202.03H1926.16M1580.13 1204.29H1926.16M1580.13 1206.54H1926.16M1580.13 1208.8H1930.97M1580.13 1211.05H1930.97M1580.13 1213.3H1930.97M1584.93 1215.56H1930.97M1584.93 1217.81H1935.77M1584.93 1220.07H1935.77M1584.93 1222.32H1935.77M1584.93 1224.57H1935.77M1584.93 1226.83H1940.58M1584.93 1229.08H1940.58M1584.93 1231.34H1940.58M1584.93 1233.59H1940.58M1584.93 1235.84H1945.38M1584.93 1238.1H1945.38M1584.93 1240.35H1945.38M1584.93 1242.61H1945.38M1584.93 1244.86H1950.19M1584.93 1247.11H1950.19M1584.93 1249.37H1950.19M1584.93 1251.62H1950.19M1584.93 1253.88H1950.19M1589.74 1256.13H1950.19M1589.74 1258.38H1950.19M1589.74 1260.64H1950.19M1589.74 1262.89H1950.19M1589.74 1265.15H1950.19M1589.74 1267.4H1955M1594.55 1269.65H1955M1594.55 1271.91H1955M1599.35 1274.16H1955M1599.35 1276.42H1955M1608.96 1278.67H1955M1608.96 1280.92H1955M1613.77 1283.18H1955M1613.77 1285.43H1955M1618.58 1287.69H1950.19M1618.58 1289.94H1950.19M1628.19 1292.19H1950.19M1628.19 1294.45H1950.19M1632.99 1296.7H1950.19M1632.99 1298.96H1950.19M1642.61 1301.21H1950.19M1642.61 1303.46H1950.19M1647.41 1305.72H1945.38M1647.41 1307.97H1945.38M1676.25 1310.23H1945.38M1676.25 1312.48H1945.38M1681.05 1314.73H1945.38M1681.05 1316.99H1945.38M1685.86 1319.24H1945.38M1685.86 1321.5H1945.38M1685.86 1323.75H1940.58M1685.86 1326H1940.58M1685.86 1328.26H1940.58M1685.86 1330.51H1940.58M1685.86 1332.77H1940.58M1685.86 1335.02H1940.58M1685.86 1337.27H1940.58M1685.86 1339.53H1940.58M1685.86 1341.78H1940.58M1685.86 1344.04H1940.58M1685.86 1346.29H1940.58M1685.86 1348.54H1940.58M1685.86 1350.8H1940.58M1685.86 1353.05H1940.58M1685.86 1355.31H1940.58M1685.86 1357.56H1940.58M1685.86 1359.81H1940.58M1685.86 1362.07H1940.58M1685.86 1364.32H1940.58M1685.86 1366.58H1945.38M1685.86 1368.83H1945.38M1685.86 1371.08H1945.38M1685.86 1373.34H1945.38M1685.86 1375.59H1945.38M1690.67 1377.85H1945.38M1690.67 1380.1H1945.38M1690.67 1382.35H1945.38M1685.86 1384.61H1945.38M1685.86 1386.86H1945.38M1685.86 1389.12H1950.19M1685.86 1391.37H1950.19M1685.86 1393.62H1950.19M1685.86 1395.88H1950.19M1685.86 1398.13H1950.19M1685.86 1400.39H1950.19M1685.86 1402.64H1950.19M1685.86 1404.89H1950.19M1685.86 1407.15H1955M1685.86 1409.4H1955M1681.05 1411.66H1955M1681.05 1413.91H1955M1681.05 1416.16H1955M1681.05 1418.42H1955M1681.05 1420.67H1955M1681.05 1422.93H1955M1681.05 1425.18H1955M1681.05 1427.43H1955M1681.05 1429.69H1955M1681.05 1431.94H1955M1681.05 1434.2H1955M1681.05 1436.45H1955M1681.05 1438.7H1955M1681.05 1440.96H1955M1681.05 1443.21H1955M1695.47 1445.47H1955M1690.67 1447.72H1955M1690.67 1449.97H1950.19M1690.67 1452.23H1950.19M1690.67 1454.48H1950.19M1690.67 1456.74H1950.19M1690.67 1458.99H1950.19M1690.67 1461.24H1950.19M1690.67 1463.5H1945.38M1690.67 1465.75H1945.38M1690.67 1468.01H1945.38M1690.67 1470.26H1945.38M1690.67 1472.51H1945.38M1690.67 1474.77H1945.38M1724.31 1477.02H1940.58M1724.31 1479.28H1940.58M1724.31 1481.53H1940.58M1724.31 1483.78H1940.58M1724.31 1486.04H1940.58M1724.31 1488.29H1940.58M1724.31 1490.55H1940.58M1719.5 1492.8H1940.58M1719.5 1495.05H1940.58M1714.7 1497.31H1940.58M1714.7 1499.56H1940.58M1714.7 1501.82H1940.58M1714.7 1504.07H1940.58M1700.28 1506.32H1940.58M1700.28 1508.58H1940.58M1695.47 1510.83H1940.58M1695.47 1513.09H1940.58M1685.86 1515.34H1940.58M1685.86 1517.59H1940.58M1685.86 1519.85H1940.58M1685.86 1522.1H1940.58M1681.05 1524.36H1940.58M1681.05 1526.61H1940.58M1681.05 1528.86H1940.58M1681.05 1531.12H1940.58M1676.25 1533.37H1940.58M1676.25 1535.63H1940.58M1676.25 1537.88H1940.58M1676.25 1540.13H1940.58M1676.25 1542.39H1940.58M1676.25 1544.64H1940.58M1676.25 1546.9H1940.58M1676.25 1549.15H1940.58M1676.25 1551.4H1940.58M1676.25 1553.66H1940.58M1676.25 1555.91H1940.58M1676.25 1558.17H1940.58M1676.25 1560.42H1940.58M1676.25 1562.67H1940.58M1676.25 1564.93H1940.58M1681.05 1567.18H1940.58M1584.93 1569.44H1940.58M1584.93 1571.69H1935.77M1584.93 1573.94H1935.77M1584.93 1576.2H1935.77M1584.93 1578.45H1935.77M1584.93 1580.71H1935.77M1584.93 1582.96H1935.77M1584.93 1585.21H1930.97M1584.93 1587.47H1930.97M1589.74 1589.72H1930.97M1589.74 1591.98H1930.97M1594.55 1594.23H1926.16M1594.55 1596.48H1926.16M1599.35 1598.74H1926.16M1599.35 1600.99H1926.16M1604.16 1603.25H1926.16M1604.16 1605.5H1926.16M1604.16 1607.75H1921.35M1604.16 1610.01H1921.35M1608.96 1612.26H1921.35M1608.96 1614.52H1921.35M1613.77 1616.77H1916.55M1613.77 1619.02H1916.55M1613.77 1621.28H1916.55M1613.77 1623.53H1916.55M1613.77 1625.79H1911.74M1613.77 1628.04H1911.74M1613.77 1630.29H1911.74M1613.77 1632.55H1911.74M1613.77 1634.8H1906.94M1613.77 1637.06H1906.94M1613.77 1639.31H1906.94M1613.77 1641.56H1906.94M1613.77 1643.82H1902.13M1613.77 1646.07H1902.13M1613.77 1648.33H1902.13M1613.77 1650.58H1902.13M1613.77 1652.83H1897.32M1613.77 1655.09H1897.32M1613.77 1657.34H1897.32M1613.77 1659.6H1897.32M1613.77 1661.85H1897.32M1613.77 1664.1H1897.32M1613.77 1666.36H1892.52M1613.77 1668.61H1892.52M1613.77 1670.87H1892.52M1613.77 1673.12H1892.52M1613.77 1675.37H1892.52M1613.77 1677.63H1892.52M1613.77 1679.88H1887.71M1613.77 1682.14H1887.71M1613.77 1684.39H1887.71M1608.96 1686.64H1887.71M1608.96 1688.9H1887.71M1608.96 1691.15H1887.71M1608.96 1693.41H1887.71M1604.16 1695.66H1887.71M1604.16 1697.91H1882.91M1604.16 1700.17H1882.91M1604.16 1702.42H1882.91M1599.35 1704.68H1882.91M1599.35 1706.93H1878.1M1594.55 1709.18H1878.1M1594.55 1711.44H1878.1M1594.55 1713.69H1878.1M1594.55 1715.95H1873.29M1589.74 1718.2H1873.29M1589.74 1720.45H1873.29M1589.74 1722.71H1873.29M1589.74 1724.96H1868.49M1584.93 1727.22H1868.49M1584.93 1729.47H1868.49M1584.93 1731.72H1868.49M1584.93 1733.98H1863.68M1584.93 1736.23H1863.68M1584.93 1738.49H1863.68M1584.93 1740.74H1863.68M1584.93 1742.99H1858.88M1584.93 1745.25H1858.88M1584.93 1747.5H1858.88M1584.93 1749.76H1858.88M1584.93 1752.01H1854.07M1584.93 1754.26H1854.07M1584.93 1756.52H1854.07M1584.93 1758.77H1854.07M1584.93 1761.03H1854.07M1584.93 1763.28H1854.07M1584.93 1765.53H1849.26M1584.93 1767.79H1849.26M1584.93 1770.04H1844.46M1584.93 1772.3H1844.46M1584.93 1774.55H1844.46M1584.93 1776.8H1844.46M1584.93 1779.06H1839.65M1584.93 1781.31H1839.65M1584.93 1783.57H1834.85M1584.93 1785.82H1834.85M1589.74 1788.07H1830.04M1589.74 1790.33H1830.04M1589.74 1792.58H1825.23M1589.74 1794.84H1825.23M1589.74 1797.09H1820.43M1589.74 1799.34H1820.43M1594.55 1801.6H1815.62M1594.55 1803.85H1815.62M1594.55 1806.11H1810.82M1594.55 1808.36H1810.82M1599.35 1810.61H1806.01M1599.35 1812.87H1806.01M1604.16 1815.12H1801.2M1604.16 1817.38H1801.2M1608.96 1819.63H1796.4M1608.96 1821.88H1796.4M1613.77 1824.14H1786.79M1613.77 1826.39H1786.79M1618.58 1828.65H1781.98M1618.58 1830.9H1781.98M1623.38 1833.15H1777.17M1623.38 1835.41H1777.17M1632.99 1837.66H1772.37M1632.99 1839.92H1772.37M1637.8 1842.17H1762.76M1637.8 1844.42H1762.76M1647.41 1846.68H1753.14M1647.41 1848.93H1753.14M1657.02 1851.19H1748.34M1657.02 1853.44H1748.34M1671.44 1855.69H1729.11M1671.44 1857.95H1729.11" fill="none" stroke="#fff" stroke-opacity="0.18" stroke-width="0.75"/></g>
<g>
<g filter="url(#b2)" fill="#fff">
<ellipse cx="1644" cy="1643" rx="6.9" ry="4.5" opacity="0.11"/>
<ellipse cx="1754" cy="1329" rx="6.6" ry="2.9" opacity="0.11"/>
<ellipse cx="1620" cy="1821" rx="5.9" ry="5.3" opacity="0.11"/>
<ellipse cx="1899" cy="1638" rx="3.3" ry="3.4" opacity="0.08"/>
<ellipse cx="1810" cy="1604" rx="4.3" ry="5.1" opacity="0.10"/>
<ellipse cx="1860" cy="1649" rx="2.8" ry="2.4" opacity="0.12"/>
<ellipse cx="1872" cy="1269" rx="7.0" ry="5.1" opacity="0.12"/>
<ellipse cx="1716" cy="1767" rx="5.8" ry="4.6" opacity="0.05"/>
<ellipse cx="1608" cy="1111" rx="5.5" ry="2.5" opacity="0.08"/>
<ellipse cx="1637" cy="1255" rx="4.4" ry="2.2" opacity="0.08"/>
<ellipse cx="1819" cy="1336" rx="2.8" ry="4.7" opacity="0.12"/>
<ellipse cx="1641" cy="1812" rx="6.4" ry="5.3" opacity="0.10"/>
<ellipse cx="1810" cy="1160" rx="7.2" ry="4.4" opacity="0.08"/>
<ellipse cx="1870" cy="1392" rx="7.2" ry="5.6" opacity="0.08"/>
<ellipse cx="1867" cy="1613" rx="5.7" ry="3.3" opacity="0.12"/>
<ellipse cx="1747" cy="1142" rx="4.4" ry="2.9" opacity="0.11"/>
<ellipse cx="1790" cy="1341" rx="4.5" ry="4.3" opacity="0.12"/>
<ellipse cx="1726" cy="1260" rx="2.5" ry="3.4" opacity="0.13"/>
<ellipse cx="1738" cy="1390" rx="7.4" ry="2.5" opacity="0.04"/>
<ellipse cx="1634" cy="1226" rx="5.9" ry="3.0" opacity="0.05"/>
<ellipse cx="1639" cy="1697" rx="7.4" ry="3.7" opacity="0.06"/>
<ellipse cx="1603" cy="1794" rx="4.4" ry="5.5" opacity="0.06"/>
<ellipse cx="1704" cy="1336" rx="4.9" ry="2.5" opacity="0.05"/>
<ellipse cx="1923" cy="1501" rx="8.5" ry="4.0" opacity="0.12"/>
<ellipse cx="1887" cy="1649" rx="5.5" ry="2.5" opacity="0.09"/>
<ellipse cx="1641" cy="1232" rx="7.2" ry="3.8" opacity="0.12"/>
<ellipse cx="1846" cy="1523" rx="3.1" ry="2.4" opacity="0.13"/>
<ellipse cx="1651" cy="1235" rx="7.5" ry="2.1" opacity="0.10"/>
<ellipse cx="1591" cy="1248" rx="3.3" ry="4.6" opacity="0.05"/>
<ellipse cx="1812" cy="1512" rx="6.9" ry="5.5" opacity="0.06"/>
<ellipse cx="1665" cy="1172" rx="6.6" ry="2.6" opacity="0.07"/>
<ellipse cx="1730" cy="1843" rx="2.7" ry="5.5" opacity="0.07"/>
<ellipse cx="1850" cy="1627" rx="7.7" ry="3.7" opacity="0.07"/>
<ellipse cx="1740" cy="1553" rx="4.2" ry="5.2" opacity="0.11"/>
<ellipse cx="1632" cy="1809" rx="8.1" ry="4.5" opacity="0.04"/>
<ellipse cx="1721" cy="1600" rx="3.8" ry="3.3" opacity="0.07"/>
<ellipse cx="1882" cy="1246" rx="7.7" ry="4.0" opacity="0.11"/>
<ellipse cx="1728" cy="1239" rx="5.3" ry="2.9" opacity="0.12"/>
<ellipse cx="1750" cy="1647" rx="7.8" ry="5.4" opacity="0.05"/>
<ellipse cx="1627" cy="1187" rx="2.7" ry="3.9" opacity="0.05"/>
<ellipse cx="1889" cy="1503" rx="6.7" ry="2.2" opacity="0.12"/>
<ellipse cx="1687" cy="1550" rx="8.5" ry="2.1" opacity="0.12"/>
<ellipse cx="1877" cy="1483" rx="4.2" ry="2.7" opacity="0.09"/>
<ellipse cx="1901" cy="1537" rx="5.5" ry="3.4" opacity="0.06"/>
<ellipse cx="1649" cy="1658" rx="5.8" ry="3.9" opacity="0.12"/>
<ellipse cx="1766" cy="1611" rx="4.0" ry="5.0" opacity="0.13"/>
<ellipse cx="1836" cy="1420" rx="4.4" ry="2.3" opacity="0.11"/>
<ellipse cx="1680" cy="1226" rx="8.2" ry="2.7" opacity="0.13"/>
<ellipse cx="1711" cy="1169" rx="6.8" ry="3.6" opacity="0.11"/>
<ellipse cx="1822" cy="1129" rx="6.5" ry="2.7" opacity="0.12"/>
<ellipse cx="1757" cy="1151" rx="6.0" ry="5.3" opacity="0.11"/>
<ellipse cx="1728" cy="1246" rx="5.7" ry="4.0" opacity="0.04"/>
<ellipse cx="1682" cy="1589" rx="4.7" ry="5.0" opacity="0.09"/>
<ellipse cx="1793" cy="1652" rx="7.2" ry="5.1" opacity="0.08"/>
<ellipse cx="1639" cy="1789" rx="7.9" ry="3.4" opacity="0.09"/>
<ellipse cx="1812" cy="1365" rx="7.6" ry="3.3" opacity="0.10"/>
<ellipse cx="1841" cy="1643" rx="6.6" ry="3.8" opacity="0.13"/>
<ellipse cx="1699" cy="1129" rx="3.3" ry="4.6" opacity="0.04"/>
<ellipse cx="1884" cy="1381" rx="5.9" ry="3.3" opacity="0.09"/>
<ellipse cx="1822" cy="1456" rx="8.0" ry="4.9" opacity="0.09"/>
<ellipse cx="1735" cy="1140" rx="7.0" ry="3.4" opacity="0.12"/>
<ellipse cx="1709" cy="1217" rx="5.1" ry="4.5" opacity="0.05"/>
<ellipse cx="1656" cy="1640" rx="8.1" ry="4.2" opacity="0.09"/>
<ellipse cx="1853" cy="1235" rx="6.2" ry="2.8" opacity="0.13"/>
<ellipse cx="1762" cy="1677" rx="4.4" ry="3.8" opacity="0.10"/>
<ellipse cx="1706" cy="1577" rx="6.6" ry="2.3" opacity="0.08"/>
<ellipse cx="1867" cy="1649" rx="8.2" ry="2.7" opacity="0.11"/>
<ellipse cx="1596" cy="1226" rx="6.3" ry="4.9" opacity="0.05"/>
<ellipse cx="1750" cy="1595" rx="5.1" ry="3.8" opacity="0.11"/>
<ellipse cx="1754" cy="1789" rx="5.9" ry="3.2" opacity="0.11"/>
<ellipse cx="1699" cy="1512" rx="3.9" ry="4.4" opacity="0.12"/>
<ellipse cx="1747" cy="1145" rx="5.3" ry="4.5" opacity="0.07"/>
<ellipse cx="1915" cy="1199" rx="2.9" ry="2.3" opacity="0.10"/>
<ellipse cx="1836" cy="1471" rx="7.0" ry="2.6" opacity="0.07"/>
<ellipse cx="1620" cy="1697" rx="3.9" ry="4.7" opacity="0.08"/>
<ellipse cx="1824" cy="1487" rx="4.0" ry="6.0" opacity="0.08"/>
<ellipse cx="1709" cy="1604" rx="3.0" ry="4.0" opacity="0.09"/>
<ellipse cx="1790" cy="1269" rx="4.1" ry="5.7" opacity="0.05"/>
<ellipse cx="1766" cy="1429" rx="6.8" ry="4.3" opacity="0.07"/>
<ellipse cx="1658" cy="1217" rx="6.1" ry="2.1" opacity="0.05"/>
<ellipse cx="1903" cy="1345" rx="4.6" ry="5.4" opacity="0.11"/>
<ellipse cx="1829" cy="1528" rx="6.1" ry="3.9" opacity="0.06"/>
<ellipse cx="1836" cy="1532" rx="8.4" ry="2.1" opacity="0.05"/>
<ellipse cx="1884" cy="1185" rx="7.4" ry="5.8" opacity="0.07"/>
<ellipse cx="1615" cy="1710" rx="3.8" ry="3.4" opacity="0.07"/>
<ellipse cx="1627" cy="1284" rx="3.6" ry="3.0" opacity="0.11"/>
<ellipse cx="1723" cy="1598" rx="7.6" ry="4.5" opacity="0.06"/>
<ellipse cx="1745" cy="1300" rx="6.0" ry="3.7" opacity="0.13"/>
<ellipse cx="1682" cy="1771" rx="3.0" ry="4.5" opacity="0.05"/>
<ellipse cx="1665" cy="1598" rx="5.8" ry="4.1" opacity="0.09"/>
<ellipse cx="1711" cy="1289" rx="5.1" ry="4.8" opacity="0.12"/>
<ellipse cx="1665" cy="1167" rx="4.7" ry="4.4" opacity="0.07"/>
<ellipse cx="1807" cy="1361" rx="3.8" ry="3.1" opacity="0.07"/>
<ellipse cx="1788" cy="1489" rx="3.8" ry="2.5" opacity="0.12"/>
<ellipse cx="1632" cy="1142" rx="4.8" ry="5.9" opacity="0.11"/>
<ellipse cx="1788" cy="1402" rx="3.0" ry="3.0" opacity="0.07"/>
<ellipse cx="1920" cy="1305" rx="3.8" ry="2.5" opacity="0.12"/>
<ellipse cx="1713" cy="1782" rx="4.8" ry="4.6" opacity="0.09"/>
<ellipse cx="1733" cy="1631" rx="8.0" ry="3.7" opacity="0.09"/>
<ellipse cx="1721" cy="1158" rx="7.5" ry="3.1" opacity="0.12"/>
<ellipse cx="1874" cy="1329" rx="3.6" ry="5.6" opacity="0.10"/>
<ellipse cx="1706" cy="1181" rx="2.6" ry="3.5" opacity="0.11"/>
<ellipse cx="1846" cy="1370" rx="4.4" ry="5.9" opacity="0.06"/>
<ellipse cx="1887" cy="1415" rx="4.1" ry="3.7" opacity="0.05"/>
<ellipse cx="1613" cy="1805" rx="7.9" ry="3.8" opacity="0.06"/>
<ellipse cx="1723" cy="1429" rx="6.6" ry="2.2" opacity="0.05"/>
<ellipse cx="1747" cy="1431" rx="4.9" ry="5.7" opacity="0.12"/>
<ellipse cx="1860" cy="1183" rx="7.6" ry="6.0" opacity="0.11"/>
<ellipse cx="1701" cy="1147" rx="3.7" ry="3.8" opacity="0.07"/>
<ellipse cx="1651" cy="1104" rx="3.7" ry="4.6" opacity="0.04"/>
<ellipse cx="1591" cy="1237" rx="7.9" ry="2.9" opacity="0.07"/>
<ellipse cx="1908" cy="1426" rx="7.6" ry="4.7" opacity="0.09"/>
<ellipse cx="1711" cy="1839" rx="3.7" ry="2.5" opacity="0.05"/>
<ellipse cx="1709" cy="1751" rx="4.7" ry="3.8" opacity="0.09"/>
<ellipse cx="1754" cy="1580" rx="6.3" ry="5.5" opacity="0.05"/>
<ellipse cx="1865" cy="1365" rx="7.9" ry="5.4" opacity="0.13"/>
<ellipse cx="1591" cy="1158" rx="2.5" ry="2.7" opacity="0.10"/>
<ellipse cx="1574" cy="1145" rx="5.2" ry="5.7" opacity="0.11"/>
<ellipse cx="1730" cy="1553" rx="6.5" ry="3.6" opacity="0.04"/>
<ellipse cx="1718" cy="1625" rx="5.1" ry="4.0" opacity="0.10"/>
<ellipse cx="1915" cy="1244" rx="3.5" ry="4.9" opacity="0.12"/>
<ellipse cx="1730" cy="1598" rx="6.7" ry="2.8" opacity="0.10"/>
<ellipse cx="1831" cy="1289" rx="3.2" ry="5.5" opacity="0.04"/>
<ellipse cx="1634" cy="1649" rx="3.1" ry="2.6" opacity="0.05"/>
<ellipse cx="1689" cy="1093" rx="3.1" ry="3.4" opacity="0.09"/>
<ellipse cx="1591" cy="1744" rx="3.7" ry="2.4" opacity="0.12"/>
<ellipse cx="1687" cy="1645" rx="5.8" ry="4.2" opacity="0.05"/>
<ellipse cx="1740" cy="1196" rx="7.7" ry="5.8" opacity="0.13"/>
<ellipse cx="1677" cy="1744" rx="3.7" ry="2.2" opacity="0.12"/>
<ellipse cx="1800" cy="1573" rx="7.9" ry="4.6" opacity="0.05"/>
<ellipse cx="1826" cy="1354" rx="3.0" ry="3.6" opacity="0.08"/>
<ellipse cx="1634" cy="1722" rx="5.5" ry="2.5" opacity="0.13"/>
<ellipse cx="1937" cy="1525" rx="7.5" ry="4.7" opacity="0.07"/>
<ellipse cx="1913" cy="1589" rx="7.4" ry="4.9" opacity="0.10"/>
<ellipse cx="1838" cy="1661" rx="5.9" ry="3.8" opacity="0.06"/>
<ellipse cx="1673" cy="1140" rx="3.1" ry="4.1" opacity="0.08"/>
<ellipse cx="1605" cy="1210" rx="6.6" ry="4.2" opacity="0.12"/>
<ellipse cx="1750" cy="1591" rx="2.6" ry="4.8" opacity="0.04"/>
<ellipse cx="1872" cy="1413" rx="5.8" ry="3.3" opacity="0.10"/>
<ellipse cx="1711" cy="1528" rx="7.7" ry="5.7" opacity="0.05"/>
<ellipse cx="1882" cy="1487" rx="7.6" ry="2.6" opacity="0.08"/>
<ellipse cx="1824" cy="1230" rx="2.8" ry="2.9" opacity="0.10"/>
<ellipse cx="1591" cy="1778" rx="6.4" ry="4.1" opacity="0.08"/>
<ellipse cx="1807" cy="1361" rx="3.3" ry="2.7" opacity="0.07"/>
<ellipse cx="1646" cy="1809" rx="6.7" ry="3.4" opacity="0.10"/>
<ellipse cx="1798" cy="1314" rx="4.9" ry="3.8" opacity="0.06"/>
<ellipse cx="1891" cy="1230" rx="7.5" ry="3.0" opacity="0.06"/>
<ellipse cx="1858" cy="1372" rx="5.5" ry="4.3" opacity="0.11"/>
<ellipse cx="1713" cy="1145" rx="3.8" ry="5.6" opacity="0.08"/>
<ellipse cx="1776" cy="1819" rx="5.8" ry="3.3" opacity="0.04"/>
<ellipse cx="1709" cy="1365" rx="3.9" ry="3.6" opacity="0.08"/>
<ellipse cx="1634" cy="1830" rx="3.6" ry="2.7" opacity="0.06"/>
<ellipse cx="1855" cy="1158" rx="3.5" ry="3.5" opacity="0.08"/>
<ellipse cx="1939" cy="1514" rx="3.3" ry="5.9" opacity="0.06"/>
<ellipse cx="1634" cy="1819" rx="5.5" ry="4.1" opacity="0.06"/>
<ellipse cx="1641" cy="1260" rx="2.6" ry="5.4" opacity="0.08"/>
<ellipse cx="1925" cy="1562" rx="3.2" ry="3.0" opacity="0.11"/>
<ellipse cx="1843" cy="1539" rx="4.1" ry="2.3" opacity="0.11"/>
<ellipse cx="1738" cy="1744" rx="5.1" ry="3.3" opacity="0.12"/>
<ellipse cx="1865" cy="1710" rx="7.6" ry="2.2" opacity="0.07"/>
<ellipse cx="1726" cy="1771" rx="8.0" ry="4.6" opacity="0.09"/>
<ellipse cx="1848" cy="1692" rx="3.3" ry="2.3" opacity="0.06"/>
<ellipse cx="1771" cy="1212" rx="2.7" ry="4.2" opacity="0.05"/>
<ellipse cx="1915" cy="1300" rx="3.4" ry="3.7" opacity="0.04"/>
<ellipse cx="1596" cy="1767" rx="7.6" ry="3.8" opacity="0.12"/>
<ellipse cx="1841" cy="1575" rx="4.4" ry="3.3" opacity="0.07"/>
<ellipse cx="1742" cy="1683" rx="7.4" ry="2.1" opacity="0.05"/>
<ellipse cx="1860" cy="1280" rx="5.0" ry="4.7" opacity="0.06"/>
<ellipse cx="1627" cy="1690" rx="2.9" ry="3.1" opacity="0.04"/>
<ellipse cx="1752" cy="1740" rx="7.4" ry="5.3" opacity="0.11"/>
<ellipse cx="1682" cy="1553" rx="2.5" ry="4.2" opacity="0.07"/>
<ellipse cx="1745" cy="1145" rx="5.6" ry="3.7" opacity="0.10"/>
<ellipse cx="1901" cy="1564" rx="5.4" ry="3.3" opacity="0.08"/>
<ellipse cx="1915" cy="1255" rx="3.6" ry="2.5" opacity="0.13"/>
<ellipse cx="1687" cy="1769" rx="4.9" ry="3.2" opacity="0.12"/>
<ellipse cx="1663" cy="1722" rx="8.4" ry="3.9" opacity="0.05"/>
<ellipse cx="1829" cy="1679" rx="2.8" ry="5.7" opacity="0.08"/>
<ellipse cx="1682" cy="1108" rx="4.1" ry="4.3" opacity="0.09"/>
<ellipse cx="1769" cy="1440" rx="6.1" ry="5.0" opacity="0.08"/>
<ellipse cx="1661" cy="1244" rx="4.0" ry="4.4" opacity="0.12"/>
<ellipse cx="1819" cy="1271" rx="8.0" ry="3.5" opacity="0.12"/>
<ellipse cx="1891" cy="1411" rx="2.9" ry="2.7" opacity="0.12"/>
<ellipse cx="1769" cy="1217" rx="3.3" ry="3.1" opacity="0.08"/>
<ellipse cx="1685" cy="1181" rx="6.8" ry="4.0" opacity="0.09"/>
<ellipse cx="1723" cy="1620" rx="7.7" ry="2.1" opacity="0.08"/>
<ellipse cx="1754" cy="1616" rx="6.0" ry="6.0" opacity="0.04"/>
<ellipse cx="1661" cy="1699" rx="8.3" ry="4.9" opacity="0.11"/>
<ellipse cx="1603" cy="1713" rx="5.8" ry="4.7" opacity="0.07"/>
<ellipse cx="1822" cy="1683" rx="3.8" ry="2.0" opacity="0.05"/>
<ellipse cx="1882" cy="1354" rx="5.1" ry="5.0" opacity="0.10"/>
<ellipse cx="1663" cy="1773" rx="4.9" ry="5.0" opacity="0.07"/>
<ellipse cx="1613" cy="1264" rx="5.0" ry="4.6" opacity="0.07"/>
<ellipse cx="1853" cy="1302" rx="6.3" ry="5.6" opacity="0.08"/>
<ellipse cx="1781" cy="1424" rx="8.2" ry="5.1" opacity="0.10"/>
<ellipse cx="1750" cy="1266" rx="8.0" ry="3.3" opacity="0.08"/>
<ellipse cx="1762" cy="1456" rx="8.5" ry="5.3" opacity="0.10"/>
<ellipse cx="1682" cy="1645" rx="4.5" ry="3.7" opacity="0.11"/>
<ellipse cx="1677" cy="1534" rx="4.9" ry="2.3" opacity="0.10"/>
<ellipse cx="1637" cy="1746" rx="7.1" ry="3.1" opacity="0.13"/>
<ellipse cx="1812" cy="1679" rx="5.1" ry="3.1" opacity="0.11"/>
<ellipse cx="1754" cy="1280" rx="3.3" ry="3.2" opacity="0.05"/>
<ellipse cx="1805" cy="1433" rx="5.9" ry="5.0" opacity="0.04"/>
<ellipse cx="1752" cy="1778" rx="6.0" ry="5.7" opacity="0.10"/>
<ellipse cx="1601" cy="1160" rx="6.2" ry="3.7" opacity="0.10"/>
<ellipse cx="1627" cy="1667" rx="3.8" ry="2.6" opacity="0.08"/>
<ellipse cx="1810" cy="1172" rx="2.8" ry="4.6" opacity="0.07"/>
<ellipse cx="1629" cy="1176" rx="2.9" ry="5.4" opacity="0.06"/>
<ellipse cx="1867" cy="1525" rx="3.0" ry="3.6" opacity="0.13"/>
<ellipse cx="1603" cy="1160" rx="4.3" ry="3.2" opacity="0.07"/>
<ellipse cx="1709" cy="1388" rx="3.3" ry="2.9" opacity="0.05"/>
<ellipse cx="1706" cy="1819" rx="5.2" ry="5.4" opacity="0.11"/>
<ellipse cx="1591" cy="1798" rx="5.3" ry="5.3" opacity="0.12"/>
<ellipse cx="1937" cy="1372" rx="6.4" ry="2.5" opacity="0.06"/>
<ellipse cx="1944" cy="1453" rx="7.7" ry="2.4" opacity="0.10"/>
<ellipse cx="1846" cy="1462" rx="7.8" ry="3.8" opacity="0.12"/>
<ellipse cx="1903" cy="1284" rx="3.3" ry="3.6" opacity="0.11"/>
<ellipse cx="1742" cy="1852" rx="7.0" ry="4.8" opacity="0.12"/>
<ellipse cx="1822" cy="1780" rx="3.4" ry="5.8" opacity="0.06"/>
<ellipse cx="1692" cy="1834" rx="5.3" ry="2.7" opacity="0.08"/>
<ellipse cx="1750" cy="1798" rx="7.9" ry="4.3" opacity="0.07"/>
<ellipse cx="1826" cy="1785" rx="5.4" ry="5.9" opacity="0.13"/>
<ellipse cx="1685" cy="1426" rx="5.1" ry="2.5" opacity="0.11"/>
<ellipse cx="1911" cy="1498" rx="2.7" ry="3.5" opacity="0.08"/>
<ellipse cx="1673" cy="1278" rx="3.2" ry="5.9" opacity="0.08"/>
<ellipse cx="1838" cy="1397" rx="5.7" ry="2.4" opacity="0.11"/>
<ellipse cx="1598" cy="1104" rx="5.1" ry="5.1" opacity="0.06"/>
<ellipse cx="1841" cy="1282" rx="7.1" ry="3.9" opacity="0.09"/>
<ellipse cx="1759" cy="1447" rx="3.2" ry="2.9" opacity="0.12"/>
<ellipse cx="1769" cy="1539" rx="6.6" ry="6.0" opacity="0.07"/>
<ellipse cx="1673" cy="1589" rx="5.0" ry="3.1" opacity="0.12"/>
<ellipse cx="1901" cy="1228" rx="5.3" ry="2.5" opacity="0.11"/>
<ellipse cx="1728" cy="1521" rx="5.2" ry="4.5" opacity="0.12"/>
<ellipse cx="1687" cy="1221" rx="7.4" ry="2.6" opacity="0.10"/>
<ellipse cx="1723" cy="1264" rx="7.8" ry="4.5" opacity="0.10"/>
<ellipse cx="1802" cy="1176" rx="6.4" ry="2.3" opacity="0.12"/>
<ellipse cx="1601" cy="1760" rx="7.7" ry="3.4" opacity="0.06"/>
<ellipse cx="1728" cy="1640" rx="8.3" ry="5.0" opacity="0.05"/>
<ellipse cx="1632" cy="1223" rx="8.4" ry="3.0" opacity="0.06"/>
<ellipse cx="1670" cy="1609" rx="3.3" ry="3.6" opacity="0.10"/>
<ellipse cx="1757" cy="1311" rx="7.6" ry="4.5" opacity="0.06"/>
<ellipse cx="1617" cy="1133" rx="8.1" ry="4.4" opacity="0.07"/>
<ellipse cx="1603" cy="1807" rx="5.8" ry="2.9" opacity="0.11"/>
<ellipse cx="1726" cy="1701" rx="8.4" ry="3.1" opacity="0.04"/>
<ellipse cx="1711" cy="1440" rx="7.4" ry="5.4" opacity="0.07"/>
<ellipse cx="1850" cy="1453" rx="6.9" ry="4.6" opacity="0.06"/>
<ellipse cx="1670" cy="1160" rx="4.7" ry="2.5" opacity="0.10"/>
<ellipse cx="1786" cy="1122" rx="5.0" ry="2.6" opacity="0.08"/>
<ellipse cx="1709" cy="1782" rx="5.4" ry="5.4" opacity="0.07"/>
<ellipse cx="1783" cy="1429" rx="8.1" ry="4.3" opacity="0.13"/>
<ellipse cx="1798" cy="1485" rx="4.8" ry="4.9" opacity="0.09"/>
<ellipse cx="1615" cy="1138" rx="5.4" ry="3.7" opacity="0.07"/>
<ellipse cx="1798" cy="1507" rx="4.5" ry="2.4" opacity="0.06"/>
<ellipse cx="1915" cy="1356" rx="6.8" ry="2.4" opacity="0.13"/>
<ellipse cx="1874" cy="1350" rx="4.1" ry="4.2" opacity="0.11"/>
<ellipse cx="1901" cy="1372" rx="4.5" ry="4.2" opacity="0.09"/>
<ellipse cx="1692" cy="1778" rx="6.5" ry="2.8" opacity="0.09"/>
<ellipse cx="1920" cy="1564" rx="4.1" ry="4.0" opacity="0.12"/>
<ellipse cx="1735" cy="1819" rx="7.6" ry="2.5" opacity="0.07"/>
<ellipse cx="1726" cy="1483" rx="6.9" ry="3.6" opacity="0.05"/>
<ellipse cx="1754" cy="1149" rx="7.5" ry="4.7" opacity="0.08"/>
<ellipse cx="1593" cy="1223" rx="4.1" ry="5.5" opacity="0.13"/>
<ellipse cx="1750" cy="1181" rx="4.8" ry="3.1" opacity="0.11"/>
<ellipse cx="1860" cy="1634" rx="3.3" ry="3.7" opacity="0.08"/>
<ellipse cx="1810" cy="1568" rx="2.8" ry="3.2" opacity="0.04"/>
<ellipse cx="1730" cy="1187" rx="4.2" ry="5.5" opacity="0.08"/>
<ellipse cx="1701" cy="1095" rx="8.4" ry="4.9" opacity="0.12"/>
<ellipse cx="1795" cy="1433" rx="4.9" ry="4.1" opacity="0.12"/>
<ellipse cx="1771" cy="1483" rx="7.5" ry="4.1" opacity="0.07"/>
<ellipse cx="1716" cy="1546" rx="4.9" ry="3.0" opacity="0.10"/>
<ellipse cx="1843" cy="1377" rx="3.0" ry="4.4" opacity="0.07"/>
<ellipse cx="1771" cy="1257" rx="8.0" ry="3.9" opacity="0.07"/>
<ellipse cx="1668" cy="1232" rx="7.5" ry="5.8" opacity="0.13"/>
<ellipse cx="1855" cy="1686" rx="5.8" ry="3.7" opacity="0.10"/>
<ellipse cx="1733" cy="1837" rx="6.2" ry="3.8" opacity="0.04"/>
<ellipse cx="1935" cy="1298" rx="7.5" ry="4.5" opacity="0.10"/>
<ellipse cx="1882" cy="1404" rx="8.0" ry="3.4" opacity="0.07"/>
<ellipse cx="1692" cy="1178" rx="6.1" ry="4.2" opacity="0.10"/>
<ellipse cx="1651" cy="1115" rx="8.5" ry="2.8" opacity="0.09"/>
<ellipse cx="1632" cy="1677" rx="7.1" ry="3.7" opacity="0.06"/>
<ellipse cx="1831" cy="1749" rx="6.8" ry="3.8" opacity="0.11"/>
<ellipse cx="1858" cy="1127" rx="5.3" ry="4.4" opacity="0.12"/>
<ellipse cx="1620" cy="1257" rx="5.3" ry="5.7" opacity="0.09"/>
<ellipse cx="1586" cy="1149" rx="8.1" ry="5.8" opacity="0.11"/>
<ellipse cx="1790" cy="1764" rx="6.0" ry="5.5" opacity="0.08"/>
<ellipse cx="1937" cy="1429" rx="7.4" ry="4.4" opacity="0.05"/>
<ellipse cx="1807" cy="1652" rx="8.4" ry="2.5" opacity="0.07"/>
<ellipse cx="1620" cy="1679" rx="6.5" ry="4.4" opacity="0.09"/>
<ellipse cx="1757" cy="1271" rx="5.2" ry="2.5" opacity="0.09"/>
<ellipse cx="1795" cy="1794" rx="3.9" ry="3.5" opacity="0.05"/>
<ellipse cx="1807" cy="1374" rx="6.9" ry="4.0" opacity="0.09"/>
<ellipse cx="1874" cy="1129" rx="3.4" ry="3.4" opacity="0.10"/>
<ellipse cx="1879" cy="1645" rx="8.1" ry="2.9" opacity="0.06"/>
<ellipse cx="1627" cy="1613" rx="5.3" ry="2.6" opacity="0.10"/>
<ellipse cx="1855" cy="1602" rx="3.9" ry="5.7" opacity="0.04"/>
<ellipse cx="1776" cy="1528" rx="7.1" ry="2.9" opacity="0.10"/>
<ellipse cx="1697" cy="1611" rx="7.8" ry="5.1" opacity="0.05"/>
<ellipse cx="1769" cy="1798" rx="6.6" ry="4.4" opacity="0.13"/>
<ellipse cx="1617" cy="1138" rx="4.0" ry="3.8" opacity="0.11"/>
<ellipse cx="1665" cy="1647" rx="8.3" ry="2.5" opacity="0.09"/>
<ellipse cx="1838" cy="1625" rx="4.8" ry="4.7" opacity="0.07"/>
<ellipse cx="1610" cy="1250" rx="7.7" ry="2.6" opacity="0.09"/>
<ellipse cx="1776" cy="1604" rx="4.8" ry="5.0" opacity="0.07"/>
<ellipse cx="1665" cy="1266" rx="4.3" ry="6.0" opacity="0.07"/>
<ellipse cx="1735" cy="1289" rx="3.6" ry="3.5" opacity="0.08"/>
<ellipse cx="1656" cy="1652" rx="5.8" ry="4.2" opacity="0.05"/>
<ellipse cx="1764" cy="1115" rx="6.8" ry="2.6" opacity="0.08"/>
<ellipse cx="1646" cy="1764" rx="5.1" ry="5.1" opacity="0.11"/>
<ellipse cx="1733" cy="1740" rx="6.4" ry="3.5" opacity="0.12"/>
<ellipse cx="1944" cy="1262" rx="4.4" ry="5.7" opacity="0.07"/>
<ellipse cx="1812" cy="1494" rx="5.5" ry="5.2" opacity="0.06"/>
<ellipse cx="1687" cy="1658" rx="5.2" ry="4.1" opacity="0.07"/>
<ellipse cx="1894" cy="1248" rx="2.9" ry="2.9" opacity="0.07"/>
<ellipse cx="1925" cy="1573" rx="6.0" ry="3.6" opacity="0.04"/>
<ellipse cx="1591" cy="1255" rx="5.5" ry="5.2" opacity="0.09"/>
<ellipse cx="1798" cy="1284" rx="4.1" ry="4.9" opacity="0.05"/>
<ellipse cx="1738" cy="1167" rx="7.5" ry="5.9" opacity="0.11"/>
<ellipse cx="1637" cy="1634" rx="3.1" ry="4.8" opacity="0.12"/>
<ellipse cx="1877" cy="1219" rx="5.4" ry="3.7" opacity="0.11"/>
<ellipse cx="1776" cy="1778" rx="7.8" ry="4.4" opacity="0.13"/>
<ellipse cx="1848" cy="1471" rx="4.3" ry="4.8" opacity="0.13"/>
</g>
<g filter="url(#b1)" fill="none" stroke="#fff" stroke-linecap="round" stroke-linejoin="round">
<ellipse cx="1755.72" cy="1210.05" rx="3.5" ry="6" transform="rotate(0 1755.72 1210.05)" fill="#fff" fill-opacity="1" stroke="none"/>
<path d="M1774.92 1280.07L1768.15 1302.66L1762.5 1325.25" stroke-width="4.5" stroke-opacity="1"/>
<path d="M1785.09 1342.19L1811.06 1325.25L1844.95 1311.7L1878.83 1302.66" stroke-width="3.5" stroke-opacity="0.9"/>
<ellipse cx="1762.5" cy="1168.26" rx="3" ry="3" transform="rotate(0 1762.5 1168.26)" fill="#fff" fill-opacity="0.6" stroke="none"/>
<ellipse cx="1720.71" cy="1130.99" rx="2.5" ry="3" transform="rotate(0 1720.71 1130.99)" fill="#fff" fill-opacity="0.6" stroke="none"/>
<ellipse cx="1747.82" cy="1241.67" rx="3" ry="2.5" transform="rotate(0 1747.82 1241.67)" fill="#fff" fill-opacity="0.7" stroke="none"/>
<ellipse cx="1770.4" cy="1402.05" rx="3" ry="3" transform="rotate(0 1770.4 1402.05)" fill="#fff" fill-opacity="0.7" stroke="none"/>
<path d="M1865.28 1396.41L1876.57 1393.02" stroke-width="3.5" stroke-opacity="0.6"/>
<path d="M1741.04 1268.78L1752.33 1266.52" stroke-width="3.5" stroke-opacity="0.5"/>
<path d="M1725.23 1294.76L1732 1294.76" stroke-width="3" stroke-opacity="0.5"/>
<path d="M1711.67 1273.3L1732 1250.71L1743.3 1216.83L1744.43 1187.46" stroke-width="3" stroke-opacity="0.45"/>
<path d="M1892.38 1182.94L1885.61 1201.01L1867.54 1212.31" stroke-width="3" stroke-opacity="0.4"/>
<path d="M1817.84 1146.8L1813.32 1164.87L1817.84 1176.17" stroke-width="3" stroke-opacity="0.35"/>
<path d="M1887.87 1377.21L1910.45 1356.88" stroke-width="2.5" stroke-opacity="0.4"/>
<ellipse cx="1792.99" cy="1415.61" rx="3" ry="3" transform="rotate(0 1792.99 1415.61)" fill="#fff" fill-opacity="0.5" stroke="none"/>
<ellipse cx="1734.26" cy="1363.65" rx="3" ry="3" transform="rotate(0 1734.26 1363.65)" fill="#fff" fill-opacity="0.5" stroke="none"/>
<path d="M1698.66 1476.73L1704.96 1475.46L1711.27 1457.82L1723.87 1445.21L1739 1436.39L1749.08 1436.39L1752.87 1447.73L1774.29 1456.56L1793.2 1462.86L1794.46 1470.42L1786.9 1472.94L1761.69 1465.38L1746.56 1462.86L1741.52 1476.73L1733.96 1490.59L1723.87 1498.15L1716.31 1495.63L1713.16 1488.07Z" fill="#fff" fill-opacity="1" stroke="none"/>
<path d="M1683.53 1524.63L1698.66 1519.58L1717.57 1515.8L1736.48 1519.58L1749.08 1528.41L1751.6 1533.45" stroke-width="3.6" stroke-opacity="1"/>
<ellipse cx="1751.6" cy="1534.08" rx="4.5" ry="4.5" transform="rotate(0 1751.6 1534.08)" fill="#fff" fill-opacity="1" stroke="none"/>
<ellipse cx="1679.12" cy="1595.22" rx="25" ry="24" transform="rotate(0 1679.12 1595.22)" fill="#fff" fill-opacity="1" stroke="none"/>
<path d="M1655.8 1571.27L1673.45 1570.64L1681.01 1577.57L1660.84 1586.39L1653.91 1583.87Z" fill="#fff" fill-opacity="1" stroke="none"/>
<path d="M1648.24 1614.13L1668.41 1616.65L1673.45 1631.77L1686.06 1639.34L1723.87 1646.9L1727.65 1655.72L1711.27 1659.51L1679.75 1653.2L1660.84 1644.38L1646.98 1634.29Z" fill="#fff" fill-opacity="1" stroke="none"/>
<path d="M1619.25 1578.83L1621.77 1596.48L1625.55 1606.56" stroke-width="6" stroke-opacity="0.9"/>
<path d="M1630.59 1609.08L1635.63 1627.99L1638.15 1646.9" stroke-width="4" stroke-opacity="0.6"/>
<path d="M1630.35 1655.25L1641.65 1649.6" stroke-width="7" stroke-opacity="1"/>
<path d="M1648.43 1662.03L1655.2 1682.36L1661.98 1693.65" stroke-width="3" stroke-opacity="0.6"/>
<path d="M1648.43 1710.21L1654.07 1724.9L1660.17 1740.71" stroke-width="11" stroke-opacity="1"/>
<path d="M1806.55 1721.51L1817.84 1733.93L1835.91 1747.49" stroke-width="3.5" stroke-opacity="0.7"/>
<ellipse cx="1842.69" cy="1696.66" rx="4" ry="3" transform="rotate(-30 1842.69 1696.66)" fill="#fff" fill-opacity="0.8" stroke="none"/>
<ellipse cx="1791.86" cy="1739.58" rx="3" ry="3.5" transform="rotate(0 1791.86 1739.58)" fill="#fff" fill-opacity="0.7" stroke="none"/>
<path d="M1752.33 1776.85L1757.98 1788.15" stroke-width="3.5" stroke-opacity="0.6"/>
<path d="M1630.35 1774.59L1625.84 1794.92" stroke-width="3" stroke-opacity="0.5"/>
<ellipse cx="1835.91" cy="1544.57" rx="4" ry="3.5" transform="rotate(0 1835.91 1544.57)" fill="#fff" fill-opacity="0.8" stroke="none"/>
<ellipse cx="1659.72" cy="1802.83" rx="3" ry="3" transform="rotate(0 1659.72 1802.83)" fill="#fff" fill-opacity="0.5" stroke="none"/>
<ellipse cx="1710.54" cy="1824.29" rx="3" ry="4" transform="rotate(0 1710.54 1824.29)" fill="#fff" fill-opacity="0.5" stroke="none"/>
<path d="M1669.88 1812.99L1671.01 1826.55" stroke-width="3" stroke-opacity="0.4"/>
<ellipse cx="1876.57" cy="1639.06" rx="5" ry="5" transform="rotate(0 1876.57 1639.06)" fill="#fff" fill-opacity="0.4" stroke="none"/>
<path d="M1844.95 1582.59L1865.28 1600.66" stroke-width="3" stroke-opacity="0.4"/>
</g>
<path d="M1647.41 1091.59h2.4v2.25h-2.4zM1652.22 1091.59h7.21v2.75h-7.21zM1733.92 1091.59h2.4v2.25h-2.4zM1743.53 1091.59h4.81v2.75h-4.81zM1652.22 1093.84h4.81v2.75h-4.81zM1731.52 1093.84h2.4v2.75h-2.4zM1743.53 1093.84h7.21v2.75h-7.21zM1647.41 1096.1h14.42v2.75h-14.42zM1731.52 1096.1h2.4v2.25h-2.4zM1743.53 1096.1h4.81v2.75h-4.81zM1594.55 1098.35h2.4v2.75h-2.4zM1613.77 1098.35h2.4v2.75h-2.4zM1618.58 1098.35h2.4v2.75h-2.4zM1632.99 1098.35h2.4v2.75h-2.4zM1654.62 1098.35h2.4v2.25h-2.4zM1743.53 1098.35h4.81v2.75h-4.81zM1582.53 1100.6h2.4v2.75h-2.4zM1592.14 1100.6h36.05v2.75h-36.05zM1630.59 1100.6h4.81v2.75h-4.81zM1745.93 1100.6h4.81v2.25h-4.81zM1762.76 1100.6h2.4v2.25h-2.4zM1580.13 1102.86h57.67v2.75h-57.67zM1580.13 1105.11h60.08v2.75h-60.08zM1580.13 1107.37h60.08v2.75h-60.08zM1642.61 1107.37h4.81v2.75h-4.81zM1801.2 1107.37h2.4v2.75h-2.4zM1575.32 1109.62h91.31v2.75h-91.31zM1789.19 1109.62h4.81v2.75h-4.81zM1796.4 1109.62h7.21v2.75h-7.21zM1575.32 1111.87h98.52v2.75h-98.52zM1784.38 1111.87h2.4v2.75h-2.4zM1789.19 1111.87h21.63v2.75h-21.63zM1575.32 1114.13h103.33v2.75h-103.33zM1779.58 1114.13h38.45v2.75h-38.45zM1827.64 1114.13h2.4v2.25h-2.4zM1834.85 1114.13h2.4v2.75h-2.4zM1575.32 1116.38h108.14v2.75h-108.14zM1781.98 1116.38h40.85v2.75h-40.85zM1832.44 1116.38h12.02v2.75h-12.02zM1577.72 1118.64h110.54v2.75h-110.54zM1781.98 1118.64h64.88v2.75h-64.88zM1580.13 1120.89h112.94v2.75h-112.94zM1707.49 1120.89h2.4v2.25h-2.4zM1781.98 1120.89h67.28v2.75h-67.28zM1577.72 1123.14h112.94v2.75h-112.94zM1784.38 1123.14h67.28v2.75h-67.28zM1580.13 1125.4h112.94v2.75h-112.94zM1789.19 1125.4h60.08v2.75h-60.08zM1577.72 1127.65h117.75v2.75h-117.75zM1796.4 1127.65h2.4v2.25h-2.4zM1803.61 1127.65h40.85v2.75h-40.85zM1577.72 1129.91h117.75v2.75h-117.75zM1798.8 1129.91h2.4v2.25h-2.4zM1803.61 1129.91h2.4v2.25h-2.4zM1815.62 1129.91h28.84v2.75h-28.84zM1854.07 1129.91h2.4v2.25h-2.4zM1577.72 1132.16h120.15v2.75h-120.15zM1825.23 1132.16h16.82v2.75h-16.82zM1577.72 1134.41h124.96v2.75h-124.96zM1825.23 1134.41h14.42v2.75h-14.42zM1575.32 1136.67h129.76v2.75h-129.76zM1830.04 1136.67h7.21v2.25h-7.21zM1575.32 1138.92h132.16v2.75h-132.16zM1575.32 1141.18h136.97v2.75h-136.97zM1851.67 1141.18h2.4v2.25h-2.4zM1577.72 1143.43h136.97v2.75h-136.97zM1808.41 1143.43h2.4v2.25h-2.4zM1575.32 1145.68h141.78v2.75h-141.78zM1575.32 1147.94h144.18v2.75h-144.18zM1575.32 1150.19h144.18v2.75h-144.18zM1796.4 1150.19h2.4v2.75h-2.4zM1801.2 1150.19h2.4v2.25h-2.4zM1868.49 1150.19h2.4v2.25h-2.4zM1575.32 1152.45h146.58v2.75h-146.58zM1793.99 1152.45h7.21v2.25h-7.21zM1577.72 1154.7h141.78v2.75h-141.78zM1577.72 1156.95h148.99v2.75h-148.99zM1580.13 1159.21h146.58v2.75h-146.58zM1577.72 1161.46h148.99v2.75h-148.99zM1851.67 1161.46h7.21v2.75h-7.21zM1580.13 1163.72h148.99v2.75h-148.99zM1851.67 1163.72h9.61v2.75h-9.61zM1902.13 1163.72h2.4v2.75h-2.4zM1580.13 1165.97h151.39v2.75h-151.39zM1846.86 1165.97h16.82v2.75h-16.82zM1899.73 1165.97h4.81v2.75h-4.81zM1580.13 1168.22h156.19v2.75h-156.19zM1844.46 1168.22h19.22v2.75h-19.22zM1875.7 1168.22h2.4v2.75h-2.4zM1899.73 1168.22h7.21v2.25h-7.21zM1580.13 1170.48h158.6v2.75h-158.6zM1846.86 1170.48h16.82v2.75h-16.82zM1873.29 1170.48h4.81v2.75h-4.81zM1580.13 1172.73h158.6v2.75h-158.6zM1846.86 1172.73h16.82v2.75h-16.82zM1873.29 1172.73h4.81v2.75h-4.81zM1582.53 1174.99h158.6v2.75h-158.6zM1849.26 1174.99h2.4v2.75h-2.4zM1875.7 1174.99h2.4v2.25h-2.4zM1582.53 1177.24h158.6v2.75h-158.6zM1849.26 1177.24h9.61v2.25h-9.61zM1584.93 1179.49h158.6v2.75h-158.6zM1582.53 1181.75h161v2.75h-161zM1580.13 1184h163.4v2.75h-163.4zM1830.04 1184h4.81v2.75h-4.81zM1584.93 1186.26h158.6v2.75h-158.6zM1830.04 1186.26h12.02v2.75h-12.02zM1846.86 1186.26h4.81v2.75h-4.81zM1880.5 1186.26h2.4v2.25h-2.4zM1584.93 1188.51h158.6v2.75h-158.6zM1827.64 1188.51h26.43v2.75h-26.43zM1584.93 1190.76h156.19v2.75h-156.19zM1825.23 1190.76h26.43v2.75h-26.43zM1584.93 1193.02h158.6v2.75h-158.6zM1789.19 1193.02h2.4v2.25h-2.4zM1822.83 1193.02h26.43v2.75h-26.43zM1587.34 1195.27h156.19v2.75h-156.19zM1822.83 1195.27h26.43v2.75h-26.43zM1584.93 1197.53h158.6v2.75h-158.6zM1820.43 1197.53h28.84v2.75h-28.84zM1584.93 1199.78h158.6v2.75h-158.6zM1815.62 1199.78h4.81v2.75h-4.81zM1825.23 1199.78h21.63v2.75h-21.63zM1868.49 1199.78h7.21v2.75h-7.21zM1587.34 1202.03h153.79v2.75h-153.79zM1813.22 1202.03h4.81v2.25h-4.81zM1825.23 1202.03h19.22v2.75h-19.22zM1866.09 1202.03h9.61v2.75h-9.61zM1584.93 1204.29h156.19v2.75h-156.19zM1825.23 1204.29h9.61v2.75h-9.61zM1870.89 1204.29h2.4v2.25h-2.4zM1584.93 1206.54h156.19v2.75h-156.19zM1822.83 1206.54h9.61v2.75h-9.61zM1894.92 1206.54h2.4v2.25h-2.4zM1587.34 1208.8h153.79v2.75h-153.79zM1820.43 1208.8h9.61v2.75h-9.61zM1587.34 1211.05h153.79v2.75h-153.79zM1820.43 1211.05h7.21v2.75h-7.21zM1587.34 1213.3h151.39v2.75h-151.39zM1820.43 1213.3h4.81v2.25h-4.81zM1839.65 1213.3h2.4v2.75h-2.4zM1587.34 1215.56h153.79v2.75h-153.79zM1815.62 1215.56h2.4v2.25h-2.4zM1837.25 1215.56h4.81v2.75h-4.81zM1589.74 1217.81h148.99v2.75h-148.99zM1837.25 1217.81h4.81v2.25h-4.81zM1589.74 1220.07h148.99v2.75h-148.99zM1894.92 1220.07h2.4v2.25h-2.4zM1592.14 1222.32h144.18v2.75h-144.18zM1834.85 1222.32h4.81v2.75h-4.81zM1589.74 1224.57h146.58v2.75h-146.58zM1834.85 1224.57h2.4v2.25h-2.4zM1878.1 1224.57h4.81v2.75h-4.81zM1589.74 1226.83h148.99v2.75h-148.99zM1880.5 1226.83h2.4v2.25h-2.4zM1589.74 1229.08h146.58v2.75h-146.58zM1798.8 1229.08h4.81v2.75h-4.81zM1587.34 1231.34h148.99v2.75h-148.99zM1789.19 1231.34h2.4v2.75h-2.4zM1798.8 1231.34h9.61v2.75h-9.61zM1589.74 1233.59h141.78v2.75h-141.78zM1786.79 1233.59h19.22v2.75h-19.22zM1873.29 1233.59h2.4v2.75h-2.4zM1890.12 1233.59h2.4v2.75h-2.4zM1589.74 1235.84h144.18v2.75h-144.18zM1786.79 1235.84h19.22v2.75h-19.22zM1873.29 1235.84h9.61v2.75h-9.61zM1887.71 1235.84h9.61v2.75h-9.61zM1589.74 1238.1h144.18v2.75h-144.18zM1786.79 1238.1h19.22v2.75h-19.22zM1873.29 1238.1h19.22v2.75h-19.22zM1592.14 1240.35h139.37v2.75h-139.37zM1786.79 1240.35h16.82v2.75h-16.82zM1868.49 1240.35h24.03v2.75h-24.03zM1589.74 1242.61h141.78v2.75h-141.78zM1796.4 1242.61h7.21v2.25h-7.21zM1808.41 1242.61h2.4v2.25h-2.4zM1844.46 1242.61h2.4v2.75h-2.4zM1873.29 1242.61h26.43v2.75h-26.43zM1589.74 1244.86h141.78v2.75h-141.78zM1839.65 1244.86h2.4v2.75h-2.4zM1844.46 1244.86h12.02v2.75h-12.02zM1870.89 1244.86h26.43v2.75h-26.43zM1589.74 1247.11h139.37v2.75h-139.37zM1839.65 1247.11h16.82v2.75h-16.82zM1861.28 1247.11h2.4v2.75h-2.4zM1875.7 1247.11h4.81v2.75h-4.81zM1882.91 1247.11h19.22v2.75h-19.22zM1592.14 1249.37h136.97v2.75h-136.97zM1839.65 1249.37h14.42v2.75h-14.42zM1858.88 1249.37h12.02v2.75h-12.02zM1878.1 1249.37h24.03v2.75h-24.03zM1938.17 1249.37h4.81v2.25h-4.81zM1589.74 1251.62h139.37v2.75h-139.37zM1837.25 1251.62h19.22v2.75h-19.22zM1858.88 1251.62h7.21v2.75h-7.21zM1870.89 1251.62h2.4v2.25h-2.4zM1885.31 1251.62h16.82v2.75h-16.82zM1592.14 1253.88h134.57v2.75h-134.57zM1837.25 1253.88h21.63v2.75h-21.63zM1861.28 1253.88h2.4v2.25h-2.4zM1882.91 1253.88h16.82v2.75h-16.82zM1940.58 1253.88h4.81v2.75h-4.81zM1589.74 1256.13h136.97v2.75h-136.97zM1834.85 1256.13h24.03v2.75h-24.03zM1885.31 1256.13h14.42v2.75h-14.42zM1935.77 1256.13h9.61v2.75h-9.61zM1592.14 1258.38h134.57v2.75h-134.57zM1832.44 1258.38h24.03v2.75h-24.03zM1885.31 1258.38h2.4v2.25h-2.4zM1890.12 1258.38h7.21v2.25h-7.21zM1935.77 1258.38h9.61v2.25h-9.61zM1592.14 1260.64h134.57v2.75h-134.57zM1825.23 1260.64h4.81v2.75h-4.81zM1832.44 1260.64h28.84v2.75h-28.84zM1868.49 1260.64h2.4v2.25h-2.4zM1945.38 1260.64h4.81v2.25h-4.81zM1592.14 1262.89h129.76v2.75h-129.76zM1820.43 1262.89h40.85v2.75h-40.85zM1890.12 1262.89h2.4v2.25h-2.4zM1594.55 1265.15h122.55v2.75h-122.55zM1818.03 1265.15h40.85v2.75h-40.85zM1596.95 1267.4h117.75v2.75h-117.75zM1815.62 1267.4h43.25v2.75h-43.25zM1596.95 1269.65h2.4v2.25h-2.4zM1601.75 1269.65h112.94v2.75h-112.94zM1815.62 1269.65h43.25v2.75h-43.25zM1906.94 1269.65h2.4v2.25h-2.4zM1950.19 1269.65h2.4v2.25h-2.4zM1618.58 1271.91h91.31v2.75h-91.31zM1815.62 1271.91h40.85v2.75h-40.85zM1938.17 1271.91h2.4v2.75h-2.4zM1947.79 1271.91h2.4v2.75h-2.4zM1620.98 1274.16h86.51v2.75h-86.51zM1818.03 1274.16h38.45v2.75h-38.45zM1933.37 1274.16h2.4v2.75h-2.4zM1938.17 1274.16h14.42v2.75h-14.42zM1623.38 1276.42h81.7v2.75h-81.7zM1818.03 1276.42h40.85v2.75h-40.85zM1926.16 1276.42h26.43v2.75h-26.43zM1628.19 1278.67h79.3v2.75h-79.3zM1808.41 1278.67h4.81v2.75h-4.81zM1815.62 1278.67h40.85v2.75h-40.85zM1938.17 1278.67h2.4v2.25h-2.4zM1947.79 1278.67h2.4v2.75h-2.4zM1625.79 1280.92h76.9v2.75h-76.9zM1808.41 1280.92h45.66v2.75h-45.66zM1947.79 1280.92h4.81v2.75h-4.81zM1630.59 1283.18h72.09v2.75h-72.09zM1806.01 1283.18h2.4v2.25h-2.4zM1810.82 1283.18h43.25v2.75h-43.25zM1945.38 1283.18h4.81v2.25h-4.81zM1630.59 1285.43h74.49v2.75h-74.49zM1808.41 1285.43h43.25v2.75h-43.25zM1635.4 1287.69h62.48v2.75h-62.48zM1810.82 1287.69h40.85v2.75h-40.85zM1635.4 1289.94h67.28v2.75h-67.28zM1810.82 1289.94h40.85v2.75h-40.85zM1863.68 1289.94h4.81v2.75h-4.81zM1904.53 1289.94h2.4v2.75h-2.4zM1637.8 1292.19h60.08v2.75h-60.08zM1810.82 1292.19h12.02v2.75h-12.02zM1825.23 1292.19h21.63v2.75h-21.63zM1849.26 1292.19h2.4v2.25h-2.4zM1861.28 1292.19h4.81v2.75h-4.81zM1904.53 1292.19h4.81v2.75h-4.81zM1642.61 1294.45h52.87v2.75h-52.87zM1813.22 1294.45h7.21v2.75h-7.21zM1825.23 1294.45h16.82v2.75h-16.82zM1861.28 1294.45h7.21v2.75h-7.21zM1906.94 1294.45h2.4v2.75h-2.4zM1642.61 1296.7h55.27v2.75h-55.27zM1813.22 1296.7h4.81v2.25h-4.81zM1822.83 1296.7h14.42v2.75h-14.42zM1861.28 1296.7h4.81v2.25h-4.81zM1906.94 1296.7h2.4v2.25h-2.4zM1647.41 1298.96h48.06v2.75h-48.06zM1825.23 1298.96h12.02v2.75h-12.02zM1652.22 1301.21h7.21v2.25h-7.21zM1661.83 1301.21h28.84v2.75h-28.84zM1830.04 1301.21h7.21v2.75h-7.21zM1661.83 1303.46h12.02v2.75h-12.02zM1676.25 1303.46h16.82v2.25h-16.82zM1830.04 1303.46h4.81v2.75h-4.81zM1671.44 1305.72h2.4v2.25h-2.4zM1832.44 1305.72h2.4v2.25h-2.4zM1866.09 1312.48h2.4v2.25h-2.4zM1875.7 1312.48h2.4v2.25h-2.4zM1870.89 1314.73h2.4v2.25h-2.4zM1858.88 1319.24h2.4v2.25h-2.4zM1839.65 1323.75h2.4v2.75h-2.4zM1854.07 1323.75h2.4v2.25h-2.4zM1873.29 1323.75h2.4v2.25h-2.4zM1834.85 1326h7.21v2.75h-7.21zM1834.85 1328.26h4.81v2.75h-4.81zM1837.25 1330.51h2.4v2.25h-2.4zM1875.7 1330.51h14.42v2.75h-14.42zM1873.29 1332.77h14.42v2.75h-14.42zM1729.11 1335.02h2.4v2.25h-2.4zM1868.49 1335.02h2.4v2.75h-2.4zM1873.29 1335.02h14.42v2.75h-14.42zM1868.49 1337.27h16.82v2.75h-16.82zM1868.49 1339.53h14.42v2.75h-14.42zM1866.09 1341.78h16.82v2.75h-16.82zM1846.86 1344.04h2.4v2.25h-2.4zM1866.09 1344.04h14.42v2.75h-14.42zM1870.89 1346.29h2.4v2.75h-2.4zM1870.89 1348.54h2.4v2.25h-2.4zM1801.2 1452.23h2.4v2.25h-2.4zM1798.8 1495.05h2.4v2.25h-2.4zM1793.99 1499.56h2.4v2.25h-2.4zM1721.9 1504.07h2.4v2.75h-2.4zM1729.11 1504.07h2.4v2.75h-2.4zM1721.9 1506.32h9.61v2.75h-9.61zM1733.92 1506.32h2.4v2.75h-2.4zM1707.49 1508.58h7.21v2.25h-7.21zM1721.9 1508.58h14.42v2.75h-14.42zM1724.31 1510.83h2.4v2.25h-2.4zM1729.11 1510.83h9.61v2.75h-9.61zM1697.88 1513.09h4.81v2.25h-4.81zM1731.52 1513.09h7.21v2.25h-7.21zM1625.79 1576.2h14.42v2.75h-14.42zM1642.61 1576.2h4.81v2.75h-4.81zM1630.59 1578.45h16.82v2.75h-16.82zM1630.59 1580.71h16.82v2.75h-16.82zM1630.59 1582.96h16.82v2.75h-16.82zM1630.59 1585.21h16.82v2.75h-16.82zM1632.99 1587.47h14.42v2.75h-14.42zM1635.4 1589.72h12.02v2.75h-12.02zM1635.4 1591.98h12.02v2.75h-12.02zM1632.99 1594.23h12.02v2.75h-12.02zM1630.59 1596.48h14.42v2.75h-14.42zM1635.4 1598.74h9.61v2.75h-9.61zM1637.8 1600.99h7.21v2.25h-7.21zM1637.8 1630.29h2.4v2.75h-2.4zM1637.8 1632.55h4.81v2.75h-4.81zM1637.8 1634.8h4.81v2.75h-4.81zM1640.2 1637.06h4.81v2.75h-4.81zM1642.61 1639.31h2.4v2.25h-2.4zM1652.22 1661.85h2.4v2.25h-2.4zM1743.53 1812.87h2.4v2.75h-2.4zM1743.53 1815.12h4.81v2.75h-4.81zM1743.53 1817.38h2.4v2.25h-2.4z" fill="#ff0000"/>
</g></g>
<path d="M1807.9 1222.2V1180.5H1855.5V1222.2H1807.9" fill="none" stroke="#00ff00" stroke-width="4.9" stroke-dasharray="16.23 15.43" stroke-linejoin="miter"/>
<text transform="translate(1105.3 1307.4) scale(0.977 1)" font-size="43.2" style="fill:#0000ff">NJC = 13.6%</text>
<clipPath id="ic1026"><rect x="1133.3" y="1580" width="301.2" height="279.2"/></clipPath>
<g clip-path="url(#ic1026)">
<rect x="1133.3" y="1580" width="301.2" height="279.2" fill="#595959"/>
<path d="M1304.48 1586.5h13.69v12.69h-13.69zM1249.72 1599.19h13.69v12.69h-13.69zM1263.41 1599.19h13.69v12.69h-13.69zM1359.24 1599.19h13.69v12.69h-13.69zM1359.24 1611.88h13.69v12.69h-13.69zM1167.58 1624.57h13.69v12.69h-13.69zM1249.72 1624.57h13.69v12.69h-13.69zM1345.55 1624.57h13.69v12.69h-13.69zM1153.89 1637.26h13.69v12.69h-13.69zM1167.58 1637.26h13.69v12.69h-13.69zM1372.93 1637.26h13.69v12.69h-13.69zM1181.27 1649.95h13.69v12.69h-13.69zM1304.48 1662.64h13.69v12.69h-13.69zM1331.86 1662.64h13.69v12.69h-13.69zM1345.55 1662.64h13.69v12.69h-13.69zM1414 1662.64h13.69v12.69h-13.69zM1427.69 1662.64h13.69v12.69h-13.69zM1345.55 1675.33h13.69v12.69h-13.69zM1400.31 1675.33h13.69v12.69h-13.69zM1126.51 1688.02h13.69v12.69h-13.69zM1386.62 1688.02h13.69v12.69h-13.69zM1414 1700.71h13.69v12.69h-13.69zM1277.1 1713.4h13.69v12.69h-13.69zM1304.48 1713.4h13.69v12.69h-13.69zM1427.69 1713.4h13.69v12.69h-13.69zM1153.89 1726.09h13.69v12.69h-13.69zM1386.62 1726.09h13.69v12.69h-13.69zM1400.31 1738.78h13.69v12.69h-13.69zM1153.89 1751.47h13.69v12.69h-13.69zM1126.51 1764.16h13.69v12.69h-13.69zM1126.51 1776.85h13.69v12.69h-13.69zM1167.58 1776.85h13.69v12.69h-13.69zM1222.34 1776.85h13.69v12.69h-13.69zM1236.03 1776.85h13.69v12.69h-13.69zM1427.69 1776.85h13.69v12.69h-13.69zM1290.79 1789.54h13.69v12.69h-13.69zM1167.58 1802.23h13.69v12.69h-13.69zM1222.34 1802.23h13.69v12.69h-13.69zM1359.24 1802.23h13.69v12.69h-13.69zM1427.69 1814.92h13.69v12.69h-13.69zM1277.1 1827.61h13.69v12.69h-13.69zM1427.69 1827.61h13.69v12.69h-13.69zM1318.17 1840.3h13.69v12.69h-13.69zM1290.79 1852.99h13.69v12.69h-13.69z" fill="#535353"/>
<path d="M1277.1 1586.5h13.69v12.69h-13.69zM1372.93 1586.5h13.69v12.69h-13.69zM1318.17 1624.57h13.69v12.69h-13.69zM1331.86 1637.26h13.69v12.69h-13.69zM1167.58 1649.95h13.69v12.69h-13.69zM1194.96 1649.95h13.69v12.69h-13.69zM1249.72 1649.95h13.69v12.69h-13.69zM1126.51 1662.64h13.69v12.69h-13.69zM1167.58 1662.64h13.69v12.69h-13.69zM1263.41 1675.33h13.69v12.69h-13.69zM1427.69 1675.33h13.69v12.69h-13.69zM1167.58 1688.02h13.69v12.69h-13.69zM1304.48 1688.02h13.69v12.69h-13.69zM1359.24 1688.02h13.69v12.69h-13.69zM1140.2 1700.71h13.69v12.69h-13.69zM1304.48 1700.71h13.69v12.69h-13.69zM1345.55 1700.71h13.69v12.69h-13.69zM1249.72 1713.4h13.69v12.69h-13.69zM1414 1713.4h13.69v12.69h-13.69zM1263.41 1726.09h13.69v12.69h-13.69zM1277.1 1726.09h13.69v12.69h-13.69zM1318.17 1726.09h13.69v12.69h-13.69zM1345.55 1726.09h13.69v12.69h-13.69zM1140.2 1738.78h13.69v12.69h-13.69zM1304.48 1738.78h13.69v12.69h-13.69zM1318.17 1738.78h13.69v12.69h-13.69zM1331.86 1738.78h13.69v12.69h-13.69zM1194.96 1751.47h13.69v12.69h-13.69zM1222.34 1751.47h13.69v12.69h-13.69zM1359.24 1751.47h13.69v12.69h-13.69zM1372.93 1764.16h13.69v12.69h-13.69zM1181.27 1776.85h13.69v12.69h-13.69zM1140.2 1789.54h13.69v12.69h-13.69zM1249.72 1789.54h13.69v12.69h-13.69zM1400.31 1789.54h13.69v12.69h-13.69zM1126.51 1802.23h13.69v12.69h-13.69zM1140.2 1802.23h13.69v12.69h-13.69zM1181.27 1802.23h13.69v12.69h-13.69zM1249.72 1802.23h13.69v12.69h-13.69zM1331.86 1802.23h13.69v12.69h-13.69zM1414 1802.23h13.69v12.69h-13.69zM1427.69 1802.23h13.69v12.69h-13.69zM1331.86 1814.92h13.69v12.69h-13.69zM1359.24 1814.92h13.69v12.69h-13.69zM1414 1814.92h13.69v12.69h-13.69zM1126.51 1827.61h13.69v12.69h-13.69zM1153.89 1827.61h13.69v12.69h-13.69zM1236.03 1827.61h13.69v12.69h-13.69zM1263.41 1827.61h13.69v12.69h-13.69zM1140.2 1840.3h13.69v12.69h-13.69zM1194.96 1852.99h13.69v12.69h-13.69zM1222.34 1852.99h13.69v12.69h-13.69zM1359.24 1852.99h13.69v12.69h-13.69z" fill="#545454"/>
<path d="M1414 1573.81h13.69v12.69h-13.69zM1194.96 1599.19h13.69v12.69h-13.69zM1208.65 1599.19h13.69v12.69h-13.69zM1318.17 1599.19h13.69v12.69h-13.69zM1386.62 1599.19h13.69v12.69h-13.69zM1222.34 1611.88h13.69v12.69h-13.69zM1249.72 1611.88h13.69v12.69h-13.69zM1331.86 1611.88h13.69v12.69h-13.69zM1414 1611.88h13.69v12.69h-13.69zM1277.1 1624.57h13.69v12.69h-13.69zM1194.96 1637.26h13.69v12.69h-13.69zM1222.34 1637.26h13.69v12.69h-13.69zM1345.55 1637.26h13.69v12.69h-13.69zM1126.51 1649.95h13.69v12.69h-13.69zM1386.62 1649.95h13.69v12.69h-13.69zM1331.86 1675.33h13.69v12.69h-13.69zM1126.51 1713.4h13.69v12.69h-13.69zM1318.17 1713.4h13.69v12.69h-13.69zM1208.65 1726.09h13.69v12.69h-13.69zM1359.24 1726.09h13.69v12.69h-13.69zM1222.34 1738.78h13.69v12.69h-13.69zM1386.62 1738.78h13.69v12.69h-13.69zM1167.58 1751.47h13.69v12.69h-13.69zM1181.27 1751.47h13.69v12.69h-13.69zM1249.72 1751.47h13.69v12.69h-13.69zM1153.89 1764.16h13.69v12.69h-13.69zM1236.03 1764.16h13.69v12.69h-13.69zM1345.55 1776.85h13.69v12.69h-13.69zM1359.24 1776.85h13.69v12.69h-13.69zM1126.51 1789.54h13.69v12.69h-13.69zM1359.24 1789.54h13.69v12.69h-13.69zM1277.1 1802.23h13.69v12.69h-13.69zM1126.51 1814.92h13.69v12.69h-13.69zM1400.31 1814.92h13.69v12.69h-13.69zM1167.58 1827.61h13.69v12.69h-13.69zM1222.34 1827.61h13.69v12.69h-13.69zM1386.62 1827.61h13.69v12.69h-13.69zM1400.31 1827.61h13.69v12.69h-13.69zM1222.34 1840.3h13.69v12.69h-13.69zM1167.58 1852.99h13.69v12.69h-13.69zM1345.55 1852.99h13.69v12.69h-13.69z" fill="#555555"/>
<path d="M1400.31 1573.81h13.69v12.69h-13.69zM1181.27 1599.19h13.69v12.69h-13.69zM1414 1599.19h13.69v12.69h-13.69zM1167.58 1611.88h13.69v12.69h-13.69zM1236.03 1611.88h13.69v12.69h-13.69zM1263.41 1611.88h13.69v12.69h-13.69zM1386.62 1624.57h13.69v12.69h-13.69zM1181.27 1637.26h13.69v12.69h-13.69zM1318.17 1637.26h13.69v12.69h-13.69zM1359.24 1637.26h13.69v12.69h-13.69zM1140.2 1649.95h13.69v12.69h-13.69zM1194.96 1675.33h13.69v12.69h-13.69zM1208.65 1675.33h13.69v12.69h-13.69zM1194.96 1688.02h13.69v12.69h-13.69zM1277.1 1688.02h13.69v12.69h-13.69zM1208.65 1700.71h13.69v12.69h-13.69zM1222.34 1700.71h13.69v12.69h-13.69zM1263.41 1700.71h13.69v12.69h-13.69zM1318.17 1700.71h13.69v12.69h-13.69zM1386.62 1700.71h13.69v12.69h-13.69zM1194.96 1713.4h13.69v12.69h-13.69zM1126.51 1726.09h13.69v12.69h-13.69zM1414 1726.09h13.69v12.69h-13.69zM1194.96 1738.78h13.69v12.69h-13.69zM1236.03 1738.78h13.69v12.69h-13.69zM1290.79 1738.78h13.69v12.69h-13.69zM1345.55 1738.78h13.69v12.69h-13.69zM1427.69 1738.78h13.69v12.69h-13.69zM1386.62 1751.47h13.69v12.69h-13.69zM1181.27 1764.16h13.69v12.69h-13.69zM1249.72 1764.16h13.69v12.69h-13.69zM1277.1 1776.85h13.69v12.69h-13.69zM1167.58 1789.54h13.69v12.69h-13.69zM1181.27 1789.54h13.69v12.69h-13.69zM1331.86 1789.54h13.69v12.69h-13.69zM1153.89 1802.23h13.69v12.69h-13.69zM1290.79 1802.23h13.69v12.69h-13.69zM1167.58 1814.92h13.69v12.69h-13.69zM1222.34 1814.92h13.69v12.69h-13.69zM1345.55 1814.92h13.69v12.69h-13.69zM1372.93 1814.92h13.69v12.69h-13.69zM1290.79 1840.3h13.69v12.69h-13.69zM1304.48 1840.3h13.69v12.69h-13.69zM1236.03 1852.99h13.69v12.69h-13.69z" fill="#565656"/>
<path d="M1222.34 1573.81h13.69v12.69h-13.69zM1236.03 1573.81h13.69v12.69h-13.69zM1249.72 1586.5h13.69v12.69h-13.69zM1414 1586.5h13.69v12.69h-13.69zM1236.03 1599.19h13.69v12.69h-13.69zM1304.48 1599.19h13.69v12.69h-13.69zM1153.89 1611.88h13.69v12.69h-13.69zM1181.27 1611.88h13.69v12.69h-13.69zM1208.65 1611.88h13.69v12.69h-13.69zM1126.51 1624.57h13.69v12.69h-13.69zM1208.65 1637.26h13.69v12.69h-13.69zM1263.41 1637.26h13.69v12.69h-13.69zM1427.69 1637.26h13.69v12.69h-13.69zM1263.41 1649.95h13.69v12.69h-13.69zM1277.1 1649.95h13.69v12.69h-13.69zM1290.79 1649.95h13.69v12.69h-13.69zM1318.17 1649.95h13.69v12.69h-13.69zM1331.86 1649.95h13.69v12.69h-13.69zM1263.41 1662.64h13.69v12.69h-13.69zM1400.31 1662.64h13.69v12.69h-13.69zM1153.89 1675.33h13.69v12.69h-13.69zM1181.27 1675.33h13.69v12.69h-13.69zM1222.34 1675.33h13.69v12.69h-13.69zM1290.79 1675.33h13.69v12.69h-13.69zM1304.48 1675.33h13.69v12.69h-13.69zM1359.24 1675.33h13.69v12.69h-13.69zM1372.93 1675.33h13.69v12.69h-13.69zM1153.89 1688.02h13.69v12.69h-13.69zM1126.51 1700.71h13.69v12.69h-13.69zM1181.27 1700.71h13.69v12.69h-13.69zM1249.72 1700.71h13.69v12.69h-13.69zM1277.1 1700.71h13.69v12.69h-13.69zM1331.86 1700.71h13.69v12.69h-13.69zM1236.03 1713.4h13.69v12.69h-13.69zM1236.03 1726.09h13.69v12.69h-13.69zM1290.79 1726.09h13.69v12.69h-13.69zM1208.65 1738.78h13.69v12.69h-13.69zM1277.1 1738.78h13.69v12.69h-13.69zM1372.93 1738.78h13.69v12.69h-13.69zM1414 1738.78h13.69v12.69h-13.69zM1236.03 1751.47h13.69v12.69h-13.69zM1414 1751.47h13.69v12.69h-13.69zM1194.96 1764.16h13.69v12.69h-13.69zM1208.65 1764.16h13.69v12.69h-13.69zM1331.86 1764.16h13.69v12.69h-13.69zM1427.69 1764.16h13.69v12.69h-13.69zM1263.41 1776.85h13.69v12.69h-13.69zM1400.31 1776.85h13.69v12.69h-13.69zM1318.17 1789.54h13.69v12.69h-13.69zM1372.93 1802.23h13.69v12.69h-13.69zM1140.2 1814.92h13.69v12.69h-13.69zM1208.65 1814.92h13.69v12.69h-13.69zM1249.72 1814.92h13.69v12.69h-13.69zM1249.72 1827.61h13.69v12.69h-13.69zM1372.93 1827.61h13.69v12.69h-13.69zM1153.89 1840.3h13.69v12.69h-13.69zM1372.93 1840.3h13.69v12.69h-13.69zM1263.41 1852.99h13.69v12.69h-13.69zM1318.17 1852.99h13.69v12.69h-13.69zM1414 1852.99h13.69v12.69h-13.69z" fill="#575757"/>
<path d="M1359.24 1573.81h13.69v12.69h-13.69zM1263.41 1586.5h13.69v12.69h-13.69zM1386.62 1586.5h13.69v12.69h-13.69zM1400.31 1586.5h13.69v12.69h-13.69zM1427.69 1586.5h13.69v12.69h-13.69zM1400.31 1599.19h13.69v12.69h-13.69zM1427.69 1599.19h13.69v12.69h-13.69zM1140.2 1611.88h13.69v12.69h-13.69zM1277.1 1611.88h13.69v12.69h-13.69zM1304.48 1611.88h13.69v12.69h-13.69zM1386.62 1611.88h13.69v12.69h-13.69zM1140.2 1624.57h13.69v12.69h-13.69zM1400.31 1624.57h13.69v12.69h-13.69zM1427.69 1624.57h13.69v12.69h-13.69zM1236.03 1637.26h13.69v12.69h-13.69zM1386.62 1637.26h13.69v12.69h-13.69zM1304.48 1649.95h13.69v12.69h-13.69zM1359.24 1649.95h13.69v12.69h-13.69zM1400.31 1649.95h13.69v12.69h-13.69zM1290.79 1662.64h13.69v12.69h-13.69zM1318.17 1662.64h13.69v12.69h-13.69zM1318.17 1675.33h13.69v12.69h-13.69zM1208.65 1688.02h13.69v12.69h-13.69zM1290.79 1688.02h13.69v12.69h-13.69zM1153.89 1700.71h13.69v12.69h-13.69zM1236.03 1700.71h13.69v12.69h-13.69zM1400.31 1700.71h13.69v12.69h-13.69zM1140.2 1713.4h13.69v12.69h-13.69zM1153.89 1713.4h13.69v12.69h-13.69zM1181.27 1713.4h13.69v12.69h-13.69zM1359.24 1713.4h13.69v12.69h-13.69zM1386.62 1713.4h13.69v12.69h-13.69zM1400.31 1713.4h13.69v12.69h-13.69zM1167.58 1726.09h13.69v12.69h-13.69zM1372.93 1726.09h13.69v12.69h-13.69zM1126.51 1738.78h13.69v12.69h-13.69zM1400.31 1751.47h13.69v12.69h-13.69zM1263.41 1764.16h13.69v12.69h-13.69zM1400.31 1764.16h13.69v12.69h-13.69zM1140.2 1776.85h13.69v12.69h-13.69zM1208.65 1789.54h13.69v12.69h-13.69zM1277.1 1789.54h13.69v12.69h-13.69zM1194.96 1802.23h13.69v12.69h-13.69zM1386.62 1802.23h13.69v12.69h-13.69zM1400.31 1802.23h13.69v12.69h-13.69zM1181.27 1814.92h13.69v12.69h-13.69zM1236.03 1814.92h13.69v12.69h-13.69zM1181.27 1827.61h13.69v12.69h-13.69zM1331.86 1827.61h13.69v12.69h-13.69zM1249.72 1840.3h13.69v12.69h-13.69zM1331.86 1840.3h13.69v12.69h-13.69zM1359.24 1840.3h13.69v12.69h-13.69zM1386.62 1840.3h13.69v12.69h-13.69zM1208.65 1852.99h13.69v12.69h-13.69zM1386.62 1852.99h13.69v12.69h-13.69zM1400.31 1852.99h13.69v12.69h-13.69z" fill="#585858"/>
<path d="M1208.65 1573.81h13.69v12.69h-13.69zM1277.1 1573.81h13.69v12.69h-13.69zM1126.51 1599.19h13.69v12.69h-13.69zM1222.34 1599.19h13.69v12.69h-13.69zM1372.93 1599.19h13.69v12.69h-13.69zM1400.31 1611.88h13.69v12.69h-13.69zM1181.27 1624.57h13.69v12.69h-13.69zM1222.34 1624.57h13.69v12.69h-13.69zM1236.03 1624.57h13.69v12.69h-13.69zM1263.41 1624.57h13.69v12.69h-13.69zM1140.2 1637.26h13.69v12.69h-13.69zM1414 1649.95h13.69v12.69h-13.69zM1140.2 1662.64h13.69v12.69h-13.69zM1277.1 1662.64h13.69v12.69h-13.69zM1167.58 1675.33h13.69v12.69h-13.69zM1249.72 1675.33h13.69v12.69h-13.69zM1414 1675.33h13.69v12.69h-13.69zM1222.34 1688.02h13.69v12.69h-13.69zM1194.96 1700.71h13.69v12.69h-13.69zM1167.58 1713.4h13.69v12.69h-13.69zM1140.2 1726.09h13.69v12.69h-13.69zM1181.27 1726.09h13.69v12.69h-13.69zM1400.31 1726.09h13.69v12.69h-13.69zM1249.72 1738.78h13.69v12.69h-13.69zM1208.65 1751.47h13.69v12.69h-13.69zM1331.86 1751.47h13.69v12.69h-13.69zM1345.55 1751.47h13.69v12.69h-13.69zM1140.2 1764.16h13.69v12.69h-13.69zM1167.58 1764.16h13.69v12.69h-13.69zM1277.1 1764.16h13.69v12.69h-13.69zM1345.55 1764.16h13.69v12.69h-13.69zM1153.89 1776.85h13.69v12.69h-13.69zM1249.72 1776.85h13.69v12.69h-13.69zM1318.17 1776.85h13.69v12.69h-13.69zM1331.86 1776.85h13.69v12.69h-13.69zM1153.89 1789.54h13.69v12.69h-13.69zM1236.03 1789.54h13.69v12.69h-13.69zM1372.93 1789.54h13.69v12.69h-13.69zM1208.65 1802.23h13.69v12.69h-13.69zM1153.89 1814.92h13.69v12.69h-13.69zM1194.96 1814.92h13.69v12.69h-13.69zM1386.62 1814.92h13.69v12.69h-13.69zM1140.2 1827.61h13.69v12.69h-13.69zM1208.65 1827.61h13.69v12.69h-13.69zM1290.79 1827.61h13.69v12.69h-13.69zM1167.58 1840.3h13.69v12.69h-13.69zM1194.96 1840.3h13.69v12.69h-13.69zM1414 1840.3h13.69v12.69h-13.69zM1304.48 1852.99h13.69v12.69h-13.69zM1372.93 1852.99h13.69v12.69h-13.69z" fill="#595959"/>
<path d="M1126.51 1573.81h13.69v12.69h-13.69zM1249.72 1573.81h13.69v12.69h-13.69zM1222.34 1586.5h13.69v12.69h-13.69zM1290.79 1599.19h13.69v12.69h-13.69zM1194.96 1611.88h13.69v12.69h-13.69zM1318.17 1611.88h13.69v12.69h-13.69zM1345.55 1611.88h13.69v12.69h-13.69zM1427.69 1611.88h13.69v12.69h-13.69zM1153.89 1624.57h13.69v12.69h-13.69zM1331.86 1624.57h13.69v12.69h-13.69zM1372.93 1624.57h13.69v12.69h-13.69zM1290.79 1637.26h13.69v12.69h-13.69zM1304.48 1637.26h13.69v12.69h-13.69zM1400.31 1637.26h13.69v12.69h-13.69zM1427.69 1649.95h13.69v12.69h-13.69zM1236.03 1662.64h13.69v12.69h-13.69zM1277.1 1675.33h13.69v12.69h-13.69zM1386.62 1675.33h13.69v12.69h-13.69zM1181.27 1688.02h13.69v12.69h-13.69zM1249.72 1688.02h13.69v12.69h-13.69zM1263.41 1688.02h13.69v12.69h-13.69zM1372.93 1688.02h13.69v12.69h-13.69zM1167.58 1700.71h13.69v12.69h-13.69zM1359.24 1700.71h13.69v12.69h-13.69zM1208.65 1713.4h13.69v12.69h-13.69zM1222.34 1713.4h13.69v12.69h-13.69zM1263.41 1713.4h13.69v12.69h-13.69zM1222.34 1726.09h13.69v12.69h-13.69zM1167.58 1738.78h13.69v12.69h-13.69zM1263.41 1738.78h13.69v12.69h-13.69zM1126.51 1751.47h13.69v12.69h-13.69zM1140.2 1751.47h13.69v12.69h-13.69zM1263.41 1751.47h13.69v12.69h-13.69zM1372.93 1751.47h13.69v12.69h-13.69zM1222.34 1764.16h13.69v12.69h-13.69zM1194.96 1776.85h13.69v12.69h-13.69zM1414 1776.85h13.69v12.69h-13.69zM1194.96 1789.54h13.69v12.69h-13.69zM1386.62 1789.54h13.69v12.69h-13.69zM1236.03 1802.23h13.69v12.69h-13.69zM1263.41 1802.23h13.69v12.69h-13.69zM1318.17 1802.23h13.69v12.69h-13.69zM1345.55 1802.23h13.69v12.69h-13.69zM1263.41 1814.92h13.69v12.69h-13.69zM1277.1 1814.92h13.69v12.69h-13.69zM1304.48 1814.92h13.69v12.69h-13.69zM1359.24 1827.61h13.69v12.69h-13.69zM1181.27 1840.3h13.69v12.69h-13.69zM1208.65 1840.3h13.69v12.69h-13.69zM1236.03 1840.3h13.69v12.69h-13.69zM1140.2 1852.99h13.69v12.69h-13.69zM1153.89 1852.99h13.69v12.69h-13.69z" fill="#5a5a5a"/>
<path d="M1263.41 1573.81h13.69v12.69h-13.69zM1372.93 1573.81h13.69v12.69h-13.69zM1359.24 1586.5h13.69v12.69h-13.69zM1372.93 1611.88h13.69v12.69h-13.69zM1194.96 1624.57h13.69v12.69h-13.69zM1290.79 1624.57h13.69v12.69h-13.69zM1304.48 1624.57h13.69v12.69h-13.69zM1359.24 1624.57h13.69v12.69h-13.69zM1126.51 1637.26h13.69v12.69h-13.69zM1277.1 1637.26h13.69v12.69h-13.69zM1153.89 1649.95h13.69v12.69h-13.69zM1222.34 1649.95h13.69v12.69h-13.69zM1236.03 1649.95h13.69v12.69h-13.69zM1345.55 1649.95h13.69v12.69h-13.69zM1222.34 1662.64h13.69v12.69h-13.69zM1249.72 1662.64h13.69v12.69h-13.69zM1359.24 1662.64h13.69v12.69h-13.69zM1126.51 1675.33h13.69v12.69h-13.69zM1236.03 1675.33h13.69v12.69h-13.69zM1236.03 1688.02h13.69v12.69h-13.69zM1331.86 1688.02h13.69v12.69h-13.69zM1400.31 1688.02h13.69v12.69h-13.69zM1414 1688.02h13.69v12.69h-13.69zM1427.69 1688.02h13.69v12.69h-13.69zM1372.93 1700.71h13.69v12.69h-13.69zM1290.79 1713.4h13.69v12.69h-13.69zM1331.86 1713.4h13.69v12.69h-13.69zM1194.96 1726.09h13.69v12.69h-13.69zM1249.72 1726.09h13.69v12.69h-13.69zM1304.48 1726.09h13.69v12.69h-13.69zM1427.69 1726.09h13.69v12.69h-13.69zM1277.1 1751.47h13.69v12.69h-13.69zM1359.24 1764.16h13.69v12.69h-13.69zM1386.62 1764.16h13.69v12.69h-13.69zM1372.93 1776.85h13.69v12.69h-13.69zM1222.34 1789.54h13.69v12.69h-13.69zM1414 1789.54h13.69v12.69h-13.69zM1427.69 1789.54h13.69v12.69h-13.69zM1304.48 1802.23h13.69v12.69h-13.69zM1304.48 1827.61h13.69v12.69h-13.69zM1318.17 1827.61h13.69v12.69h-13.69zM1126.51 1840.3h13.69v12.69h-13.69zM1263.41 1840.3h13.69v12.69h-13.69zM1277.1 1852.99h13.69v12.69h-13.69zM1427.69 1852.99h13.69v12.69h-13.69z" fill="#5b5b5b"/>
<path d="M1290.79 1573.81h13.69v12.69h-13.69zM1304.48 1573.81h13.69v12.69h-13.69zM1386.62 1573.81h13.69v12.69h-13.69zM1427.69 1573.81h13.69v12.69h-13.69zM1126.51 1586.5h13.69v12.69h-13.69zM1208.65 1586.5h13.69v12.69h-13.69zM1236.03 1586.5h13.69v12.69h-13.69zM1290.79 1586.5h13.69v12.69h-13.69zM1277.1 1599.19h13.69v12.69h-13.69zM1126.51 1611.88h13.69v12.69h-13.69zM1290.79 1611.88h13.69v12.69h-13.69zM1208.65 1624.57h13.69v12.69h-13.69zM1414 1624.57h13.69v12.69h-13.69zM1249.72 1637.26h13.69v12.69h-13.69zM1414 1637.26h13.69v12.69h-13.69zM1208.65 1649.95h13.69v12.69h-13.69zM1372.93 1649.95h13.69v12.69h-13.69zM1153.89 1662.64h13.69v12.69h-13.69zM1181.27 1662.64h13.69v12.69h-13.69zM1194.96 1662.64h13.69v12.69h-13.69zM1208.65 1662.64h13.69v12.69h-13.69zM1372.93 1662.64h13.69v12.69h-13.69zM1386.62 1662.64h13.69v12.69h-13.69zM1140.2 1675.33h13.69v12.69h-13.69zM1140.2 1688.02h13.69v12.69h-13.69zM1318.17 1688.02h13.69v12.69h-13.69zM1345.55 1688.02h13.69v12.69h-13.69zM1290.79 1700.71h13.69v12.69h-13.69zM1427.69 1700.71h13.69v12.69h-13.69zM1345.55 1713.4h13.69v12.69h-13.69zM1372.93 1713.4h13.69v12.69h-13.69zM1331.86 1726.09h13.69v12.69h-13.69zM1153.89 1738.78h13.69v12.69h-13.69zM1181.27 1738.78h13.69v12.69h-13.69zM1359.24 1738.78h13.69v12.69h-13.69zM1427.69 1751.47h13.69v12.69h-13.69zM1414 1764.16h13.69v12.69h-13.69zM1208.65 1776.85h13.69v12.69h-13.69zM1386.62 1776.85h13.69v12.69h-13.69zM1263.41 1789.54h13.69v12.69h-13.69zM1304.48 1789.54h13.69v12.69h-13.69zM1345.55 1789.54h13.69v12.69h-13.69zM1290.79 1814.92h13.69v12.69h-13.69zM1318.17 1814.92h13.69v12.69h-13.69zM1194.96 1827.61h13.69v12.69h-13.69zM1345.55 1827.61h13.69v12.69h-13.69zM1414 1827.61h13.69v12.69h-13.69zM1277.1 1840.3h13.69v12.69h-13.69zM1345.55 1840.3h13.69v12.69h-13.69zM1400.31 1840.3h13.69v12.69h-13.69zM1427.69 1840.3h13.69v12.69h-13.69zM1126.51 1852.99h13.69v12.69h-13.69zM1181.27 1852.99h13.69v12.69h-13.69zM1249.72 1852.99h13.69v12.69h-13.69zM1331.86 1852.99h13.69v12.69h-13.69z" fill="#5c5c5c"/>
<path d="M1140.2 1599.19h13.69v12.69h-13.69zM1290.79 1776.85h13.69v12.69h-13.69z" fill="#606060"/>
<path d="M1345.55 1599.19h13.69v12.69h-13.69zM1304.48 1776.85h13.69v12.69h-13.69z" fill="#646464"/>
<path d="M1167.58 1599.19h13.69v12.69h-13.69zM1290.79 1751.47h13.69v12.69h-13.69zM1318.17 1764.16h13.69v12.69h-13.69z" fill="#666666"/>
<path d="M1140.2 1573.81h13.69v12.69h-13.69zM1194.96 1586.5h13.69v12.69h-13.69zM1153.89 1599.19h13.69v12.69h-13.69zM1331.86 1599.19h13.69v12.69h-13.69zM1290.79 1764.16h13.69v12.69h-13.69z" fill="#686868"/>
<path d="M1318.17 1573.81h13.69v12.69h-13.69zM1140.2 1586.5h13.69v12.69h-13.69zM1318.17 1751.47h13.69v12.69h-13.69z" fill="#6c6c6c"/>
<path d="M1194.96 1573.81h13.69v12.69h-13.69zM1318.17 1586.5h13.69v12.69h-13.69zM1304.48 1764.16h13.69v12.69h-13.69z" fill="#707070"/>
<path d="M1304.48 1751.47h13.69v12.69h-13.69z" fill="#747474"/>
<path d="M1345.55 1573.81h13.69v12.69h-13.69zM1345.55 1586.5h13.69v12.69h-13.69z" fill="#787878"/>
<path d="M1153.89 1573.81h13.69v12.69h-13.69zM1331.86 1573.81h13.69v12.69h-13.69zM1153.89 1586.5h13.69v12.69h-13.69zM1181.27 1586.5h13.69v12.69h-13.69z" fill="#808080"/>
<path d="M1167.58 1586.5h13.69v12.69h-13.69zM1331.86 1586.5h13.69v12.69h-13.69z" fill="#848484"/>
<path d="M1167.58 1573.81h13.69v12.69h-13.69z" fill="#888888"/>
<path d="M1181.27 1573.81h13.69v12.69h-13.69z" fill="#8c8c8c"/>
<path d="M1140.2 1580V1859.2M1133.3 1586.5H1434.5M1153.89 1580V1859.2M1133.3 1599.19H1434.5M1167.58 1580V1859.2M1133.3 1611.88H1434.5M1181.27 1580V1859.2M1133.3 1624.57H1434.5M1194.96 1580V1859.2M1133.3 1637.26H1434.5M1208.65 1580V1859.2M1133.3 1649.95H1434.5M1222.34 1580V1859.2M1133.3 1662.64H1434.5M1236.03 1580V1859.2M1133.3 1675.33H1434.5M1249.72 1580V1859.2M1133.3 1688.02H1434.5M1263.41 1580V1859.2M1133.3 1700.71H1434.5M1277.1 1580V1859.2M1133.3 1713.4H1434.5M1290.79 1580V1859.2M1133.3 1726.09H1434.5M1304.48 1580V1859.2M1133.3 1738.78H1434.5M1318.17 1580V1859.2M1133.3 1751.47H1434.5M1331.86 1580V1859.2M1133.3 1764.16H1434.5M1345.55 1580V1859.2M1133.3 1776.85H1434.5M1359.24 1580V1859.2M1133.3 1789.54H1434.5M1372.93 1580V1859.2M1133.3 1802.23H1434.5M1386.62 1580V1859.2M1133.3 1814.92H1434.5M1400.31 1580V1859.2M1133.3 1827.61H1434.5M1414 1580V1859.2M1133.3 1840.3H1434.5M1427.69 1580V1859.2M1133.3 1852.99H1434.5" fill="none" stroke="#fff" stroke-opacity="0.22" stroke-width="1"/>
<path d="M1386.62 1573.81h13.69v12.69h-13.69zM1400.31 1573.81h13.69v12.69h-13.69zM1414 1573.81h13.69v12.69h-13.69zM1427.69 1573.81h13.69v12.69h-13.69zM1277.1 1611.88h13.69v12.69h-13.69zM1290.79 1611.88h13.69v12.69h-13.69zM1277.1 1624.57h13.69v12.69h-13.69zM1290.79 1624.57h13.69v12.69h-13.69zM1304.48 1624.57h13.69v12.69h-13.69zM1318.17 1624.57h13.69v12.69h-13.69zM1331.86 1624.57h13.69v12.69h-13.69zM1372.93 1624.57h13.69v12.69h-13.69zM1386.62 1624.57h13.69v12.69h-13.69zM1263.41 1637.26h13.69v12.69h-13.69zM1277.1 1637.26h13.69v12.69h-13.69zM1290.79 1637.26h13.69v12.69h-13.69zM1304.48 1637.26h13.69v12.69h-13.69zM1318.17 1637.26h13.69v12.69h-13.69zM1331.86 1637.26h13.69v12.69h-13.69zM1345.55 1637.26h13.69v12.69h-13.69zM1359.24 1637.26h13.69v12.69h-13.69zM1372.93 1637.26h13.69v12.69h-13.69zM1386.62 1637.26h13.69v12.69h-13.69zM1400.31 1637.26h13.69v12.69h-13.69zM1249.72 1649.95h13.69v12.69h-13.69zM1263.41 1649.95h13.69v12.69h-13.69zM1277.1 1649.95h13.69v12.69h-13.69zM1290.79 1649.95h13.69v12.69h-13.69zM1304.48 1649.95h13.69v12.69h-13.69zM1318.17 1649.95h13.69v12.69h-13.69zM1331.86 1649.95h13.69v12.69h-13.69zM1345.55 1649.95h13.69v12.69h-13.69zM1359.24 1649.95h13.69v12.69h-13.69zM1372.93 1649.95h13.69v12.69h-13.69zM1386.62 1649.95h13.69v12.69h-13.69zM1236.03 1662.64h13.69v12.69h-13.69zM1249.72 1662.64h13.69v12.69h-13.69zM1263.41 1662.64h13.69v12.69h-13.69zM1277.1 1662.64h13.69v12.69h-13.69zM1290.79 1662.64h13.69v12.69h-13.69zM1304.48 1662.64h13.69v12.69h-13.69zM1318.17 1662.64h13.69v12.69h-13.69zM1331.86 1662.64h13.69v12.69h-13.69zM1345.55 1662.64h13.69v12.69h-13.69zM1359.24 1662.64h13.69v12.69h-13.69zM1372.93 1662.64h13.69v12.69h-13.69zM1236.03 1675.33h13.69v12.69h-13.69zM1249.72 1675.33h13.69v12.69h-13.69zM1263.41 1675.33h13.69v12.69h-13.69zM1277.1 1675.33h13.69v12.69h-13.69zM1290.79 1675.33h13.69v12.69h-13.69zM1304.48 1675.33h13.69v12.69h-13.69zM1318.17 1675.33h13.69v12.69h-13.69zM1331.86 1675.33h13.69v12.69h-13.69zM1345.55 1675.33h13.69v12.69h-13.69zM1359.24 1675.33h13.69v12.69h-13.69zM1372.93 1675.33h13.69v12.69h-13.69zM1222.34 1688.02h13.69v12.69h-13.69zM1236.03 1688.02h13.69v12.69h-13.69zM1249.72 1688.02h13.69v12.69h-13.69zM1263.41 1688.02h13.69v12.69h-13.69zM1277.1 1688.02h13.69v12.69h-13.69zM1290.79 1688.02h13.69v12.69h-13.69zM1304.48 1688.02h13.69v12.69h-13.69zM1318.17 1688.02h13.69v12.69h-13.69zM1331.86 1688.02h13.69v12.69h-13.69zM1345.55 1688.02h13.69v12.69h-13.69zM1359.24 1688.02h13.69v12.69h-13.69zM1372.93 1688.02h13.69v12.69h-13.69zM1194.96 1700.71h13.69v12.69h-13.69zM1208.65 1700.71h13.69v12.69h-13.69zM1249.72 1700.71h13.69v12.69h-13.69zM1263.41 1700.71h13.69v12.69h-13.69zM1277.1 1700.71h13.69v12.69h-13.69zM1290.79 1700.71h13.69v12.69h-13.69zM1304.48 1700.71h13.69v12.69h-13.69zM1318.17 1700.71h13.69v12.69h-13.69zM1331.86 1700.71h13.69v12.69h-13.69zM1345.55 1700.71h13.69v12.69h-13.69zM1359.24 1700.71h13.69v12.69h-13.69zM1181.27 1713.4h13.69v12.69h-13.69zM1194.96 1713.4h13.69v12.69h-13.69zM1249.72 1713.4h13.69v12.69h-13.69zM1263.41 1713.4h13.69v12.69h-13.69zM1277.1 1713.4h13.69v12.69h-13.69zM1290.79 1713.4h13.69v12.69h-13.69zM1304.48 1713.4h13.69v12.69h-13.69zM1318.17 1713.4h13.69v12.69h-13.69zM1331.86 1713.4h13.69v12.69h-13.69zM1345.55 1713.4h13.69v12.69h-13.69zM1249.72 1726.09h13.69v12.69h-13.69zM1263.41 1726.09h13.69v12.69h-13.69zM1277.1 1726.09h13.69v12.69h-13.69zM1290.79 1726.09h13.69v12.69h-13.69zM1236.03 1738.78h13.69v12.69h-13.69zM1249.72 1738.78h13.69v12.69h-13.69zM1263.41 1738.78h13.69v12.69h-13.69zM1277.1 1738.78h13.69v12.69h-13.69zM1222.34 1751.47h13.69v12.69h-13.69zM1236.03 1751.47h13.69v12.69h-13.69zM1249.72 1751.47h13.69v12.69h-13.69zM1263.41 1751.47h13.69v12.69h-13.69zM1222.34 1764.16h13.69v12.69h-13.69zM1236.03 1764.16h13.69v12.69h-13.69zM1249.72 1764.16h13.69v12.69h-13.69zM1222.34 1776.85h13.69v12.69h-13.69zM1236.03 1776.85h13.69v12.69h-13.69zM1331.86 1776.85h13.69v12.69h-13.69zM1194.96 1789.54h13.69v12.69h-13.69zM1318.17 1789.54h13.69v12.69h-13.69zM1331.86 1789.54h13.69v12.69h-13.69zM1318.17 1802.23h13.69v12.69h-13.69zM1331.86 1802.23h13.69v12.69h-13.69zM1304.48 1827.61h13.69v12.69h-13.69zM1318.17 1827.61h13.69v12.69h-13.69zM1304.48 1840.3h13.69v12.69h-13.69z" fill="#ff0000"/>
<path d="M1398.21 1578.06h4.2v4.2h-4.2zM1411.9 1578.06h4.2v4.2h-4.2zM1425.59 1578.06h4.2v4.2h-4.2zM1288.69 1616.12h4.2v4.2h-4.2zM1281.85 1622.47h4.2v4.2h-4.2zM1295.54 1622.47h4.2v4.2h-4.2zM1288.69 1628.82h4.2v4.2h-4.2zM1281.85 1635.16h4.2v4.2h-4.2zM1302.38 1628.82h4.2v4.2h-4.2zM1295.54 1635.16h4.2v4.2h-4.2zM1316.07 1628.82h4.2v4.2h-4.2zM1309.23 1635.16h4.2v4.2h-4.2zM1329.76 1628.82h4.2v4.2h-4.2zM1322.92 1635.16h4.2v4.2h-4.2zM1336.61 1635.16h4.2v4.2h-4.2zM1384.52 1628.82h4.2v4.2h-4.2zM1377.68 1635.16h4.2v4.2h-4.2zM1391.37 1635.16h4.2v4.2h-4.2zM1275 1641.51h4.2v4.2h-4.2zM1268.16 1647.85h4.2v4.2h-4.2zM1288.69 1641.51h4.2v4.2h-4.2zM1281.85 1647.85h4.2v4.2h-4.2zM1302.38 1641.51h4.2v4.2h-4.2zM1295.54 1647.85h4.2v4.2h-4.2zM1316.07 1641.51h4.2v4.2h-4.2zM1309.23 1647.85h4.2v4.2h-4.2zM1329.76 1641.51h4.2v4.2h-4.2zM1322.92 1647.85h4.2v4.2h-4.2zM1343.45 1641.51h4.2v4.2h-4.2zM1336.61 1647.85h4.2v4.2h-4.2zM1357.14 1641.51h4.2v4.2h-4.2zM1350.3 1647.85h4.2v4.2h-4.2zM1370.83 1641.51h4.2v4.2h-4.2zM1363.99 1647.85h4.2v4.2h-4.2zM1384.52 1641.51h4.2v4.2h-4.2zM1377.68 1647.85h4.2v4.2h-4.2zM1398.21 1641.51h4.2v4.2h-4.2zM1391.37 1647.85h4.2v4.2h-4.2zM1261.31 1654.2h4.2v4.2h-4.2zM1254.47 1660.54h4.2v4.2h-4.2zM1275 1654.2h4.2v4.2h-4.2zM1268.16 1660.54h4.2v4.2h-4.2zM1288.69 1654.2h4.2v4.2h-4.2zM1281.85 1660.54h4.2v4.2h-4.2zM1302.38 1654.2h4.2v4.2h-4.2zM1295.54 1660.54h4.2v4.2h-4.2zM1316.07 1654.2h4.2v4.2h-4.2zM1309.23 1660.54h4.2v4.2h-4.2zM1329.76 1654.2h4.2v4.2h-4.2zM1322.92 1660.54h4.2v4.2h-4.2zM1343.45 1654.2h4.2v4.2h-4.2zM1336.61 1660.54h4.2v4.2h-4.2zM1357.14 1654.2h4.2v4.2h-4.2zM1350.3 1660.54h4.2v4.2h-4.2zM1370.83 1654.2h4.2v4.2h-4.2zM1363.99 1660.54h4.2v4.2h-4.2zM1384.52 1654.2h4.2v4.2h-4.2zM1377.68 1660.54h4.2v4.2h-4.2zM1247.62 1666.88h4.2v4.2h-4.2zM1240.78 1673.23h4.2v4.2h-4.2zM1261.31 1666.88h4.2v4.2h-4.2zM1254.47 1673.23h4.2v4.2h-4.2zM1275 1666.88h4.2v4.2h-4.2zM1268.16 1673.23h4.2v4.2h-4.2zM1288.69 1666.88h4.2v4.2h-4.2zM1281.85 1673.23h4.2v4.2h-4.2zM1302.38 1666.88h4.2v4.2h-4.2zM1295.54 1673.23h4.2v4.2h-4.2zM1316.07 1666.88h4.2v4.2h-4.2zM1309.23 1673.23h4.2v4.2h-4.2zM1329.76 1666.88h4.2v4.2h-4.2zM1322.92 1673.23h4.2v4.2h-4.2zM1343.45 1666.88h4.2v4.2h-4.2zM1336.61 1673.23h4.2v4.2h-4.2zM1357.14 1666.88h4.2v4.2h-4.2zM1350.3 1673.23h4.2v4.2h-4.2zM1370.83 1666.88h4.2v4.2h-4.2zM1363.99 1673.23h4.2v4.2h-4.2zM1377.68 1673.23h4.2v4.2h-4.2zM1247.62 1679.58h4.2v4.2h-4.2zM1240.78 1685.92h4.2v4.2h-4.2zM1261.31 1679.58h4.2v4.2h-4.2zM1254.47 1685.92h4.2v4.2h-4.2zM1275 1679.58h4.2v4.2h-4.2zM1268.16 1685.92h4.2v4.2h-4.2zM1288.69 1679.58h4.2v4.2h-4.2zM1281.85 1685.92h4.2v4.2h-4.2zM1302.38 1679.58h4.2v4.2h-4.2zM1295.54 1685.92h4.2v4.2h-4.2zM1316.07 1679.58h4.2v4.2h-4.2zM1309.23 1685.92h4.2v4.2h-4.2zM1329.76 1679.58h4.2v4.2h-4.2zM1322.92 1685.92h4.2v4.2h-4.2zM1343.45 1679.58h4.2v4.2h-4.2zM1336.61 1685.92h4.2v4.2h-4.2zM1357.14 1679.58h4.2v4.2h-4.2zM1350.3 1685.92h4.2v4.2h-4.2zM1370.83 1679.58h4.2v4.2h-4.2zM1363.99 1685.92h4.2v4.2h-4.2zM1377.68 1685.92h4.2v4.2h-4.2zM1233.93 1692.27h4.2v4.2h-4.2zM1247.62 1692.27h4.2v4.2h-4.2zM1261.31 1692.27h4.2v4.2h-4.2zM1254.47 1698.61h4.2v4.2h-4.2zM1275 1692.27h4.2v4.2h-4.2zM1268.16 1698.61h4.2v4.2h-4.2zM1288.69 1692.27h4.2v4.2h-4.2zM1281.85 1698.61h4.2v4.2h-4.2zM1302.38 1692.27h4.2v4.2h-4.2zM1295.54 1698.61h4.2v4.2h-4.2zM1316.07 1692.27h4.2v4.2h-4.2zM1309.23 1698.61h4.2v4.2h-4.2zM1329.76 1692.27h4.2v4.2h-4.2zM1322.92 1698.61h4.2v4.2h-4.2zM1343.45 1692.27h4.2v4.2h-4.2zM1336.61 1698.61h4.2v4.2h-4.2zM1357.14 1692.27h4.2v4.2h-4.2zM1350.3 1698.61h4.2v4.2h-4.2zM1370.83 1692.27h4.2v4.2h-4.2zM1363.99 1698.61h4.2v4.2h-4.2zM1206.55 1704.96h4.2v4.2h-4.2zM1199.71 1711.3h4.2v4.2h-4.2zM1261.31 1704.96h4.2v4.2h-4.2zM1254.47 1711.3h4.2v4.2h-4.2zM1275 1704.96h4.2v4.2h-4.2zM1268.16 1711.3h4.2v4.2h-4.2zM1288.69 1704.96h4.2v4.2h-4.2zM1281.85 1711.3h4.2v4.2h-4.2zM1302.38 1704.96h4.2v4.2h-4.2zM1295.54 1711.3h4.2v4.2h-4.2zM1316.07 1704.96h4.2v4.2h-4.2zM1309.23 1711.3h4.2v4.2h-4.2zM1329.76 1704.96h4.2v4.2h-4.2zM1322.92 1711.3h4.2v4.2h-4.2zM1343.45 1704.96h4.2v4.2h-4.2zM1336.61 1711.3h4.2v4.2h-4.2zM1357.14 1704.96h4.2v4.2h-4.2zM1350.3 1711.3h4.2v4.2h-4.2zM1192.86 1717.64h4.2v4.2h-4.2zM1261.31 1717.64h4.2v4.2h-4.2zM1254.47 1723.99h4.2v4.2h-4.2zM1275 1717.64h4.2v4.2h-4.2zM1268.16 1723.99h4.2v4.2h-4.2zM1288.69 1717.64h4.2v4.2h-4.2zM1281.85 1723.99h4.2v4.2h-4.2zM1302.38 1717.64h4.2v4.2h-4.2zM1295.54 1723.99h4.2v4.2h-4.2zM1316.07 1717.64h4.2v4.2h-4.2zM1329.76 1717.64h4.2v4.2h-4.2zM1343.45 1717.64h4.2v4.2h-4.2zM1261.31 1730.34h4.2v4.2h-4.2zM1254.47 1736.68h4.2v4.2h-4.2zM1275 1730.34h4.2v4.2h-4.2zM1268.16 1736.68h4.2v4.2h-4.2zM1288.69 1730.34h4.2v4.2h-4.2zM1281.85 1736.68h4.2v4.2h-4.2zM1247.62 1743.03h4.2v4.2h-4.2zM1240.78 1749.37h4.2v4.2h-4.2zM1261.31 1743.03h4.2v4.2h-4.2zM1254.47 1749.37h4.2v4.2h-4.2zM1275 1743.03h4.2v4.2h-4.2zM1268.16 1749.37h4.2v4.2h-4.2zM1233.93 1755.72h4.2v4.2h-4.2zM1227.09 1762.06h4.2v4.2h-4.2zM1247.62 1755.72h4.2v4.2h-4.2zM1240.78 1762.06h4.2v4.2h-4.2zM1261.31 1755.72h4.2v4.2h-4.2zM1254.47 1762.06h4.2v4.2h-4.2zM1233.93 1768.41h4.2v4.2h-4.2zM1227.09 1774.75h4.2v4.2h-4.2zM1247.62 1768.41h4.2v4.2h-4.2zM1240.78 1774.75h4.2v4.2h-4.2zM1233.93 1781.1h4.2v4.2h-4.2zM1336.61 1787.44h4.2v4.2h-4.2zM1329.76 1793.79h4.2v4.2h-4.2zM1322.92 1800.13h4.2v4.2h-4.2zM1336.61 1800.13h4.2v4.2h-4.2zM1329.76 1806.48h4.2v4.2h-4.2zM1316.07 1831.86h4.2v4.2h-4.2zM1309.23 1838.2h4.2v4.2h-4.2z" fill="#ffff00"/>
</g>
<rect x="1145.35" y="1859.5" width="3.4" height="8.6" fill="#333"/>
<rect x="1124.4" y="1591.14" width="8.6" height="3.4" fill="#333"/>
<rect x="1213.8" y="1859.5" width="3.4" height="8.6" fill="#333"/>
<rect x="1124.4" y="1654.6" width="8.6" height="3.4" fill="#333"/>
<rect x="1282.25" y="1859.5" width="3.4" height="8.6" fill="#333"/>
<rect x="1124.4" y="1718.04" width="8.6" height="3.4" fill="#333"/>
<rect x="1350.69" y="1859.5" width="3.4" height="8.6" fill="#333"/>
<rect x="1124.4" y="1781.49" width="8.6" height="3.4" fill="#333"/>
<rect x="1419.14" y="1859.5" width="3.4" height="8.6" fill="#333"/>
<rect x="1124.4" y="1844.94" width="8.6" height="3.4" fill="#333"/>
<path d="M1133.3 1580V1859.2H1434.5" fill="none" stroke="#000" stroke-width="3.5" stroke-linejoin="round"/>
<path d="M1105.5 1887V1561H1452.7V1887H1105.5" fill="none" stroke="#00ff00" stroke-width="4.7" stroke-dasharray="16.23 15.43" stroke-linejoin="miter"/>
<rect x="1035.65" y="1153" width="8.7" height="3.4" fill="#333"/>
<rect x="1035.65" y="1378.4" width="8.7" height="3.4" fill="#333"/>
<rect x="1035.65" y="1603.8" width="8.7" height="3.4" fill="#333"/>
<rect x="1035.65" y="1829.2" width="8.7" height="3.4" fill="#333"/>
<rect x="1155.5" y="1944.05" width="3.4" height="8.7" fill="#333"/>
<rect x="1395.9" y="1944.05" width="3.4" height="8.7" fill="#333"/>
<rect x="1636.3" y="1944.05" width="3.4" height="8.7" fill="#333"/>
<rect x="1876.7" y="1944.05" width="3.4" height="8.7" fill="#333"/>
<path d="M1044.6 1048.5V1943.8H1999.8" fill="none" stroke="#000" stroke-width="3.5" stroke-linejoin="round"/></g>
</svg></body></html>
